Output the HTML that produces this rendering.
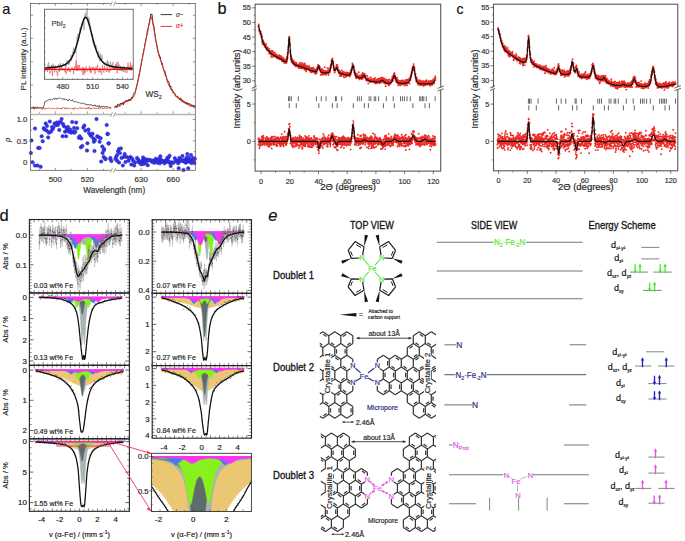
<!DOCTYPE html>
<html><head><meta charset="utf-8"><style>
html,body{margin:0;padding:0;background:#fff;width:685px;height:541px;overflow:hidden}
svg{display:block;font-family:"Liberation Sans", sans-serif}
</style></head><body>
<svg width="685" height="541" viewBox="0 0 685 541">
<rect width="685" height="541" fill="#fff"/>
<text x="2.2" y="13.9" font-size="14.5" text-anchor="start" fill="#111" stroke="#111" stroke-width="0.18" >a</text>
<polyline points="31.0,108.7 31.6,107.5 32.1,107.5 32.7,107.2 33.2,108.3 33.8,106.5 34.3,108.8 34.9,107.4 35.4,108.0 36.0,107.7 36.5,108.6 37.1,106.7 37.6,107.6 38.2,107.6 38.7,108.4 39.3,107.2 39.8,107.7 40.4,107.3 40.9,107.8 41.5,108.1 42.0,107.2 42.6,108.4 43.1,108.3 43.7,106.9 44.2,104.6 44.8,101.8 45.3,101.8 45.9,101.0 46.4,101.0 47.0,101.1 47.5,100.3 48.1,100.2 48.6,99.9 49.2,99.6 49.7,99.6 50.3,99.8 50.8,99.0 51.4,99.5 51.9,100.1 52.5,99.5 53.0,98.9 53.6,98.4 54.1,98.4 54.7,99.6 55.2,98.6 55.8,98.1 56.3,98.4 56.9,99.4 57.4,98.3 58.0,98.6 58.5,98.5 59.1,98.1 59.6,97.7 60.2,98.2 60.7,98.3 61.3,98.8 61.8,98.9 62.4,99.1 62.9,98.8 63.5,99.3 64.0,98.5 64.6,99.7 65.1,99.4 65.7,99.1 66.2,99.7 66.8,99.5 67.3,100.2 67.9,100.6 68.4,101.1 69.0,99.2 69.5,99.3 70.1,99.9 70.6,100.4 71.2,101.0 71.7,100.8 72.3,99.7 72.8,100.8 73.4,101.5 73.9,101.3 74.5,101.8 75.0,101.4 75.6,101.5 76.1,101.9 76.7,102.2 77.2,102.2 77.8,102.3 78.3,102.0 78.9,102.7 79.4,102.7 80.0,103.4 80.5,103.6 81.1,103.1 81.6,102.9 82.2,102.9 82.7,103.6 83.3,103.6 83.8,103.4 84.4,103.8 84.9,103.5 85.5,104.4 86.0,103.9 86.6,104.9 87.1,104.6 87.7,104.8 88.2,104.0 88.8,104.8 89.3,105.3 89.9,104.4 90.4,104.9 91.0,105.2 91.5,104.5 92.1,105.5 92.6,105.9 93.2,105.0 93.7,105.7 94.3,104.9 94.8,105.7 95.4,104.9 95.9,106.5 96.5,106.2 97.0,106.0 97.6,105.7 98.1,106.9 98.7,107.4 99.2,105.4 99.8,107.1 100.3,107.4 100.9,106.7 101.4,105.9 102.0,107.1 102.5,106.5 103.1,106.3 103.6,106.0 104.2,107.0 104.7,107.2 105.3,106.5 105.8,107.1 106.4,106.2 106.9,107.3 107.5,107.0 108.0,106.9 108.6,106.9 109.1,107.5 109.7,107.5 110.2,107.4 110.8,107.2 111.3,107.2" stroke="#222" stroke-width="0.7" fill="none" stroke-linejoin="round" />
<polyline points="31.0,108.6 31.6,108.4 32.1,108.6 32.7,108.2 33.2,107.2 33.8,108.8 34.3,109.3 34.9,108.5 35.4,108.3 36.0,108.2 36.5,108.2 37.1,108.3 37.6,107.8 38.2,108.1 38.7,107.9 39.3,108.4 39.8,108.2 40.4,108.5 40.9,108.2 41.5,108.7 42.0,108.4 42.6,109.3 43.1,107.4 43.7,108.0 44.2,108.7 44.8,109.4 45.3,108.2 45.9,108.3 46.4,108.2 47.0,108.9 47.5,108.2 48.1,108.6 48.6,108.2 49.2,107.7 49.7,108.4 50.3,108.5 50.8,108.9 51.4,108.3 51.9,108.0 52.5,108.6 53.0,108.4 53.6,108.4 54.1,108.3 54.7,108.8 55.2,108.5 55.8,109.2 56.3,108.8 56.9,108.6 57.4,107.6 58.0,108.6 58.5,108.5 59.1,108.7 59.6,108.8 60.2,108.1 60.7,108.7 61.3,108.0 61.8,109.2 62.4,107.7 62.9,107.5 63.5,107.6 64.0,107.9 64.6,107.8 65.1,109.2 65.7,108.2 66.2,107.7 66.8,108.8 67.3,108.0 67.9,107.7 68.4,108.7 69.0,108.6 69.5,108.1 70.1,108.9 70.6,108.4 71.2,109.0 71.7,108.5 72.3,109.0 72.8,108.3 73.4,107.8 73.9,109.4 74.5,108.1 75.0,108.2 75.6,108.0 76.1,108.2 76.7,108.4 77.2,108.4 77.8,108.6 78.3,109.1 78.9,108.2 79.4,107.7 80.0,107.8 80.5,108.0 81.1,107.5 81.6,108.7 82.2,108.1 82.7,108.2 83.3,108.3 83.8,107.7 84.4,107.9 84.9,108.6 85.5,108.6 86.0,108.1 86.6,109.1 87.1,107.7 87.7,108.1 88.2,108.2 88.8,107.0 89.3,109.2 89.9,108.5 90.4,107.8 91.0,109.2 91.5,108.6 92.1,108.5 92.6,108.0 93.2,108.3 93.7,107.6 94.3,108.7 94.8,108.1 95.4,108.4 95.9,108.8 96.5,108.4 97.0,108.4 97.6,108.4 98.1,108.0 98.7,108.7 99.2,109.0 99.8,108.6 100.3,108.7 100.9,107.9 101.4,107.9 102.0,107.7 102.5,108.9 103.1,108.2 103.6,108.9 104.2,107.9 104.7,108.1 105.3,108.3 105.8,108.7 106.4,108.3 106.9,108.4 107.5,108.3 108.0,108.4 108.6,107.8 109.1,108.3 109.7,108.2 110.2,108.3 110.8,108.5 111.3,108.0" stroke="#e8231f" stroke-width="0.7" fill="none" stroke-linejoin="round" />
<polyline points="114.4,107.3 114.9,106.9 115.3,107.1 115.8,107.1 116.2,105.6 116.7,106.5 117.1,107.3 117.6,104.4 118.0,104.6 118.5,104.3 118.9,104.5 119.4,105.7 119.8,104.3 120.3,103.5 120.7,104.3 121.2,103.1 121.6,104.2 122.1,103.4 122.5,104.0 123.0,102.2 123.4,104.8 123.9,102.9 124.3,102.6 124.8,101.9 125.2,101.1 125.7,100.8 126.1,101.1 126.6,100.4 127.0,101.0 127.5,100.0 127.9,100.8 128.4,100.9 128.8,99.4 129.3,100.6 129.7,99.3 130.2,100.1 130.6,99.2 131.1,99.4 131.5,97.4 132.0,97.7 132.4,98.4 132.9,96.3 133.3,94.6 133.8,94.0 134.2,92.7 134.7,91.8 135.1,91.6 135.6,91.2 136.0,88.1 136.5,86.8 136.9,84.7 137.4,82.8 137.8,80.6 138.3,78.5 138.7,76.7 139.2,73.2 139.6,72.6 140.1,70.2 140.5,67.0 141.0,65.4 141.4,62.0 141.9,59.9 142.3,58.1 142.8,55.6 143.2,53.2 143.7,50.7 144.1,48.5 144.6,47.3 145.0,42.8 145.5,42.2 145.9,39.4 146.4,37.7 146.8,35.2 147.3,30.4 147.7,30.5 148.2,28.0 148.6,25.5 149.1,22.9 149.5,21.6 150.0,18.1 150.4,17.0 150.9,14.0 151.3,14.7 151.8,13.8 152.2,15.6 152.7,20.4 153.1,23.2 153.6,25.2 154.0,26.8 154.5,30.5 154.9,34.3 155.4,36.7 155.8,39.7 156.3,42.4 156.7,44.4 157.2,47.0 157.6,48.3 158.1,52.5 158.5,52.4 159.0,54.6 159.4,54.9 159.9,57.6 160.3,56.9 160.8,60.4 161.2,61.1 161.7,64.2 162.1,63.0 162.6,65.5 163.0,67.2 163.5,69.2 163.9,69.4 164.4,71.1 164.8,70.8 165.3,73.1 165.7,75.4 166.2,77.2 166.6,77.5 167.1,80.6 167.5,81.6 168.0,81.5 168.4,80.9 168.9,82.4 169.3,84.1 169.8,86.5 170.2,86.7 170.7,85.8 171.1,88.0 171.6,90.2 172.0,89.5 172.5,89.9 172.9,92.7 173.4,91.9 173.8,92.1 174.3,93.3 174.7,93.7 175.2,93.9 175.6,95.6 176.1,96.0 176.5,96.2 177.0,96.0 177.4,97.3 177.9,96.8 178.3,97.6 178.8,98.4 179.2,98.6 179.7,99.7 180.1,99.1 180.6,97.8 181.0,98.5 181.5,100.7 181.9,99.8 182.4,100.7 182.8,100.1 183.3,101.8 183.7,101.1 184.2,102.8 184.6,101.6 185.1,103.1 185.5,103.0 186.0,102.2 186.4,103.8 186.9,102.6 187.3,102.8 187.8,104.2 188.2,103.4 188.7,103.6 189.1,103.9 189.6,103.6 190.0,105.3 190.5,105.2 190.9,104.8 191.4,104.9 191.8,105.5 192.3,106.6 192.7,106.0 193.2,105.1 193.6,106.2 194.1,105.6 194.5,105.6 195.0,107.3" stroke="#222" stroke-width="0.9" fill="none" stroke-linejoin="round" />
<polyline points="114.4,107.9 114.9,107.6 115.3,106.2 115.8,106.4 116.2,107.5 116.7,106.4 117.1,107.0 117.6,105.6 118.0,105.6 118.5,106.4 118.9,106.7 119.4,105.8 119.8,106.1 120.3,106.2 120.7,105.5 121.2,103.8 121.6,104.2 122.1,104.5 122.5,103.5 123.0,104.0 123.4,102.2 123.9,102.6 124.3,103.4 124.8,101.1 125.2,101.7 125.7,102.4 126.1,100.9 126.6,102.0 127.0,101.1 127.5,101.3 127.9,101.1 128.4,101.2 128.8,100.4 129.3,100.7 129.7,99.9 130.2,100.5 130.6,101.1 131.1,99.6 131.5,99.2 132.0,97.8 132.4,98.7 132.9,97.1 133.3,96.4 133.8,96.8 134.2,95.6 134.7,95.2 135.1,93.9 135.6,90.7 136.0,89.4 136.5,88.8 136.9,86.4 137.4,84.3 137.8,82.7 138.3,79.1 138.7,77.8 139.2,76.1 139.6,73.9 140.1,69.8 140.5,67.8 141.0,66.0 141.4,63.2 141.9,60.9 142.3,59.4 142.8,56.4 143.2,53.1 143.7,52.4 144.1,49.5 144.6,47.0 145.0,44.0 145.5,43.6 145.9,38.8 146.4,36.8 146.8,35.6 147.3,34.4 147.7,32.2 148.2,28.3 148.6,27.0 149.1,24.1 149.5,24.3 150.0,20.4 150.4,19.1 150.9,18.2 151.3,16.8 151.8,19.2 152.2,19.6 152.7,23.0 153.1,25.5 153.6,26.9 154.0,30.5 154.5,32.5 154.9,33.7 155.4,40.8 155.8,41.2 156.3,43.5 156.7,45.0 157.2,48.4 157.6,50.0 158.1,52.6 158.5,53.9 159.0,56.5 159.4,56.6 159.9,58.3 160.3,59.5 160.8,60.5 161.2,61.9 161.7,64.3 162.1,65.5 162.6,65.9 163.0,67.0 163.5,69.2 163.9,71.5 164.4,71.9 164.8,74.6 165.3,74.1 165.7,76.1 166.2,75.4 166.6,78.2 167.1,79.7 167.5,81.6 168.0,83.7 168.4,83.6 168.9,85.7 169.3,86.1 169.8,87.3 170.2,87.1 170.7,89.3 171.1,88.3 171.6,90.3 172.0,89.9 172.5,91.0 172.9,91.0 173.4,92.4 173.8,93.6 174.3,93.9 174.7,93.5 175.2,96.2 175.6,95.8 176.1,96.8 176.5,97.1 177.0,96.5 177.4,95.9 177.9,97.1 178.3,99.1 178.8,97.8 179.2,99.5 179.7,98.8 180.1,99.9 180.6,98.6 181.0,101.2 181.5,100.6 181.9,101.6 182.4,101.4 182.8,102.2 183.3,101.9 183.7,102.8 184.2,101.4 184.6,102.1 185.1,103.7 185.5,103.4 186.0,103.5 186.4,103.8 186.9,104.5 187.3,103.9 187.8,104.9 188.2,104.0 188.7,104.6 189.1,105.8 189.6,106.1 190.0,104.6 190.5,106.2 190.9,105.0 191.4,106.5 191.8,104.6 192.3,105.3 192.7,105.9 193.2,106.3 193.6,107.6 194.1,107.3 194.5,107.9 195.0,107.7" stroke="#e8231f" stroke-width="0.9" fill="none" stroke-linejoin="round" />
<rect x="44.4" y="9.2" width="88.8" height="70.1" stroke="#444" stroke-width="0.75" fill="#fff" />
<polyline points="45.0,67.4 45.5,67.4 46.0,70.0 46.5,68.0 47.0,67.6 47.5,65.2 48.0,67.6 48.5,62.2 49.0,66.8 49.5,65.7 50.0,69.0 50.5,66.6 51.0,66.9 51.5,70.2 52.0,65.3 52.5,68.0 53.0,63.5 53.5,67.4 54.0,68.0 54.5,68.9 55.0,65.2 55.5,67.7 56.0,67.6 56.5,66.8 57.0,67.1 57.5,67.6 58.0,67.4 58.5,64.4 59.0,63.9 59.5,71.6 60.0,70.3 60.5,63.1 61.0,66.9 61.5,67.1 62.0,67.3 62.5,65.8 63.0,63.3 63.5,64.7 64.0,63.8 64.5,65.0 65.0,63.8 65.5,63.8 66.0,66.2 66.5,66.3 67.0,60.4 67.5,61.7 68.0,60.4 68.5,64.8 69.0,61.2 69.5,64.3 70.0,58.9 70.5,59.5 71.0,55.2 71.5,61.1 72.0,56.0 72.5,52.1 73.0,53.3 73.5,47.6 74.0,52.5 74.5,51.6 75.0,50.7 75.5,52.7 76.0,46.0 76.5,47.6 77.0,44.4 77.5,41.1 78.0,33.4 78.5,40.9 79.0,34.3 79.5,34.0 80.0,27.7 80.5,30.8 81.0,28.2 81.5,26.0 82.0,23.6 82.5,26.0 83.0,24.2 83.5,21.9 84.0,30.1 84.5,15.2 85.0,15.4 85.5,12.9 86.0,18.1 86.5,14.5 87.0,8.0 87.5,14.3 88.0,20.1 88.5,24.8 89.0,17.4 89.5,22.5 90.0,25.9 90.5,25.9 91.0,32.0 91.5,32.2 92.0,35.2 92.5,33.8 93.0,42.8 93.5,39.9 94.0,45.6 94.5,42.1 95.0,46.8 95.5,44.7 96.0,45.4 96.5,47.6 97.0,50.8 97.5,51.6 98.0,57.5 98.5,51.4 99.0,52.7 99.5,60.8 100.0,58.9 100.5,53.5 101.0,60.2 101.5,60.2 102.0,55.1 102.5,60.0 103.0,61.3 103.5,63.6 104.0,64.6 104.5,63.0 105.0,65.5 105.5,63.1 106.0,61.8 106.5,62.0 107.0,65.5 107.5,60.2 108.0,66.3 108.5,62.6 109.0,64.4 109.5,66.5 110.0,68.1 110.5,61.5 111.0,64.1 111.5,66.1 112.0,64.8 112.5,68.0 113.0,61.9 113.5,67.2 114.0,67.4 114.5,66.7 115.0,69.0 115.5,64.3 116.0,69.1 116.5,65.5 117.0,68.5 117.5,66.4 118.0,68.8 118.5,68.8 119.0,64.3 119.5,67.0 120.0,67.2 120.5,67.0 121.0,66.0 121.5,71.2 122.0,68.0 122.5,70.7 123.0,66.5 123.5,65.6 124.0,68.0 124.5,66.7 125.0,72.5 125.5,68.3 126.0,70.1 126.5,67.5 127.0,67.3 127.5,67.9 128.0,68.7 128.5,69.7 129.0,67.8 129.5,66.8 130.0,66.1 130.5,68.0 131.0,69.3 131.5,69.1 132.0,68.2 132.5,67.1" stroke="#7a7a7a" stroke-width="0.5" fill="none" stroke-linejoin="round" />
<path d="M76.4 36L76.4 70" stroke="#999" stroke-width="0.45"/>
<polyline points="45.0,69.7 45.5,71.0 46.0,69.2 46.5,69.6 47.0,68.9 47.5,72.0 48.0,68.0 48.5,69.8 49.0,70.4 49.5,71.4 50.0,73.6 50.5,71.3 51.0,71.0 51.5,65.0 52.0,71.1 52.5,76.0 53.0,66.9 53.5,66.3 54.0,68.7 54.5,72.3 55.0,70.8 55.5,67.9 56.0,69.2 56.5,72.3 57.0,71.3 57.5,76.3 58.0,72.2 58.5,70.3 59.0,71.1 59.5,68.3 60.0,66.5 60.5,69.8 61.0,70.7 61.5,65.3 62.0,67.8 62.5,68.2 63.0,70.1 63.5,68.5 64.0,70.6 64.5,69.6 65.0,72.4 65.5,64.3 66.0,74.1 66.5,73.4 67.0,69.4 67.5,71.2 68.0,71.1 68.5,67.2 69.0,69.8 69.5,71.6 70.0,70.2 70.5,72.3 71.0,69.6 71.5,69.5 72.0,67.1 72.5,68.2 73.0,68.0 73.5,74.2 74.0,70.0 74.5,66.4 75.0,70.5 75.5,68.7 76.0,60.4 76.5,70.7 77.0,64.8 77.5,71.0 78.0,66.5 78.5,65.1 79.0,70.7 79.5,65.0 80.0,68.0 80.5,69.9 81.0,71.1 81.5,71.5 82.0,69.2 82.5,66.9 83.0,74.9 83.5,67.5 84.0,74.5 84.5,68.0 85.0,72.7 85.5,72.4 86.0,66.3 86.5,70.3 87.0,71.5 87.5,71.3 88.0,68.7 88.5,70.2 89.0,68.2 89.5,65.9 90.0,72.2 90.5,67.7 91.0,73.3 91.5,71.0 92.0,66.7 92.5,68.8 93.0,68.5 93.5,66.8 94.0,70.8 94.5,67.9 95.0,74.0 95.5,71.8 96.0,66.7 96.5,69.2 97.0,68.6 97.5,64.8 98.0,72.0 98.5,72.1 99.0,72.0 99.5,68.0 100.0,72.4 100.5,68.7 101.0,72.0 101.5,74.6 102.0,69.7 102.5,65.2 103.0,68.4 103.5,71.2 104.0,72.8 104.5,66.0 105.0,68.7 105.5,70.0 106.0,70.6 106.5,71.9 107.0,66.5 107.5,68.1 108.0,72.2 108.5,70.4 109.0,70.6 109.5,72.6 110.0,69.6 110.5,70.8 111.0,68.4 111.5,65.4 112.0,65.5 112.5,69.5 113.0,68.7 113.5,67.4 114.0,70.2 114.5,66.7 115.0,69.6 115.5,69.2 116.0,66.9 116.5,62.6 117.0,73.5 117.5,70.2 118.0,61.6 118.5,68.1 119.0,70.4 119.5,68.6 120.0,71.0 120.5,66.5 121.0,69.8 121.5,69.1 122.0,68.8 122.5,68.7 123.0,69.9 123.5,72.0 124.0,67.8 124.5,68.1 125.0,69.8 125.5,69.0 126.0,70.4 126.5,71.4 127.0,73.0 127.5,69.0 128.0,62.7 128.5,69.1 129.0,70.3 129.5,68.8 130.0,68.9 130.5,62.2 131.0,70.8 131.5,68.4 132.0,64.9 132.5,66.8" stroke="#ee4444" stroke-width="0.55" fill="none" stroke-linejoin="round" />
<polyline points="45.0,68.0 45.5,68.0 46.0,68.0 46.5,68.0 47.0,67.9 47.5,67.9 48.0,67.9 48.5,67.8 49.0,67.8 49.5,67.7 50.0,67.7 50.5,67.6 51.0,67.6 51.5,67.6 52.0,67.5 52.5,67.5 53.0,67.4 53.5,67.3 54.0,67.3 54.5,67.2 55.0,67.2 55.5,67.1 56.0,67.0 56.5,66.9 57.0,66.9 57.5,66.8 58.0,66.7 58.5,66.6 59.0,66.5 59.5,66.4 60.0,66.3 60.5,66.2 61.0,66.0 61.5,65.9 62.0,65.8 62.5,65.6 63.0,65.4 63.5,65.2 64.0,65.0 64.5,64.8 65.0,64.6 65.5,64.3 66.0,64.0 66.5,63.7 67.0,63.3 67.5,62.9 68.0,62.5 68.5,62.0 69.0,61.5 69.5,60.9 70.0,60.3 70.5,59.6 71.0,58.9 71.5,58.1 72.0,57.2 72.5,56.2 73.0,55.2 73.5,54.1 74.0,52.9 74.5,51.6 75.0,50.2 75.5,48.7 76.0,47.2 76.5,45.6 77.0,43.9 77.5,42.1 78.0,40.2 78.5,38.3 79.0,36.4 79.5,34.4 80.0,32.4 80.5,30.4 81.0,28.4 81.5,26.5 82.0,24.6 82.5,22.9 83.0,21.4 83.5,20.0 84.0,18.9 84.5,18.1 85.0,17.5 85.5,17.3 86.0,17.4 86.5,17.8 87.0,18.5 87.5,19.5 88.0,20.8 88.5,22.3 89.0,23.9 89.5,25.7 90.0,27.6 90.5,29.6 91.0,31.6 91.5,33.6 92.0,35.6 92.5,37.5 93.0,39.5 93.5,41.3 94.0,43.2 94.5,44.9 95.0,46.6 95.5,48.1 96.0,49.6 96.5,51.0 97.0,52.3 97.5,53.6 98.0,54.7 98.5,55.8 99.0,56.8 99.5,57.7 100.0,58.5 100.5,59.3 101.0,60.0 101.5,60.7 102.0,61.3 102.5,61.8 103.0,62.3 103.5,62.7 104.0,63.2 104.5,63.5 105.0,63.9 105.5,64.2 106.0,64.4 106.5,64.7 107.0,64.9 107.5,65.2 108.0,65.3 108.5,65.5 109.0,65.7 109.5,65.8 110.0,66.0 110.5,66.1 111.0,66.2 111.5,66.4 112.0,66.5 112.5,66.6 113.0,66.7 113.5,66.7 114.0,66.8 114.5,66.9 115.0,67.0 115.5,67.1 116.0,67.1 116.5,67.2 117.0,67.3 117.5,67.3 118.0,67.4 118.5,67.4 119.0,67.5 119.5,67.5 120.0,67.6 120.5,67.6 121.0,67.7 121.5,67.7 122.0,67.8 122.5,67.8 123.0,67.8 123.5,67.9 124.0,67.9 124.5,67.9 125.0,68.0 125.5,68.0 126.0,68.0 126.5,68.1 127.0,68.1 127.5,68.1 128.0,68.1 128.5,68.2 129.0,68.2 129.5,68.2 130.0,68.2 130.5,68.3 131.0,68.3 131.5,68.3 132.0,68.3 132.5,68.4" stroke="#111" stroke-width="1.5" fill="none" stroke-linejoin="round" />
<path d="M44.4 69.3L133.2 69.3" stroke="#ee1111" stroke-width="1.3"/>
<path d="M52.85 79.3L52.85 78.1M57.82 79.3L57.82 78.1M62.8 79.3L62.8 77.1M67.77 79.3L67.77 78.1M72.75 79.3L72.75 78.1M77.72 79.3L77.72 78.1M82.7 79.3L82.7 78.1M87.67 79.3L87.67 78.1M92.65 79.3L92.65 77.1M97.62 79.3L97.62 78.1M102.6 79.3L102.6 78.1M107.57 79.3L107.57 78.1M112.55 79.3L112.55 78.1M117.53 79.3L117.53 78.1M122.5 79.3L122.5 77.1M127.47 79.3L127.47 78.1M132.45 79.3L132.45 78.1M44.4 15.2L45.6 15.2M44.4 21.4L45.6 21.4M44.4 27.6L45.6 27.6M44.4 33.8L45.6 33.8M44.4 40L45.6 40M44.4 46.2L45.6 46.2M44.4 52.4L45.6 52.4M44.4 58.6L45.6 58.6M44.4 64.8L45.6 64.8M44.4 71L45.6 71M44.4 77.2L45.6 77.2" stroke="#444" stroke-width="0.5"/>
<text x="62.8" y="88.7" font-size="7.6" text-anchor="middle" fill="#333" stroke="#333" stroke-width="0.18" >480</text>
<text x="92.65" y="88.7" font-size="7.6" text-anchor="middle" fill="#333" stroke="#333" stroke-width="0.18" >510</text>
<text x="122.5" y="88.7" font-size="7.6" text-anchor="middle" fill="#333" stroke="#333" stroke-width="0.18" >540</text>
<text x="51.4" y="26.3" font-size="7.6" text-anchor="start" fill="#444" stroke="#444" stroke-width="0.18" >PbI<tspan font-size="5.2" dy="1.6">2</tspan></text>
<path d="M160.6 14.6L172.2 14.6" stroke="#222" stroke-width="0.9"/>
<text x="176" y="16.6" font-size="6.3" text-anchor="start" fill="#444" stroke="#444" stroke-width="0.18" font-style="italic">σ−</text>
<path d="M160.6 26.4L172.2 26.4" stroke="#e8231f" stroke-width="0.9"/>
<text x="176" y="28.4" font-size="6.3" text-anchor="start" fill="#e8231f" stroke="#e8231f" stroke-width="0.18" font-style="italic">σ+</text>
<text x="145.5" y="97.3" font-size="8.2" text-anchor="start" fill="#333" stroke="#333" stroke-width="0.18" >WS<tspan font-size="5.4" dy="1.8">2</tspan></text>
<g fill="#3434f2" stroke="#2222b0" stroke-width="0.45">
<circle cx="30.9" cy="153" r="1.75"/>
<circle cx="31.5" cy="140.4" r="1.75"/>
<circle cx="32.5" cy="162.2" r="1.75"/>
<circle cx="35" cy="128.6" r="1.75"/>
<circle cx="35" cy="165.6" r="1.75"/>
<circle cx="37.6" cy="165.6" r="1.75"/>
<circle cx="38.2" cy="147.9" r="1.75"/>
<circle cx="39.6" cy="147.9" r="1.75"/>
<circle cx="40.7" cy="166.8" r="1.75"/>
<circle cx="41.7" cy="136.3" r="1.75"/>
<circle cx="42.7" cy="141.2" r="1.75"/>
<circle cx="43.7" cy="128.2" r="1.75"/>
<circle cx="44.7" cy="129.6" r="1.75"/>
<circle cx="45.7" cy="123.5" r="1.75"/>
<circle cx="46.7" cy="130.6" r="1.75"/>
<circle cx="48.2" cy="137.4" r="1.75"/>
<circle cx="48.8" cy="132.7" r="1.75"/>
<circle cx="49.8" cy="121.5" r="1.75"/>
<circle cx="50.8" cy="131.7" r="1.75"/>
<circle cx="52.4" cy="129.6" r="1.75"/>
<circle cx="53.3" cy="127.6" r="1.75"/>
<circle cx="54.5" cy="123.5" r="1.75"/>
<circle cx="55.9" cy="125" r="1.75"/>
<circle cx="56.9" cy="122.5" r="1.75"/>
<circle cx="57.9" cy="125" r="1.75"/>
<circle cx="58.9" cy="122.5" r="1.75"/>
<circle cx="59.3" cy="130" r="1.75"/>
<circle cx="60.6" cy="122.1" r="1.75"/>
<circle cx="61.6" cy="119.1" r="1.75"/>
<circle cx="62.6" cy="136.3" r="1.75"/>
<circle cx="64" cy="126.2" r="1.75"/>
<circle cx="65" cy="131.7" r="1.75"/>
<circle cx="66.1" cy="136.3" r="1.75"/>
<circle cx="67.1" cy="130.6" r="1.75"/>
<circle cx="69.1" cy="131.7" r="1.75"/>
<circle cx="70.1" cy="129.6" r="1.75"/>
<circle cx="71.1" cy="132.7" r="1.75"/>
<circle cx="72.2" cy="121.9" r="1.75"/>
<circle cx="72.8" cy="131.7" r="1.75"/>
<circle cx="74.2" cy="132.7" r="1.75"/>
<circle cx="75.2" cy="131.7" r="1.75"/>
<circle cx="76.2" cy="122.5" r="1.75"/>
<circle cx="77.2" cy="128.2" r="1.75"/>
<circle cx="78.9" cy="137.8" r="1.75"/>
<circle cx="79.7" cy="136.3" r="1.75"/>
<circle cx="80.9" cy="147.3" r="1.75"/>
<circle cx="81.3" cy="138.4" r="1.75"/>
<circle cx="82.3" cy="145.9" r="1.75"/>
<circle cx="83.3" cy="127.6" r="1.75"/>
<circle cx="84.3" cy="125.6" r="1.75"/>
<circle cx="85.4" cy="130.6" r="1.75"/>
<circle cx="87" cy="150.6" r="1.75"/>
<circle cx="87.4" cy="143.3" r="1.75"/>
<circle cx="88.4" cy="129.6" r="1.75"/>
<circle cx="90.4" cy="135.1" r="1.75"/>
<circle cx="91.5" cy="136.3" r="1.75"/>
<circle cx="92.5" cy="133.7" r="1.75"/>
<circle cx="93.5" cy="138.8" r="1.75"/>
<circle cx="93.9" cy="141.8" r="1.75"/>
<circle cx="94.5" cy="151" r="1.75"/>
<circle cx="96.5" cy="119.1" r="1.75"/>
<circle cx="97.2" cy="136.3" r="1.75"/>
<circle cx="98.6" cy="137.2" r="1.75"/>
<circle cx="99.6" cy="141.8" r="1.75"/>
<circle cx="100.6" cy="138.2" r="1.75"/>
<circle cx="101.2" cy="161.5" r="1.75"/>
<circle cx="102.6" cy="153" r="1.75"/>
<circle cx="103.7" cy="157.1" r="1.75"/>
<circle cx="104.1" cy="148.9" r="1.75"/>
<circle cx="105.3" cy="159.1" r="1.75"/>
<circle cx="106.7" cy="125" r="1.75"/>
<circle cx="107.7" cy="133.7" r="1.75"/>
<circle cx="108.7" cy="143.3" r="1.75"/>
<circle cx="110.4" cy="159.1" r="1.75"/>
<circle cx="111.4" cy="161.1" r="1.75"/>
<circle cx="102.3" cy="146.5" r="1.75"/>
<circle cx="103.8" cy="150.3" r="1.75"/>
<circle cx="105.7" cy="158.8" r="1.75"/>
<circle cx="110.4" cy="157.9" r="1.75"/>
<circle cx="108.5" cy="143.6" r="1.75"/>
<circle cx="107.6" cy="134.2" r="1.75"/>
<circle cx="66.5" cy="128" r="1.75"/>
<circle cx="63" cy="124" r="1.75"/>
<circle cx="68" cy="127" r="1.75"/>
<circle cx="52" cy="127" r="1.75"/>
<circle cx="47" cy="126" r="1.75"/>
<circle cx="74" cy="128" r="1.75"/>
<circle cx="89" cy="133" r="1.75"/>
<circle cx="95" cy="140" r="1.75"/>
<circle cx="116.1" cy="156.9" r="1.75"/>
<circle cx="117.1" cy="155" r="1.75"/>
<circle cx="118" cy="151.2" r="1.75"/>
<circle cx="119" cy="149" r="1.75"/>
<circle cx="120.9" cy="148.4" r="1.75"/>
<circle cx="119.9" cy="153.1" r="1.75"/>
<circle cx="117.1" cy="160.7" r="1.75"/>
<circle cx="119" cy="162.6" r="1.75"/>
<circle cx="122.8" cy="165.5" r="1.75"/>
<circle cx="123.7" cy="156.9" r="1.75"/>
<circle cx="124.7" cy="154.1" r="1.75"/>
<circle cx="126.6" cy="156.9" r="1.75"/>
<circle cx="128.5" cy="160.7" r="1.75"/>
<circle cx="130.4" cy="156.9" r="1.75"/>
<circle cx="131.3" cy="164.5" r="1.75"/>
<circle cx="133.2" cy="160.7" r="1.75"/>
<circle cx="134.2" cy="165.5" r="1.75"/>
<circle cx="137" cy="157.9" r="1.75"/>
<circle cx="115.5" cy="159" r="1.75"/>
<circle cx="121.5" cy="158" r="1.75"/>
<circle cx="125.5" cy="162" r="1.75"/>
<circle cx="129" cy="158" r="1.75"/>
<circle cx="132" cy="158.5" r="1.75"/>
<circle cx="135" cy="162.5" r="1.75"/>
<circle cx="138" cy="159.32" r="1.75"/>
<circle cx="138.5" cy="162.04" r="1.75"/>
<circle cx="139.15" cy="161.5" r="1.75"/>
<circle cx="140.3" cy="161.81" r="1.75"/>
<circle cx="140.8" cy="163.97" r="1.75"/>
<circle cx="141.45" cy="162.82" r="1.75"/>
<circle cx="141.95" cy="164.15" r="1.75"/>
<circle cx="142.6" cy="160.32" r="1.75"/>
<circle cx="143.1" cy="157.43" r="1.75"/>
<circle cx="143.75" cy="163.75" r="1.75"/>
<circle cx="144.25" cy="159.91" r="1.75"/>
<circle cx="144.9" cy="159.87" r="1.75"/>
<circle cx="145.4" cy="163.04" r="1.75"/>
<circle cx="146.05" cy="159.31" r="1.75"/>
<circle cx="147.2" cy="160.76" r="1.75"/>
<circle cx="147.7" cy="165.17" r="1.75"/>
<circle cx="148.35" cy="160" r="1.75"/>
<circle cx="149.5" cy="159.98" r="1.75"/>
<circle cx="150.65" cy="160.31" r="1.75"/>
<circle cx="151.8" cy="161.76" r="1.75"/>
<circle cx="152.95" cy="160.59" r="1.75"/>
<circle cx="154.1" cy="162.86" r="1.75"/>
<circle cx="155.25" cy="160.84" r="1.75"/>
<circle cx="155.75" cy="158.65" r="1.75"/>
<circle cx="156.4" cy="161.47" r="1.75"/>
<circle cx="156.9" cy="160.94" r="1.75"/>
<circle cx="157.55" cy="162.78" r="1.75"/>
<circle cx="158.7" cy="159.93" r="1.75"/>
<circle cx="159.2" cy="158.85" r="1.75"/>
<circle cx="159.85" cy="163.34" r="1.75"/>
<circle cx="160.35" cy="156.35" r="1.75"/>
<circle cx="161" cy="159.76" r="1.75"/>
<circle cx="161.5" cy="161.17" r="1.75"/>
<circle cx="162.15" cy="161.47" r="1.75"/>
<circle cx="163.3" cy="161.15" r="1.75"/>
<circle cx="164.45" cy="163.32" r="1.75"/>
<circle cx="165.6" cy="160.43" r="1.75"/>
<circle cx="166.1" cy="161.11" r="1.75"/>
<circle cx="166.75" cy="161.86" r="1.75"/>
<circle cx="167.25" cy="158.09" r="1.75"/>
<circle cx="167.9" cy="160.72" r="1.75"/>
<circle cx="168.4" cy="157.44" r="1.75"/>
<circle cx="169.05" cy="161.95" r="1.75"/>
<circle cx="169.55" cy="155.69" r="1.75"/>
<circle cx="170.2" cy="163.19" r="1.75"/>
<circle cx="170.7" cy="165.91" r="1.75"/>
<circle cx="171.35" cy="162.41" r="1.75"/>
<circle cx="172.5" cy="162.58" r="1.75"/>
<circle cx="173.65" cy="162.71" r="1.75"/>
<circle cx="174.8" cy="158.18" r="1.75"/>
<circle cx="175.95" cy="160.63" r="1.75"/>
<circle cx="177.1" cy="161.29" r="1.75"/>
<circle cx="177.6" cy="160.94" r="1.75"/>
<circle cx="178.25" cy="163.24" r="1.75"/>
<circle cx="178.75" cy="161.31" r="1.75"/>
<circle cx="179.4" cy="157.88" r="1.75"/>
<circle cx="180.55" cy="160.81" r="1.75"/>
<circle cx="181.7" cy="159.66" r="1.75"/>
<circle cx="182.85" cy="161.34" r="1.75"/>
<circle cx="184" cy="160.36" r="1.75"/>
<circle cx="185.15" cy="161.47" r="1.75"/>
<circle cx="185.65" cy="162.64" r="1.75"/>
<circle cx="186.3" cy="158.65" r="1.75"/>
<circle cx="186.8" cy="157.75" r="1.75"/>
<circle cx="187.45" cy="161.09" r="1.75"/>
<circle cx="187.95" cy="161.68" r="1.75"/>
<circle cx="188.6" cy="157.86" r="1.75"/>
<circle cx="189.1" cy="160.01" r="1.75"/>
<circle cx="189.75" cy="161.15" r="1.75"/>
<circle cx="190.25" cy="161.59" r="1.75"/>
<circle cx="190.9" cy="159.71" r="1.75"/>
<circle cx="191.4" cy="163.01" r="1.75"/>
<circle cx="192.05" cy="161.71" r="1.75"/>
<circle cx="193.2" cy="160.75" r="1.75"/>
<circle cx="194.35" cy="163.01" r="1.75"/>
<circle cx="194.85" cy="158.78" r="1.75"/>
<circle cx="178.7" cy="168.3" r="1.75"/>
<circle cx="183.5" cy="170" r="1.75"/>
<circle cx="188.2" cy="168.3" r="1.75"/>
<circle cx="187.3" cy="154.1" r="1.75"/>
<circle cx="182.5" cy="156" r="1.75"/>
<circle cx="191" cy="155" r="1.75"/>
<circle cx="193" cy="158" r="1.75"/>
</g>
<rect x="30.5" y="3.6" width="164.8" height="166.7" stroke="#555" stroke-width="0.75" fill="none" />
<path d="M30.5 114.5L195.3 114.5" stroke="#b5b5b5" stroke-width="1.6"/>
<rect x="110.4" y="2.4" width="5.2" height="2.4" stroke="none" stroke-width="0" fill="#fff" />
<path d="M110.4 5.8L112.4 1.4M113.6 5.8L115.6 1.4" stroke="#555" stroke-width="0.6"/>
<rect x="110.4" y="113.3" width="5.2" height="2.4" stroke="none" stroke-width="0" fill="#fff" />
<path d="M110.4 116.7L112.4 112.3M113.6 116.7L115.6 112.3" stroke="#555" stroke-width="0.6"/>
<rect x="110.4" y="169.1" width="5.2" height="2.4" stroke="none" stroke-width="0" fill="#fff" />
<path d="M110.4 172.5L112.4 168.1M113.6 172.5L115.6 168.1M39.25 170.3L39.25 168.9M39.25 113.7L39.25 112.3M39.25 3.6L39.25 5M55.3 170.3L55.3 167.9M55.3 113.7L55.3 111.3M55.3 3.6L55.3 6M71.35 170.3L71.35 168.9M71.35 113.7L71.35 112.3M71.35 3.6L71.35 5M87.4 170.3L87.4 167.9M87.4 113.7L87.4 111.3M87.4 3.6L87.4 6M103.45 170.3L103.45 168.9M103.45 113.7L103.45 112.3M103.45 3.6L103.45 5M125.19 170.3L125.19 168.9M125.19 113.7L125.19 112.3M125.19 3.6L125.19 5M141.2 170.3L141.2 167.9M141.2 113.7L141.2 111.3M141.2 3.6L141.2 6M157.2 170.3L157.2 168.9M157.2 113.7L157.2 112.3M157.2 3.6L157.2 5M173.21 170.3L173.21 167.9M173.21 113.7L173.21 111.3M173.21 3.6L173.21 6M189.21 170.3L189.21 168.9M189.21 113.7L189.21 112.3M189.21 3.6L189.21 5M30.5 15.2L33.1 15.2M195.3 15.2L192.7 15.2M30.5 26.8L32 26.8M195.3 26.8L193.8 26.8M30.5 38.3L33.1 38.3M195.3 38.3L192.7 38.3M30.5 49.9L32 49.9M195.3 49.9L193.8 49.9M30.5 61.9L33.1 61.9M195.3 61.9L192.7 61.9M30.5 73.9L32 73.9M195.3 73.9L193.8 73.9M30.5 85L33.1 85M195.3 85L192.7 85M30.5 96.8L32 96.8M195.3 96.8L193.8 96.8M30.5 119.5L33.1 119.5M195.3 119.5L192.7 119.5M30.5 130.17L32 130.17M195.3 130.17L193.8 130.17M30.5 140.85L33.1 140.85M195.3 140.85L192.7 140.85M30.5 151.52L32 151.52M195.3 151.52L193.8 151.52M30.5 162.2L33.1 162.2M195.3 162.2L192.7 162.2" stroke="#555" stroke-width="0.6"/>
<text x="27.4" y="122.2" font-size="7.7" text-anchor="end" fill="#333" stroke="#333" stroke-width="0.18" >1.0</text>
<text x="27.4" y="143.5" font-size="7.7" text-anchor="end" fill="#333" stroke="#333" stroke-width="0.18" >0.5</text>
<text x="27.4" y="164.9" font-size="7.7" text-anchor="end" fill="#333" stroke="#333" stroke-width="0.18" >0</text>
<text x="9.8" y="139.8" font-size="7.5" text-anchor="middle" fill="#333" stroke="#333" stroke-width="0.18" transform="rotate(-90 9.8 139.8)" font-style="italic">ρ</text>
<text x="55.3" y="182" font-size="7.9" text-anchor="middle" fill="#333" stroke="#333" stroke-width="0.18" >500</text>
<text x="87.4" y="182" font-size="7.9" text-anchor="middle" fill="#333" stroke="#333" stroke-width="0.18" >520</text>
<text x="141.2" y="182" font-size="7.9" text-anchor="middle" fill="#333" stroke="#333" stroke-width="0.18" >630</text>
<text x="173.21" y="182" font-size="7.9" text-anchor="middle" fill="#333" stroke="#333" stroke-width="0.18" >660</text>
<text x="114.2" y="192.9" font-size="8.3" text-anchor="middle" fill="#333" stroke="#333" stroke-width="0.18" textLength="61.9" lengthAdjust="spacingAndGlyphs">Wavelength (nm)</text>
<text x="25.8" y="59.1" font-size="8.1" text-anchor="middle" fill="#333" stroke="#333" stroke-width="0.18" transform="rotate(-90 25.8 59.1)" textLength="62.9" lengthAdjust="spacingAndGlyphs">PL intensity (a.u.)</text>
<text x="217.6" y="14" font-size="16.3" text-anchor="start" fill="#111" stroke="#111" stroke-width="0.18" >b</text>
<path d="M258.4 26.2h0M258.6 25.4h0M258.8 24.5h0M258.8 26.3h0M259.2 30.7h0M259.0 26.2h0M259.3 30.2h0M259.2 29.0h0M259.5 30.4h0M259.6 31.5h0M259.9 31.9h0M259.9 31.6h0M260.0 31.7h0M260.0 30.7h0M260.3 32.2h0M260.4 34.4h0M260.5 33.0h0M260.6 31.7h0M261.0 33.2h0M260.7 33.3h0M261.1 34.2h0M261.2 34.2h0M261.3 33.9h0M261.4 33.8h0M261.7 37.7h0M261.5 36.9h0M261.9 36.0h0M261.9 36.1h0M262.2 37.0h0M262.1 41.9h0M262.3 39.9h0M262.4 44.1h0M262.6 39.8h0M262.6 40.8h0M262.9 41.6h0M263.0 42.1h0M263.2 40.6h0M263.1 42.5h0M263.4 41.4h0M263.4 41.9h0M263.7 42.6h0M263.6 42.5h0M264.0 43.5h0M263.9 44.9h0M264.2 43.0h0M264.3 43.2h0M264.4 44.6h0M264.6 43.7h0M264.6 43.6h0M264.8 46.7h0M265.0 45.5h0M265.0 45.9h0M265.3 47.0h0M265.2 45.3h0M265.5 47.3h0M265.4 46.5h0M265.6 46.1h0M265.8 46.3h0M266.0 46.7h0M266.1 44.2h0M266.4 48.4h0M266.3 47.3h0M266.4 49.3h0M266.5 47.2h0M266.8 46.9h0M266.7 46.7h0M267.2 49.6h0M267.2 49.2h0M267.4 47.4h0M267.3 49.1h0M267.6 48.0h0M267.5 50.4h0M267.8 47.6h0M267.8 48.1h0M268.1 49.2h0M268.1 50.8h0M268.2 50.1h0M268.3 49.8h0M268.5 49.9h0M268.5 50.3h0M268.8 50.7h0M268.8 50.2h0M269.1 48.9h0M269.2 53.5h0M269.4 52.9h0M269.4 53.1h0M269.6 52.2h0M269.7 53.7h0M270.0 50.9h0M269.9 51.5h0M270.2 52.2h0M270.3 52.8h0M270.3 51.8h0M270.5 52.0h0M270.6 51.9h0M270.7 53.3h0M271.0 51.8h0M271.0 54.6h0M271.1 51.1h0M271.2 56.9h0M271.3 53.7h0M271.4 54.6h0M271.8 52.2h0M271.7 55.1h0M272.0 51.0h0M272.0 55.4h0M272.3 50.9h0M272.3 52.9h0M272.3 53.5h0M272.4 53.1h0M272.7 50.9h0M272.6 52.6h0M273.0 56.9h0M273.0 52.4h0M273.3 53.9h0M273.4 56.3h0M273.4 53.2h0M273.4 55.8h0M273.8 54.2h0M273.7 54.1h0M273.9 55.4h0M274.0 53.7h0M274.2 56.0h0M274.3 54.5h0M274.6 55.7h0M274.4 55.1h0M274.8 52.5h0M274.9 54.9h0M275.2 56.7h0M275.0 55.3h0M275.2 56.3h0M275.4 55.4h0M275.7 55.3h0M275.5 55.3h0M275.8 55.5h0M275.9 56.4h0M276.2 55.3h0M276.0 54.4h0M276.4 56.8h0M276.4 56.1h0M276.6 56.0h0M276.5 54.4h0M276.7 54.7h0M276.8 57.2h0M277.2 56.3h0M277.0 58.3h0M277.2 57.7h0M277.3 56.5h0M277.5 55.8h0M277.5 55.4h0M277.8 57.1h0M277.9 58.6h0M278.2 56.5h0M278.1 57.2h0M278.3 56.5h0M278.4 56.9h0M278.7 56.3h0M278.8 56.4h0M279.0 56.3h0M278.9 57.9h0M279.1 56.1h0M279.3 58.2h0M279.5 57.6h0M279.4 55.2h0M279.8 57.4h0M279.8 59.4h0M280.0 56.0h0M280.1 56.7h0M280.1 56.5h0M280.2 57.8h0M280.4 57.7h0M280.4 58.5h0M280.8 59.4h0M280.6 56.3h0M281.0 59.1h0M280.9 59.1h0M281.2 59.3h0M281.2 56.3h0M281.4 57.7h0M281.5 59.4h0M281.8 59.1h0M281.7 58.4h0M282.1 58.1h0M281.9 61.3h0M282.2 58.2h0M282.2 59.7h0M282.5 60.4h0M282.5 60.0h0M282.9 58.7h0M282.9 57.5h0M283.0 59.6h0M283.0 59.1h0M283.2 61.1h0M283.3 59.4h0M283.5 59.1h0M283.6 62.1h0M283.9 61.0h0M283.8 59.2h0M284.1 62.8h0M284.1 60.9h0M284.4 59.8h0M284.2 62.7h0M284.7 61.2h0M284.7 60.6h0M284.9 59.6h0M284.8 62.4h0M285.2 59.4h0M285.2 60.5h0M285.4 59.3h0M285.3 59.4h0M285.8 60.5h0M285.8 60.3h0M285.9 63.2h0M285.9 62.7h0M286.0 62.2h0M286.3 61.1h0M286.5 59.1h0M286.4 62.8h0M286.7 60.3h0M286.6 61.9h0M286.9 61.6h0M286.9 57.6h0M287.2 58.1h0M287.1 56.7h0M287.5 54.6h0M287.4 58.2h0M287.7 57.5h0M287.6 53.0h0M288.0 52.2h0M288.0 52.7h0M288.3 47.5h0M288.2 49.6h0M288.6 44.7h0M288.4 46.8h0M288.8 39.9h0M288.8 40.7h0M288.9 37.7h0M289.0 38.6h0M289.3 37.8h0M289.2 36.6h0M289.6 39.4h0M289.5 37.1h0M289.9 43.8h0M289.9 43.4h0M289.9 45.9h0M290.1 44.5h0M290.2 50.9h0M290.4 50.3h0M290.6 54.3h0M290.5 52.4h0M290.9 55.4h0M290.7 56.6h0M291.1 57.9h0M291.0 59.5h0M291.2 56.4h0M291.4 59.7h0M291.6 61.9h0M291.7 61.0h0M291.9 58.9h0M291.8 58.5h0M292.2 59.6h0M292.0 61.9h0M292.2 61.5h0M292.4 59.4h0M292.6 62.8h0M292.6 62.3h0M293.0 63.5h0M292.8 63.6h0M293.2 60.9h0M293.2 61.6h0M293.3 62.0h0M293.3 61.8h0M293.6 61.5h0M293.8 61.0h0M293.9 63.1h0M293.8 63.5h0M294.1 64.6h0M294.3 61.9h0M294.3 64.1h0M294.5 65.4h0M294.6 63.9h0M294.8 63.6h0M294.9 62.7h0M294.8 62.4h0M295.3 64.9h0M295.2 65.0h0M295.5 64.5h0M295.5 65.7h0M295.6 64.3h0M295.6 63.5h0M295.9 64.2h0M295.9 66.4h0M296.1 65.9h0M296.1 62.7h0M296.6 65.9h0M296.4 63.5h0M296.7 63.8h0M296.6 65.0h0M296.9 66.0h0M297.1 64.4h0M297.4 66.0h0M297.3 65.0h0M297.4 64.7h0M297.6 65.9h0M297.7 65.2h0M297.8 65.4h0M298.0 66.7h0M298.1 65.3h0M298.4 66.0h0M298.3 67.5h0M298.5 65.7h0M298.6 65.6h0M298.9 66.1h0M298.9 68.1h0M299.1 64.4h0M299.0 64.5h0M299.3 64.6h0M299.3 65.1h0M299.6 67.2h0M299.7 65.4h0M299.8 66.8h0M299.9 62.8h0M300.1 66.4h0M300.2 64.9h0M300.3 67.8h0M300.4 67.4h0M300.5 66.6h0M300.5 64.9h0M301.0 65.3h0M300.8 65.6h0M301.2 68.5h0M301.1 64.6h0M301.3 67.3h0M301.5 64.0h0M301.5 63.7h0M301.7 65.1h0M301.8 64.9h0M302.0 68.0h0M302.1 62.9h0M302.1 66.1h0M302.5 65.2h0M302.4 67.6h0M302.7 66.6h0M302.7 68.1h0M302.8 66.9h0M303.0 66.7h0M303.3 66.4h0M303.1 64.9h0M303.5 66.2h0M303.4 66.5h0M303.8 66.9h0M303.6 64.3h0M304.0 67.8h0M304.1 65.5h0M304.3 69.8h0M304.1 68.3h0M304.6 66.8h0M304.4 67.4h0M304.8 63.4h0M304.8 64.0h0M304.9 69.4h0M305.1 68.9h0M305.3 67.8h0M305.3 65.3h0M305.6 66.2h0M305.5 67.2h0M305.7 69.6h0M305.7 68.9h0M306.1 71.4h0M306.0 69.9h0M306.3 67.4h0M306.3 66.9h0M306.5 69.8h0M306.4 67.9h0M306.8 66.0h0M306.8 68.0h0M307.1 68.7h0M307.2 67.5h0M307.3 67.7h0M307.4 68.3h0M307.6 69.2h0M307.5 69.0h0M307.8 68.5h0M308.0 69.4h0M308.1 66.9h0M308.2 67.5h0M308.5 67.4h0M308.3 66.1h0M308.8 66.9h0M308.7 67.0h0M308.9 68.5h0M308.9 69.3h0M309.1 66.1h0M309.2 70.0h0M309.3 70.0h0M309.5 70.4h0M309.7 69.0h0M309.6 68.7h0M309.9 68.0h0M310.0 69.7h0M310.3 71.8h0M310.2 69.1h0M310.4 68.3h0M310.4 69.5h0M310.8 69.9h0M310.6 68.9h0M311.1 67.9h0M311.0 69.9h0M311.1 71.7h0M311.2 70.6h0M311.5 70.1h0M311.5 72.3h0M311.8 69.0h0M311.9 71.0h0M311.9 69.4h0M311.9 69.8h0M312.2 70.6h0M312.3 68.0h0M312.5 71.0h0M312.4 71.1h0M312.8 69.9h0M312.9 69.3h0M313.1 70.4h0M313.1 71.7h0M313.4 69.6h0M313.4 69.7h0M313.4 67.8h0M313.6 70.9h0M313.7 70.3h0M313.7 71.3h0M314.0 72.6h0M314.2 70.6h0M314.3 69.6h0M314.3 72.1h0M314.5 71.7h0M314.7 72.4h0M314.9 69.1h0M314.7 71.7h0M315.0 70.1h0M315.1 72.0h0M315.3 70.8h0M315.4 71.7h0M315.5 74.0h0M315.6 70.8h0M316.0 70.2h0M315.9 73.6h0M316.0 71.1h0M316.0 71.4h0M316.4 72.2h0M316.4 71.0h0M316.6 73.1h0M316.6 70.2h0M316.9 68.7h0M316.8 71.9h0M317.2 69.5h0M317.2 67.7h0M317.4 68.9h0M317.5 69.5h0M317.7 69.3h0M317.7 67.8h0M317.9 67.4h0M317.9 66.3h0M318.3 67.9h0M318.3 64.6h0M318.5 66.0h0M318.3 65.0h0M318.7 66.4h0M318.7 67.1h0M318.9 66.4h0M318.9 67.0h0M319.1 66.8h0M319.1 65.6h0M319.6 66.5h0M319.5 67.5h0M319.8 69.5h0M319.6 68.8h0M319.9 68.4h0M319.9 67.5h0M320.1 70.3h0M320.1 70.0h0M320.6 71.8h0M320.6 70.5h0M320.7 69.7h0M320.7 74.8h0M321.1 71.1h0M321.0 72.0h0M321.2 74.5h0M321.3 71.1h0M321.5 71.7h0M321.6 71.2h0M321.9 73.5h0M321.8 68.9h0M322.1 71.7h0M322.0 72.2h0M322.3 69.9h0M322.4 71.0h0M322.5 70.8h0M322.6 70.4h0M322.9 74.7h0M322.8 69.8h0M323.2 72.5h0M323.1 71.6h0M323.3 70.8h0M323.5 73.0h0M323.5 71.6h0M323.7 71.1h0M323.8 72.1h0M323.8 71.4h0M324.1 74.2h0M324.1 73.7h0M324.3 73.6h0M324.3 71.6h0M324.6 67.2h0M324.8 71.8h0M325.0 72.4h0M324.9 72.2h0M325.3 70.9h0M325.3 71.2h0M325.4 73.7h0M325.3 70.8h0M325.7 72.2h0M325.6 71.1h0M325.8 74.8h0M326.1 74.2h0M326.3 71.4h0M326.2 74.5h0M326.5 71.7h0M326.5 71.7h0M326.8 72.0h0M326.7 71.7h0M327.0 71.8h0M326.9 71.6h0M327.2 72.7h0M327.2 72.1h0M327.4 68.2h0M327.4 70.6h0M327.7 71.2h0M327.8 71.5h0M327.9 72.9h0M328.1 71.7h0M328.3 72.2h0M328.3 70.6h0M328.6 73.0h0M328.4 75.0h0M328.7 72.5h0M328.9 70.7h0M329.1 68.2h0M328.9 70.2h0M329.4 72.4h0M329.2 71.6h0M329.5 72.3h0M329.4 71.3h0M329.8 71.7h0M329.8 72.6h0M330.2 68.8h0M330.0 69.6h0M330.2 69.5h0M330.3 68.7h0M330.5 65.7h0M330.5 68.2h0M330.8 67.1h0M330.8 65.4h0M331.0 67.6h0M331.1 64.2h0M331.3 65.1h0M331.4 64.2h0M331.6 61.8h0M331.5 60.1h0M331.9 61.4h0M331.8 59.5h0M332.1 59.2h0M332.0 61.7h0M332.5 58.5h0M332.3 60.6h0M332.8 62.7h0M332.6 61.2h0M332.8 62.0h0M333.0 61.1h0M333.2 64.4h0M333.3 61.8h0M333.3 63.8h0M333.5 66.1h0M333.8 67.7h0M333.6 65.6h0M333.9 70.1h0M334.0 70.4h0M334.1 69.3h0M334.3 67.9h0M334.5 69.0h0M334.5 69.3h0M334.7 69.9h0M334.7 72.5h0M334.9 70.2h0M334.9 72.1h0M335.3 68.6h0M335.4 69.7h0M335.4 69.7h0M335.4 69.1h0M335.6 68.8h0M335.7 68.7h0M336.1 67.7h0M335.9 69.3h0M336.3 69.4h0M336.3 67.2h0M336.6 65.0h0M336.4 65.9h0M336.7 67.1h0M336.8 65.9h0M337.0 67.4h0M337.0 66.3h0M337.4 68.5h0M337.3 67.4h0M337.4 65.3h0M337.6 67.3h0M337.9 67.5h0M337.9 70.5h0M337.9 70.5h0M338.2 70.3h0M338.2 69.7h0M338.4 71.1h0M338.6 70.0h0M338.7 72.2h0M338.9 69.9h0M338.7 70.2h0M339.2 73.5h0M339.0 71.2h0M339.5 72.6h0M339.2 70.8h0M339.6 73.1h0M339.7 72.0h0M339.8 71.7h0M339.9 76.1h0M340.2 75.1h0M340.2 72.5h0M340.5 72.9h0M340.4 71.4h0M340.6 72.5h0M340.6 74.5h0M340.9 72.5h0M340.8 73.9h0M341.2 73.3h0M341.1 73.7h0M341.3 72.6h0M341.5 75.0h0M341.8 74.7h0M341.6 76.1h0M341.9 70.4h0M342.0 74.6h0M342.2 74.5h0M342.1 74.8h0M342.5 74.2h0M342.6 74.0h0M342.6 72.6h0M342.8 73.3h0M343.0 73.1h0M342.9 74.3h0M343.3 73.7h0M343.1 72.0h0M343.5 73.7h0M343.5 73.2h0M343.7 76.3h0M343.9 73.0h0M344.1 73.4h0M343.9 72.0h0M344.2 77.4h0M344.2 73.7h0M344.5 74.0h0M344.5 73.7h0M344.8 74.7h0M344.9 73.7h0M345.1 73.1h0M344.9 73.9h0M345.3 74.4h0M345.3 74.3h0M345.5 74.6h0M345.5 74.0h0M345.8 75.0h0M345.9 76.7h0M346.0 72.4h0M346.0 76.4h0M346.3 74.3h0M346.2 75.9h0M346.6 74.6h0M346.6 75.5h0M347.0 74.3h0M346.9 75.4h0M347.0 76.0h0M347.0 73.9h0M347.4 72.6h0M347.4 73.9h0M347.5 74.2h0M347.7 75.7h0M347.9 74.5h0M348.0 73.8h0M348.2 75.2h0M348.3 73.2h0M348.5 74.4h0M348.5 73.9h0M348.6 75.0h0M348.6 75.0h0M348.8 74.1h0M349.0 73.8h0M349.1 73.9h0M349.2 75.6h0M349.4 75.2h0M349.5 74.2h0M349.7 76.5h0M349.6 72.8h0M349.9 73.5h0M349.8 73.9h0M350.2 74.6h0M350.2 72.5h0M350.4 73.8h0M350.6 70.5h0M350.7 72.2h0M350.7 74.8h0M351.1 70.8h0M350.9 73.0h0M351.2 72.0h0M351.4 71.0h0M351.4 70.5h0M351.6 69.5h0M351.7 68.4h0M351.8 68.3h0M352.1 68.4h0M351.9 69.8h0M352.2 67.7h0M352.3 65.9h0M352.6 64.2h0M352.4 63.4h0M352.8 66.7h0M352.9 64.7h0M353.0 65.2h0M353.1 65.6h0M353.2 65.1h0M353.3 65.8h0M353.6 67.0h0M353.6 67.6h0M353.9 67.7h0M353.9 67.0h0M354.1 67.5h0M354.2 70.4h0M354.4 72.5h0M354.3 70.8h0M354.7 73.3h0M354.6 70.5h0M354.8 73.7h0M354.8 72.4h0M355.2 75.6h0M355.2 74.2h0M355.3 73.8h0M355.4 72.4h0M355.5 75.6h0M355.6 74.4h0M355.9 78.1h0M355.9 76.9h0M356.1 76.6h0M356.0 76.1h0M356.4 75.3h0M356.5 75.1h0M356.7 78.3h0M356.6 75.4h0M356.9 77.8h0M357.0 73.9h0M357.3 76.1h0M357.2 76.2h0M357.5 76.8h0M357.4 76.6h0M357.6 76.6h0M357.7 77.6h0M358.0 75.8h0M358.1 76.5h0M358.2 75.9h0M358.3 77.0h0M358.4 76.0h0M358.5 77.9h0M358.7 72.3h0M358.7 78.0h0M358.9 77.7h0M359.0 75.8h0M359.3 75.6h0M359.3 78.2h0M359.6 79.4h0M359.5 79.1h0M359.9 78.6h0M359.8 78.3h0M360.1 77.5h0M360.0 75.9h0M360.3 75.9h0M360.2 78.1h0M360.4 76.6h0M360.7 76.1h0M360.8 75.4h0M360.7 77.5h0M361.1 78.2h0M361.2 76.2h0M361.4 75.1h0M361.4 77.8h0M361.7 74.4h0M361.6 74.8h0M361.8 77.3h0M361.7 79.0h0M362.0 77.5h0M362.1 77.1h0M362.5 75.6h0M362.2 78.8h0M362.7 72.9h0M362.7 73.0h0M362.9 76.7h0M362.8 78.4h0M363.0 75.9h0M363.2 74.9h0M363.4 73.4h0M363.4 74.3h0M363.6 75.3h0M363.5 77.7h0M364.0 74.2h0M364.0 73.8h0M364.3 75.4h0M364.2 74.6h0M364.4 74.8h0M364.5 75.5h0M364.6 76.8h0M364.7 75.0h0M364.9 77.6h0M364.9 73.9h0M365.3 77.6h0M365.2 75.6h0M365.6 77.9h0M365.5 76.3h0M365.7 77.4h0M365.6 76.4h0M365.8 78.5h0M366.0 79.8h0M366.3 78.5h0M366.2 78.4h0M366.5 80.4h0M366.6 79.4h0M366.7 80.9h0M366.9 78.7h0M367.1 79.5h0M367.0 78.9h0M367.3 75.8h0M367.1 78.9h0M367.5 78.9h0M367.6 78.6h0M367.7 79.7h0M367.7 80.3h0M367.9 78.5h0M367.9 78.3h0M368.2 83.6h0M368.4 80.1h0M368.5 80.4h0M368.6 80.7h0M368.8 78.4h0M368.8 80.8h0M369.1 79.1h0M369.1 80.9h0M369.2 80.8h0M369.3 79.3h0M369.6 81.4h0M369.7 80.6h0M369.8 81.9h0M369.8 81.6h0M370.1 79.5h0M370.0 79.7h0M370.4 82.0h0M370.5 82.1h0M370.6 77.2h0M370.6 81.4h0M370.8 81.7h0M370.9 79.9h0M371.3 81.7h0M371.1 81.1h0M371.3 79.5h0M371.3 79.4h0M371.7 81.0h0M371.7 79.0h0M371.9 81.0h0M371.9 81.1h0M372.2 80.8h0M372.1 81.2h0M372.5 80.2h0M372.4 80.5h0M372.6 81.9h0M372.8 80.7h0M372.9 81.6h0M372.9 81.7h0M373.1 81.1h0M373.2 79.6h0M373.4 80.6h0M373.4 79.3h0M373.7 79.0h0M373.7 81.1h0M373.9 81.8h0M374.0 82.1h0M374.3 80.7h0M374.2 79.9h0M374.5 79.0h0M374.5 82.8h0M374.8 79.9h0M374.6 79.7h0M375.1 78.0h0M375.1 80.9h0M375.3 81.2h0M375.3 83.2h0M375.6 82.3h0M375.5 82.7h0M375.7 82.6h0M375.7 82.4h0M376.1 83.3h0M376.1 81.4h0M376.4 80.8h0M376.4 80.3h0M376.5 81.4h0M376.5 79.9h0M376.9 79.9h0M376.8 83.3h0M377.0 81.7h0M377.2 83.0h0M377.3 82.6h0M377.3 81.1h0M377.6 81.5h0M377.5 79.4h0M377.8 78.7h0M377.9 80.8h0M378.2 81.6h0M378.1 81.5h0M378.3 81.3h0M378.4 80.6h0M378.6 82.2h0M378.6 80.5h0M378.8 81.6h0M379.0 79.8h0M379.1 79.4h0M379.0 78.9h0M379.5 81.3h0M379.5 82.9h0M379.6 83.3h0M379.6 81.4h0M379.9 82.8h0M380.0 83.0h0M380.1 81.3h0M380.2 82.1h0M380.4 79.7h0M380.5 78.0h0M380.7 80.8h0M380.7 80.1h0M381.0 82.3h0M381.0 80.0h0M381.1 81.1h0M381.2 81.5h0M381.6 82.3h0M381.5 77.8h0M381.7 81.9h0M381.8 81.3h0M381.9 79.7h0M382.0 79.3h0M382.3 79.3h0M382.2 79.5h0M382.6 80.9h0M382.6 78.7h0M382.8 79.6h0M382.7 81.7h0M382.9 77.8h0M383.0 80.4h0M383.3 79.0h0M383.3 82.1h0M383.6 82.1h0M383.5 81.1h0M383.9 81.7h0M383.9 79.4h0M384.1 83.1h0M384.0 80.6h0M384.2 82.4h0M384.2 80.4h0M384.5 81.0h0M384.6 82.2h0M384.8 78.7h0M384.9 81.7h0M385.0 80.3h0M385.0 83.5h0M385.4 82.2h0M385.5 81.9h0M385.5 81.9h0M385.7 82.6h0M385.9 83.3h0M385.7 86.2h0M386.1 83.1h0M386.1 83.5h0M386.3 82.7h0M386.5 81.3h0M386.7 79.6h0M386.5 81.7h0M386.9 81.2h0M386.8 81.7h0M387.3 81.7h0M387.2 81.8h0M387.4 83.0h0M387.3 83.1h0M387.6 82.2h0M387.7 80.3h0M387.9 81.7h0M388.0 80.6h0M388.1 84.4h0M388.2 82.4h0M388.3 82.2h0M388.4 82.0h0M388.8 84.5h0M388.6 85.1h0M389.0 85.4h0M388.9 83.2h0M389.3 79.5h0M389.2 82.3h0M389.4 84.1h0M389.5 82.1h0M389.8 82.9h0M389.6 82.3h0M389.9 83.0h0M389.9 84.1h0M390.3 83.0h0M390.4 81.3h0M390.6 81.8h0M390.5 80.6h0M390.6 83.5h0M390.8 80.7h0M391.0 81.8h0M391.0 81.7h0M391.3 80.0h0M391.4 81.7h0M391.4 81.1h0M391.5 80.5h0M391.9 79.9h0M391.7 80.0h0M392.0 78.9h0M392.0 79.9h0M392.4 80.3h0M392.2 76.9h0M392.5 79.5h0M392.6 78.6h0M392.9 79.1h0M392.9 81.0h0M393.1 78.6h0M393.2 77.1h0M393.3 76.2h0M393.3 76.6h0M393.6 74.9h0M393.6 74.5h0M393.8 74.0h0M393.8 75.4h0M394.2 74.6h0M394.1 75.1h0M394.4 75.9h0M394.5 73.0h0M394.6 76.6h0M394.6 75.1h0M394.9 75.4h0M394.8 78.2h0M395.0 75.1h0M395.2 77.0h0M395.4 76.9h0M395.3 77.4h0M395.6 80.0h0M395.7 78.1h0M396.0 79.0h0M395.9 77.6h0M396.1 78.8h0M396.3 82.0h0M396.4 78.6h0M396.5 79.3h0M396.6 79.5h0M396.8 80.2h0M397.0 82.1h0M397.0 80.4h0M397.2 81.8h0M397.2 77.6h0M397.5 81.9h0M397.5 83.1h0M397.8 82.3h0M397.6 79.8h0M398.0 82.7h0M398.1 85.2h0M398.2 80.1h0M398.4 81.7h0M398.5 82.8h0M398.5 81.2h0M398.9 83.4h0M398.8 83.7h0M399.0 81.0h0M399.1 83.0h0M399.4 81.6h0M399.2 82.3h0M399.6 81.3h0M399.6 82.2h0M399.8 85.1h0M399.8 81.5h0M400.2 83.1h0M400.2 81.3h0M400.3 82.3h0M400.3 80.6h0M400.7 82.9h0M400.5 85.2h0M400.7 82.9h0M400.8 81.8h0M401.1 83.0h0M401.0 83.1h0M401.3 80.6h0M401.3 82.7h0M401.6 81.2h0M401.5 82.4h0M401.8 84.5h0M401.8 83.8h0M402.1 83.0h0M402.0 82.2h0M402.5 83.7h0M402.4 84.4h0M402.5 83.9h0M402.7 83.3h0M403.0 83.8h0M402.9 83.4h0M403.0 80.2h0M403.2 82.2h0M403.5 83.7h0M403.5 82.6h0M403.7 80.5h0M403.7 81.7h0M403.9 82.7h0M403.9 84.4h0M404.1 84.8h0M404.3 83.0h0M404.5 82.7h0M404.4 84.7h0M404.6 84.3h0M404.7 82.6h0M405.0 85.4h0M404.9 84.8h0M405.1 82.6h0M405.2 81.8h0M405.4 82.1h0M405.5 81.2h0M405.8 80.4h0M405.7 81.3h0M406.1 82.7h0M406.1 79.6h0M406.2 80.1h0M406.2 81.1h0M406.5 83.4h0M406.4 81.8h0M406.8 85.0h0M406.9 82.6h0M407.0 85.4h0M407.1 82.7h0M407.3 80.7h0M407.2 82.1h0M407.6 79.8h0M407.6 82.0h0M407.9 81.7h0M407.9 82.2h0M408.2 81.0h0M408.1 81.8h0M408.3 80.0h0M408.2 79.5h0M408.6 80.9h0M408.5 82.9h0M408.7 80.5h0M408.9 79.3h0M409.0 80.2h0M409.0 80.6h0M409.4 79.2h0M409.4 78.8h0M409.6 83.6h0M409.7 78.0h0M409.8 78.7h0M409.8 79.1h0M410.1 79.7h0M410.0 78.9h0M410.4 77.3h0M410.5 79.9h0M410.7 76.1h0M410.8 77.0h0M410.8 74.9h0M410.9 75.6h0M411.3 75.1h0M411.3 74.8h0M411.5 73.1h0M411.5 73.7h0M411.6 72.3h0M411.6 74.0h0M411.8 73.6h0M412.1 71.5h0M412.2 72.0h0M412.3 70.2h0M412.3 68.7h0M412.5 70.3h0M412.7 68.9h0M412.6 66.9h0M413.0 67.1h0M413.0 66.4h0M413.3 67.7h0M413.3 67.4h0M413.5 66.6h0M413.6 64.1h0M413.7 66.0h0M413.9 69.3h0M414.0 67.0h0M414.0 66.2h0M414.4 68.7h0M414.2 70.2h0M414.5 70.3h0M414.6 67.8h0M414.9 73.5h0M414.7 71.1h0M414.9 73.6h0M415.1 75.1h0M415.3 75.4h0M415.4 73.6h0M415.5 74.2h0M415.6 77.5h0M415.9 78.1h0M415.9 78.7h0M416.1 81.2h0M416.1 77.6h0M416.4 77.1h0M416.4 77.4h0M416.5 80.2h0M416.6 78.2h0M416.9 79.2h0M416.9 81.1h0M417.0 80.8h0M417.1 81.4h0M417.5 81.3h0M417.4 79.2h0M417.5 82.9h0M417.6 83.4h0M418.0 81.0h0M418.0 82.1h0M418.2 84.8h0M418.0 83.5h0M418.3 83.5h0M418.3 83.2h0M418.6 82.1h0M418.5 81.2h0M419.0 82.9h0M419.0 82.5h0M419.2 83.7h0M419.3 81.5h0M419.3 81.0h0M419.4 83.2h0M419.7 83.9h0M419.7 80.2h0M419.9 81.7h0M420.1 84.1h0M420.2 85.2h0M420.2 83.4h0M420.4 81.4h0M420.5 83.7h0M420.6 83.4h0M420.7 83.7h0M421.0 82.2h0M421.0 81.2h0M421.3 84.8h0M421.1 83.5h0M421.5 83.4h0M421.6 83.9h0M421.9 84.7h0M421.8 82.0h0M421.9 82.9h0M421.9 82.2h0M422.2 81.1h0M422.4 83.6h0M422.5 82.4h0M422.5 83.7h0M422.7 83.3h0M422.9 82.7h0M423.1 83.4h0M423.1 85.1h0M423.2 81.2h0M423.2 83.0h0M423.7 84.7h0M423.5 86.1h0M423.9 83.2h0M423.9 82.3h0M424.0 81.8h0M424.0 81.7h0M424.4 83.6h0M424.2 82.3h0M424.7 85.2h0M424.5 82.9h0M424.8 81.9h0M424.9 83.9h0M425.0 83.3h0M425.2 83.0h0M425.4 82.9h0M425.3 81.2h0M425.6 84.5h0M425.6 81.3h0M426.0 84.7h0M425.8 84.0h0M426.1 84.1h0M426.2 83.2h0M426.5 83.7h0M426.5 82.4h0M426.6 83.1h0M426.6 80.2h0M427.0 82.5h0M427.0 83.4h0M427.2 82.6h0M427.3 82.3h0M427.4 83.3h0M427.5 84.5h0M427.8 84.1h0M427.7 82.8h0M428.0 81.9h0M427.8 82.4h0M428.3 83.1h0M428.3 82.2h0M428.5 83.6h0M428.5 82.6h0M428.6 81.1h0M428.8 81.5h0M429.0 81.2h0M429.0 83.4h0M429.2 82.7h0M429.3 84.3h0M429.4 81.7h0M429.6 83.5h0M429.6 84.6h0M429.7 83.6h0M430.0 82.6h0M430.0 85.8h0M430.4 84.7h0M430.2 81.6h0M430.6 82.7h0M430.4 82.9h0M430.8 85.0h0M430.8 80.8h0M431.0 81.5h0M431.1 81.9h0M431.3 84.3h0M431.3 82.1h0M431.6 81.3h0M431.5 83.2h0M432.0 83.1h0M431.8 83.4h0M432.2 82.0h0M432.0 83.1h0M432.5 83.1h0M432.2 84.7h0M432.5 84.8h0M432.5 81.4h0M432.9 80.1h0M432.8 81.2h0M433.1 80.2h0M433.2 82.6h0M433.3 81.9h0M433.4 81.2h0M433.6 81.6h0M433.6 79.3h0M434.0 82.7h0M433.9 81.9h0M434.1 81.3h0M434.2 81.6h0M434.5 79.3h0M434.3 83.2h0M434.6 78.8h0M434.8 78.8h0M434.9 79.5h0M434.9 78.0h0M435.2 76.5h0M435.3 79.2h0M435.4 78.3h0M435.5 78.8h0" stroke="#ee2a24" stroke-width="1.9" stroke-linecap="round" fill="none"/>
<polyline points="258.5,25.9 258.8,26.9 259.0,27.8 259.3,28.8 259.6,29.8 259.8,30.8 260.1,31.8 260.3,32.7 260.6,33.7 260.8,34.7 261.1,35.7 261.4,36.7 261.6,37.7 261.9,38.6 262.1,39.6 262.4,40.6 262.6,41.6 262.9,42.5 263.2,43.0 263.4,43.4 263.7,43.9 263.9,44.3 264.2,44.7 264.5,45.2 264.7,45.6 265.0,46.0 265.2,46.5 265.5,46.9 265.7,47.4 266.0,47.8 266.3,48.2 266.5,48.7 266.8,49.1 267.0,49.4 267.3,49.7 267.6,49.9 267.8,50.2 268.1,50.5 268.3,50.7 268.6,51.0 268.8,51.3 269.1,51.5 269.4,51.8 269.6,52.0 269.9,52.3 270.1,52.6 270.4,52.8 270.7,53.1 270.9,53.3 271.2,53.6 271.4,53.7 271.7,53.9 271.9,54.1 272.2,54.2 272.5,54.4 272.7,54.5 273.0,54.7 273.2,54.8 273.5,55.0 273.8,55.1 274.0,55.3 274.3,55.5 274.5,55.6 274.8,55.8 275.0,55.9 275.3,56.1 275.6,56.2 275.8,56.4 276.1,56.5 276.3,56.7 276.6,56.8 276.9,57.0 277.1,57.1 277.4,57.2 277.6,57.4 277.9,57.5 278.1,57.7 278.4,57.8 278.7,58.0 278.9,58.1 279.2,58.2 279.4,58.4 279.7,58.5 280.0,58.7 280.2,58.8 280.5,58.9 280.7,59.1 281.0,59.3 281.2,59.5 281.5,59.6 281.8,59.8 282.0,60.0 282.3,60.1 282.5,60.3 282.8,60.4 283.1,60.6 283.3,60.8 283.6,60.9 283.8,61.0 284.1,61.2 284.3,61.3 284.6,61.4 284.9,61.5 285.1,61.6 285.4,61.6 285.6,61.7 285.9,61.7 286.2,61.5 286.4,61.2 286.7,60.8 286.9,60.1 287.2,59.1 287.4,57.7 287.7,55.7 288.0,53.0 288.2,49.6 288.5,45.7 288.7,41.8 289.0,38.8 289.3,37.9 289.5,39.4 289.8,42.7 290.0,46.7 290.3,50.5 290.5,53.8 290.8,56.3 291.1,58.2 291.3,59.6 291.6,60.5 291.8,61.3 292.1,61.8 292.4,62.2 292.6,62.6 292.9,62.9 293.1,63.2 293.4,63.4 293.6,63.6 293.9,63.8 294.2,64.0 294.4,64.2 294.7,64.3 294.9,64.5 295.2,64.7 295.5,64.8 295.7,64.9 296.0,65.0 296.2,65.1 296.5,65.2 296.7,65.3 297.0,65.4 297.3,65.5 297.5,65.6 297.8,65.7 298.0,65.8 298.3,65.9 298.6,66.0 298.8,66.0 299.1,66.1 299.3,66.2 299.6,66.3 299.8,66.4 300.1,66.5 300.4,66.5 300.6,66.6 300.9,66.7 301.1,66.8 301.4,66.9 301.7,66.9 301.9,67.0 302.2,67.1 302.4,67.2 302.7,67.3 302.9,67.4 303.2,67.5 303.5,67.6 303.7,67.7 304.0,67.8 304.2,67.9 304.5,68.0 304.8,68.1 305.0,68.2 305.3,68.3 305.5,68.4 305.8,68.5 306.0,68.6 306.3,68.7 306.6,68.8 306.8,68.9 307.1,69.0 307.3,69.1 307.6,69.2 307.9,69.3 308.1,69.4 308.4,69.5 308.6,69.6 308.9,69.7 309.1,69.8 309.4,69.9 309.7,70.0 309.9,70.1 310.2,70.2 310.4,70.3 310.7,70.4 311.0,70.5 311.2,70.6 311.5,70.6 311.7,70.7 312.0,70.8 312.2,70.9 312.5,71.0 312.8,71.1 313.0,71.1 313.3,71.2 313.5,71.3 313.8,71.3 314.1,71.4 314.3,71.5 314.6,71.5 314.8,71.6 315.1,71.6 315.3,71.7 315.6,71.7 315.9,71.6 316.1,71.6 316.4,71.5 316.6,71.2 316.9,70.9 317.2,70.4 317.4,69.7 317.7,68.8 317.9,67.9 318.2,66.9 318.4,66.3 318.7,66.1 319.0,66.6 319.2,67.4 319.5,68.4 319.7,69.3 320.0,70.2 320.3,70.9 320.5,71.4 320.8,71.8 321.0,72.0 321.3,72.2 321.5,72.4 321.8,72.5 322.1,72.5 322.3,72.6 322.6,72.6 322.8,72.7 323.1,72.7 323.4,72.8 323.6,72.8 323.9,72.8 324.1,72.8 324.4,72.9 324.6,72.9 324.9,72.9 325.2,72.9 325.4,72.9 325.7,72.9 325.9,72.9 326.2,72.9 326.4,72.9 326.7,72.9 327.0,72.9 327.2,72.8 327.5,72.8 327.7,72.8 328.0,72.7 328.3,72.6 328.5,72.5 328.8,72.4 329.0,72.2 329.3,72.0 329.5,71.6 329.8,71.2 330.1,70.5 330.3,69.7 330.6,68.6 330.8,67.3 331.1,65.8 331.4,64.1 331.6,62.5 331.9,61.1 332.1,60.3 332.4,60.2 332.6,60.9 332.9,62.2 333.2,63.8 333.4,65.4 333.7,66.9 333.9,68.2 334.2,69.2 334.5,69.9 334.7,70.4 335.0,70.6 335.2,70.5 335.5,70.2 335.7,69.7 336.0,69.1 336.3,68.3 336.5,67.7 336.8,67.4 337.0,67.6 337.3,68.2 337.6,69.0 337.8,69.9 338.1,70.7 338.3,71.4 338.6,72.0 338.8,72.4 339.1,72.7 339.4,73.0 339.6,73.1 339.9,73.2 340.1,73.3 340.4,73.5 340.7,73.6 340.9,73.7 341.2,73.8 341.4,73.8 341.7,73.9 341.9,74.0 342.2,74.1 342.5,74.1 342.7,74.2 343.0,74.2 343.2,74.3 343.5,74.4 343.8,74.4 344.0,74.5 344.3,74.5 344.5,74.6 344.8,74.6 345.0,74.7 345.3,74.7 345.6,74.8 345.8,74.8 346.1,74.8 346.3,74.9 346.6,74.9 346.9,74.9 347.1,75.0 347.4,75.0 347.6,75.0 347.9,75.0 348.1,75.1 348.4,75.1 348.7,75.1 348.9,75.0 349.2,75.0 349.4,74.9 349.7,74.8 350.0,74.6 350.2,74.3 350.5,73.9 350.7,73.4 351.0,72.7 351.2,71.8 351.5,70.8 351.8,69.6 352.0,68.3 352.3,67.1 352.5,66.1 352.8,65.5 353.1,65.5 353.3,66.2 353.6,67.3 353.8,68.6 354.1,70.0 354.3,71.3 354.6,72.5 354.9,73.5 355.1,74.3 355.4,75.0 355.6,75.5 355.9,76.0 356.2,76.3 356.4,76.5 356.7,76.8 356.9,76.9 357.2,77.1 357.4,77.2 357.7,77.3 358.0,77.4 358.2,77.5 358.5,77.6 358.7,77.7 359.0,77.7 359.3,77.8 359.5,77.9 359.8,77.9 360.0,77.9 360.3,78.0 360.5,78.0 360.8,77.9 361.1,77.9 361.3,77.8 361.6,77.7 361.8,77.5 362.1,77.3 362.4,77.1 362.6,76.8 362.9,76.5 363.1,76.2 363.4,75.9 363.6,75.6 363.9,75.5 364.2,75.5 364.4,75.7 364.7,76.0 364.9,76.4 365.2,76.9 365.5,77.4 365.7,77.8 366.0,78.3 366.2,78.7 366.5,79.0 366.7,79.3 367.0,79.6 367.3,79.8 367.5,80.0 367.8,80.2 368.0,80.3 368.3,80.5 368.6,80.6 368.8,80.7 369.1,80.8 369.3,80.9 369.6,81.0 369.8,81.1 370.1,81.1 370.4,81.2 370.6,81.2 370.9,81.2 371.1,81.3 371.4,81.3 371.7,81.4 371.9,81.4 372.2,81.4 372.4,81.5 372.7,81.5 372.9,81.5 373.2,81.6 373.5,81.6 373.7,81.6 374.0,81.7 374.2,81.7 374.5,81.7 374.8,81.8 375.0,81.8 375.3,81.8 375.5,81.9 375.8,81.9 376.0,81.9 376.3,81.9 376.6,81.9 376.8,82.0 377.1,82.0 377.3,82.0 377.6,82.0 377.9,82.0 378.1,82.0 378.4,82.0 378.6,81.9 378.9,81.9 379.1,81.8 379.4,81.8 379.7,81.7 379.9,81.6 380.2,81.4 380.4,81.3 380.7,81.1 381.0,80.9 381.2,80.7 381.5,80.6 381.7,80.4 382.0,80.3 382.2,80.3 382.5,80.3 382.8,80.5 383.0,80.6 383.3,80.9 383.5,81.1 383.8,81.4 384.1,81.6 384.3,81.9 384.6,82.1 384.8,82.3 385.1,82.5 385.3,82.6 385.6,82.8 385.9,82.9 386.1,83.0 386.4,83.1 386.6,83.2 386.9,83.2 387.2,83.3 387.4,83.4 387.7,83.4 387.9,83.4 388.2,83.4 388.4,83.4 388.7,83.4 389.0,83.3 389.2,83.3 389.5,83.3 389.7,83.2 390.0,83.1 390.2,83.0 390.5,82.9 390.8,82.8 391.0,82.6 391.3,82.4 391.5,82.1 391.8,81.7 392.1,81.2 392.3,80.6 392.6,79.9 392.8,79.1 393.1,78.3 393.3,77.4 393.6,76.6 393.9,75.9 394.1,75.5 394.4,75.5 394.6,75.8 394.9,76.5 395.2,77.3 395.4,78.1 395.7,79.0 395.9,79.7 396.2,80.4 396.4,81.0 396.7,81.5 397.0,81.8 397.2,82.1 397.5,82.4 397.7,82.6 398.0,82.7 398.3,82.8 398.5,82.9 398.8,83.0 399.0,83.1 399.3,83.1 399.5,83.1 399.8,83.2 400.1,83.2 400.3,83.2 400.6,83.3 400.8,83.3 401.1,83.3 401.4,83.3 401.6,83.3 401.9,83.4 402.1,83.4 402.4,83.4 402.6,83.4 402.9,83.4 403.2,83.4 403.4,83.4 403.7,83.4 403.9,83.4 404.2,83.4 404.5,83.4 404.7,83.3 405.0,83.3 405.2,83.3 405.5,83.2 405.7,83.2 406.0,83.2 406.3,83.1 406.5,83.1 406.8,83.0 407.0,82.9 407.3,82.9 407.6,82.8 407.8,82.7 408.1,82.5 408.3,82.4 408.6,82.2 408.8,82.0 409.1,81.7 409.4,81.4 409.6,80.9 409.9,80.4 410.1,79.8 410.4,79.1 410.7,78.2 410.9,77.3 411.2,76.1 411.4,74.9 411.7,73.5 411.9,72.1 412.2,70.7 412.5,69.3 412.7,68.1 413.0,67.3 413.2,66.8 413.5,66.9 413.8,67.5 414.0,68.4 414.3,69.7 414.5,71.1 414.8,72.6 415.0,74.1 415.3,75.5 415.6,76.8 415.8,78.0 416.1,79.0 416.3,79.9 416.6,80.7 416.9,81.3 417.1,81.8 417.4,82.3 417.6,82.6 417.9,82.9 418.1,83.1 418.4,83.3 418.7,83.4 418.9,83.5 419.2,83.6 419.4,83.7 419.7,83.7 420.0,83.8 420.2,83.8 420.5,83.9 420.7,83.9 421.0,83.9 421.2,83.9 421.5,83.9 421.8,84.0 422.0,84.0 422.3,84.0 422.5,84.0 422.8,84.0 423.1,84.0 423.3,84.0 423.6,84.0 423.8,84.0 424.1,84.0 424.3,84.0 424.6,84.0 424.9,84.0 425.1,84.0 425.4,84.0 425.6,84.0 425.9,83.9 426.2,83.9 426.4,83.9 426.7,83.9 426.9,83.9 427.2,83.9 427.4,83.9 427.7,83.9 428.0,83.9 428.2,83.8 428.5,83.8 428.7,83.8 429.0,83.8 429.3,83.8 429.5,83.8 429.8,83.8 430.0,83.7 430.3,83.7 430.5,83.7 430.8,83.7 431.1,83.7 431.3,83.7 431.6,83.6 431.8,83.6 432.1,83.6 432.4,83.6 432.6,83.4 432.9,83.1 433.1,82.8 433.4,82.5 433.6,82.2 433.9,81.9 434.2,81.6 434.4,81.3 434.7,81.0 434.9,80.7 435.2,80.4 435.5,80.1" stroke="#111" stroke-width="1.15" fill="none" stroke-linejoin="round" />
<path d="M288.6 96.3L288.6 101.2M289.7 96.3L289.7 101.2M291.3 96.3L291.3 101.2M298.3 96.3L298.3 101.2M316.4 96.3L316.4 101.2M321.3 96.3L321.3 101.2M326 96.3L326 101.2M335.4 96.3L335.4 101.2M336.3 96.3L336.3 101.2M341.7 96.3L341.7 101.2M357.4 96.3L357.4 101.2M359.3 96.3L359.3 101.2M361.4 96.3L361.4 101.2M369.1 96.3L369.1 101.2M370.8 96.3L370.8 101.2M374.2 96.3L374.2 101.2M375.7 96.3L375.7 101.2M378.6 96.3L378.6 101.2M386.3 96.3L386.3 101.2M393.2 96.3L393.2 101.2M400.5 96.3L400.5 101.2M402.4 96.3L402.4 101.2M404.4 96.3L404.4 101.2M407 96.3L407 101.2M410.3 96.3L410.3 101.2M419.7 96.3L419.7 101.2M420.9 96.3L420.9 101.2M422.4 96.3L422.4 101.2M423.8 96.3L423.8 101.2M426.3 96.3L426.3 101.2M435.1 96.3L435.1 101.2M289.3 103.2L289.3 108.2M296.3 103.2L296.3 108.2M318.8 103.2L318.8 108.2M332.4 103.2L332.4 108.2M337.1 103.2L337.1 108.2M353.3 103.2L353.3 108.2M364.4 103.2L364.4 108.2M368.4 103.2L368.4 108.2M383.4 103.2L383.4 108.2M394.3 103.2L394.3 108.2M412.9 103.2L412.9 108.2M425 103.2L425 108.2M429.4 103.2L429.4 108.2" stroke="#333" stroke-width="0.75"/>
<path d="M258.5 139.0h0M258.6 144.8h0M258.7 142.1h0M258.6 138.3h0M259.0 140.5h0M258.9 139.0h0M259.2 141.5h0M259.1 142.8h0M259.3 142.6h0M259.5 142.0h0M259.6 140.7h0M259.5 148.2h0M259.9 146.2h0M259.7 141.1h0M260.1 139.4h0M260.1 142.9h0M260.3 141.1h0M260.2 143.9h0M260.5 144.7h0M260.5 140.7h0M260.6 141.3h0M260.8 142.4h0M260.9 144.5h0M260.8 140.9h0M261.1 141.3h0M261.0 141.8h0M261.3 141.4h0M261.3 142.1h0M261.5 139.8h0M261.5 140.1h0M261.7 136.5h0M261.8 137.5h0M261.9 141.3h0M262.0 144.4h0M262.2 139.5h0M262.2 142.7h0M262.4 137.2h0M262.3 145.0h0M262.5 142.3h0M262.5 137.2h0M262.9 141.2h0M262.8 139.3h0M263.0 139.5h0M263.0 142.5h0M263.2 139.0h0M263.2 143.5h0M263.6 142.0h0M263.4 135.7h0M263.6 141.7h0M263.7 140.2h0M263.9 144.0h0M263.8 137.7h0M264.1 143.6h0M264.2 143.1h0M264.3 142.8h0M264.3 143.7h0M264.6 144.9h0M264.5 142.0h0M264.7 142.5h0M264.7 141.5h0M265.1 143.8h0M265.1 143.6h0M265.3 142.1h0M265.2 141.2h0M265.5 143.7h0M265.3 141.3h0M265.6 141.9h0M265.6 138.5h0M265.8 139.6h0M265.9 140.0h0M266.1 138.6h0M266.0 142.9h0M266.3 137.7h0M266.3 140.8h0M266.4 142.5h0M266.4 140.2h0M266.7 144.0h0M266.8 136.6h0M267.0 140.6h0M266.9 145.1h0M267.2 144.2h0M267.0 142.6h0M267.3 142.7h0M267.3 140.1h0M267.6 139.0h0M267.6 138.6h0M267.8 139.9h0M267.7 143.7h0M267.9 138.4h0M268.0 138.1h0M268.2 146.3h0M268.3 142.7h0M268.4 142.2h0M268.5 143.3h0M268.7 138.6h0M268.6 140.1h0M268.8 141.1h0M268.9 144.4h0M269.1 146.6h0M269.1 143.7h0M269.2 143.4h0M269.2 143.6h0M269.5 146.8h0M269.6 145.3h0M269.7 142.4h0M269.8 140.4h0M269.8 142.7h0M269.8 141.9h0M270.2 141.5h0M270.2 141.5h0M270.3 138.2h0M270.3 143.4h0M270.5 140.8h0M270.6 144.8h0M270.8 138.3h0M270.8 139.4h0M271.1 138.7h0M270.9 141.0h0M271.3 141.6h0M271.3 144.7h0M271.5 140.5h0M271.5 137.8h0M271.7 148.5h0M271.6 136.8h0M271.9 143.5h0M271.9 140.1h0M272.0 143.4h0M272.1 141.7h0M272.3 139.2h0M272.4 141.8h0M272.6 136.6h0M272.6 141.2h0M272.8 139.6h0M272.7 142.9h0M273.0 142.6h0M273.0 142.3h0M273.2 140.0h0M273.3 137.0h0M273.4 141.2h0M273.4 144.7h0M273.7 142.9h0M273.6 144.9h0M273.7 140.0h0M273.8 141.2h0M274.0 144.1h0M274.1 142.2h0M274.3 138.9h0M274.3 140.1h0M274.5 142.8h0M274.5 139.3h0M274.8 140.3h0M274.6 142.7h0M274.8 140.8h0M274.9 136.4h0M275.2 144.2h0M275.2 138.6h0M275.3 141.7h0M275.3 139.6h0M275.5 140.3h0M275.4 140.6h0M275.7 141.7h0M275.7 141.3h0M276.0 139.5h0M276.0 140.1h0M276.2 145.1h0M276.2 140.1h0M276.3 137.9h0M276.3 139.0h0M276.6 140.7h0M276.6 146.1h0M276.9 139.8h0M276.8 139.6h0M277.1 137.5h0M277.1 143.8h0M277.3 141.9h0M277.2 142.7h0M277.5 142.0h0M277.5 145.8h0M277.7 142.5h0M277.6 142.4h0M278.0 142.3h0M277.9 137.1h0M278.0 143.0h0M278.1 142.5h0M278.2 138.4h0M278.2 142.8h0M278.6 138.2h0M278.6 140.1h0M278.8 143.0h0M278.7 143.2h0M278.9 141.0h0M278.9 141.8h0M279.1 141.1h0M279.1 142.8h0M279.4 139.8h0M279.5 143.1h0M279.6 142.6h0M279.6 141.8h0M279.8 144.6h0M279.9 142.2h0M280.1 141.9h0M280.0 145.1h0M280.3 146.0h0M280.2 138.1h0M280.5 142.1h0M280.5 141.7h0M280.6 143.0h0M280.7 137.2h0M280.8 141.9h0M280.9 146.0h0M281.2 140.1h0M281.1 143.9h0M281.4 140.2h0M281.3 141.7h0M281.5 138.0h0M281.6 140.1h0M281.8 142.3h0M281.7 137.6h0M281.9 134.2h0M282.0 142.7h0M282.2 138.5h0M282.3 140.3h0M282.4 140.1h0M282.3 144.6h0M282.5 143.9h0M282.6 137.6h0M282.9 140.9h0M282.8 142.7h0M283.1 136.6h0M283.0 138.1h0M283.2 139.4h0M283.3 143.9h0M283.5 141.3h0M283.4 137.4h0M283.6 146.6h0M283.6 145.5h0M283.9 143.4h0M283.9 138.7h0M284.2 140.7h0M284.1 140.1h0M284.3 140.8h0M284.3 141.0h0M284.6 138.1h0M284.6 131.8h0M284.7 140.0h0M284.8 137.8h0M285.0 142.4h0M285.0 137.0h0M285.3 141.0h0M285.1 140.8h0M285.4 142.5h0M285.5 143.3h0M285.7 142.7h0M285.5 143.8h0M285.9 144.7h0M285.8 136.4h0M286.1 140.1h0M286.1 138.6h0M286.3 139.9h0M286.2 145.0h0M286.6 141.1h0M286.5 143.6h0M286.8 143.3h0M286.7 141.5h0M286.9 140.7h0M286.9 140.9h0M287.2 140.5h0M287.2 141.5h0M287.4 140.4h0M287.3 137.2h0M287.7 133.7h0M287.6 136.7h0M287.8 139.5h0M287.8 137.7h0M288.0 135.3h0M288.0 134.9h0M288.2 132.7h0M288.2 132.9h0M288.4 133.5h0M288.4 135.1h0M288.7 135.5h0M288.7 128.6h0M288.9 128.7h0M288.9 132.1h0M289.0 129.5h0M289.1 130.2h0M289.4 130.4h0M289.2 124.5h0M289.6 131.2h0M289.6 123.7h0M289.7 131.6h0M289.7 133.2h0M290.0 133.0h0M289.9 126.7h0M290.1 134.8h0M290.1 133.7h0M290.4 143.6h0M290.4 135.5h0M290.5 141.8h0M290.7 139.3h0M290.8 135.9h0M290.7 140.0h0M291.0 138.5h0M291.0 140.7h0M291.3 141.7h0M291.3 140.1h0M291.4 138.1h0M291.4 140.8h0M291.7 141.3h0M291.6 143.7h0M291.9 145.8h0M291.9 140.9h0M292.0 141.8h0M292.1 140.6h0M292.3 138.5h0M292.3 139.1h0M292.6 143.7h0M292.5 140.6h0M292.7 140.6h0M292.7 142.0h0M293.0 147.3h0M292.9 143.5h0M293.2 141.6h0M293.1 139.3h0M293.3 142.2h0M293.5 145.1h0M293.5 137.7h0M293.6 141.4h0M293.8 142.6h0M293.9 139.9h0M294.1 139.5h0M294.0 141.6h0M294.3 142.9h0M294.3 142.9h0M294.4 139.2h0M294.4 141.7h0M294.6 140.0h0M294.6 146.5h0M294.9 142.7h0M294.9 142.4h0M295.1 142.6h0M295.0 146.6h0M295.3 142.6h0M295.4 137.2h0M295.5 140.6h0M295.6 142.8h0M295.7 143.3h0M295.8 145.0h0M296.0 140.8h0M296.1 143.5h0M296.1 142.4h0M296.2 139.0h0M296.4 138.9h0M296.4 139.7h0M296.6 145.8h0M296.7 142.9h0M296.8 138.2h0M296.9 144.6h0M297.0 138.0h0M297.1 141.5h0M297.3 138.9h0M297.3 142.5h0M297.5 144.5h0M297.4 144.1h0M297.7 137.5h0M297.7 142.3h0M297.9 144.7h0M298.0 139.2h0M298.1 145.5h0M298.2 141.8h0M298.3 140.5h0M298.3 140.6h0M298.5 140.3h0M298.5 141.7h0M298.9 148.0h0M298.8 140.8h0M299.0 141.5h0M298.9 141.9h0M299.1 140.1h0M299.2 139.4h0M299.4 140.8h0M299.3 137.4h0M299.6 135.5h0M299.6 140.7h0M299.9 142.3h0M299.9 144.9h0M300.0 139.9h0M300.0 146.2h0M300.3 136.9h0M300.4 138.8h0M300.5 142.8h0M300.6 139.6h0M300.6 143.8h0M300.7 144.4h0M301.0 139.4h0M300.8 144.1h0M301.1 140.8h0M301.2 141.8h0M301.3 137.2h0M301.3 140.6h0M301.6 137.2h0M301.6 139.1h0M301.7 143.5h0M301.7 144.5h0M302.0 147.1h0M301.9 141.3h0M302.3 148.9h0M302.2 143.6h0M302.5 147.9h0M302.5 143.1h0M302.6 139.5h0M302.7 143.8h0M302.8 142.9h0M302.9 142.7h0M303.0 140.7h0M303.1 145.4h0M303.3 141.2h0M303.3 141.7h0M303.6 144.2h0M303.6 144.1h0M303.6 138.2h0M303.7 139.5h0M304.0 140.3h0M303.9 143.7h0M304.2 142.4h0M304.2 144.9h0M304.4 146.2h0M304.3 142.7h0M304.6 143.1h0M304.6 144.8h0M304.8 144.7h0M304.8 140.5h0M305.1 142.7h0M305.1 145.7h0M305.2 136.0h0M305.3 146.1h0M305.5 140.9h0M305.4 144.2h0M305.7 139.7h0M305.6 141.3h0M305.8 138.8h0M305.9 141.7h0M306.1 143.5h0M306.0 137.6h0M306.4 141.6h0M306.4 142.1h0M306.5 141.9h0M306.6 143.4h0M306.6 140.6h0M306.7 137.0h0M307.0 137.5h0M306.9 140.7h0M307.1 139.8h0M307.1 139.5h0M307.3 143.2h0M307.3 137.5h0M307.6 140.8h0M307.5 146.4h0M307.8 139.8h0M307.9 143.9h0M308.0 140.7h0M308.0 139.7h0M308.2 142.3h0M308.3 140.8h0M308.4 137.9h0M308.5 145.2h0M308.6 146.6h0M308.7 141.8h0M308.9 142.2h0M309.0 135.9h0M309.2 138.8h0M309.1 140.1h0M309.3 141.8h0M309.3 146.7h0M309.6 145.1h0M309.6 142.4h0M309.8 141.0h0M309.8 142.7h0M309.9 141.2h0M310.0 139.7h0M310.2 143.4h0M310.2 142.7h0M310.4 144.1h0M310.3 138.3h0M310.5 147.0h0M310.7 139.9h0M310.9 139.5h0M310.8 147.0h0M311.0 142.9h0M311.0 138.7h0M311.3 144.0h0M311.2 143.1h0M311.5 141.7h0M311.5 138.0h0M311.7 139.9h0M311.8 143.4h0M311.9 145.3h0M312.0 145.6h0M312.1 140.7h0M312.1 147.4h0M312.4 143.1h0M312.3 140.0h0M312.6 144.8h0M312.6 142.5h0M312.7 141.9h0M312.8 139.6h0M312.9 145.2h0M313.0 141.4h0M313.2 141.8h0M313.1 141.3h0M313.5 145.8h0M313.3 140.3h0M313.6 143.9h0M313.5 141.9h0M313.8 143.9h0M313.9 136.4h0M314.0 141.5h0M314.1 135.9h0M314.3 143.3h0M314.3 142.3h0M314.4 137.7h0M314.5 142.6h0M314.8 140.4h0M314.6 138.5h0M314.8 142.6h0M315.0 143.4h0M315.1 142.3h0M315.1 138.9h0M315.3 140.4h0M315.3 138.1h0M315.6 142.3h0M315.5 142.9h0M315.8 144.6h0M315.7 142.4h0M316.0 143.2h0M316.0 141.9h0M316.2 144.1h0M316.1 143.5h0M316.5 142.5h0M316.5 139.1h0M316.6 142.6h0M316.6 143.2h0M316.9 139.2h0M316.8 138.2h0M317.0 142.8h0M317.1 142.8h0M317.3 147.3h0M317.3 146.7h0M317.4 142.9h0M317.6 139.5h0M317.7 138.9h0M317.6 141.2h0M318.0 146.1h0M318.0 143.7h0M318.1 149.4h0M318.2 146.4h0M318.4 150.4h0M318.4 147.1h0M318.6 144.0h0M318.6 142.0h0M318.8 147.9h0M318.8 147.6h0M318.9 153.3h0M319.0 150.7h0M319.2 144.8h0M319.3 145.6h0M319.5 145.8h0M319.4 147.2h0M319.7 143.0h0M319.7 148.0h0M319.9 146.9h0M319.8 139.1h0M320.0 148.0h0M320.1 144.1h0M320.3 145.4h0M320.2 140.5h0M320.5 144.2h0M320.4 144.7h0M320.7 143.6h0M320.6 140.8h0M320.9 145.1h0M321.0 146.2h0M321.1 142.4h0M321.2 142.9h0M321.4 140.3h0M321.3 142.7h0M321.6 143.3h0M321.6 140.9h0M321.9 140.4h0M321.9 138.9h0M322.0 141.4h0M322.0 146.4h0M322.2 141.7h0M322.2 141.5h0M322.5 141.8h0M322.4 140.1h0M322.6 142.3h0M322.7 138.6h0M322.9 142.3h0M322.9 137.8h0M323.2 144.5h0M323.0 147.9h0M323.3 144.1h0M323.3 133.9h0M323.5 142.2h0M323.6 141.8h0M323.7 140.8h0M323.8 142.7h0M323.9 140.8h0M323.9 141.2h0M324.1 136.0h0M324.2 138.3h0M324.3 140.8h0M324.5 139.6h0M324.6 139.9h0M324.5 144.4h0M324.8 138.5h0M324.8 143.2h0M325.0 139.4h0M325.1 141.1h0M325.3 139.1h0M325.3 137.7h0M325.5 139.9h0M325.5 142.8h0M325.6 142.3h0M325.6 140.0h0M325.9 142.6h0M325.9 142.5h0M326.1 141.8h0M326.1 142.4h0M326.4 140.1h0M326.3 142.7h0M326.6 141.2h0M326.6 143.4h0M326.7 146.1h0M326.8 139.3h0M326.9 138.9h0M326.9 142.8h0M327.1 139.3h0M327.2 140.6h0M327.4 144.6h0M327.4 138.3h0M327.7 146.8h0M327.5 141.6h0M327.9 139.5h0M327.9 144.4h0M328.0 137.2h0M328.0 143.0h0M328.2 138.1h0M328.3 142.0h0M328.4 139.6h0M328.6 141.6h0M328.6 135.1h0M328.8 140.3h0M328.9 138.7h0M328.8 139.5h0M329.2 140.9h0M329.1 142.1h0M329.3 140.3h0M329.3 138.7h0M329.5 138.9h0M329.5 139.9h0M329.8 141.6h0M329.8 139.3h0M329.9 143.8h0M329.9 141.2h0M330.3 146.2h0M330.2 142.8h0M330.4 141.0h0M330.3 144.5h0M330.5 143.4h0M330.6 137.5h0M330.8 138.3h0M330.9 136.4h0M331.0 135.8h0M331.0 137.1h0M331.3 135.6h0M331.3 136.9h0M331.5 133.7h0M331.5 141.0h0M331.7 136.8h0M331.8 133.4h0M332.0 133.5h0M332.0 135.6h0M332.1 136.6h0M332.0 133.5h0M332.2 136.2h0M332.3 138.8h0M332.5 133.2h0M332.5 137.2h0M332.7 136.3h0M332.8 141.3h0M333.0 144.6h0M332.9 136.3h0M333.3 134.5h0M333.2 144.8h0M333.4 140.6h0M333.4 137.8h0M333.7 139.6h0M333.6 139.7h0M333.9 140.6h0M333.9 143.2h0M334.0 137.8h0M334.1 138.3h0M334.4 140.1h0M334.3 147.2h0M334.5 136.7h0M334.4 141.3h0M334.8 140.1h0M334.8 136.4h0M335.0 138.2h0M334.9 141.8h0M335.2 139.1h0M335.2 140.5h0M335.4 143.9h0M335.5 142.2h0M335.6 147.7h0M335.5 146.9h0M335.8 142.9h0M335.9 140.0h0M336.1 146.9h0M336.1 141.1h0M336.2 144.0h0M336.2 139.7h0M336.5 145.9h0M336.3 136.8h0M336.7 143.6h0M336.7 145.6h0M336.9 143.9h0M336.9 149.6h0M337.1 143.4h0M337.2 144.9h0M337.2 142.5h0M337.3 144.6h0M337.5 150.4h0M337.6 150.0h0M337.8 144.2h0M337.7 146.0h0M337.9 139.8h0M337.9 145.1h0M338.1 140.7h0M338.1 142.2h0M338.3 137.5h0M338.3 141.3h0M338.7 140.8h0M338.6 144.1h0M338.8 140.3h0M338.9 139.5h0M339.1 141.6h0M339.1 139.4h0M339.2 144.1h0M339.3 141.9h0M339.5 140.2h0M339.5 142.1h0M339.7 138.0h0M339.6 139.6h0M339.8 142.9h0M339.9 143.8h0M340.1 141.3h0M340.1 143.2h0M340.4 142.4h0M340.3 144.3h0M340.5 139.2h0M340.5 140.8h0M340.8 140.5h0M340.6 139.1h0M340.9 147.5h0M340.9 141.2h0M341.1 141.9h0M341.3 139.5h0M341.4 139.9h0M341.5 139.9h0M341.6 137.8h0M341.7 146.3h0M341.7 144.1h0M341.8 138.0h0M342.0 137.4h0M342.1 143.5h0M342.2 138.3h0M342.3 138.9h0M342.4 145.0h0M342.4 142.9h0M342.8 140.4h0M342.7 141.5h0M343.0 136.4h0M343.0 139.7h0M343.2 138.9h0M343.0 143.0h0M343.3 144.6h0M343.3 142.9h0M343.6 137.5h0M343.4 136.3h0M343.8 143.5h0M343.7 141.7h0M343.9 148.0h0M343.9 137.8h0M344.2 144.7h0M344.3 138.9h0M344.5 137.8h0M344.4 144.9h0M344.7 143.6h0M344.5 139.4h0M344.7 137.6h0M344.8 142.7h0M345.0 144.1h0M345.1 140.4h0M345.2 137.9h0M345.3 144.3h0M345.4 143.4h0M345.5 138.2h0M345.6 140.8h0M345.8 143.5h0M346.0 141.3h0M345.9 140.0h0M346.2 138.5h0M346.2 140.5h0M346.4 141.3h0M346.4 145.8h0M346.6 139.9h0M346.6 139.9h0M346.8 140.8h0M346.8 141.3h0M347.1 141.0h0M346.9 138.7h0M347.2 142.3h0M347.1 144.5h0M347.5 138.9h0M347.4 142.3h0M347.6 142.1h0M347.7 140.2h0M347.8 142.0h0M347.9 141.5h0M348.1 144.3h0M348.0 137.8h0M348.3 144.9h0M348.2 137.8h0M348.5 144.7h0M348.5 143.2h0M348.7 142.4h0M348.7 139.0h0M348.9 140.8h0M348.9 142.6h0M349.2 144.7h0M349.1 138.6h0M349.4 141.2h0M349.3 140.2h0M349.6 141.8h0M349.5 142.7h0M349.8 139.5h0M349.8 140.5h0M350.0 138.2h0M350.0 140.8h0M350.2 145.1h0M350.3 139.2h0M350.4 141.0h0M350.5 141.8h0M350.6 149.4h0M350.7 143.2h0M351.0 140.1h0M350.8 142.5h0M351.1 139.6h0M351.0 138.8h0M351.3 139.5h0M351.4 141.5h0M351.5 136.9h0M351.4 137.6h0M351.8 136.3h0M351.7 141.5h0M351.8 138.6h0M351.9 132.6h0M352.1 133.5h0M352.2 135.9h0M352.3 130.2h0M352.4 129.4h0M352.6 125.0h0M352.6 125.9h0M352.7 125.2h0M352.7 128.3h0M352.9 129.4h0M353.0 126.3h0M353.3 121.3h0M353.2 128.9h0M353.4 123.4h0M353.4 129.6h0M353.6 130.7h0M353.7 128.0h0M353.9 133.3h0M353.9 131.0h0M354.1 136.4h0M354.1 132.4h0M354.2 132.0h0M354.2 138.1h0M354.6 136.2h0M354.6 136.7h0M354.8 137.1h0M354.7 144.6h0M355.0 137.5h0M355.0 143.0h0M355.2 141.2h0M355.2 141.8h0M355.5 143.8h0M355.3 143.1h0M355.6 143.1h0M355.6 140.7h0M355.9 139.4h0M355.9 142.1h0M356.1 139.3h0M356.1 141.0h0M356.3 138.3h0M356.2 144.9h0M356.4 141.0h0M356.4 141.5h0M356.7 141.1h0M356.7 140.5h0M357.0 139.3h0M356.8 141.0h0M357.1 140.0h0M357.1 142.2h0M357.2 141.8h0M357.3 143.1h0M357.6 138.5h0M357.5 139.3h0M357.8 138.0h0M357.7 142.7h0M357.9 141.9h0M357.9 134.8h0M358.2 138.5h0M358.2 145.3h0M358.5 139.5h0M358.3 140.5h0M358.6 142.3h0M358.5 142.2h0M358.8 143.7h0M358.8 142.8h0M359.1 143.5h0M359.1 144.5h0M359.2 142.5h0M359.3 143.8h0M359.5 139.5h0M359.4 138.7h0M359.6 141.8h0M359.7 142.3h0M359.8 139.7h0M359.9 141.7h0M360.1 136.0h0M360.1 148.5h0M360.4 147.7h0M360.2 144.4h0M360.6 140.1h0M360.5 139.3h0M360.7 142.7h0M360.7 141.4h0M360.9 142.2h0M361.0 140.1h0M361.2 136.0h0M361.3 147.4h0M361.4 135.4h0M361.4 138.5h0M361.7 142.1h0M361.7 140.0h0M361.7 141.4h0M361.8 140.0h0M362.1 139.9h0M362.0 139.1h0M362.2 143.8h0M362.2 139.5h0M362.4 142.8h0M362.5 141.8h0M362.6 138.8h0M362.7 142.1h0M362.9 139.9h0M362.9 139.9h0M363.2 140.3h0M363.0 143.9h0M363.3 139.2h0M363.4 139.9h0M363.5 134.3h0M363.5 143.1h0M363.7 137.3h0M363.7 141.3h0M364.1 140.7h0M364.0 135.4h0M364.2 140.2h0M364.2 137.7h0M364.5 139.5h0M364.4 142.3h0M364.6 140.5h0M364.7 141.1h0M364.8 140.5h0M364.8 134.9h0M365.2 138.9h0M365.2 144.8h0M365.3 135.2h0M365.3 139.2h0M365.6 138.0h0M365.5 136.1h0M365.6 142.7h0M365.6 139.6h0M366.0 141.1h0M366.0 141.7h0M366.1 141.6h0M366.2 140.6h0M366.4 137.8h0M366.3 138.9h0M366.5 140.2h0M366.6 137.8h0M366.8 147.3h0M366.9 141.0h0M367.1 140.2h0M367.0 140.3h0M367.2 137.4h0M367.2 140.7h0M367.5 137.6h0M367.5 141.7h0M367.7 139.4h0M367.5 140.9h0M368.0 141.9h0M367.8 139.9h0M368.1 139.7h0M368.0 143.7h0M368.4 138.7h0M368.4 142.0h0M368.5 141.0h0M368.6 148.5h0M368.8 141.3h0M368.8 146.4h0M368.9 139.0h0M368.9 143.4h0M369.1 142.4h0M369.2 141.7h0M369.3 144.8h0M369.3 141.2h0M369.5 144.6h0M369.7 141.8h0M369.9 139.0h0M369.7 137.8h0M370.0 137.4h0M370.1 141.9h0M370.2 143.8h0M370.2 140.0h0M370.4 137.1h0M370.5 143.6h0M370.7 137.6h0M370.6 141.6h0M370.9 148.4h0M370.8 141.1h0M371.0 136.2h0M371.2 139.3h0M371.4 138.4h0M371.2 140.2h0M371.4 145.8h0M371.6 147.6h0M371.7 144.1h0M371.8 142.3h0M371.9 144.0h0M371.9 143.4h0M372.1 139.2h0M372.2 137.4h0M372.4 145.8h0M372.5 144.1h0M372.6 141.5h0M372.6 141.8h0M372.9 147.6h0M372.9 133.4h0M373.1 139.4h0M373.1 140.3h0M373.3 146.5h0M373.3 140.5h0M373.4 144.4h0M373.5 139.9h0M373.7 140.5h0M373.6 141.2h0M374.0 140.1h0M373.8 142.8h0M374.1 140.8h0M374.2 147.7h0M374.3 139.3h0M374.3 141.8h0M374.6 134.5h0M374.5 141.0h0M374.8 147.6h0M374.8 137.2h0M375.1 143.3h0M374.9 144.3h0M375.1 141.4h0M375.2 137.8h0M375.4 136.1h0M375.4 142.3h0M375.7 140.7h0M375.7 140.7h0M375.8 143.0h0M375.8 142.7h0M376.1 141.7h0M376.0 141.5h0M376.2 138.4h0M376.2 146.5h0M376.5 140.0h0M376.5 140.3h0M376.8 137.6h0M376.8 142.3h0M376.9 142.3h0M376.8 141.0h0M377.0 142.8h0M377.1 142.9h0M377.4 143.1h0M377.3 143.1h0M377.6 144.1h0M377.5 142.9h0M377.8 143.4h0M377.9 143.3h0M377.9 144.9h0M377.9 138.8h0M378.3 140.5h0M378.2 141.5h0M378.4 144.2h0M378.5 139.6h0M378.7 142.0h0M378.7 141.6h0M378.8 141.1h0M378.9 141.6h0M379.0 138.7h0M379.1 143.5h0M379.3 143.1h0M379.2 140.9h0M379.5 141.9h0M379.5 139.9h0M379.6 138.9h0M379.7 137.7h0M379.9 138.8h0M380.0 142.2h0M380.2 141.9h0M380.2 142.5h0M380.3 138.4h0M380.4 142.2h0M380.5 143.9h0M380.6 144.5h0M380.7 139.7h0M380.9 144.2h0M380.9 149.0h0M380.9 140.0h0M381.3 141.4h0M381.1 140.1h0M381.4 139.9h0M381.4 141.1h0M381.7 141.8h0M381.7 142.7h0M381.9 145.3h0M381.9 148.9h0M382.1 148.9h0M382.0 142.5h0M382.3 141.8h0M382.2 143.7h0M382.6 146.4h0M382.5 142.5h0M382.8 144.6h0M382.6 144.4h0M383.0 145.6h0M383.0 147.8h0M383.2 147.3h0M383.2 143.6h0M383.4 140.1h0M383.3 139.9h0M383.6 144.8h0M383.5 143.2h0M383.7 144.4h0M383.8 143.6h0M384.1 142.4h0M384.1 141.1h0M384.2 146.4h0M384.2 138.7h0M384.5 143.2h0M384.4 145.7h0M384.7 136.3h0M384.7 144.8h0M384.9 142.3h0M384.9 144.1h0M385.0 138.9h0M385.2 149.1h0M385.3 140.9h0M385.3 146.0h0M385.6 137.4h0M385.5 136.0h0M385.8 139.2h0M385.7 143.6h0M385.9 138.3h0M386.0 135.5h0M386.2 140.7h0M386.2 142.3h0M386.4 137.4h0M386.3 144.9h0M386.5 142.1h0M386.7 141.4h0M386.9 140.9h0M386.8 138.3h0M387.1 141.7h0M387.0 144.2h0M387.2 145.0h0M387.2 141.7h0M387.5 140.0h0M387.4 138.7h0M387.6 139.6h0M387.6 145.0h0M387.9 139.7h0M387.9 143.0h0M388.2 137.8h0M388.2 142.1h0M388.4 142.0h0M388.3 142.8h0M388.5 138.6h0M388.5 141.6h0M388.7 133.9h0M388.8 138.1h0M389.0 144.4h0M389.0 141.4h0M389.1 138.5h0M389.2 139.1h0M389.4 139.6h0M389.4 140.6h0M389.7 145.4h0M389.7 145.3h0M389.8 139.1h0M389.8 142.9h0M390.1 141.2h0M390.1 139.5h0M390.3 146.3h0M390.2 146.3h0M390.4 139.8h0M390.5 142.8h0M390.6 142.2h0M390.6 138.2h0M390.9 141.9h0M390.9 141.4h0M391.1 140.4h0M391.0 145.8h0M391.3 136.5h0M391.4 140.1h0M391.6 142.5h0M391.5 138.1h0M391.7 143.6h0M391.8 142.9h0M392.0 144.2h0M391.9 141.6h0M392.1 142.9h0M392.1 140.2h0M392.4 142.5h0M392.4 140.0h0M392.6 139.4h0M392.5 139.6h0M392.9 139.3h0M392.9 140.1h0M393.0 142.5h0M393.1 145.4h0M393.2 139.1h0M393.2 143.7h0M393.5 138.8h0M393.5 139.8h0M393.8 139.6h0M393.6 139.5h0M393.8 137.9h0M393.8 142.0h0M394.1 138.4h0M394.1 136.3h0M394.3 137.0h0M394.3 136.1h0M394.6 139.8h0M394.6 139.3h0M394.8 134.1h0M394.7 137.7h0M395.1 138.5h0M395.0 136.5h0M395.3 141.7h0M395.2 139.7h0M395.3 138.2h0M395.4 139.6h0M395.6 135.6h0M395.7 138.6h0M395.9 137.6h0M395.8 142.1h0M396.1 140.3h0M396.1 140.3h0M396.3 139.0h0M396.3 139.1h0M396.5 140.6h0M396.5 139.0h0M396.7 135.1h0M396.8 140.7h0M396.9 142.6h0M396.9 137.6h0M397.2 137.0h0M397.2 140.5h0M397.3 138.5h0M397.4 146.5h0M397.6 139.9h0M397.6 141.6h0M397.8 135.3h0M397.7 140.5h0M397.9 136.3h0M398.0 141.7h0M398.3 142.0h0M398.1 142.6h0M398.4 144.4h0M398.5 142.8h0M398.7 138.3h0M398.7 145.3h0M398.9 141.0h0M398.8 138.3h0M399.1 140.6h0M399.2 139.9h0M399.3 140.3h0M399.2 139.9h0M399.6 146.4h0M399.6 137.2h0M399.8 140.3h0M399.7 142.7h0M400.0 142.0h0M399.9 141.6h0M400.1 139.4h0M400.1 144.4h0M400.3 144.6h0M400.4 144.7h0M400.6 138.8h0M400.6 143.7h0M400.8 140.9h0M400.7 144.3h0M400.9 141.4h0M401.0 142.5h0M401.3 143.2h0M401.2 138.2h0M401.4 140.9h0M401.4 143.8h0M401.6 134.8h0M401.6 143.7h0M401.8 144.3h0M401.9 145.7h0M402.2 136.9h0M402.0 140.7h0M402.3 140.3h0M402.4 138.3h0M402.5 140.9h0M402.5 139.3h0M402.8 136.7h0M402.8 140.5h0M402.9 139.0h0M403.0 140.6h0M403.1 140.8h0M403.1 137.4h0M403.3 139.6h0M403.3 140.4h0M403.7 146.2h0M403.5 143.5h0M403.7 143.0h0M403.8 141.2h0M404.1 140.2h0M404.0 140.7h0M404.3 141.6h0M404.3 140.2h0M404.4 140.2h0M404.5 138.8h0M404.7 145.9h0M404.6 138.4h0M404.8 136.0h0M405.0 138.1h0M405.2 142.3h0M405.1 143.6h0M405.3 141.3h0M405.3 137.6h0M405.4 140.4h0M405.4 146.5h0M405.8 150.0h0M405.8 140.6h0M406.0 134.8h0M406.0 145.4h0M406.2 142.9h0M406.2 141.2h0M406.4 140.4h0M406.4 138.9h0M406.7 145.5h0M406.7 141.0h0M406.9 143.0h0M406.8 139.0h0M407.0 140.2h0M407.0 138.3h0M407.3 144.5h0M407.2 144.3h0M407.4 143.2h0M407.5 142.6h0M407.6 143.2h0M407.7 144.7h0M407.8 142.9h0M408.0 145.7h0M408.2 138.7h0M408.1 142.6h0M408.3 144.7h0M408.3 140.9h0M408.6 145.6h0M408.6 140.3h0M408.8 142.2h0M408.7 136.7h0M409.0 139.8h0M408.9 143.4h0M409.2 138.9h0M409.2 140.9h0M409.5 139.4h0M409.4 149.4h0M409.7 142.3h0M409.6 142.3h0M409.8 137.6h0M409.8 143.9h0M410.1 139.9h0M410.0 141.4h0M410.2 144.4h0M410.2 142.2h0M410.6 138.9h0M410.5 141.0h0M410.7 140.7h0M410.8 140.2h0M411.0 139.5h0M410.8 139.1h0M411.1 139.7h0M411.2 143.3h0M411.4 139.4h0M411.4 138.7h0M411.6 134.0h0M411.5 141.4h0M411.7 134.1h0M411.8 139.5h0M411.9 133.5h0M412.0 142.9h0M412.3 137.6h0M412.2 143.4h0M412.4 140.5h0M412.4 137.9h0M412.6 135.1h0M412.6 138.5h0M412.9 135.4h0M412.9 138.2h0M413.0 131.6h0M413.0 137.5h0M413.3 130.7h0M413.2 131.1h0M413.6 138.5h0M413.5 134.6h0M413.7 137.4h0M413.7 132.3h0M413.9 135.6h0M413.9 131.5h0M414.1 137.3h0M414.2 137.7h0M414.4 139.6h0M414.3 136.9h0M414.5 136.6h0M414.5 137.5h0M414.9 137.8h0M414.7 136.2h0M415.0 139.0h0M414.9 140.4h0M415.2 142.0h0M415.2 140.9h0M415.4 140.7h0M415.5 137.1h0M415.6 137.6h0M415.7 142.2h0M415.9 138.9h0M415.8 142.7h0M416.1 138.4h0M416.0 144.9h0M416.4 138.3h0M416.4 141.4h0M416.5 140.4h0M416.5 141.3h0M416.8 144.0h0M416.7 140.8h0M416.8 141.1h0M417.0 139.2h0M417.1 139.6h0M417.3 138.0h0M417.4 139.8h0M417.3 144.3h0M417.6 139.3h0M417.7 144.5h0M417.7 143.3h0M417.8 141.2h0M418.0 143.6h0M418.1 142.4h0M418.3 138.7h0M418.3 143.0h0M418.5 143.8h0M418.5 144.8h0M418.6 133.8h0M418.8 142.6h0M418.9 141.3h0M418.9 141.2h0M419.2 138.4h0M419.2 142.9h0M419.2 143.8h0M419.3 142.4h0M419.5 143.4h0M419.5 145.2h0M419.8 146.4h0M419.7 141.2h0M419.9 142.5h0M419.9 137.6h0M420.2 142.7h0M420.1 142.3h0M420.4 138.1h0M420.5 145.8h0M420.6 139.2h0M420.6 143.5h0M420.9 144.3h0M420.8 140.3h0M421.0 140.9h0M421.0 144.3h0M421.2 140.6h0M421.3 137.1h0M421.4 139.0h0M421.4 140.9h0M421.7 142.6h0M421.6 141.4h0M421.9 139.7h0M421.9 141.6h0M422.0 139.7h0M422.1 138.3h0M422.3 144.8h0M422.3 140.3h0M422.6 139.3h0M422.6 141.3h0M422.7 142.2h0M422.7 136.5h0M423.0 140.4h0M423.0 140.4h0M423.1 141.5h0M423.1 140.9h0M423.3 140.7h0M423.5 140.1h0M423.5 143.7h0M423.6 144.0h0M423.8 141.2h0M423.8 140.4h0M424.1 140.9h0M424.0 137.5h0M424.3 139.3h0M424.3 137.3h0M424.5 138.5h0M424.5 145.1h0M424.7 137.9h0M424.7 135.3h0M424.9 138.8h0M425.0 139.3h0M425.0 142.3h0M425.1 138.6h0M425.4 142.2h0M425.3 144.0h0M425.5 138.8h0M425.5 137.2h0M425.9 140.5h0M425.7 140.1h0M426.0 141.7h0M426.0 135.7h0M426.1 139.0h0M426.2 140.9h0M426.5 141.1h0M426.4 139.9h0M426.6 137.5h0M426.6 141.9h0M426.9 143.0h0M426.8 139.8h0M427.0 141.1h0M427.0 144.6h0M427.2 141.2h0M427.3 141.8h0M427.6 142.2h0M427.5 140.7h0M427.6 140.5h0M427.7 136.7h0M427.8 139.5h0M427.8 139.0h0M428.1 142.4h0M428.2 141.3h0M428.4 143.1h0M428.3 143.1h0M428.7 139.1h0M428.5 135.6h0M428.7 139.5h0M428.8 140.3h0M429.0 139.9h0M429.0 139.2h0M429.2 141.6h0M429.2 141.5h0M429.3 139.7h0M429.5 137.1h0M429.6 141.2h0M429.6 145.8h0M429.9 139.3h0M429.9 140.8h0M430.2 143.5h0M430.1 143.6h0M430.4 149.8h0M430.2 143.4h0M430.5 142.0h0M430.6 140.0h0M430.8 141.5h0M430.7 144.0h0M431.0 142.5h0M430.9 141.3h0M431.1 139.8h0M431.2 140.6h0M431.3 139.1h0M431.3 146.5h0M431.5 140.8h0M431.5 140.6h0M431.9 143.9h0M431.7 140.8h0M432.1 142.7h0M431.9 144.6h0M432.1 144.8h0M432.2 139.9h0M432.5 139.8h0M432.5 138.5h0M432.6 139.4h0M432.7 140.1h0M432.8 144.2h0M432.8 141.9h0M433.0 142.1h0M433.0 136.0h0M433.4 143.6h0M433.4 144.8h0M433.4 144.0h0M433.6 138.7h0M433.7 143.0h0M433.6 139.4h0M433.9 142.7h0M434.0 138.6h0M434.2 145.4h0M434.2 142.5h0M434.3 139.7h0M434.4 141.9h0M434.6 143.7h0M434.6 137.5h0M434.9 145.1h0M434.8 143.6h0M435.0 138.3h0M434.9 136.8h0M435.2 141.3h0M435.3 144.7h0M435.5 144.7h0M435.4 143.6h0" stroke="#ee2a24" stroke-width="1.9" stroke-linecap="round" fill="none"/>
<polyline points="258.5,141.3 258.7,141.3 258.9,141.3 259.2,141.3 259.4,141.3 259.6,141.3 259.8,141.3 260.0,141.3 260.2,141.3 260.5,141.3 260.7,141.3 260.9,141.3 261.1,141.3 261.3,141.3 261.5,141.3 261.7,141.3 262.0,141.3 262.2,141.3 262.4,141.3 262.6,141.3 262.8,141.3 263.0,141.3 263.3,141.3 263.5,141.3 263.7,141.3 263.9,141.3 264.1,141.3 264.3,141.3 264.5,141.3 264.8,141.3 265.0,141.3 265.2,141.3 265.4,141.3 265.6,141.3 265.8,141.3 266.1,141.3 266.3,141.3 266.5,141.3 266.7,141.3 266.9,141.3 267.1,141.3 267.3,141.3 267.6,141.3 267.8,141.3 268.0,141.3 268.2,141.3 268.4,141.3 268.6,141.3 268.8,141.3 269.1,141.3 269.3,141.3 269.5,141.3 269.7,141.3 269.9,141.3 270.1,141.3 270.4,141.3 270.6,141.3 270.8,141.3 271.0,141.3 271.2,141.3 271.4,141.3 271.6,141.3 271.9,141.3 272.1,141.3 272.3,141.3 272.5,141.3 272.7,141.3 272.9,141.3 273.2,141.3 273.4,141.3 273.6,141.3 273.8,141.3 274.0,141.3 274.2,141.3 274.4,141.3 274.7,141.3 274.9,141.3 275.1,141.3 275.3,141.3 275.5,141.3 275.7,141.3 276.0,141.3 276.2,141.3 276.4,141.3 276.6,141.3 276.8,141.3 277.0,141.3 277.2,141.3 277.5,141.3 277.7,141.3 277.9,141.3 278.1,141.3 278.3,141.3 278.5,141.3 278.8,141.3 279.0,141.3 279.2,141.3 279.4,141.3 279.6,141.3 279.8,141.3 280.0,141.3 280.3,141.3 280.5,141.3 280.7,141.3 280.9,141.3 281.1,141.3 281.3,141.3 281.5,141.3 281.8,141.3 282.0,141.3 282.2,141.3 282.4,141.3 282.6,141.3 282.8,141.3 283.1,141.3 283.3,141.3 283.5,141.3 283.7,141.3 283.9,141.3 284.1,141.3 284.3,141.3 284.6,141.3 284.8,141.3 285.0,141.3 285.2,141.3 285.4,141.3 285.6,141.3 285.9,141.3 286.1,141.3 286.3,141.3 286.5,141.3 286.7,141.2 286.9,141.1 287.1,140.9 287.4,140.5 287.6,139.9 287.8,138.9 288.0,137.6 288.2,135.8 288.4,133.9 288.7,131.9 288.9,130.2 289.1,129.2 289.3,129.1 289.5,129.8 289.7,131.3 289.9,133.2 290.2,135.2 290.4,137.0 290.6,138.5 290.8,139.6 291.0,140.4 291.2,140.8 291.5,141.1 291.7,141.2 291.9,141.3 292.1,141.3 292.3,141.3 292.5,141.3 292.7,141.3 293.0,141.3 293.2,141.3 293.4,141.3 293.6,141.3 293.8,141.3 294.0,141.3 294.2,141.3 294.5,141.3 294.7,141.3 294.9,141.3 295.1,141.3 295.3,141.3 295.5,141.3 295.8,141.3 296.0,141.3 296.2,141.3 296.4,141.3 296.6,141.3 296.8,141.3 297.0,141.3 297.3,141.3 297.5,141.3 297.7,141.3 297.9,141.3 298.1,141.3 298.3,141.3 298.6,141.3 298.8,141.3 299.0,141.3 299.2,141.3 299.4,141.3 299.6,141.3 299.8,141.3 300.1,141.3 300.3,141.3 300.5,141.3 300.7,141.3 300.9,141.3 301.1,141.3 301.4,141.3 301.6,141.3 301.8,141.3 302.0,141.3 302.2,141.3 302.4,141.3 302.6,141.3 302.9,141.3 303.1,141.3 303.3,141.3 303.5,141.3 303.7,141.3 303.9,141.3 304.1,141.3 304.4,141.3 304.6,141.3 304.8,141.3 305.0,141.3 305.2,141.3 305.4,141.3 305.7,141.3 305.9,141.3 306.1,141.3 306.3,141.3 306.5,141.3 306.7,141.3 306.9,141.3 307.2,141.3 307.4,141.3 307.6,141.3 307.8,141.3 308.0,141.3 308.2,141.3 308.5,141.3 308.7,141.3 308.9,141.3 309.1,141.3 309.3,141.3 309.5,141.3 309.7,141.3 310.0,141.3 310.2,141.3 310.4,141.3 310.6,141.3 310.8,141.3 311.0,141.3 311.3,141.3 311.5,141.3 311.7,141.3 311.9,141.3 312.1,141.3 312.3,141.3 312.5,141.3 312.8,141.3 313.0,141.3 313.2,141.3 313.4,141.3 313.6,141.3 313.8,141.3 314.1,141.3 314.3,141.3 314.5,141.3 314.7,141.3 314.9,141.3 315.1,141.3 315.3,141.3 315.6,141.3 315.8,141.3 316.0,141.3 316.2,141.3 316.4,141.4 316.6,141.4 316.8,141.6 317.1,141.8 317.3,142.1 317.5,142.7 317.7,143.4 317.9,144.4 318.1,145.4 318.4,146.6 318.6,147.6 318.8,148.3 319.0,148.7 319.2,148.6 319.4,148.1 319.6,147.3 319.9,146.2 320.1,145.1 320.3,144.0 320.5,143.2 320.7,142.5 320.9,142.0 321.2,141.7 321.4,141.5 321.6,141.4 321.8,141.3 322.0,141.3 322.2,141.3 322.4,141.3 322.7,141.3 322.9,141.3 323.1,141.3 323.3,141.3 323.5,141.3 323.7,141.3 324.0,141.3 324.2,141.3 324.4,141.3 324.6,141.3 324.8,141.3 325.0,141.3 325.2,141.3 325.5,141.3 325.7,141.3 325.9,141.3 326.1,141.3 326.3,141.3 326.5,141.3 326.8,141.3 327.0,141.3 327.2,141.3 327.4,141.3 327.6,141.3 327.8,141.3 328.0,141.3 328.3,141.3 328.5,141.3 328.7,141.3 328.9,141.3 329.1,141.3 329.3,141.3 329.5,141.2 329.8,141.2 330.0,141.1 330.2,140.9 330.4,140.5 330.6,140.1 330.8,139.5 331.1,138.7 331.3,137.9 331.5,137.1 331.7,136.4 331.9,135.9 332.1,135.7 332.3,135.9 332.6,136.4 332.8,137.1 333.0,137.9 333.2,138.7 333.4,139.5 333.6,140.1 333.9,140.6 334.1,140.9 334.3,141.1 334.5,141.3 334.7,141.5 334.9,141.7 335.1,142.0 335.4,142.4 335.6,143.0 335.8,143.6 336.0,144.2 336.2,144.7 336.4,145.0 336.7,145.0 336.9,144.8 337.1,144.3 337.3,143.8 337.5,143.2 337.7,142.6 337.9,142.1 338.2,141.8 338.4,141.6 338.6,141.4 338.8,141.4 339.0,141.3 339.2,141.3 339.5,141.3 339.7,141.3 339.9,141.3 340.1,141.3 340.3,141.3 340.5,141.3 340.7,141.3 341.0,141.3 341.2,141.3 341.4,141.3 341.6,141.3 341.8,141.3 342.0,141.3 342.2,141.3 342.5,141.3 342.7,141.3 342.9,141.3 343.1,141.3 343.3,141.3 343.5,141.3 343.8,141.3 344.0,141.3 344.2,141.3 344.4,141.3 344.6,141.3 344.8,141.3 345.0,141.3 345.3,141.3 345.5,141.3 345.7,141.3 345.9,141.3 346.1,141.3 346.3,141.3 346.6,141.3 346.8,141.3 347.0,141.3 347.2,141.3 347.4,141.3 347.6,141.3 347.8,141.3 348.1,141.3 348.3,141.3 348.5,141.3 348.7,141.3 348.9,141.3 349.1,141.3 349.4,141.3 349.6,141.3 349.8,141.3 350.0,141.3 350.2,141.2 350.4,141.2 350.6,141.0 350.9,140.7 351.1,140.2 351.3,139.4 351.5,138.2 351.7,136.5 351.9,134.4 352.2,132.0 352.4,129.5 352.6,127.2 352.8,125.5 353.0,124.6 353.2,124.8 353.4,126.0 353.7,127.9 353.9,130.3 354.1,132.8 354.3,135.2 354.5,137.1 354.7,138.6 354.9,139.7 355.2,140.4 355.4,140.8 355.6,141.1 355.8,141.2 356.0,141.3 356.2,141.3 356.5,141.3 356.7,141.3 356.9,141.3 357.1,141.3 357.3,141.3 357.5,141.3 357.7,141.3 358.0,141.3 358.2,141.3 358.4,141.3 358.6,141.3 358.8,141.3 359.0,141.3 359.3,141.3 359.5,141.3 359.7,141.3 359.9,141.3 360.1,141.3 360.3,141.3 360.5,141.3 360.8,141.3 361.0,141.3 361.2,141.3 361.4,141.3 361.6,141.2 361.8,141.2 362.1,141.1 362.3,141.0 362.5,140.9 362.7,140.8 362.9,140.7 363.1,140.5 363.3,140.3 363.6,140.2 363.8,140.0 364.0,139.9 364.2,139.8 364.4,139.8 364.6,139.8 364.9,139.9 365.1,140.0 365.3,140.2 365.5,140.3 365.7,140.5 365.9,140.7 366.1,140.8 366.4,140.9 366.6,141.0 366.8,141.1 367.0,141.2 367.2,141.2 367.4,141.3 367.6,141.3 367.9,141.3 368.1,141.3 368.3,141.3 368.5,141.3 368.7,141.3 368.9,141.3 369.2,141.3 369.4,141.3 369.6,141.3 369.8,141.3 370.0,141.3 370.2,141.3 370.4,141.3 370.7,141.3 370.9,141.3 371.1,141.3 371.3,141.3 371.5,141.3 371.7,141.3 372.0,141.3 372.2,141.3 372.4,141.3 372.6,141.3 372.8,141.3 373.0,141.3 373.2,141.3 373.5,141.3 373.7,141.3 373.9,141.3 374.1,141.3 374.3,141.3 374.5,141.3 374.8,141.3 375.0,141.3 375.2,141.3 375.4,141.3 375.6,141.3 375.8,141.3 376.0,141.3 376.3,141.3 376.5,141.3 376.7,141.3 376.9,141.3 377.1,141.3 377.3,141.3 377.6,141.3 377.8,141.3 378.0,141.3 378.2,141.3 378.4,141.3 378.6,141.3 378.8,141.3 379.1,141.3 379.3,141.3 379.5,141.3 379.7,141.3 379.9,141.4 380.1,141.4 380.3,141.5 380.6,141.6 380.8,141.8 381.0,141.9 381.2,142.2 381.4,142.5 381.6,142.8 381.9,143.2 382.1,143.6 382.3,143.9 382.5,144.3 382.7,144.5 382.9,144.6 383.1,144.6 383.4,144.5 383.6,144.3 383.8,144.1 384.0,143.7 384.2,143.3 384.4,143.0 384.7,142.6 384.9,142.3 385.1,142.0 385.3,141.8 385.5,141.7 385.7,141.5 385.9,141.4 386.2,141.4 386.4,141.4 386.6,141.3 386.8,141.3 387.0,141.3 387.2,141.3 387.5,141.3 387.7,141.3 387.9,141.3 388.1,141.3 388.3,141.3 388.5,141.3 388.7,141.3 389.0,141.3 389.2,141.3 389.4,141.3 389.6,141.3 389.8,141.3 390.0,141.3 390.2,141.3 390.5,141.3 390.7,141.3 390.9,141.3 391.1,141.2 391.3,141.2 391.5,141.2 391.8,141.1 392.0,141.0 392.2,140.9 392.4,140.7 392.6,140.6 392.8,140.4 393.0,140.2 393.3,139.9 393.5,139.7 393.7,139.5 393.9,139.3 394.1,139.2 394.3,139.1 394.6,139.1 394.8,139.1 395.0,139.2 395.2,139.3 395.4,139.5 395.6,139.7 395.8,139.9 396.1,140.2 396.3,140.4 396.5,140.6 396.7,140.7 396.9,140.9 397.1,141.0 397.4,141.1 397.6,141.2 397.8,141.2 398.0,141.2 398.2,141.3 398.4,141.3 398.6,141.3 398.9,141.3 399.1,141.3 399.3,141.3 399.5,141.3 399.7,141.3 399.9,141.3 400.2,141.3 400.4,141.3 400.6,141.3 400.8,141.3 401.0,141.3 401.2,141.3 401.4,141.3 401.7,141.3 401.9,141.3 402.1,141.3 402.3,141.3 402.5,141.3 402.7,141.3 402.9,141.3 403.2,141.3 403.4,141.3 403.6,141.3 403.8,141.3 404.0,141.3 404.2,141.3 404.5,141.3 404.7,141.3 404.9,141.3 405.1,141.3 405.3,141.3 405.5,141.3 405.7,141.3 406.0,141.3 406.2,141.3 406.4,141.3 406.6,141.3 406.8,141.3 407.0,141.3 407.3,141.3 407.5,141.3 407.7,141.3 407.9,141.3 408.1,141.3 408.3,141.3 408.5,141.3 408.8,141.3 409.0,141.2 409.2,141.2 409.4,141.1 409.6,141.1 409.8,140.9 410.1,140.8 410.3,140.6 410.5,140.4 410.7,140.1 410.9,139.7 411.1,139.3 411.3,138.9 411.6,138.4 411.8,137.9 412.0,137.4 412.2,136.9 412.4,136.5 412.6,136.1 412.9,135.9 413.1,135.7 413.3,135.7 413.5,135.8 413.7,136.1 413.9,136.4 414.1,136.8 414.4,137.2 414.6,137.7 414.8,138.3 415.0,138.7 415.2,139.2 415.4,139.6 415.6,140.0 415.9,140.3 416.1,140.5 416.3,140.7 416.5,140.9 416.7,141.0 416.9,141.1 417.2,141.2 417.4,141.2 417.6,141.2 417.8,141.3 418.0,141.3 418.2,141.3 418.4,141.3 418.7,141.3 418.9,141.3 419.1,141.3 419.3,141.3 419.5,141.3 419.7,141.3 420.0,141.3 420.2,141.3 420.4,141.3 420.6,141.3 420.8,141.2 421.0,141.2 421.2,141.2 421.5,141.1 421.7,141.1 421.9,141.0 422.1,140.9 422.3,140.7 422.5,140.6 422.8,140.4 423.0,140.2 423.2,140.0 423.4,139.8 423.6,139.6 423.8,139.4 424.0,139.3 424.3,139.2 424.5,139.1 424.7,139.1 424.9,139.1 425.1,139.2 425.3,139.3 425.6,139.4 425.8,139.6 426.0,139.8 426.2,140.0 426.4,140.2 426.6,140.4 426.8,140.6 427.1,140.7 427.3,140.9 427.5,141.0 427.7,141.1 427.9,141.1 428.1,141.2 428.3,141.2 428.6,141.2 428.8,141.3 429.0,141.3 429.2,141.3 429.4,141.3 429.6,141.3 429.9,141.3 430.1,141.3 430.3,141.3 430.5,141.3 430.7,141.3 430.9,141.3 431.1,141.3 431.4,141.3 431.6,141.3 431.8,141.3 432.0,141.3 432.2,141.3 432.4,141.3 432.7,141.3 432.9,141.3 433.1,141.3 433.3,141.3 433.5,141.3 433.7,141.3 433.9,141.3 434.2,141.3 434.4,141.3 434.6,141.3 434.8,141.3 435.0,141.3 435.2,141.3 435.5,141.3" stroke="#111" stroke-width="1.15" fill="none" stroke-linejoin="round" />
<rect x="255.1" y="4.2" width="185.6" height="166.9" stroke="#5a5a5a" stroke-width="1.1" fill="none" />
<rect x="254.1" y="87.3" width="2" height="2.6" stroke="none" stroke-width="0" fill="#fff" />
<path d="M251.7 88.4L256.7 86.1M251.7 91L256.7 88.8" stroke="#444" stroke-width="0.8"/>
<rect x="439.7" y="87.3" width="2" height="2.6" stroke="none" stroke-width="0" fill="#fff" />
<path d="M437.5 88.4L443.8 86.1M437.5 91L443.8 88.8" stroke="#444" stroke-width="0.8"/>
<path d="M252.1 80.8L255.1 80.8" stroke="#444" stroke-width="0.7"/>
<text x="250.9" y="83.3" font-size="7.3" text-anchor="end" fill="#333" stroke="#333" stroke-width="0.18" >30</text>
<path d="M252.1 66.2L255.1 66.2" stroke="#444" stroke-width="0.7"/>
<text x="250.9" y="68.7" font-size="7.3" text-anchor="end" fill="#333" stroke="#333" stroke-width="0.18" >35</text>
<path d="M252.1 51.6L255.1 51.6" stroke="#444" stroke-width="0.7"/>
<text x="250.9" y="54.1" font-size="7.3" text-anchor="end" fill="#333" stroke="#333" stroke-width="0.18" >40</text>
<path d="M252.1 37L255.1 37" stroke="#444" stroke-width="0.7"/>
<text x="250.9" y="39.5" font-size="7.3" text-anchor="end" fill="#333" stroke="#333" stroke-width="0.18" >45</text>
<path d="M252.1 22.4L255.1 22.4" stroke="#444" stroke-width="0.7"/>
<text x="250.9" y="24.9" font-size="7.3" text-anchor="end" fill="#333" stroke="#333" stroke-width="0.18" >50</text>
<path d="M252.1 7.8L255.1 7.8" stroke="#444" stroke-width="0.7"/>
<text x="250.9" y="10.3" font-size="7.3" text-anchor="end" fill="#333" stroke="#333" stroke-width="0.18" >55</text>
<path d="M253.5 88.1L255.1 88.1M253.5 73.5L255.1 73.5M253.5 58.9L255.1 58.9M253.5 44.3L255.1 44.3M253.5 29.7L255.1 29.7M253.5 15.1L255.1 15.1" stroke="#444" stroke-width="0.6"/>
<path d="M252.1 104.1L255.1 104.1" stroke="#444" stroke-width="0.7"/>
<text x="250.9" y="106.6" font-size="7.3" text-anchor="end" fill="#333" stroke="#333" stroke-width="0.18" >5</text>
<path d="M252.1 141.3L255.1 141.3" stroke="#444" stroke-width="0.7"/>
<text x="250.9" y="143.8" font-size="7.3" text-anchor="end" fill="#333" stroke="#333" stroke-width="0.18" >0</text>
<path d="M253.5 159.9L255.1 159.9M253.5 122.7L255.1 122.7" stroke="#444" stroke-width="0.6"/>
<path d="M261.1 171.1L261.1 174.1" stroke="#444" stroke-width="0.7"/>
<text x="261.1" y="183.6" font-size="7.3" text-anchor="middle" fill="#333" stroke="#333" stroke-width="0.18" >0</text>
<path d="M275.45 171.1L275.45 172.9" stroke="#444" stroke-width="0.6"/>
<path d="M289.8 171.1L289.8 174.1" stroke="#444" stroke-width="0.7"/>
<text x="289.8" y="183.6" font-size="7.3" text-anchor="middle" fill="#333" stroke="#333" stroke-width="0.18" >20</text>
<path d="M304.15 171.1L304.15 172.9" stroke="#444" stroke-width="0.6"/>
<path d="M318.5 171.1L318.5 174.1" stroke="#444" stroke-width="0.7"/>
<text x="318.5" y="183.6" font-size="7.3" text-anchor="middle" fill="#333" stroke="#333" stroke-width="0.18" >40</text>
<path d="M332.85 171.1L332.85 172.9" stroke="#444" stroke-width="0.6"/>
<path d="M347.2 171.1L347.2 174.1" stroke="#444" stroke-width="0.7"/>
<text x="347.2" y="183.6" font-size="7.3" text-anchor="middle" fill="#333" stroke="#333" stroke-width="0.18" >60</text>
<path d="M361.55 171.1L361.55 172.9" stroke="#444" stroke-width="0.6"/>
<path d="M375.9 171.1L375.9 174.1" stroke="#444" stroke-width="0.7"/>
<text x="375.9" y="183.6" font-size="7.3" text-anchor="middle" fill="#333" stroke="#333" stroke-width="0.18" >80</text>
<path d="M390.25 171.1L390.25 172.9" stroke="#444" stroke-width="0.6"/>
<path d="M404.6 171.1L404.6 174.1" stroke="#444" stroke-width="0.7"/>
<text x="404.6" y="183.6" font-size="7.3" text-anchor="middle" fill="#333" stroke="#333" stroke-width="0.18" >100</text>
<path d="M418.95 171.1L418.95 172.9" stroke="#444" stroke-width="0.6"/>
<path d="M433.3 171.1L433.3 174.1" stroke="#444" stroke-width="0.7"/>
<text x="433.3" y="183.6" font-size="7.3" text-anchor="middle" fill="#333" stroke="#333" stroke-width="0.18" >120</text>
<text x="348.1" y="190.4" font-size="9.5" text-anchor="middle" fill="#222" stroke="#222" stroke-width="0.18" textLength="55.8" lengthAdjust="spacingAndGlyphs">2Θ (degrees)</text>
<text x="239.8" y="89" font-size="9.2" text-anchor="middle" fill="#222" stroke="#222" stroke-width="0.18" transform="rotate(-90 239.8 89)" textLength="79" lengthAdjust="spacingAndGlyphs">Intensity (arb.units)</text>
<text x="456.4" y="13.9" font-size="14" text-anchor="start" fill="#111" stroke="#111" stroke-width="0.18" >c</text>
<path d="M498.1 29.2h0M498.0 28.0h0M498.3 29.6h0M498.3 29.6h0M498.6 30.3h0M498.5 30.3h0M498.9 30.1h0M498.9 33.2h0M498.9 31.6h0M499.1 31.3h0M499.4 32.0h0M499.3 33.4h0M499.7 34.3h0M499.5 34.0h0M499.9 34.9h0M499.9 35.8h0M500.1 35.5h0M500.2 34.8h0M500.3 34.4h0M500.4 38.2h0M500.6 37.4h0M500.6 38.1h0M500.8 38.8h0M500.9 40.4h0M501.2 41.0h0M501.0 39.6h0M501.5 42.1h0M501.3 42.0h0M501.8 41.0h0M501.6 42.4h0M501.9 43.4h0M502.0 43.2h0M502.1 43.7h0M502.0 44.5h0M502.5 43.6h0M502.3 44.3h0M502.6 46.4h0M502.8 43.4h0M503.0 45.8h0M503.0 47.4h0M503.3 46.1h0M503.1 46.6h0M503.4 46.0h0M503.3 47.7h0M503.8 47.6h0M503.8 49.4h0M504.0 49.5h0M503.9 47.1h0M504.3 48.8h0M504.2 45.7h0M504.5 49.4h0M504.5 48.1h0M504.6 50.5h0M504.7 46.6h0M504.9 49.1h0M505.1 51.6h0M505.4 49.4h0M505.2 50.2h0M505.6 46.8h0M505.4 48.2h0M505.7 51.1h0M505.7 49.0h0M506.1 49.7h0M505.9 50.7h0M506.2 51.0h0M506.4 51.0h0M506.4 52.1h0M506.6 50.5h0M506.9 51.8h0M506.8 51.2h0M507.0 51.7h0M507.1 52.3h0M507.4 48.8h0M507.2 51.0h0M507.5 50.7h0M507.6 47.8h0M507.9 52.1h0M508.0 53.1h0M508.2 54.8h0M508.1 54.3h0M508.4 51.7h0M508.3 54.4h0M508.7 55.7h0M508.7 52.7h0M508.8 53.0h0M508.9 50.5h0M509.1 55.2h0M509.1 51.6h0M509.5 56.7h0M509.5 51.5h0M509.7 53.0h0M509.8 54.9h0M510.0 51.9h0M509.8 53.3h0M510.1 52.9h0M510.3 53.8h0M510.3 52.3h0M510.4 53.0h0M510.7 55.5h0M510.6 55.4h0M511.1 55.6h0M510.9 53.2h0M511.2 53.6h0M511.3 54.2h0M511.4 55.0h0M511.5 55.6h0M511.8 54.4h0M511.8 53.7h0M512.0 53.9h0M512.0 52.7h0M512.1 52.6h0M512.3 55.8h0M512.5 51.8h0M512.4 53.1h0M512.7 55.1h0M512.8 55.0h0M512.9 54.9h0M512.9 56.4h0M513.3 56.9h0M513.4 55.9h0M513.5 56.6h0M513.6 60.2h0M513.7 55.3h0M513.9 59.1h0M514.2 56.0h0M514.1 57.0h0M514.3 57.5h0M514.2 55.4h0M514.7 58.0h0M514.5 58.1h0M514.9 56.6h0M514.7 56.5h0M515.0 58.1h0M515.2 58.3h0M515.2 58.3h0M515.2 56.7h0M515.5 56.8h0M515.6 56.3h0M515.8 57.8h0M515.9 58.9h0M516.2 56.8h0M516.0 53.9h0M516.3 55.6h0M516.3 59.4h0M516.5 57.0h0M516.7 58.3h0M516.8 58.4h0M516.9 58.7h0M517.2 59.6h0M517.2 60.7h0M517.5 58.0h0M517.4 60.1h0M517.6 59.5h0M517.5 59.2h0M517.9 58.7h0M518.0 59.6h0M518.3 59.4h0M518.1 59.6h0M518.4 58.8h0M518.3 58.7h0M518.6 57.2h0M518.6 58.5h0M518.9 60.4h0M518.9 58.7h0M519.3 58.4h0M519.1 60.4h0M519.6 60.7h0M519.5 63.1h0M519.7 57.8h0M519.8 59.8h0M520.1 58.3h0M519.9 62.3h0M520.4 63.8h0M520.1 59.8h0M520.4 61.6h0M520.5 60.2h0M520.7 61.7h0M520.7 59.4h0M521.0 61.3h0M521.1 61.1h0M521.2 60.2h0M521.4 61.6h0M521.6 61.7h0M521.5 59.2h0M521.8 61.4h0M521.7 60.8h0M522.0 60.6h0M522.1 61.2h0M522.2 60.7h0M522.4 58.7h0M522.7 60.0h0M522.6 63.6h0M522.9 64.8h0M522.7 62.8h0M523.0 65.0h0M523.1 65.5h0M523.4 63.1h0M523.4 62.9h0M523.5 61.3h0M523.5 60.9h0M523.8 58.4h0M524.0 62.5h0M524.1 62.3h0M524.0 61.2h0M524.4 59.8h0M524.4 61.8h0M524.6 62.6h0M524.7 65.1h0M525.0 59.9h0M524.8 61.6h0M525.2 58.7h0M525.2 58.4h0M525.5 58.1h0M525.3 60.2h0M525.7 59.2h0M525.8 62.4h0M526.0 59.5h0M525.8 60.9h0M526.2 58.0h0M526.3 60.1h0M526.5 58.8h0M526.4 60.0h0M526.6 55.4h0M526.6 57.9h0M527.0 57.1h0M526.9 57.1h0M527.2 55.4h0M527.3 50.3h0M527.5 48.3h0M527.4 50.6h0M527.7 47.2h0M527.8 47.6h0M527.9 41.8h0M527.9 43.9h0M528.3 35.6h0M528.1 41.4h0M528.4 36.8h0M528.6 35.7h0M528.8 36.5h0M528.7 37.2h0M529.1 39.6h0M529.1 41.0h0M529.2 42.4h0M529.3 45.5h0M529.5 46.0h0M529.5 47.7h0M529.8 51.4h0M529.8 52.2h0M530.0 53.1h0M530.0 54.8h0M530.3 53.4h0M530.4 54.7h0M530.6 57.7h0M530.6 58.2h0M530.9 58.8h0M531.0 61.3h0M531.1 59.7h0M531.0 60.3h0M531.4 61.7h0M531.3 61.9h0M531.7 62.5h0M531.5 60.6h0M531.9 61.8h0M531.9 62.9h0M532.2 61.6h0M532.0 61.8h0M532.4 62.6h0M532.3 60.2h0M532.7 63.1h0M532.6 64.6h0M532.8 62.7h0M532.9 64.4h0M533.2 62.0h0M533.1 62.3h0M533.5 63.8h0M533.4 62.6h0M533.6 64.1h0M533.6 64.1h0M534.1 66.4h0M534.0 66.8h0M534.1 64.5h0M534.3 61.5h0M534.6 65.9h0M534.4 64.2h0M534.7 65.2h0M534.8 63.6h0M535.0 65.6h0M534.9 64.6h0M535.2 64.0h0M535.2 65.3h0M535.6 65.1h0M535.6 65.1h0M535.7 64.1h0M535.6 64.0h0M536.1 64.1h0M536.0 64.5h0M536.1 66.6h0M536.2 65.8h0M536.6 64.7h0M536.4 65.2h0M536.8 64.3h0M536.7 67.3h0M537.1 67.0h0M536.9 66.8h0M537.4 65.5h0M537.3 66.7h0M537.5 67.2h0M537.5 65.4h0M537.9 66.7h0M537.8 67.6h0M538.0 65.6h0M538.1 66.4h0M538.3 65.7h0M538.3 65.5h0M538.7 67.4h0M538.7 67.0h0M538.8 66.8h0M538.9 65.7h0M539.1 66.8h0M539.2 65.3h0M539.3 67.6h0M539.3 66.9h0M539.7 65.2h0M539.6 68.9h0M540.0 68.9h0M539.9 66.1h0M540.1 66.1h0M540.2 65.9h0M540.4 66.1h0M540.5 65.9h0M540.5 68.1h0M540.6 67.4h0M540.9 66.8h0M540.8 69.2h0M541.3 69.5h0M541.1 68.5h0M541.5 66.4h0M541.5 66.7h0M541.6 69.6h0M541.6 68.6h0M542.0 68.8h0M541.9 67.9h0M542.1 67.8h0M542.3 68.1h0M542.5 69.5h0M542.5 66.7h0M542.7 66.9h0M542.7 69.7h0M543.0 68.7h0M542.9 66.9h0M543.3 68.1h0M543.3 67.9h0M543.4 69.2h0M543.5 66.7h0M543.7 70.2h0M543.8 67.5h0M544.0 66.4h0M544.1 69.9h0M544.2 67.0h0M544.3 67.8h0M544.4 69.9h0M544.6 68.9h0M544.7 67.1h0M544.9 69.8h0M545.1 69.9h0M545.0 73.2h0M545.3 71.6h0M545.4 69.9h0M545.5 69.6h0M545.5 68.6h0M545.9 68.4h0M545.9 66.8h0M546.1 68.7h0M546.0 65.6h0M546.3 68.7h0M546.3 67.8h0M546.6 71.0h0M546.5 69.2h0M547.0 68.6h0M546.8 68.6h0M547.1 70.7h0M547.1 70.1h0M547.5 71.9h0M547.4 69.7h0M547.6 71.7h0M547.6 68.9h0M547.8 70.0h0M548.0 69.4h0M548.1 69.6h0M548.2 69.8h0M548.3 69.4h0M548.5 70.5h0M548.7 72.9h0M548.7 68.9h0M548.9 71.7h0M549.0 69.5h0M549.2 70.1h0M549.1 70.3h0M549.5 70.7h0M549.5 70.6h0M549.7 70.8h0M549.6 71.0h0M549.8 71.3h0M549.9 70.7h0M550.3 70.4h0M550.2 71.8h0M550.5 71.0h0M550.3 73.1h0M550.8 72.6h0M550.8 73.9h0M550.9 71.8h0M551.0 71.0h0M551.2 70.6h0M551.3 73.5h0M551.5 70.6h0M551.5 73.1h0M551.7 72.3h0M551.7 72.5h0M552.0 69.7h0M552.0 71.7h0M552.3 69.1h0M552.3 70.6h0M552.6 72.5h0M552.5 71.5h0M552.9 70.3h0M552.7 73.3h0M553.1 72.9h0M553.0 72.3h0M553.3 72.8h0M553.2 72.6h0M553.5 70.0h0M553.4 72.2h0M553.9 72.9h0M553.8 73.0h0M554.1 74.4h0M554.1 71.4h0M554.3 73.5h0M554.2 67.7h0M554.5 72.0h0M554.7 73.5h0M554.9 74.4h0M554.8 73.4h0M555.2 72.1h0M555.1 73.5h0M555.5 71.7h0M555.3 71.7h0M555.5 71.8h0M555.6 71.8h0M555.8 72.4h0M556.0 73.2h0M556.2 73.9h0M556.3 74.3h0M556.4 72.5h0M556.5 70.9h0M556.8 71.3h0M556.8 72.7h0M557.0 69.3h0M556.8 72.5h0M557.1 72.2h0M557.1 71.8h0M557.5 70.1h0M557.5 69.2h0M557.7 70.2h0M557.6 70.8h0M558.0 66.5h0M558.0 66.8h0M558.2 66.0h0M558.3 65.5h0M558.4 66.4h0M558.5 64.0h0M558.6 66.9h0M558.7 66.9h0M558.9 65.5h0M558.9 66.8h0M559.3 69.0h0M559.3 69.0h0M559.5 71.1h0M559.6 69.1h0M559.8 70.9h0M559.7 69.9h0M560.1 69.6h0M560.1 70.5h0M560.3 71.6h0M560.3 71.4h0M560.6 72.2h0M560.5 69.9h0M560.8 75.2h0M560.7 73.2h0M561.1 74.0h0M561.0 72.2h0M561.3 73.2h0M561.3 72.8h0M561.6 70.4h0M561.6 72.7h0M561.9 72.0h0M561.9 73.8h0M562.1 74.2h0M562.1 74.7h0M562.2 71.3h0M562.3 74.8h0M562.6 74.0h0M562.6 70.2h0M562.9 72.9h0M562.9 73.4h0M563.2 73.8h0M563.0 75.0h0M563.3 73.0h0M563.5 72.1h0M563.5 74.7h0M563.7 74.2h0M563.9 71.3h0M563.9 74.1h0M564.1 72.6h0M564.2 70.5h0M564.4 74.8h0M564.5 73.7h0M564.6 74.9h0M564.6 76.7h0M565.0 71.9h0M565.0 72.8h0M565.2 74.1h0M565.2 73.0h0M565.4 74.5h0M565.4 75.7h0M565.8 74.6h0M565.7 74.7h0M566.0 75.1h0M565.9 72.2h0M566.2 74.9h0M566.3 75.2h0M566.5 73.5h0M566.4 73.1h0M566.7 71.4h0M566.8 73.3h0M566.9 75.6h0M566.9 74.9h0M567.3 72.3h0M567.3 74.6h0M567.4 73.0h0M567.6 71.0h0M567.8 75.6h0M567.6 75.7h0M568.1 73.8h0M568.0 73.6h0M568.3 72.3h0M568.2 75.8h0M568.5 72.6h0M568.5 73.8h0M568.8 75.7h0M568.9 73.6h0M569.0 72.5h0M569.0 70.7h0M569.4 73.8h0M569.3 72.0h0M569.5 74.6h0M569.7 71.1h0M569.9 71.9h0M569.7 70.2h0M570.0 73.7h0M570.2 73.0h0M570.4 72.9h0M570.3 68.5h0M570.7 70.3h0M570.6 72.6h0M570.9 69.2h0M570.9 67.3h0M571.1 66.1h0M571.1 66.7h0M571.5 66.6h0M571.4 65.8h0M571.5 67.3h0M571.5 66.7h0M571.8 61.9h0M571.8 61.4h0M572.2 61.7h0M572.2 63.9h0M572.5 62.7h0M572.5 61.9h0M572.6 59.3h0M572.5 62.4h0M572.9 64.8h0M573.0 64.8h0M573.1 65.2h0M573.1 64.9h0M573.5 66.7h0M573.5 63.6h0M573.7 68.3h0M573.7 70.6h0M574.0 67.9h0M574.0 70.5h0M574.2 71.0h0M574.3 71.0h0M574.5 70.3h0M574.5 70.6h0M574.8 70.4h0M574.8 71.5h0M574.9 71.0h0M575.0 72.6h0M575.4 72.0h0M575.1 71.7h0M575.5 70.8h0M575.5 72.5h0M575.8 70.9h0M575.8 67.4h0M576.2 66.6h0M576.0 66.4h0M576.4 66.3h0M576.2 66.8h0M576.5 65.4h0M576.5 66.9h0M576.7 68.5h0M576.9 68.9h0M577.2 69.3h0M577.0 68.5h0M577.2 70.1h0M577.3 71.0h0M577.7 71.9h0M577.6 72.9h0M577.9 69.5h0M577.9 72.1h0M578.1 76.1h0M578.2 72.3h0M578.3 75.0h0M578.3 74.3h0M578.7 74.7h0M578.6 73.2h0M578.8 74.8h0M578.9 74.5h0M579.1 75.3h0M579.2 71.9h0M579.4 75.4h0M579.4 76.6h0M579.7 77.4h0M579.7 75.6h0M580.0 76.4h0M579.8 75.4h0M580.1 75.2h0M580.1 77.4h0M580.5 75.8h0M580.3 76.9h0M580.7 77.0h0M580.6 77.3h0M580.9 76.4h0M580.9 77.1h0M581.3 77.2h0M581.3 76.7h0M581.4 78.0h0M581.5 74.3h0M581.8 75.4h0M581.8 76.8h0M581.9 75.8h0M582.0 77.6h0M582.3 76.2h0M582.1 78.4h0M582.4 76.4h0M582.4 76.2h0M582.8 76.9h0M582.7 75.3h0M583.1 77.5h0M582.9 76.2h0M583.3 75.6h0M583.3 75.6h0M583.6 76.4h0M583.5 74.1h0M583.8 75.3h0M583.9 75.5h0M584.1 77.4h0M583.9 76.3h0M584.2 77.2h0M584.3 73.6h0M584.6 75.9h0M584.6 77.5h0M584.9 75.2h0M584.8 74.9h0M585.1 77.3h0M585.1 76.2h0M585.3 72.9h0M585.2 76.4h0M585.7 76.0h0M585.6 72.0h0M585.8 76.5h0M585.8 78.1h0M586.0 77.8h0M586.0 76.3h0M586.4 75.3h0M586.4 77.7h0M586.7 79.3h0M586.6 75.6h0M586.9 76.7h0M587.0 77.1h0M587.2 77.6h0M587.1 74.8h0M587.4 76.6h0M587.4 78.2h0M587.5 77.8h0M587.6 77.0h0M587.9 78.4h0M588.0 77.0h0M588.2 74.6h0M588.1 75.1h0M588.4 74.8h0M588.4 74.8h0M588.6 76.0h0M588.6 75.7h0M589.1 78.5h0M588.8 75.1h0M589.3 75.1h0M589.2 75.7h0M589.4 75.6h0M589.4 77.5h0M589.8 76.3h0M589.7 78.0h0M589.9 76.3h0M589.9 76.0h0M590.1 76.2h0M590.3 73.5h0M590.4 76.1h0M590.6 74.1h0M590.7 74.0h0M590.7 74.6h0M591.0 72.5h0M591.1 72.6h0M591.3 72.7h0M591.2 71.0h0M591.5 71.7h0M591.4 70.8h0M591.7 71.7h0M591.8 71.3h0M591.9 68.8h0M592.1 64.7h0M592.4 68.2h0M592.3 68.9h0M592.7 66.4h0M592.5 66.6h0M592.8 65.1h0M592.9 63.4h0M593.0 65.0h0M593.1 64.1h0M593.4 65.5h0M593.4 66.4h0M593.7 67.5h0M593.6 65.8h0M593.9 67.8h0M593.8 65.4h0M594.0 68.5h0M594.1 69.5h0M594.5 73.1h0M594.3 71.7h0M594.6 71.3h0M594.7 72.3h0M594.8 70.5h0M594.9 74.3h0M595.0 73.0h0M595.1 74.2h0M595.5 78.2h0M595.3 76.5h0M595.8 75.5h0M595.7 76.3h0M595.9 77.1h0M595.8 74.4h0M596.1 76.7h0M596.2 76.1h0M596.4 75.7h0M596.4 77.5h0M596.7 76.2h0M596.6 78.4h0M596.8 79.1h0M596.9 75.8h0M597.3 75.8h0M597.2 76.5h0M597.6 78.9h0M597.6 78.3h0M597.8 79.2h0M597.7 79.2h0M598.0 77.9h0M598.0 78.7h0M598.2 76.5h0M598.2 80.4h0M598.4 79.0h0M598.4 80.0h0M598.7 80.2h0M598.7 75.8h0M599.1 76.4h0M599.1 78.0h0M599.4 78.0h0M599.2 77.8h0M599.6 78.7h0M599.5 83.2h0M599.8 82.0h0M599.9 78.1h0M600.0 82.6h0M600.2 77.0h0M600.2 77.8h0M600.4 78.6h0M600.5 78.6h0M600.6 78.1h0M600.8 80.0h0M600.9 76.5h0M601.0 79.5h0M601.2 80.5h0M601.4 76.5h0M601.4 78.9h0M601.5 78.6h0M601.7 77.4h0M601.9 75.9h0M601.8 79.1h0M602.1 78.7h0M602.2 80.8h0M602.4 78.6h0M602.4 76.3h0M602.7 79.5h0M602.6 79.8h0M602.8 80.7h0M602.8 80.1h0M603.2 79.7h0M603.0 78.0h0M603.4 77.2h0M603.4 80.5h0M603.6 76.8h0M603.6 75.6h0M603.9 76.0h0M603.9 78.3h0M604.2 76.0h0M604.3 77.9h0M604.4 78.9h0M604.4 79.3h0M604.8 80.0h0M604.7 78.1h0M605.0 77.3h0M605.0 80.8h0M605.1 81.2h0M605.2 76.8h0M605.6 80.6h0M605.5 75.9h0M605.7 78.8h0M605.6 81.4h0M605.9 78.5h0M606.1 78.7h0M606.2 82.7h0M606.3 80.8h0M606.5 78.8h0M606.6 83.0h0M606.8 80.4h0M606.7 80.5h0M606.9 78.4h0M607.1 79.5h0M607.2 82.0h0M607.3 83.6h0M607.6 82.2h0M607.7 81.6h0M607.8 81.8h0M607.7 82.4h0M608.0 83.3h0M608.0 80.1h0M608.2 82.6h0M608.4 83.2h0M608.6 82.0h0M608.5 82.0h0M608.9 82.4h0M608.7 80.6h0M609.1 83.9h0M609.1 82.1h0M609.2 81.1h0M609.4 83.3h0M609.7 82.5h0M609.5 81.7h0M609.8 82.0h0M610.0 82.8h0M610.2 84.7h0M610.0 84.1h0M610.4 83.0h0M610.3 83.4h0M610.6 83.5h0M610.7 83.9h0M610.9 85.7h0M611.0 82.3h0M611.1 84.8h0M611.3 81.1h0M611.3 79.3h0M611.4 82.3h0M611.7 82.8h0M611.7 84.4h0M611.8 84.9h0M612.0 84.2h0M612.1 82.2h0M612.2 83.6h0M612.6 86.1h0M612.5 82.6h0M612.7 84.5h0M612.7 82.7h0M613.1 84.0h0M612.9 85.0h0M613.2 84.7h0M613.1 82.9h0M613.4 84.9h0M613.4 82.2h0M613.9 85.4h0M613.7 82.1h0M613.9 86.2h0M613.9 85.8h0M614.2 83.5h0M614.3 82.3h0M614.5 84.9h0M614.4 83.3h0M614.8 85.8h0M614.8 85.9h0M615.0 84.5h0M615.1 81.4h0M615.2 84.9h0M615.3 86.8h0M615.7 88.1h0M615.7 84.7h0M615.9 83.7h0M615.8 85.1h0M616.1 84.4h0M616.1 85.7h0M616.4 82.9h0M616.4 83.9h0M616.7 86.7h0M616.7 85.6h0M616.8 83.0h0M616.8 84.8h0M617.1 88.1h0M617.2 85.3h0M617.4 85.5h0M617.4 88.7h0M617.6 84.1h0M617.6 82.8h0M617.9 85.6h0M617.9 86.1h0M618.2 85.2h0M618.0 85.5h0M618.4 85.0h0M618.4 84.1h0M618.7 87.2h0M618.6 85.4h0M619.0 82.2h0M619.0 85.1h0M619.1 84.8h0M619.2 84.4h0M619.3 86.1h0M619.5 87.0h0M619.6 81.7h0M619.7 84.9h0M619.9 86.4h0M619.9 83.7h0M620.1 85.5h0M620.2 86.3h0M620.5 85.6h0M620.4 86.9h0M620.8 86.3h0M620.6 83.6h0M621.0 84.6h0M620.9 85.2h0M621.2 82.9h0M621.3 83.7h0M621.5 85.2h0M621.4 86.8h0M621.7 85.3h0M621.8 82.6h0M622.0 85.7h0M621.9 81.3h0M622.4 84.5h0M622.2 86.3h0M622.5 84.8h0M622.5 82.0h0M622.9 84.8h0M622.9 83.3h0M623.1 82.8h0M623.2 84.6h0M623.2 82.2h0M623.3 81.7h0M623.5 82.6h0M623.5 86.3h0M623.9 83.3h0M623.9 82.7h0M624.0 82.5h0M624.2 81.2h0M624.3 83.5h0M624.4 83.9h0M624.5 87.0h0M624.6 85.8h0M625.0 82.7h0M624.9 85.9h0M625.0 84.7h0M625.2 86.9h0M625.3 85.0h0M625.5 86.4h0M625.6 84.0h0M625.7 84.8h0M625.8 84.3h0M625.9 87.1h0M626.2 85.2h0M626.1 83.7h0M626.3 89.6h0M626.3 85.9h0M626.7 85.2h0M626.7 83.9h0M627.0 84.2h0M627.0 84.2h0M627.1 84.6h0M627.1 84.0h0M627.4 85.4h0M627.5 85.3h0M627.7 86.9h0M627.7 85.5h0M628.0 85.5h0M627.9 82.9h0M628.1 86.8h0M628.2 84.8h0M628.5 85.6h0M628.4 85.1h0M628.7 83.6h0M628.8 85.2h0M629.1 86.4h0M629.0 84.9h0M629.3 83.6h0M629.2 84.6h0M629.6 84.0h0M629.6 87.0h0M629.7 83.6h0M629.7 85.7h0M630.0 86.7h0M630.1 84.4h0M630.2 86.9h0M630.2 84.5h0M630.6 82.4h0M630.6 85.5h0M630.7 86.0h0M630.8 83.0h0M631.0 83.6h0M631.0 83.3h0M631.4 87.0h0M631.2 85.6h0M631.4 81.5h0M631.6 85.3h0M631.8 84.5h0M631.9 83.4h0M632.2 82.9h0M632.1 83.7h0M632.2 86.9h0M632.3 82.2h0M632.7 83.9h0M632.7 80.6h0M632.8 80.1h0M632.8 83.5h0M633.2 80.4h0M633.1 78.7h0M633.5 77.4h0M633.4 78.7h0M633.6 80.4h0M633.5 79.2h0M634.0 80.1h0M633.9 76.6h0M634.3 77.9h0M634.1 76.6h0M634.4 82.1h0M634.4 79.2h0M634.6 79.3h0M634.8 79.4h0M635.0 81.2h0M635.0 78.6h0M635.1 80.8h0M635.3 77.4h0M635.4 81.1h0M635.5 81.4h0M635.7 82.3h0M635.7 80.5h0M635.9 81.4h0M636.0 83.4h0M636.1 86.9h0M636.2 83.1h0M636.5 84.4h0M636.4 83.1h0M636.8 85.1h0M636.6 83.1h0M636.9 85.6h0M636.9 83.6h0M637.2 84.6h0M637.4 83.0h0M637.5 84.7h0M637.4 83.6h0M637.7 85.1h0M637.8 85.1h0M638.0 85.9h0M638.0 86.8h0M638.3 84.7h0M638.4 85.1h0M638.4 82.8h0M638.5 84.4h0M638.7 82.4h0M638.9 82.4h0M639.1 84.8h0M639.1 86.7h0M639.2 85.6h0M639.2 83.8h0M639.6 85.4h0M639.6 83.7h0M639.9 85.9h0M639.9 85.2h0M640.1 84.0h0M640.0 84.4h0M640.3 84.9h0M640.2 85.0h0M640.7 84.6h0M640.7 85.6h0M640.9 84.0h0M641.0 86.3h0M641.1 81.1h0M641.1 85.2h0M641.5 86.7h0M641.3 87.9h0M641.8 86.9h0M641.6 85.0h0M642.0 86.3h0M642.0 83.9h0M642.2 86.1h0M642.2 87.1h0M642.4 86.1h0M642.4 86.4h0M642.7 85.9h0M642.7 87.3h0M642.9 85.8h0M642.9 88.4h0M643.2 85.4h0M643.1 85.8h0M643.4 85.9h0M643.6 86.8h0M643.7 85.7h0M643.6 85.4h0M644.0 88.2h0M644.0 84.2h0M644.2 85.9h0M644.2 84.9h0M644.6 83.4h0M644.4 87.4h0M644.8 87.1h0M644.7 87.0h0M644.9 85.6h0M644.9 87.1h0M645.4 86.9h0M645.2 83.1h0M645.5 85.9h0M645.5 85.0h0M645.9 84.1h0M645.7 83.4h0M646.0 87.6h0M646.1 84.9h0M646.3 84.4h0M646.2 83.9h0M646.6 86.4h0M646.6 86.1h0M646.8 85.1h0M646.8 85.3h0M647.1 85.8h0M647.0 86.2h0M647.3 85.5h0M647.4 85.7h0M647.7 84.8h0M647.6 86.1h0M647.8 86.6h0M647.9 85.8h0M648.0 85.3h0M648.0 83.5h0M648.4 85.4h0M648.2 88.0h0M648.7 81.4h0M648.6 82.9h0M648.9 83.6h0M648.8 83.8h0M649.2 84.0h0M649.2 81.4h0M649.4 85.6h0M649.4 82.7h0M649.8 81.9h0M649.7 79.8h0M649.8 83.0h0M649.9 80.4h0M650.1 81.5h0M650.0 83.8h0M650.4 83.0h0M650.3 79.8h0M650.6 82.2h0M650.6 80.7h0M650.9 76.6h0M651.0 79.9h0M651.1 77.3h0M651.1 75.0h0M651.4 74.3h0M651.4 75.2h0M651.8 74.9h0M651.7 71.7h0M652.0 71.7h0M652.0 72.0h0M652.1 73.1h0M652.2 74.5h0M652.5 68.8h0M652.4 70.4h0M652.7 71.0h0M652.9 66.6h0M652.9 67.4h0M653.1 68.5h0M653.3 68.3h0M653.2 66.8h0M653.4 67.1h0M653.4 69.3h0M653.8 68.1h0M653.9 70.2h0M654.0 72.4h0M654.1 71.5h0M654.3 72.4h0M654.4 71.2h0M654.4 72.5h0M654.6 77.8h0M654.8 77.5h0M654.9 75.4h0M654.9 76.4h0M655.0 78.4h0M655.4 80.3h0M655.2 76.2h0M655.6 84.0h0M655.7 79.0h0M655.9 80.0h0M655.8 82.2h0M656.1 82.7h0M656.2 82.1h0M656.2 82.6h0M656.5 82.7h0M656.7 82.1h0M656.7 84.9h0M656.9 84.3h0M656.9 83.6h0M657.2 85.4h0M657.2 84.8h0M657.3 82.7h0M657.4 87.9h0M657.7 84.9h0M657.7 86.1h0M657.9 87.2h0M658.0 85.9h0M658.1 85.1h0M658.3 84.6h0M658.5 87.0h0M658.5 84.9h0M658.8 83.9h0M658.6 85.7h0M658.9 85.0h0M658.9 85.3h0M659.2 85.1h0M659.2 87.5h0M659.4 84.3h0M659.6 85.4h0M659.6 83.4h0M659.8 84.9h0M659.9 87.4h0M660.0 84.4h0M660.2 84.1h0M660.2 84.5h0M660.5 86.5h0M660.5 86.7h0M660.7 84.1h0M660.8 87.2h0M660.9 84.8h0M661.1 85.8h0M661.2 87.0h0M661.2 86.6h0M661.5 86.8h0M661.6 85.2h0M661.9 86.9h0M661.7 86.1h0M662.0 86.3h0M662.1 85.4h0M662.2 84.4h0M662.2 88.1h0M662.5 85.3h0M662.6 86.9h0M662.8 86.1h0M662.9 86.0h0M663.2 83.5h0M663.2 83.6h0M663.2 86.1h0M663.4 86.1h0M663.6 83.6h0M663.7 85.0h0M664.0 82.9h0M663.9 86.7h0M664.2 84.0h0M664.2 86.4h0M664.4 89.9h0M664.3 84.5h0M664.8 86.9h0M664.5 84.5h0M664.9 86.0h0M665.0 83.7h0M665.1 87.5h0M665.2 87.8h0M665.5 83.2h0M665.4 83.9h0M665.6 85.3h0M665.5 87.8h0M665.8 84.1h0M666.0 81.7h0M666.2 85.8h0M666.1 85.9h0M666.3 86.5h0M666.5 84.6h0M666.8 85.3h0M666.8 87.4h0M666.9 86.3h0M666.9 83.8h0M667.1 86.8h0M667.1 84.8h0M667.4 83.6h0M667.3 84.0h0M667.9 87.6h0M667.7 84.2h0M668.1 86.6h0M668.0 88.0h0M668.1 84.6h0M668.2 87.4h0M668.5 85.3h0M668.6 83.1h0M668.8 84.1h0M668.8 85.1h0M668.9 83.5h0M669.0 84.7h0M669.3 83.6h0M669.3 83.1h0M669.7 86.2h0M669.4 82.3h0M669.9 84.9h0M669.8 84.6h0M670.1 84.3h0M670.0 85.0h0M670.3 85.2h0M670.3 83.8h0M670.7 85.4h0M670.5 83.8h0M670.9 83.4h0M670.7 85.3h0M671.2 84.9h0M671.1 83.6h0M671.4 84.4h0M671.3 83.4h0M671.7 84.4h0M671.7 84.8h0M671.8 84.6h0M672.0 83.8h0M672.1 82.5h0M672.2 86.6h0M672.3 84.9h0M672.5 84.7h0M672.6 85.3h0M672.6 84.8h0M673.0 82.3h0M672.8 82.6h0M673.1 84.8h0M673.3 86.0h0M673.5 83.3h0M673.4 83.2h0M673.6 85.6h0M673.6 83.6h0M673.8 83.2h0M674.0 82.8h0M674.3 84.4h0M674.1 83.0h0M674.3 83.9h0M674.5 82.4h0M674.8 83.2h0M674.7 82.7h0M675.1 83.5h0M674.9 83.9h0M675.3 83.1h0M675.2 82.2h0M675.5 84.0h0M675.5 82.9h0" stroke="#ee2a24" stroke-width="1.9" stroke-linecap="round" fill="none"/>
<polyline points="498.0,28.7 498.3,29.8 498.5,30.8 498.8,31.9 499.1,33.0 499.3,34.0 499.6,35.1 499.8,36.2 500.1,37.3 500.4,38.3 500.6,39.4 500.9,40.5 501.1,41.6 501.4,42.6 501.6,43.3 501.9,43.9 502.2,44.4 502.4,44.9 502.7,45.4 502.9,46.0 503.2,46.5 503.5,47.0 503.7,47.5 504.0,48.1 504.2,48.6 504.5,49.1 504.7,49.6 505.0,50.1 505.3,50.3 505.5,50.6 505.8,50.8 506.0,51.0 506.3,51.3 506.5,51.5 506.8,51.8 507.1,52.0 507.3,52.2 507.6,52.5 507.8,52.7 508.1,53.0 508.4,53.2 508.6,53.5 508.9,53.6 509.1,53.8 509.4,54.0 509.6,54.2 509.9,54.3 510.2,54.5 510.4,54.7 510.7,54.9 510.9,55.1 511.2,55.2 511.5,55.4 511.7,55.6 512.0,55.8 512.2,56.0 512.5,56.1 512.7,56.3 513.0,56.5 513.3,56.7 513.5,56.8 513.8,57.0 514.0,57.2 514.3,57.4 514.6,57.5 514.8,57.7 515.1,57.9 515.3,58.0 515.6,58.2 515.8,58.4 516.1,58.5 516.4,58.7 516.6,58.8 516.9,59.0 517.1,59.2 517.4,59.3 517.7,59.5 517.9,59.7 518.2,59.8 518.4,60.0 518.7,60.1 518.9,60.3 519.2,60.5 519.5,60.6 519.7,60.8 520.0,60.9 520.2,61.1 520.5,61.2 520.8,61.4 521.0,61.5 521.3,61.7 521.5,61.8 521.8,62.0 522.0,62.1 522.3,62.2 522.6,62.4 522.8,62.4 523.1,62.4 523.3,62.3 523.6,62.3 523.9,62.3 524.1,62.2 524.4,62.2 524.6,62.1 524.9,62.0 525.1,61.8 525.4,61.6 525.7,61.4 525.9,61.0 526.2,60.4 526.4,59.6 526.7,58.4 527.0,56.6 527.2,54.2 527.5,51.0 527.7,47.2 528.0,43.1 528.2,39.5 528.5,37.5 528.8,38.0 529.0,40.7 529.3,44.6 529.5,48.7 529.8,52.4 530.1,55.4 530.3,57.6 530.6,59.3 530.8,60.4 531.1,61.2 531.3,61.8 531.6,62.2 531.9,62.5 532.1,62.9 532.4,63.2 532.6,63.4 532.9,63.7 533.2,63.9 533.4,64.1 533.7,64.3 533.9,64.5 534.2,64.7 534.4,64.8 534.7,65.0 535.0,65.2 535.2,65.3 535.5,65.5 535.7,65.7 536.0,65.8 536.3,66.0 536.5,66.1 536.8,66.2 537.0,66.4 537.3,66.5 537.5,66.7 537.8,66.8 538.1,67.0 538.3,67.1 538.6,67.2 538.8,67.4 539.1,67.5 539.4,67.6 539.6,67.7 539.9,67.8 540.1,67.9 540.4,68.0 540.6,68.1 540.9,68.2 541.2,68.4 541.4,68.5 541.7,68.6 541.9,68.7 542.2,68.8 542.5,68.9 542.7,69.0 543.0,69.1 543.2,69.2 543.5,69.3 543.7,69.4 544.0,69.5 544.3,69.6 544.5,69.7 544.8,69.9 545.0,70.0 545.3,70.1 545.6,70.2 545.8,70.3 546.1,70.4 546.3,70.5 546.6,70.6 546.8,70.7 547.1,70.8 547.4,70.9 547.6,71.0 547.9,71.1 548.1,71.2 548.4,71.3 548.7,71.4 548.9,71.5 549.2,71.6 549.4,71.7 549.7,71.8 549.9,71.9 550.2,72.0 550.5,72.1 550.7,72.2 551.0,72.3 551.2,72.4 551.5,72.4 551.8,72.5 552.0,72.6 552.3,72.7 552.5,72.8 552.8,72.9 553.0,73.0 553.3,73.1 553.6,73.1 553.8,73.2 554.1,73.3 554.3,73.4 554.6,73.4 554.9,73.5 555.1,73.4 555.4,73.4 555.6,73.3 555.9,73.2 556.1,73.0 556.4,72.7 556.7,72.2 556.9,71.7 557.2,70.9 557.4,70.0 557.7,69.0 558.0,68.1 558.2,67.4 558.5,67.1 558.7,67.5 559.0,68.4 559.2,69.4 559.5,70.4 559.8,71.3 560.0,72.0 560.3,72.6 560.5,73.0 560.8,73.3 561.1,73.6 561.3,73.7 561.6,73.8 561.8,73.9 562.1,74.0 562.3,74.1 562.6,74.1 562.9,74.2 563.1,74.2 563.4,74.2 563.6,74.3 563.9,74.3 564.2,74.3 564.4,74.4 564.7,74.4 564.9,74.4 565.2,74.4 565.4,74.4 565.7,74.4 566.0,74.4 566.2,74.4 566.5,74.4 566.7,74.4 567.0,74.4 567.3,74.4 567.5,74.4 567.8,74.3 568.0,74.3 568.3,74.3 568.5,74.2 568.8,74.1 569.1,73.9 569.3,73.7 569.6,73.4 569.8,73.0 570.1,72.4 570.4,71.6 570.6,70.6 570.9,69.3 571.1,67.8 571.4,66.2 571.6,64.6 571.9,63.1 572.2,62.1 572.4,61.9 572.7,62.5 572.9,63.7 573.2,65.3 573.4,67.0 573.7,68.5 574.0,69.8 574.2,70.8 574.5,71.4 574.7,71.8 575.0,71.7 575.3,71.4 575.5,70.8 575.8,70.0 576.0,69.2 576.3,68.6 576.5,68.5 576.8,69.0 577.1,70.0 577.3,71.1 577.6,72.3 577.8,73.3 578.1,74.1 578.4,74.8 578.6,75.3 578.9,75.6 579.1,75.9 579.4,76.1 579.6,76.3 579.9,76.4 580.2,76.5 580.4,76.6 580.7,76.7 580.9,76.8 581.2,76.9 581.5,76.9 581.7,77.0 582.0,77.0 582.2,77.0 582.5,77.1 582.7,77.1 583.0,77.1 583.3,77.1 583.5,77.1 583.8,77.1 584.0,77.2 584.3,77.2 584.6,77.2 584.8,77.2 585.1,77.2 585.3,77.2 585.6,77.2 585.8,77.2 586.1,77.2 586.4,77.2 586.6,77.2 586.9,77.1 587.1,77.1 587.4,77.1 587.7,77.1 587.9,77.0 588.2,77.0 588.4,76.9 588.7,76.9 588.9,76.8 589.2,76.8 589.5,76.6 589.7,76.5 590.0,76.2 590.2,75.9 590.5,75.5 590.8,74.9 591.0,74.1 591.3,73.1 591.5,72.0 591.8,70.6 592.0,69.2 592.3,67.7 592.6,66.5 592.8,65.7 593.1,65.5 593.3,66.1 593.6,67.2 593.9,68.6 594.1,70.2 594.4,71.6 594.6,73.0 594.9,74.1 595.1,75.1 595.4,75.9 595.7,76.5 595.9,76.9 596.2,77.3 596.4,77.6 596.7,77.9 597.0,78.1 597.2,78.3 597.5,78.5 597.7,78.7 598.0,78.8 598.2,78.9 598.5,79.1 598.8,79.2 599.0,79.3 599.3,79.4 599.5,79.5 599.8,79.6 600.1,79.7 600.3,79.8 600.6,79.8 600.8,79.9 601.1,79.9 601.3,79.9 601.6,79.8 601.9,79.7 602.1,79.6 602.4,79.4 602.6,79.2 602.9,78.9 603.2,78.6 603.4,78.3 603.7,78.0 603.9,77.9 604.2,77.9 604.4,78.0 604.7,78.4 605.0,78.8 605.2,79.3 605.5,79.8 605.7,80.2 606.0,80.7 606.3,81.1 606.5,81.4 606.8,81.7 607.0,82.0 607.3,82.2 607.5,82.4 607.8,82.5 608.1,82.7 608.3,82.8 608.6,83.0 608.8,83.1 609.1,83.2 609.4,83.3 609.6,83.4 609.9,83.5 610.1,83.6 610.4,83.7 610.6,83.8 610.9,83.9 611.2,84.0 611.4,84.1 611.7,84.2 611.9,84.3 612.2,84.4 612.5,84.5 612.7,84.6 613.0,84.7 613.2,84.8 613.5,84.8 613.7,84.9 614.0,85.0 614.3,85.1 614.5,85.2 614.8,85.2 615.0,85.2 615.3,85.3 615.6,85.3 615.8,85.3 616.1,85.3 616.3,85.4 616.6,85.4 616.8,85.4 617.1,85.4 617.4,85.4 617.6,85.5 617.9,85.5 618.1,85.5 618.4,85.5 618.7,85.5 618.9,85.5 619.2,85.5 619.4,85.5 619.7,85.5 619.9,85.5 620.2,85.5 620.5,85.5 620.7,85.4 621.0,85.4 621.2,85.3 621.5,85.2 621.8,85.1 622.0,85.0 622.3,84.8 622.5,84.7 622.8,84.5 623.0,84.4 623.3,84.3 623.6,84.3 623.8,84.3 624.1,84.4 624.3,84.5 624.6,84.7 624.9,84.9 625.1,85.0 625.4,85.2 625.6,85.3 625.9,85.4 626.1,85.5 626.4,85.6 626.7,85.6 626.9,85.7 627.2,85.7 627.4,85.7 627.7,85.7 628.0,85.8 628.2,85.7 628.5,85.7 628.7,85.7 629.0,85.7 629.2,85.7 629.5,85.6 629.8,85.6 630.0,85.6 630.3,85.5 630.5,85.4 630.8,85.3 631.1,85.2 631.3,85.0 631.6,84.7 631.8,84.4 632.1,84.0 632.3,83.6 632.6,83.0 632.9,82.4 633.1,81.6 633.4,80.9 633.6,80.2 633.9,79.6 634.2,79.2 634.4,79.1 634.7,79.3 634.9,79.8 635.2,80.5 635.4,81.2 635.7,82.0 636.0,82.7 636.2,83.3 636.5,83.9 636.7,84.3 637.0,84.7 637.2,85.0 637.5,85.2 637.8,85.4 638.0,85.6 638.3,85.7 638.5,85.8 638.8,85.8 639.1,85.9 639.3,86.0 639.6,86.0 639.8,86.1 640.1,86.1 640.3,86.1 640.6,86.2 640.9,86.2 641.1,86.2 641.4,86.3 641.6,86.3 641.9,86.3 642.2,86.3 642.4,86.3 642.7,86.3 642.9,86.3 643.2,86.4 643.4,86.4 643.7,86.4 644.0,86.4 644.2,86.4 644.5,86.4 644.7,86.3 645.0,86.3 645.3,86.3 645.5,86.3 645.8,86.3 646.0,86.3 646.3,86.2 646.5,86.2 646.8,86.1 647.1,86.1 647.3,86.0 647.6,85.9 647.8,85.9 648.1,85.7 648.4,85.6 648.6,85.4 648.9,85.2 649.1,84.9 649.4,84.5 649.6,84.1 649.9,83.5 650.2,82.8 650.4,81.9 650.7,80.9 650.9,79.7 651.2,78.3 651.5,76.7 651.7,75.1 652.0,73.3 652.2,71.7 652.5,70.2 652.7,69.0 653.0,68.4 653.3,68.4 653.5,69.0 653.8,70.1 654.0,71.6 654.3,73.3 654.6,75.1 654.8,76.8 655.1,78.4 655.3,79.8 655.6,81.1 655.8,82.2 656.1,83.1 656.4,83.9 656.6,84.5 656.9,85.0 657.1,85.4 657.4,85.8 657.7,86.1 657.9,86.3 658.2,86.5 658.4,86.6 658.7,86.8 658.9,86.8 659.2,86.9 659.5,86.9 659.7,86.9 660.0,86.9 660.2,86.9 660.5,86.9 660.8,86.9 661.0,86.9 661.3,86.8 661.5,86.8 661.8,86.8 662.0,86.8 662.3,86.7 662.6,86.7 662.8,86.7 663.1,86.6 663.3,86.6 663.6,86.5 663.9,86.5 664.1,86.5 664.4,86.4 664.6,86.4 664.9,86.3 665.1,86.3 665.4,86.2 665.7,86.2 665.9,86.2 666.2,86.1 666.4,86.1 666.7,86.0 667.0,86.0 667.2,85.9 667.5,85.9 667.7,85.8 668.0,85.8 668.2,85.7 668.5,85.7 668.8,85.6 669.0,85.6 669.3,85.5 669.5,85.4 669.8,85.4 670.1,85.3 670.3,85.3 670.6,85.2 670.8,85.2 671.1,85.1 671.3,85.1 671.6,85.0 671.9,84.9 672.1,84.9 672.4,84.8 672.6,84.8 672.9,84.7 673.2,84.7 673.4,84.6 673.7,84.5 673.9,84.5 674.2,84.4 674.4,84.4 674.7,84.3 675.0,84.3 675.2,84.2 675.5,84.1" stroke="#111" stroke-width="1.15" fill="none" stroke-linejoin="round" />
<path d="M528.4 98.6L528.4 103.7M529.5 98.6L529.5 103.7M531.1 98.6L531.1 103.7M538.1 98.6L538.1 103.7M556.4 98.6L556.4 103.7M561.2 98.6L561.2 103.7M565.8 98.6L565.8 103.7M575.1 98.6L575.1 103.7M576.2 98.6L576.2 103.7M581.5 98.6L581.5 103.7M597.8 98.6L597.8 103.7M599.6 98.6L599.6 103.7M601.5 98.6L601.5 103.7M609.1 98.6L609.1 103.7M611 98.6L611 103.7M614.2 98.6L614.2 103.7M615.7 98.6L615.7 103.7M618.3 98.6L618.3 103.7M626.3 98.6L626.3 103.7M633.2 98.6L633.2 103.7M640.5 98.6L640.5 103.7M642.4 98.6L642.4 103.7M644.1 98.6L644.1 103.7M646.6 98.6L646.6 103.7M650.3 98.6L650.3 103.7M659.7 98.6L659.7 103.7M661.6 98.6L661.6 103.7M663.1 98.6L663.1 103.7M664.6 98.6L664.6 103.7M666.3 98.6L666.3 103.7M675.5 98.6L675.5 103.7M528.8 105.3L528.8 110.4M536.3 105.3L536.3 110.4M558.6 105.3L558.6 110.4M572.5 105.3L572.5 110.4M576.9 105.3L576.9 110.4M593.3 105.3L593.3 110.4M604.4 105.3L604.4 110.4M608.4 105.3L608.4 110.4M623.4 105.3L623.4 110.4M634.3 105.3L634.3 110.4M653.3 105.3L653.3 110.4M665 105.3L665 110.4M669.4 105.3L669.4 110.4" stroke="#333" stroke-width="0.75"/>
<path d="M497.4 144.5h0M497.4 140.2h0M497.7 140.1h0M497.7 148.0h0M497.9 134.2h0M497.8 142.8h0M498.1 138.1h0M498.0 139.3h0M498.3 138.4h0M498.3 140.6h0M498.4 139.6h0M498.4 140.6h0M498.7 142.3h0M498.7 136.3h0M498.9 140.3h0M499.0 139.5h0M499.2 143.2h0M499.2 143.5h0M499.4 140.2h0M499.4 146.7h0M499.7 135.1h0M499.7 142.5h0M499.7 142.2h0M499.8 143.0h0M500.0 140.4h0M500.1 138.8h0M500.3 138.0h0M500.3 143.7h0M500.4 145.5h0M500.6 141.5h0M500.6 141.5h0M500.7 144.0h0M500.8 136.0h0M500.8 145.2h0M501.1 144.6h0M501.2 137.2h0M501.4 142.6h0M501.4 141.8h0M501.4 144.5h0M501.6 146.1h0M501.8 144.0h0M501.8 147.9h0M502.0 138.1h0M502.0 139.9h0M502.1 133.4h0M502.2 141.4h0M502.4 143.3h0M502.5 137.0h0M502.6 143.2h0M502.7 137.0h0M502.9 143.1h0M502.8 148.4h0M503.0 142.5h0M503.1 142.3h0M503.3 139.0h0M503.3 142.9h0M503.4 140.1h0M503.5 140.1h0M503.6 144.6h0M503.6 145.6h0M504.0 144.1h0M504.0 147.7h0M504.1 140.8h0M504.2 138.6h0M504.4 142.4h0M504.4 143.7h0M504.6 145.9h0M504.6 138.6h0M504.8 136.9h0M504.7 149.9h0M505.1 132.9h0M505.0 135.0h0M505.2 143.3h0M505.3 141.2h0M505.4 140.5h0M505.3 139.6h0M505.6 142.6h0M505.7 139.5h0M505.8 138.6h0M505.8 131.3h0M506.0 141.5h0M506.1 143.8h0M506.3 137.1h0M506.4 141.3h0M506.4 140.6h0M506.5 140.8h0M506.7 142.6h0M506.7 143.0h0M506.8 143.1h0M507.0 144.2h0M507.0 142.9h0M507.1 133.9h0M507.5 141.4h0M507.4 144.3h0M507.6 145.2h0M507.6 136.4h0M507.8 143.6h0M507.8 140.5h0M508.1 148.1h0M508.0 149.5h0M508.3 140.2h0M508.2 147.9h0M508.5 140.3h0M508.4 137.8h0M508.6 144.5h0M508.6 143.3h0M508.9 143.0h0M509.0 144.1h0M509.1 142.8h0M509.0 143.0h0M509.4 142.2h0M509.2 141.1h0M509.6 139.2h0M509.5 139.4h0M509.6 141.1h0M509.6 144.3h0M509.9 139.3h0M510.0 138.1h0M510.1 140.7h0M510.1 142.7h0M510.4 132.8h0M510.3 150.1h0M510.5 138.8h0M510.5 140.4h0M510.9 135.3h0M510.7 134.0h0M511.1 138.7h0M511.1 143.0h0M511.2 139.0h0M511.2 145.8h0M511.5 140.9h0M511.4 144.2h0M511.7 139.3h0M511.6 148.1h0M512.0 142.5h0M511.9 140.4h0M512.0 142.1h0M512.0 142.5h0M512.3 144.2h0M512.3 142.2h0M512.5 135.5h0M512.6 143.5h0M512.8 146.3h0M512.7 145.2h0M512.9 142.9h0M513.0 138.5h0M513.2 142.3h0M513.2 138.2h0M513.4 135.8h0M513.4 144.7h0M513.5 140.3h0M513.5 142.4h0M513.7 137.6h0M513.8 138.0h0M514.1 139.7h0M513.9 145.6h0M514.2 142.6h0M514.2 141.6h0M514.6 141.6h0M514.4 143.7h0M514.6 140.3h0M514.7 139.5h0M515.0 140.0h0M514.8 144.3h0M515.2 142.8h0M515.1 145.8h0M515.2 144.1h0M515.2 138.9h0M515.5 142.1h0M515.4 141.9h0M515.8 137.1h0M515.8 143.5h0M516.0 141.2h0M515.9 147.0h0M516.3 137.7h0M516.2 142.0h0M516.3 138.2h0M516.4 138.3h0M516.6 141.4h0M516.6 139.1h0M516.7 146.9h0M516.9 143.4h0M517.1 148.7h0M517.1 137.4h0M517.2 138.9h0M517.2 135.7h0M517.5 136.0h0M517.5 135.1h0M517.7 142.0h0M517.8 147.1h0M517.9 142.8h0M517.9 133.0h0M518.1 139.0h0M518.1 136.6h0M518.4 138.2h0M518.2 138.9h0M518.5 142.5h0M518.6 145.6h0M518.7 137.7h0M518.7 144.8h0M519.0 134.7h0M519.0 139.0h0M519.3 138.6h0M519.2 141.1h0M519.4 147.9h0M519.4 144.7h0M519.6 137.5h0M519.7 146.2h0M519.8 146.0h0M519.9 135.3h0M520.0 149.5h0M520.0 141.5h0M520.2 139.8h0M520.3 133.4h0M520.5 137.0h0M520.4 139.4h0M520.7 148.1h0M520.7 142.3h0M520.9 148.0h0M520.9 140.1h0M521.2 146.7h0M521.1 137.3h0M521.3 138.7h0M521.3 143.4h0M521.5 139.5h0M521.6 140.3h0M521.7 140.8h0M521.7 141.2h0M522.0 138.3h0M521.9 140.9h0M522.2 142.7h0M522.3 139.7h0M522.5 144.0h0M522.3 136.3h0M522.5 137.9h0M522.6 149.3h0M522.8 142.3h0M522.9 141.7h0M523.1 141.5h0M523.0 139.3h0M523.3 135.9h0M523.3 135.3h0M523.5 148.9h0M523.5 137.7h0M523.7 148.6h0M523.7 137.1h0M523.9 139.4h0M523.8 144.4h0M524.1 143.1h0M524.2 143.1h0M524.4 136.4h0M524.3 143.5h0M524.5 142.9h0M524.5 139.6h0M524.9 134.7h0M524.7 143.5h0M524.9 140.1h0M525.1 144.1h0M525.2 137.2h0M525.2 145.8h0M525.4 139.7h0M525.4 139.6h0M525.6 142.7h0M525.7 136.6h0M525.8 133.7h0M525.8 141.1h0M526.1 139.7h0M526.0 140.3h0M526.2 136.3h0M526.3 137.7h0M526.5 140.3h0M526.6 140.7h0M526.8 142.7h0M526.8 141.0h0M526.9 139.2h0M527.0 132.1h0M527.2 134.1h0M527.2 145.3h0M527.3 138.5h0M527.4 130.2h0M527.6 127.9h0M527.5 141.0h0M527.7 131.7h0M527.7 124.9h0M528.1 128.7h0M528.0 128.5h0M528.2 124.4h0M528.3 128.3h0M528.5 118.7h0M528.4 122.8h0M528.7 122.0h0M528.7 125.5h0M528.9 119.6h0M528.8 124.8h0M529.2 130.2h0M529.0 125.7h0M529.4 135.2h0M529.3 131.2h0M529.6 123.3h0M529.5 134.9h0M529.7 138.1h0M529.7 133.9h0M529.9 135.2h0M529.9 135.1h0M530.1 137.5h0M530.1 144.9h0M530.5 142.0h0M530.3 148.3h0M530.5 137.5h0M530.6 138.8h0M530.8 137.6h0M530.8 147.1h0M531.1 149.2h0M531.0 140.8h0M531.3 145.2h0M531.3 146.0h0M531.5 144.6h0M531.4 147.4h0M531.6 148.7h0M531.6 139.9h0M532.0 140.1h0M531.9 138.3h0M532.0 140.1h0M532.2 141.0h0M532.3 139.6h0M532.3 142.6h0M532.5 140.9h0M532.5 142.0h0M532.8 150.4h0M532.8 139.9h0M533.0 134.5h0M533.0 135.2h0M533.1 142.3h0M533.1 140.0h0M533.4 140.5h0M533.3 134.4h0M533.7 134.7h0M533.7 144.4h0M533.8 144.4h0M533.9 143.2h0M534.1 143.7h0M534.1 135.2h0M534.3 149.0h0M534.4 145.8h0M534.5 147.0h0M534.5 144.0h0M534.7 138.8h0M534.6 145.7h0M535.0 138.1h0M534.9 134.7h0M535.0 140.6h0M535.0 136.5h0M535.3 142.2h0M535.4 139.9h0M535.6 142.4h0M535.6 136.9h0M535.7 140.0h0M535.8 138.7h0M536.0 137.7h0M536.0 137.2h0M536.2 145.1h0M536.1 140.2h0M536.4 144.2h0M536.5 142.9h0M536.7 141.3h0M536.7 138.9h0M536.8 141.4h0M536.8 142.2h0M537.0 136.1h0M537.1 139.4h0M537.3 149.8h0M537.2 139.7h0M537.5 143.1h0M537.5 138.6h0M537.6 138.2h0M537.6 134.6h0M538.0 142.7h0M537.9 137.8h0M538.1 141.9h0M538.2 144.0h0M538.3 147.5h0M538.4 140.2h0M538.6 135.5h0M538.6 142.1h0M538.9 137.0h0M538.8 140.9h0M539.0 138.0h0M539.0 141.9h0M539.2 139.1h0M539.3 145.3h0M539.5 138.3h0M539.4 133.7h0M539.7 136.9h0M539.6 143.4h0M539.9 148.7h0M539.9 140.4h0M540.2 145.8h0M540.0 141.7h0M540.3 137.2h0M540.3 150.3h0M540.5 142.3h0M540.5 141.9h0M540.8 138.3h0M540.8 139.6h0M540.9 134.4h0M541.0 139.5h0M541.1 138.4h0M541.1 149.3h0M541.4 141.2h0M541.4 142.5h0M541.7 141.4h0M541.5 137.1h0M541.7 146.1h0M541.7 151.5h0M542.0 133.9h0M542.0 141.9h0M542.3 142.8h0M542.3 135.5h0M542.4 138.0h0M542.4 140.4h0M542.6 139.9h0M542.6 138.2h0M542.8 144.8h0M542.8 140.7h0M543.1 132.9h0M543.1 138.8h0M543.4 139.9h0M543.2 133.0h0M543.5 140.1h0M543.4 134.5h0M543.8 139.7h0M543.8 141.9h0M544.0 139.4h0M543.9 139.8h0M544.1 146.6h0M544.2 132.7h0M544.4 138.9h0M544.5 132.2h0M544.5 144.0h0M544.7 142.5h0M544.8 146.1h0M544.8 141.7h0M545.0 138.4h0M545.0 132.6h0M545.2 142.8h0M545.3 142.3h0M545.5 137.1h0M545.5 138.9h0M545.6 143.7h0M545.6 142.9h0M545.9 143.7h0M545.8 136.2h0M546.1 143.3h0M546.2 142.4h0M546.3 136.3h0M546.4 143.4h0M546.5 136.9h0M546.5 146.8h0M546.8 143.6h0M546.7 135.5h0M546.9 138.6h0M546.9 144.7h0M547.2 145.8h0M547.2 147.7h0M547.3 139.7h0M547.5 142.1h0M547.7 139.9h0M547.6 141.4h0M547.7 129.9h0M547.9 136.1h0M548.0 147.3h0M548.1 140.1h0M548.2 146.1h0M548.2 140.2h0M548.4 142.3h0M548.5 140.2h0M548.7 142.5h0M548.7 149.6h0M548.9 138.7h0M548.9 148.6h0M549.1 144.9h0M549.0 144.2h0M549.4 140.5h0M549.3 146.1h0M549.6 141.8h0M549.6 140.9h0M549.8 133.3h0M549.7 143.8h0M549.9 140.1h0M550.1 138.5h0M550.1 141.9h0M550.2 140.4h0M550.3 137.2h0M550.3 143.8h0M550.6 152.8h0M550.6 142.3h0M550.9 139.9h0M550.8 139.0h0M551.0 139.1h0M551.1 136.4h0M551.2 140.8h0M551.2 143.5h0M551.6 145.7h0M551.5 146.4h0M551.8 137.3h0M551.6 143.6h0M552.0 144.5h0M552.0 135.1h0M552.1 146.5h0M552.2 137.7h0M552.4 145.3h0M552.4 143.3h0M552.5 143.3h0M552.6 139.7h0M552.9 142.7h0M552.7 137.4h0M553.0 143.7h0M553.0 133.6h0M553.2 142.8h0M553.2 148.7h0M553.3 145.2h0M553.3 145.1h0M553.6 140.1h0M553.7 146.9h0M553.8 136.5h0M553.8 145.0h0M554.0 143.4h0M554.1 136.9h0M554.2 150.0h0M554.3 132.6h0M554.6 144.9h0M554.5 149.2h0M554.8 135.1h0M554.7 142.2h0M554.9 148.6h0M555.0 138.7h0M555.2 134.6h0M555.2 134.6h0M555.5 138.8h0M555.3 145.4h0M555.5 143.5h0M555.6 137.9h0M555.8 139.4h0M555.9 142.5h0M556.1 135.3h0M556.0 146.6h0M556.3 134.6h0M556.2 145.9h0M556.5 143.6h0M556.5 141.9h0M556.7 138.4h0M556.7 136.6h0M557.0 148.8h0M556.9 146.0h0M557.0 145.4h0M557.0 143.0h0M557.3 146.9h0M557.3 148.2h0M557.6 139.1h0M557.6 142.5h0M557.7 146.4h0M557.7 143.1h0M557.9 149.2h0M557.9 154.5h0M558.2 158.6h0M558.2 148.3h0M558.4 152.7h0M558.3 151.9h0M558.7 157.6h0M558.6 152.7h0M558.9 152.2h0M558.9 147.3h0M558.9 147.6h0M559.0 155.2h0M559.2 144.0h0M559.3 147.1h0M559.5 142.1h0M559.5 149.8h0M559.6 143.7h0M559.7 153.6h0M560.0 139.8h0M559.9 148.0h0M560.2 141.7h0M560.0 147.3h0M560.4 142.5h0M560.3 142.6h0M560.5 147.7h0M560.5 141.5h0M560.7 137.7h0M560.7 141.3h0M561.0 136.5h0M560.9 131.8h0M561.1 140.7h0M561.1 135.4h0M561.4 140.3h0M561.4 145.9h0M561.6 137.8h0M561.7 146.2h0M561.7 140.9h0M561.9 131.5h0M562.1 144.0h0M562.0 145.8h0M562.2 142.7h0M562.2 139.3h0M562.4 137.5h0M562.5 143.6h0M562.6 143.8h0M562.6 138.6h0M562.8 141.4h0M562.9 136.8h0M563.1 144.5h0M563.2 135.2h0M563.4 139.9h0M563.4 141.3h0M563.5 147.9h0M563.5 142.5h0M563.8 141.6h0M563.7 136.3h0M563.9 140.4h0M564.0 145.4h0M564.2 147.0h0M564.1 137.4h0M564.3 146.0h0M564.5 133.8h0M564.7 140.0h0M564.7 143.3h0M564.9 144.6h0M564.8 135.3h0M565.1 141.8h0M565.0 140.4h0M565.3 149.6h0M565.2 140.5h0M565.5 145.5h0M565.4 150.8h0M565.6 142.2h0M565.6 141.7h0M565.8 146.4h0M565.9 129.3h0M566.2 146.1h0M566.2 145.0h0M566.3 140.0h0M566.4 139.9h0M566.5 140.0h0M566.5 142.3h0M566.7 134.7h0M566.8 144.6h0M567.0 149.0h0M566.9 145.6h0M567.1 141.9h0M567.1 140.9h0M567.5 132.8h0M567.4 141.6h0M567.7 143.2h0M567.6 143.5h0M567.8 144.7h0M567.9 138.2h0M568.0 146.3h0M568.1 135.4h0M568.2 145.2h0M568.4 144.1h0M568.5 141.0h0M568.5 148.2h0M568.6 140.7h0M568.7 141.3h0M568.9 135.5h0M568.8 138.1h0M569.2 151.5h0M569.2 139.6h0M569.4 145.4h0M569.4 145.3h0M569.5 144.7h0M569.5 132.7h0M569.7 142.9h0M569.7 141.0h0M569.9 137.1h0M570.0 133.1h0M570.2 142.2h0M570.2 139.9h0M570.3 139.2h0M570.5 139.5h0M570.5 140.6h0M570.7 144.0h0M570.8 141.0h0M570.8 142.2h0M571.0 142.1h0M571.0 140.0h0M571.4 136.3h0M571.3 139.1h0M571.5 137.2h0M571.6 131.2h0M571.6 131.7h0M571.7 138.7h0M571.9 141.7h0M571.8 123.5h0M572.1 134.7h0M572.1 126.5h0M572.4 134.7h0M572.3 126.6h0M572.7 133.6h0M572.6 135.4h0M572.8 138.2h0M572.7 136.3h0M573.1 141.5h0M573.1 136.2h0M573.2 138.5h0M573.3 136.4h0M573.4 136.7h0M573.4 143.6h0M573.6 138.4h0M573.7 139.8h0M573.8 135.8h0M574.0 133.8h0M574.0 142.5h0M574.1 149.9h0M574.3 141.5h0M574.3 141.6h0M574.4 145.8h0M574.4 139.9h0M574.6 143.0h0M574.7 139.4h0M575.0 148.4h0M575.0 142.1h0M575.2 145.1h0M575.2 145.1h0M575.3 140.9h0M575.4 148.4h0M575.6 148.4h0M575.6 143.7h0M575.7 154.2h0M575.8 145.4h0M575.9 151.9h0M575.9 158.6h0M576.3 144.3h0M576.2 143.3h0M576.5 149.7h0M576.4 154.5h0M576.7 157.2h0M576.6 148.7h0M576.8 142.7h0M576.8 155.4h0M577.2 147.2h0M577.1 140.5h0M577.2 143.1h0M577.4 146.2h0M577.5 136.2h0M577.5 150.1h0M577.7 141.6h0M577.8 139.0h0M577.9 148.7h0M578.0 144.6h0M578.1 144.1h0M578.1 130.6h0M578.3 142.2h0M578.3 142.5h0M578.6 144.0h0M578.6 130.8h0M578.8 133.1h0M578.8 145.2h0M578.9 144.7h0M579.1 139.0h0M579.3 140.6h0M579.3 139.8h0M579.4 144.5h0M579.4 149.1h0M579.7 140.8h0M579.7 145.4h0M579.9 130.4h0M579.9 140.6h0M580.2 140.2h0M580.2 139.5h0M580.3 144.0h0M580.3 140.4h0M580.6 146.0h0M580.5 141.3h0M580.7 139.3h0M580.8 141.2h0M581.0 153.1h0M581.0 138.9h0M581.2 144.6h0M581.1 137.2h0M581.3 140.9h0M581.4 141.4h0M581.7 139.3h0M581.5 144.0h0M581.8 141.1h0M581.8 142.8h0M582.0 138.9h0M582.1 137.5h0M582.2 144.7h0M582.3 143.1h0M582.5 144.7h0M582.4 133.6h0M582.6 144.5h0M582.7 141.6h0M582.9 142.2h0M582.8 145.1h0M583.1 138.9h0M583.1 142.4h0M583.4 136.8h0M583.3 145.1h0M583.6 139.8h0M583.5 131.9h0M583.8 137.5h0M583.9 141.3h0M584.0 137.4h0M584.0 146.3h0M584.1 139.2h0M584.2 139.7h0M584.3 139.0h0M584.3 139.0h0M584.6 138.2h0M584.7 143.8h0M584.9 143.4h0M584.9 145.5h0M585.0 139.2h0M585.1 148.8h0M585.3 141.7h0M585.3 144.7h0M585.4 140.4h0M585.4 131.9h0M585.7 143.5h0M585.6 136.7h0M586.0 135.4h0M585.9 146.0h0M586.1 142.0h0M586.2 140.2h0M586.3 144.8h0M586.3 143.1h0M586.6 142.2h0M586.6 140.6h0M586.7 143.5h0M586.8 136.5h0M587.1 138.9h0M586.9 141.6h0M587.1 140.0h0M587.2 148.4h0M587.4 147.5h0M587.5 146.8h0M587.5 140.5h0M587.6 135.1h0M587.8 143.3h0M587.9 146.0h0M588.2 145.2h0M588.0 140.4h0M588.4 146.7h0M588.3 145.0h0M588.4 138.6h0M588.5 136.2h0M588.8 140.8h0M588.7 141.4h0M589.0 142.6h0M588.9 139.0h0M589.1 153.3h0M589.1 140.5h0M589.3 140.5h0M589.3 142.7h0M589.6 142.8h0M589.7 139.6h0M589.8 143.3h0M589.8 138.7h0M590.1 144.6h0M590.0 139.7h0M590.3 137.5h0M590.3 145.5h0M590.5 137.0h0M590.5 139.5h0M590.7 139.8h0M590.6 135.6h0M590.8 139.0h0M591.0 144.0h0M591.2 137.0h0M591.0 135.6h0M591.2 140.9h0M591.4 139.6h0M591.5 138.9h0M591.5 139.1h0M591.7 138.5h0M591.7 132.9h0M592.0 127.5h0M591.9 138.9h0M592.1 131.3h0M592.1 131.5h0M592.3 123.5h0M592.4 121.5h0M592.6 121.1h0M592.5 118.5h0M592.9 115.0h0M592.8 116.9h0M593.1 115.6h0M592.9 113.9h0M593.2 119.7h0M593.2 122.1h0M593.4 115.2h0M593.4 114.7h0M593.7 114.7h0M593.6 120.9h0M594.0 130.6h0M594.0 124.3h0M594.1 122.5h0M594.2 131.5h0M594.3 132.0h0M594.4 134.2h0M594.5 140.0h0M594.6 130.3h0M594.7 137.7h0M594.8 130.3h0M594.9 139.6h0M595.1 146.1h0M595.2 143.7h0M595.1 143.5h0M595.3 143.0h0M595.4 141.3h0M595.7 142.4h0M595.6 134.1h0M595.7 150.1h0M595.7 145.1h0M596.0 140.7h0M595.9 138.1h0M596.2 140.8h0M596.3 141.4h0M596.4 139.1h0M596.4 142.1h0M596.6 142.5h0M596.6 139.8h0M597.0 147.2h0M596.9 141.3h0M597.1 144.5h0M597.1 140.3h0M597.3 142.1h0M597.3 136.2h0M597.5 139.1h0M597.6 140.1h0M597.7 144.5h0M597.7 139.1h0M598.0 150.1h0M598.0 137.7h0M598.2 137.9h0M598.2 140.5h0M598.5 138.6h0M598.4 147.0h0M598.6 143.3h0M598.5 145.0h0M598.8 139.0h0M598.8 139.0h0M599.0 134.9h0M599.0 145.5h0M599.2 144.9h0M599.3 139.6h0M599.4 143.8h0M599.6 144.0h0M599.7 138.8h0M599.6 141.3h0M599.9 143.6h0M599.9 136.9h0M600.1 141.8h0M600.2 147.0h0M600.4 142.2h0M600.4 141.3h0M600.5 144.1h0M600.5 137.2h0M600.7 140.2h0M600.9 138.5h0M600.9 137.7h0M600.9 142.3h0M601.2 142.2h0M601.3 140.8h0M601.4 142.8h0M601.3 135.4h0M601.6 144.7h0M601.7 146.6h0M601.9 139.0h0M601.8 142.0h0M602.1 146.9h0M602.1 138.3h0M602.2 138.1h0M602.4 144.7h0M602.5 146.1h0M602.6 138.1h0M602.8 138.5h0M602.8 138.2h0M602.9 142.7h0M603.0 138.0h0M603.2 134.9h0M603.2 138.6h0M603.4 138.9h0M603.3 137.0h0M603.6 139.8h0M603.5 141.6h0M603.9 140.5h0M603.7 138.0h0M603.9 140.7h0M603.9 139.2h0M604.2 143.7h0M604.1 142.5h0M604.4 148.2h0M604.4 138.7h0M604.7 140.9h0M604.6 146.5h0M604.9 140.5h0M604.8 145.6h0M605.2 140.2h0M605.1 134.6h0M605.2 141.7h0M605.3 145.2h0M605.6 143.9h0M605.4 141.2h0M605.7 143.8h0M605.7 139.5h0M606.0 149.4h0M606.0 136.3h0M606.2 142.3h0M606.2 141.9h0M606.3 136.5h0M606.4 137.7h0M606.7 148.6h0M606.5 147.1h0M606.8 137.9h0M606.8 143.0h0M606.9 145.0h0M606.9 138.3h0M607.3 141.8h0M607.2 139.7h0M607.4 144.6h0M607.5 143.2h0M607.6 142.1h0M607.6 140.2h0M607.8 137.2h0M607.9 147.8h0M608.1 144.5h0M608.1 144.3h0M608.2 140.9h0M608.3 144.3h0M608.5 141.0h0M608.5 136.9h0M608.6 140.8h0M608.7 136.4h0M609.0 141.4h0M609.0 148.5h0M609.2 141.5h0M609.3 140.1h0M609.4 143.9h0M609.4 141.9h0M609.6 136.2h0M609.6 139.5h0M609.8 145.7h0M609.8 146.4h0M610.0 138.7h0M610.1 139.0h0M610.3 146.1h0M610.2 142.1h0M610.5 141.0h0M610.4 137.4h0M610.8 138.0h0M610.7 131.9h0M610.8 144.0h0M610.9 148.5h0M611.1 141.7h0M611.0 137.2h0M611.4 145.8h0M611.3 145.6h0M611.5 140.4h0M611.6 141.2h0M611.8 136.1h0M611.7 143.2h0M612.0 130.7h0M611.9 137.7h0M612.2 137.7h0M612.1 146.6h0M612.5 139.4h0M612.4 133.9h0M612.6 142.3h0M612.7 134.0h0M612.8 138.0h0M612.7 136.3h0M613.0 139.5h0M613.0 137.1h0M613.3 148.3h0M613.3 141.8h0M613.5 143.1h0M613.5 140.9h0M613.7 143.0h0M613.8 146.3h0M614.0 139.6h0M613.8 140.0h0M614.2 141.4h0M614.1 137.5h0M614.4 142.8h0M614.3 137.5h0M614.6 138.2h0M614.5 144.9h0M614.8 138.0h0M614.8 142.4h0M615.0 139.9h0M614.9 142.9h0M615.3 135.9h0M615.2 139.4h0M615.5 152.0h0M615.5 145.2h0M615.7 146.4h0M615.7 142.4h0M615.9 138.5h0M615.8 141.0h0M616.0 148.4h0M616.0 149.9h0M616.4 141.3h0M616.2 142.5h0M616.5 138.0h0M616.4 139.0h0M616.7 140.3h0M616.6 135.6h0M617.0 139.9h0M617.0 138.4h0M617.2 143.2h0M617.2 139.7h0M617.4 134.4h0M617.4 145.9h0M617.5 146.4h0M617.5 143.2h0M617.8 136.8h0M617.8 141.1h0M617.9 144.3h0M618.1 138.9h0M618.2 141.6h0M618.3 141.3h0M618.5 146.7h0M618.5 148.9h0M618.7 139.5h0M618.7 143.6h0M618.8 138.4h0M618.8 133.1h0M619.1 137.9h0M619.1 146.2h0M619.4 140.2h0M619.2 143.7h0M619.5 140.1h0M619.4 137.7h0M619.7 142.6h0M619.7 139.0h0M619.9 140.8h0M620.0 139.4h0M620.2 138.0h0M620.2 141.7h0M620.3 136.9h0M620.3 136.2h0M620.6 145.2h0M620.5 142.2h0M620.9 142.0h0M620.8 149.7h0M621.0 145.7h0M621.0 136.9h0M621.2 139.8h0M621.3 142.1h0M621.5 141.7h0M621.4 138.7h0M621.7 147.8h0M621.6 136.8h0M621.8 145.6h0M622.0 145.1h0M622.2 148.2h0M622.0 142.4h0M622.4 147.9h0M622.4 144.8h0M622.5 148.4h0M622.6 140.2h0M622.8 139.9h0M622.7 148.2h0M622.9 150.9h0M623.0 150.8h0M623.2 142.5h0M623.1 151.0h0M623.4 149.4h0M623.5 146.2h0M623.6 139.8h0M623.5 145.6h0M623.9 146.7h0M623.9 142.8h0M624.1 152.1h0M623.9 149.9h0M624.2 141.3h0M624.3 140.5h0M624.5 142.3h0M624.4 143.2h0M624.7 145.3h0M624.7 145.1h0M624.8 136.7h0M624.8 147.9h0M625.1 138.2h0M625.1 143.6h0M625.2 149.4h0M625.3 140.7h0M625.6 145.7h0M625.5 140.9h0M625.7 140.9h0M625.8 132.7h0M625.9 144.5h0M626.1 149.9h0M626.1 140.2h0M626.2 139.2h0M626.5 142.6h0M626.4 144.6h0M626.6 139.5h0M626.6 138.7h0M626.8 143.1h0M626.8 138.1h0M627.1 141.1h0M627.0 141.7h0M627.2 146.2h0M627.2 144.0h0M627.5 138.6h0M627.4 136.2h0M627.7 136.7h0M627.7 141.7h0M627.9 141.9h0M627.9 144.8h0M628.1 144.5h0M628.0 142.8h0M628.2 137.4h0M628.4 136.5h0M628.5 139.8h0M628.5 139.0h0M628.7 145.1h0M628.8 142.0h0M628.9 138.5h0M628.9 141.1h0M629.1 138.9h0M629.2 146.6h0M629.4 135.1h0M629.3 142.6h0M629.7 143.9h0M629.7 140.9h0M629.8 156.3h0M629.8 142.6h0M630.0 133.2h0M630.0 143.7h0M630.4 137.5h0M630.3 148.1h0M630.5 147.0h0M630.4 147.8h0M630.6 135.7h0M630.6 149.0h0M630.9 140.1h0M630.8 144.7h0M631.2 138.6h0M631.2 145.7h0M631.4 144.0h0M631.3 139.7h0M631.6 148.3h0M631.6 149.5h0M631.8 133.0h0M631.8 140.9h0M632.0 139.1h0M632.0 141.1h0M632.2 139.6h0M632.2 141.0h0M632.5 139.2h0M632.3 146.1h0M632.6 151.5h0M632.6 143.6h0M632.8 134.4h0M632.8 143.4h0M633.0 148.1h0M633.1 134.3h0M633.3 136.0h0M633.3 142.7h0M633.4 137.1h0M633.6 137.8h0M633.8 144.9h0M633.7 134.9h0M633.8 137.1h0M634.0 137.7h0M634.1 134.9h0M634.2 147.2h0M634.4 139.7h0M634.3 132.9h0M634.6 133.9h0M634.6 145.1h0M634.8 136.4h0M634.8 141.7h0M634.9 137.4h0M635.1 142.1h0M635.2 133.4h0M635.1 130.4h0M635.4 134.7h0M635.4 134.6h0M635.7 138.4h0M635.7 139.9h0M636.0 133.3h0M635.8 135.8h0M636.1 138.3h0M636.1 142.1h0M636.4 144.3h0M636.2 136.1h0M636.6 136.4h0M636.5 139.8h0M636.8 139.8h0M636.7 145.9h0M636.9 143.2h0M636.8 144.2h0M637.1 138.2h0M637.2 141.2h0M637.5 140.6h0M637.4 143.6h0M637.5 140.3h0M637.6 147.5h0M637.8 133.6h0M637.7 140.6h0M638.0 138.8h0M638.0 139.0h0M638.1 144.3h0M638.2 135.3h0M638.5 140.2h0M638.4 141.5h0M638.6 136.7h0M638.8 144.6h0M638.8 138.2h0M638.8 133.7h0M639.1 142.9h0M639.0 139.0h0M639.3 146.3h0M639.3 139.9h0M639.6 139.7h0M639.5 147.5h0M639.7 134.3h0M639.7 132.5h0M639.9 148.6h0M639.9 139.2h0M640.2 142.6h0M640.1 141.9h0M640.3 139.2h0M640.5 140.7h0M640.5 141.7h0M640.6 139.8h0M640.9 142.5h0M640.9 140.0h0M641.0 143.7h0M641.1 137.3h0M641.2 132.7h0M641.3 140.8h0M641.4 142.2h0M641.5 135.4h0M641.6 149.0h0M641.6 141.7h0M641.9 145.6h0M641.9 143.2h0M642.1 145.3h0M642.2 142.2h0M642.2 136.0h0M642.4 144.5h0M642.6 141.9h0M642.5 136.4h0M642.7 138.9h0M642.8 138.0h0M643.0 141.5h0M643.0 143.2h0M643.1 142.9h0M643.2 142.6h0M643.4 146.4h0M643.5 150.7h0M643.6 143.2h0M643.6 140.2h0M643.8 143.4h0M643.8 136.7h0M644.1 136.4h0M643.9 140.8h0M644.3 142.5h0M644.2 139.3h0M644.4 143.2h0M644.5 142.0h0M644.7 144.6h0M644.7 143.8h0M644.9 138.8h0M644.8 142.8h0M645.1 139.1h0M645.1 141.2h0M645.4 140.8h0M645.3 139.8h0M645.6 150.1h0M645.5 142.9h0M645.7 139.9h0M645.7 135.2h0M645.9 139.0h0M645.9 130.8h0M646.2 135.8h0M646.2 140.5h0M646.4 146.3h0M646.5 142.3h0M646.7 142.0h0M646.7 140.7h0M646.8 139.6h0M646.9 146.5h0M647.1 139.1h0M647.0 142.3h0M647.3 143.8h0M647.3 146.4h0M647.4 140.3h0M647.4 143.2h0M647.8 150.3h0M647.7 140.9h0M648.0 142.0h0M648.0 147.9h0M648.1 138.6h0M648.1 142.3h0M648.4 139.6h0M648.4 146.2h0M648.5 143.4h0M648.5 139.7h0M648.9 138.5h0M648.7 144.0h0M649.0 151.9h0M648.9 140.3h0M649.1 142.1h0M649.1 135.5h0M649.4 145.3h0M649.3 139.3h0M649.7 147.1h0M649.7 139.9h0M649.9 142.5h0M649.9 140.1h0M650.1 141.2h0M650.1 141.7h0M650.2 134.5h0M650.3 136.0h0M650.4 140.7h0M650.5 144.4h0M650.6 143.8h0M650.6 136.2h0M650.9 140.0h0M650.9 143.1h0M651.2 142.4h0M651.2 134.2h0M651.3 139.0h0M651.4 143.0h0M651.6 132.6h0M651.7 137.1h0M651.7 144.3h0M651.8 143.5h0M652.0 136.6h0M652.0 140.8h0M652.2 139.1h0M652.3 129.6h0M652.5 128.6h0M652.3 129.5h0M652.6 134.3h0M652.7 134.8h0M652.8 140.4h0M652.9 140.4h0M653.1 134.8h0M653.2 134.5h0M653.2 131.2h0M653.3 131.6h0M653.5 132.9h0M653.5 132.3h0M653.7 133.8h0M653.8 129.6h0M653.9 139.5h0M654.0 126.9h0M654.2 132.9h0M654.2 140.9h0M654.4 134.7h0M654.3 128.5h0M654.6 138.6h0M654.6 133.9h0M654.8 137.0h0M654.8 130.7h0M655.1 136.5h0M655.0 139.8h0M655.3 136.2h0M655.2 135.9h0M655.5 138.2h0M655.4 140.5h0M655.6 144.5h0M655.6 139.0h0M655.9 146.1h0M655.9 143.0h0M656.2 139.5h0M656.1 135.4h0M656.3 136.5h0M656.3 147.2h0M656.6 136.4h0M656.4 148.7h0M656.8 139.8h0M656.8 140.2h0M657.0 137.1h0M657.0 140.0h0M657.3 136.6h0M657.2 143.4h0M657.4 141.4h0M657.4 137.4h0M657.5 143.1h0M657.6 143.2h0M657.8 140.8h0M657.8 147.4h0M658.1 142.0h0M657.9 145.2h0M658.2 135.1h0M658.3 136.0h0M658.5 138.2h0M658.6 132.2h0M658.7 140.3h0M658.8 142.6h0M658.9 139.7h0M658.8 139.8h0M659.1 142.3h0M659.1 139.6h0M659.4 146.0h0M659.2 145.1h0M659.5 140.0h0M659.5 146.1h0M659.7 136.6h0M659.8 139.4h0M659.9 143.6h0M659.9 136.6h0M660.1 140.1h0M660.3 134.3h0M660.4 141.9h0M660.4 143.3h0M660.6 139.3h0M660.6 145.3h0M660.9 136.9h0M660.9 139.5h0M661.0 154.3h0M661.1 141.2h0M661.3 140.3h0M661.2 146.1h0M661.4 142.3h0M661.5 142.4h0M661.8 149.1h0M661.7 140.0h0M661.8 141.2h0M661.8 143.8h0M662.1 142.6h0M662.0 140.8h0M662.2 136.5h0M662.2 139.0h0M662.5 141.8h0M662.4 142.3h0M662.8 142.6h0M662.7 136.7h0M663.0 139.0h0M663.1 142.5h0M663.2 134.7h0M663.3 136.9h0M663.4 143.5h0M663.4 137.9h0M663.6 139.1h0M663.6 138.3h0M663.9 136.7h0M663.9 140.9h0M664.0 141.5h0M664.1 143.9h0M664.3 138.0h0M664.3 139.6h0M664.4 146.3h0M664.4 139.0h0M664.7 137.4h0M664.7 138.3h0M664.8 140.1h0M664.9 136.0h0M665.1 141.2h0M665.1 145.0h0M665.4 132.9h0M665.4 144.9h0M665.5 137.9h0M665.6 131.9h0M665.8 141.1h0M665.8 134.2h0M666.0 140.3h0M666.0 140.4h0M666.2 146.7h0M666.3 136.9h0M666.4 142.3h0M666.3 136.5h0M666.6 143.4h0M666.6 139.3h0M666.9 139.5h0M666.8 134.6h0M667.1 136.9h0M667.1 145.1h0M667.3 136.6h0M667.2 140.9h0M667.4 143.3h0M667.6 142.5h0M667.7 136.8h0M667.8 147.3h0M667.9 142.8h0M667.9 145.3h0M668.0 140.8h0M668.1 142.0h0M668.4 145.8h0M668.4 142.0h0M668.6 141.9h0M668.5 142.5h0M668.8 140.7h0M668.8 136.4h0M668.9 141.2h0M668.9 141.0h0M669.2 138.7h0M669.2 142.2h0M669.4 142.2h0M669.5 143.7h0M669.7 144.0h0M669.7 144.2h0M669.9 140.6h0M669.8 150.9h0M670.1 143.3h0M670.1 140.6h0M670.4 137.2h0M670.4 135.5h0M670.4 147.6h0M670.5 144.1h0M670.7 141.9h0M670.6 148.5h0M671.0 144.3h0M670.9 140.9h0M671.1 142.5h0M671.1 148.9h0M671.3 138.5h0M671.3 145.1h0M671.6 141.4h0M671.6 148.3h0M671.9 141.8h0M671.8 138.0h0M672.0 137.7h0M672.1 137.9h0M672.3 139.4h0M672.3 145.1h0M672.4 147.1h0M672.4 135.8h0M672.6 146.5h0M672.6 145.2h0M672.9 138.5h0M672.9 141.1h0M673.0 136.2h0M673.2 143.2h0M673.2 137.1h0M673.2 129.8h0M673.4 143.9h0M673.4 141.6h0M673.8 143.6h0M673.7 142.1h0M674.0 143.3h0M674.0 138.4h0M674.2 137.7h0M674.2 140.4h0M674.3 138.0h0M674.3 145.3h0M674.7 139.6h0M674.6 143.7h0M674.9 137.0h0M674.9 139.8h0M675.1 149.0h0M675.1 141.4h0M675.2 146.6h0M675.3 142.5h0M675.4 137.2h0M675.5 133.1h0" stroke="#ee2a24" stroke-width="1.9" stroke-linecap="round" fill="none"/>
<polyline points="497.5,141.3 497.7,141.3 497.9,141.3 498.1,141.3 498.3,141.3 498.5,141.3 498.7,141.3 499.0,141.3 499.2,141.3 499.4,141.3 499.6,141.3 499.8,141.3 500.0,141.3 500.3,141.3 500.5,141.3 500.7,141.3 500.9,141.3 501.1,141.3 501.3,141.3 501.5,141.3 501.8,141.3 502.0,141.3 502.2,141.3 502.4,141.3 502.6,141.3 502.8,141.3 503.0,141.3 503.3,141.3 503.5,141.3 503.7,141.3 503.9,141.3 504.1,141.3 504.3,141.3 504.6,141.3 504.8,141.3 505.0,141.3 505.2,141.3 505.4,141.3 505.6,141.3 505.8,141.3 506.1,141.3 506.3,141.3 506.5,141.3 506.7,141.3 506.9,141.3 507.1,141.3 507.4,141.3 507.6,141.3 507.8,141.3 508.0,141.3 508.2,141.3 508.4,141.3 508.6,141.3 508.9,141.3 509.1,141.3 509.3,141.3 509.5,141.3 509.7,141.3 509.9,141.3 510.2,141.3 510.4,141.3 510.6,141.3 510.8,141.3 511.0,141.3 511.2,141.3 511.4,141.3 511.7,141.3 511.9,141.3 512.1,141.3 512.3,141.3 512.5,141.3 512.7,141.3 513.0,141.3 513.2,141.3 513.4,141.3 513.6,141.3 513.8,141.3 514.0,141.3 514.2,141.3 514.5,141.3 514.7,141.3 514.9,141.3 515.1,141.3 515.3,141.3 515.5,141.3 515.7,141.3 516.0,141.3 516.2,141.3 516.4,141.3 516.6,141.3 516.8,141.3 517.0,141.3 517.3,141.3 517.5,141.3 517.7,141.3 517.9,141.3 518.1,141.3 518.3,141.3 518.5,141.3 518.8,141.3 519.0,141.3 519.2,141.3 519.4,141.3 519.6,141.3 519.8,141.3 520.1,141.3 520.3,141.3 520.5,141.3 520.7,141.3 520.9,141.3 521.1,141.3 521.3,141.3 521.6,141.3 521.8,141.3 522.0,141.3 522.2,141.3 522.4,141.3 522.6,141.3 522.9,141.3 523.1,141.3 523.3,141.3 523.5,141.3 523.7,141.3 523.9,141.3 524.1,141.3 524.4,141.3 524.6,141.3 524.8,141.3 525.0,141.3 525.2,141.3 525.4,141.3 525.6,141.3 525.9,141.3 526.1,141.2 526.3,141.0 526.5,140.7 526.7,140.2 526.9,139.2 527.2,137.7 527.4,135.7 527.6,133.0 527.8,130.0 528.0,127.0 528.2,124.5 528.4,123.0 528.7,122.8 528.9,123.9 529.1,126.1 529.3,129.0 529.5,132.0 529.7,134.8 530.0,137.1 530.2,138.8 530.4,139.9 530.6,140.6 530.8,140.9 531.0,141.1 531.2,141.2 531.5,141.3 531.7,141.3 531.9,141.3 532.1,141.3 532.3,141.3 532.5,141.3 532.8,141.3 533.0,141.3 533.2,141.3 533.4,141.3 533.6,141.3 533.8,141.3 534.0,141.3 534.3,141.3 534.5,141.3 534.7,141.3 534.9,141.3 535.1,141.3 535.3,141.3 535.6,141.3 535.8,141.3 536.0,141.3 536.2,141.3 536.4,141.3 536.6,141.3 536.8,141.3 537.1,141.3 537.3,141.3 537.5,141.3 537.7,141.3 537.9,141.3 538.1,141.3 538.3,141.3 538.6,141.3 538.8,141.3 539.0,141.3 539.2,141.3 539.4,141.3 539.6,141.3 539.9,141.3 540.1,141.3 540.3,141.3 540.5,141.3 540.7,141.3 540.9,141.3 541.1,141.3 541.4,141.3 541.6,141.3 541.8,141.3 542.0,141.3 542.2,141.3 542.4,141.3 542.7,141.3 542.9,141.3 543.1,141.3 543.3,141.3 543.5,141.3 543.7,141.3 543.9,141.3 544.2,141.3 544.4,141.3 544.6,141.3 544.8,141.3 545.0,141.3 545.2,141.3 545.5,141.3 545.7,141.3 545.9,141.3 546.1,141.3 546.3,141.3 546.5,141.3 546.7,141.3 547.0,141.3 547.2,141.3 547.4,141.3 547.6,141.3 547.8,141.3 548.0,141.3 548.3,141.3 548.5,141.3 548.7,141.3 548.9,141.3 549.1,141.3 549.3,141.3 549.5,141.3 549.8,141.3 550.0,141.3 550.2,141.3 550.4,141.3 550.6,141.3 550.8,141.3 551.0,141.3 551.3,141.3 551.5,141.3 551.7,141.3 551.9,141.3 552.1,141.3 552.3,141.3 552.6,141.3 552.8,141.3 553.0,141.3 553.2,141.3 553.4,141.3 553.6,141.3 553.8,141.3 554.1,141.3 554.3,141.3 554.5,141.3 554.7,141.3 554.9,141.3 555.1,141.3 555.4,141.3 555.6,141.3 555.8,141.3 556.0,141.3 556.2,141.4 556.4,141.5 556.6,141.7 556.9,142.1 557.1,142.7 557.3,143.7 557.5,145.0 557.7,146.8 557.9,148.7 558.2,150.7 558.4,152.4 558.6,153.4 558.8,153.5 559.0,152.8 559.2,151.3 559.4,149.4 559.7,147.4 559.9,145.6 560.1,144.1 560.3,143.0 560.5,142.2 560.7,141.8 561.0,141.5 561.2,141.4 561.4,141.3 561.6,141.3 561.8,141.3 562.0,141.3 562.2,141.3 562.5,141.3 562.7,141.3 562.9,141.3 563.1,141.3 563.3,141.3 563.5,141.3 563.7,141.3 564.0,141.3 564.2,141.3 564.4,141.3 564.6,141.3 564.8,141.3 565.0,141.3 565.3,141.3 565.5,141.3 565.7,141.3 565.9,141.3 566.1,141.3 566.3,141.3 566.5,141.3 566.8,141.3 567.0,141.3 567.2,141.3 567.4,141.3 567.6,141.3 567.8,141.3 568.1,141.3 568.3,141.3 568.5,141.3 568.7,141.3 568.9,141.3 569.1,141.3 569.3,141.3 569.6,141.2 569.8,141.1 570.0,140.9 570.2,140.6 570.4,140.1 570.6,139.4 570.9,138.6 571.1,137.5 571.3,136.4 571.5,135.3 571.7,134.5 571.9,134.0 572.1,133.9 572.4,134.3 572.6,135.0 572.8,136.0 573.0,137.2 573.2,138.2 573.4,139.2 573.7,139.9 573.9,140.5 574.1,140.9 574.3,141.3 574.5,141.7 574.7,142.2 574.9,143.0 575.2,144.0 575.4,145.3 575.6,146.7 575.8,148.2 576.0,149.4 576.2,150.1 576.4,150.2 576.7,149.7 576.9,148.6 577.1,147.2 577.3,145.7 577.5,144.4 577.7,143.3 578.0,142.5 578.2,142.0 578.4,141.6 578.6,141.5 578.8,141.4 579.0,141.3 579.2,141.3 579.5,141.3 579.7,141.3 579.9,141.3 580.1,141.3 580.3,141.3 580.5,141.3 580.8,141.3 581.0,141.3 581.2,141.3 581.4,141.3 581.6,141.3 581.8,141.3 582.0,141.3 582.3,141.3 582.5,141.3 582.7,141.3 582.9,141.3 583.1,141.3 583.3,141.3 583.6,141.3 583.8,141.3 584.0,141.3 584.2,141.3 584.4,141.3 584.6,141.3 584.8,141.3 585.1,141.3 585.3,141.3 585.5,141.3 585.7,141.3 585.9,141.3 586.1,141.3 586.4,141.3 586.6,141.3 586.8,141.3 587.0,141.3 587.2,141.3 587.4,141.3 587.6,141.3 587.9,141.3 588.1,141.3 588.3,141.3 588.5,141.3 588.7,141.3 588.9,141.3 589.1,141.3 589.4,141.3 589.6,141.3 589.8,141.3 590.0,141.3 590.2,141.2 590.4,141.1 590.7,141.0 590.9,140.6 591.1,140.0 591.3,139.0 591.5,137.5 591.7,135.4 591.9,132.6 592.2,129.2 592.4,125.7 592.6,122.2 592.8,119.5 593.0,117.8 593.2,117.6 593.5,118.8 593.7,121.2 593.9,124.5 594.1,128.1 594.3,131.5 594.5,134.5 594.7,136.9 595.0,138.6 595.2,139.7 595.4,140.5 595.6,140.9 595.8,141.1 596.0,141.2 596.3,141.3 596.5,141.3 596.7,141.3 596.9,141.3 597.1,141.3 597.3,141.3 597.5,141.3 597.8,141.3 598.0,141.3 598.2,141.3 598.4,141.3 598.6,141.3 598.8,141.3 599.1,141.3 599.3,141.3 599.5,141.3 599.7,141.3 599.9,141.3 600.1,141.3 600.3,141.3 600.6,141.3 600.8,141.3 601.0,141.3 601.2,141.3 601.4,141.3 601.6,141.3 601.8,141.4 602.1,141.4 602.3,141.4 602.5,141.5 602.7,141.6 602.9,141.7 603.1,141.8 603.4,142.0 603.6,142.1 603.8,142.3 604.0,142.5 604.2,142.6 604.4,142.7 604.6,142.8 604.9,142.8 605.1,142.7 605.3,142.7 605.5,142.5 605.7,142.4 605.9,142.2 606.2,142.0 606.4,141.9 606.6,141.7 606.8,141.6 607.0,141.5 607.2,141.5 607.4,141.4 607.7,141.4 607.9,141.3 608.1,141.3 608.3,141.3 608.5,141.3 608.7,141.3 609.0,141.3 609.2,141.3 609.4,141.3 609.6,141.3 609.8,141.3 610.0,141.3 610.2,141.3 610.5,141.3 610.7,141.3 610.9,141.3 611.1,141.3 611.3,141.3 611.5,141.3 611.7,141.3 612.0,141.3 612.2,141.3 612.4,141.3 612.6,141.3 612.8,141.3 613.0,141.3 613.3,141.3 613.5,141.3 613.7,141.3 613.9,141.3 614.1,141.3 614.3,141.3 614.5,141.3 614.8,141.3 615.0,141.3 615.2,141.3 615.4,141.3 615.6,141.3 615.8,141.3 616.1,141.3 616.3,141.3 616.5,141.3 616.7,141.3 616.9,141.3 617.1,141.3 617.3,141.3 617.6,141.3 617.8,141.3 618.0,141.3 618.2,141.3 618.4,141.3 618.6,141.3 618.9,141.3 619.1,141.3 619.3,141.3 619.5,141.3 619.7,141.4 619.9,141.4 620.1,141.5 620.4,141.6 620.6,141.7 620.8,141.8 621.0,142.0 621.2,142.3 621.4,142.6 621.7,143.0 621.9,143.4 622.1,143.9 622.3,144.3 622.5,144.7 622.7,145.1 622.9,145.4 623.2,145.7 623.4,145.8 623.6,145.7 623.8,145.6 624.0,145.3 624.2,145.0 624.4,144.6 624.7,144.2 624.9,143.7 625.1,143.3 625.3,142.9 625.5,142.5 625.7,142.2 626.0,142.0 626.2,141.8 626.4,141.6 626.6,141.5 626.8,141.4 627.0,141.4 627.2,141.4 627.5,141.3 627.7,141.3 627.9,141.3 628.1,141.3 628.3,141.3 628.5,141.3 628.8,141.3 629.0,141.3 629.2,141.3 629.4,141.3 629.6,141.3 629.8,141.3 630.0,141.3 630.3,141.3 630.5,141.3 630.7,141.3 630.9,141.3 631.1,141.3 631.3,141.3 631.6,141.2 631.8,141.2 632.0,141.1 632.2,141.1 632.4,141.0 632.6,140.8 632.8,140.7 633.1,140.5 633.3,140.3 633.5,140.1 633.7,139.9 633.9,139.7 634.1,139.4 634.4,139.3 634.6,139.2 634.8,139.1 635.0,139.1 635.2,139.1 635.4,139.2 635.6,139.4 635.9,139.6 636.1,139.8 636.3,140.0 636.5,140.2 636.7,140.4 636.9,140.6 637.1,140.8 637.4,140.9 637.6,141.0 637.8,141.1 638.0,141.2 638.2,141.2 638.4,141.2 638.7,141.3 638.9,141.3 639.1,141.3 639.3,141.3 639.5,141.3 639.7,141.3 639.9,141.3 640.2,141.3 640.4,141.3 640.6,141.3 640.8,141.3 641.0,141.3 641.2,141.3 641.5,141.3 641.7,141.3 641.9,141.3 642.1,141.3 642.3,141.3 642.5,141.3 642.7,141.3 643.0,141.3 643.2,141.3 643.4,141.3 643.6,141.3 643.8,141.3 644.0,141.3 644.3,141.3 644.5,141.3 644.7,141.3 644.9,141.3 645.1,141.3 645.3,141.3 645.5,141.3 645.8,141.3 646.0,141.3 646.2,141.3 646.4,141.3 646.6,141.3 646.8,141.3 647.1,141.3 647.3,141.3 647.5,141.3 647.7,141.3 647.9,141.3 648.1,141.3 648.3,141.3 648.6,141.3 648.8,141.3 649.0,141.3 649.2,141.2 649.4,141.2 649.6,141.2 649.8,141.1 650.1,141.0 650.3,140.9 650.5,140.7 650.7,140.4 650.9,140.2 651.1,139.8 651.4,139.4 651.6,138.9 651.8,138.4 652.0,137.8 652.2,137.3 652.4,136.7 652.6,136.2 652.9,135.7 653.1,135.4 653.3,135.1 653.5,135.0 653.7,135.0 653.9,135.2 654.2,135.5 654.4,135.9 654.6,136.4 654.8,136.9 655.0,137.5 655.2,138.0 655.4,138.6 655.7,139.1 655.9,139.5 656.1,139.9 656.3,140.3 656.5,140.5 656.7,140.7 657.0,140.9 657.2,141.0 657.4,141.1 657.6,141.2 657.8,141.2 658.0,141.2 658.2,141.3 658.5,141.3 658.7,141.3 658.9,141.3 659.1,141.3 659.3,141.3 659.5,141.3 659.8,141.3 660.0,141.3 660.2,141.3 660.4,141.3 660.6,141.3 660.8,141.3 661.0,141.3 661.3,141.2 661.5,141.2 661.7,141.2 661.9,141.1 662.1,141.0 662.3,140.9 662.5,140.8 662.8,140.7 663.0,140.5 663.2,140.3 663.4,140.1 663.6,139.9 663.8,139.7 664.1,139.6 664.3,139.4 664.5,139.2 664.7,139.1 664.9,139.1 665.1,139.1 665.3,139.1 665.6,139.2 665.8,139.3 666.0,139.5 666.2,139.7 666.4,139.9 666.6,140.1 666.9,140.3 667.1,140.5 667.3,140.6 667.5,140.8 667.7,140.9 667.9,141.0 668.1,141.1 668.4,141.1 668.6,141.2 668.8,141.2 669.0,141.2 669.2,141.3 669.4,141.3 669.7,141.3 669.9,141.3 670.1,141.3 670.3,141.3 670.5,141.3 670.7,141.3 670.9,141.3 671.2,141.3 671.4,141.3 671.6,141.3 671.8,141.3 672.0,141.3 672.2,141.3 672.5,141.3 672.7,141.3 672.9,141.3 673.1,141.3 673.3,141.3 673.5,141.3 673.7,141.3 674.0,141.3 674.2,141.3 674.4,141.3 674.6,141.3 674.8,141.3 675.0,141.3 675.2,141.3 675.5,141.3" stroke="#111" stroke-width="1.15" fill="none" stroke-linejoin="round" />
<rect x="493.5" y="4.2" width="184.3" height="166.6" stroke="#5a5a5a" stroke-width="1.1" fill="none" />
<rect x="492.5" y="86.9" width="2" height="2.6" stroke="none" stroke-width="0" fill="#fff" />
<path d="M490.1 88L495.1 85.7M490.1 90.6L495.1 88.4" stroke="#444" stroke-width="0.8"/>
<rect x="676.8" y="86.9" width="2" height="2.6" stroke="none" stroke-width="0" fill="#fff" />
<path d="M674.6 88L680.9 85.7M674.6 90.6L680.9 88.4" stroke="#444" stroke-width="0.8"/>
<path d="M490.5 80.4L493.5 80.4" stroke="#444" stroke-width="0.7"/>
<text x="489.3" y="82.9" font-size="7.3" text-anchor="end" fill="#333" stroke="#333" stroke-width="0.18" >30</text>
<path d="M490.5 65.8L493.5 65.8" stroke="#444" stroke-width="0.7"/>
<text x="489.3" y="68.3" font-size="7.3" text-anchor="end" fill="#333" stroke="#333" stroke-width="0.18" >35</text>
<path d="M490.5 51.2L493.5 51.2" stroke="#444" stroke-width="0.7"/>
<text x="489.3" y="53.7" font-size="7.3" text-anchor="end" fill="#333" stroke="#333" stroke-width="0.18" >40</text>
<path d="M490.5 36.6L493.5 36.6" stroke="#444" stroke-width="0.7"/>
<text x="489.3" y="39.1" font-size="7.3" text-anchor="end" fill="#333" stroke="#333" stroke-width="0.18" >45</text>
<path d="M490.5 22L493.5 22" stroke="#444" stroke-width="0.7"/>
<text x="489.3" y="24.5" font-size="7.3" text-anchor="end" fill="#333" stroke="#333" stroke-width="0.18" >50</text>
<path d="M490.5 7.4L493.5 7.4" stroke="#444" stroke-width="0.7"/>
<text x="489.3" y="9.9" font-size="7.3" text-anchor="end" fill="#333" stroke="#333" stroke-width="0.18" >55</text>
<path d="M491.9 87.7L493.5 87.7M491.9 73.1L493.5 73.1M491.9 58.5L493.5 58.5M491.9 43.9L493.5 43.9M491.9 29.3L493.5 29.3M491.9 14.7L493.5 14.7" stroke="#444" stroke-width="0.6"/>
<path d="M490.5 104.1L493.5 104.1" stroke="#444" stroke-width="0.7"/>
<text x="489.3" y="106.6" font-size="7.3" text-anchor="end" fill="#333" stroke="#333" stroke-width="0.18" >5</text>
<path d="M490.5 141.3L493.5 141.3" stroke="#444" stroke-width="0.7"/>
<text x="489.3" y="143.8" font-size="7.3" text-anchor="end" fill="#333" stroke="#333" stroke-width="0.18" >0</text>
<path d="M491.9 159.9L493.5 159.9M491.9 122.7L493.5 122.7" stroke="#444" stroke-width="0.6"/>
<path d="M498.6 170.8L498.6 173.8" stroke="#444" stroke-width="0.7"/>
<text x="498.6" y="183.3" font-size="7.3" text-anchor="middle" fill="#333" stroke="#333" stroke-width="0.18" >0</text>
<path d="M512.95 170.8L512.95 172.6" stroke="#444" stroke-width="0.6"/>
<path d="M527.3 170.8L527.3 173.8" stroke="#444" stroke-width="0.7"/>
<text x="527.3" y="183.3" font-size="7.3" text-anchor="middle" fill="#333" stroke="#333" stroke-width="0.18" >20</text>
<path d="M541.65 170.8L541.65 172.6" stroke="#444" stroke-width="0.6"/>
<path d="M556 170.8L556 173.8" stroke="#444" stroke-width="0.7"/>
<text x="556" y="183.3" font-size="7.3" text-anchor="middle" fill="#333" stroke="#333" stroke-width="0.18" >40</text>
<path d="M570.35 170.8L570.35 172.6" stroke="#444" stroke-width="0.6"/>
<path d="M584.7 170.8L584.7 173.8" stroke="#444" stroke-width="0.7"/>
<text x="584.7" y="183.3" font-size="7.3" text-anchor="middle" fill="#333" stroke="#333" stroke-width="0.18" >60</text>
<path d="M599.05 170.8L599.05 172.6" stroke="#444" stroke-width="0.6"/>
<path d="M613.4 170.8L613.4 173.8" stroke="#444" stroke-width="0.7"/>
<text x="613.4" y="183.3" font-size="7.3" text-anchor="middle" fill="#333" stroke="#333" stroke-width="0.18" >80</text>
<path d="M627.75 170.8L627.75 172.6" stroke="#444" stroke-width="0.6"/>
<path d="M642.1 170.8L642.1 173.8" stroke="#444" stroke-width="0.7"/>
<text x="642.1" y="183.3" font-size="7.3" text-anchor="middle" fill="#333" stroke="#333" stroke-width="0.18" >100</text>
<path d="M656.45 170.8L656.45 172.6" stroke="#444" stroke-width="0.6"/>
<path d="M670.8 170.8L670.8 173.8" stroke="#444" stroke-width="0.7"/>
<text x="670.8" y="183.3" font-size="7.3" text-anchor="middle" fill="#333" stroke="#333" stroke-width="0.18" >120</text>
<text x="585.85" y="190.1" font-size="9.5" text-anchor="middle" fill="#222" stroke="#222" stroke-width="0.18" textLength="55.8" lengthAdjust="spacingAndGlyphs">2Θ (degrees)</text>
<text x="478" y="89" font-size="9.2" text-anchor="middle" fill="#222" stroke="#222" stroke-width="0.18" transform="rotate(-90 478 89)" textLength="79" lengthAdjust="spacingAndGlyphs">Intensity (arb.units)</text>
<text x="-0.5" y="220.8" font-size="16.5" text-anchor="start" fill="#111" stroke="#111" stroke-width="0.18" >d</text>
<defs><clipPath id="cd0"><rect x="29.4" y="219.5" width="100.0" height="73.5"/></clipPath><clipPath id="cd1"><rect x="152.2" y="219.7" width="99.3" height="73.6"/></clipPath><clipPath id="cd2"><rect x="29.4" y="293.0" width="100.0" height="72.3"/></clipPath><clipPath id="cd3"><rect x="152.2" y="293.3" width="99.3" height="72.3"/></clipPath><clipPath id="cd4"><rect x="29.4" y="365.3" width="100.0" height="73.5"/></clipPath><clipPath id="cd5"><rect x="152.2" y="365.6" width="99.3" height="72.6"/></clipPath><clipPath id="cd6"><rect x="29.4" y="438.8" width="100.0" height="72.5"/></clipPath><clipPath id="cdz"><rect x="151.4" y="453.3" width="100" height="58.2"/></clipPath></defs>
<g clip-path="url(#cd0)">
<polygon points="39.3,235.0 39.3,235.1 39.5,235.1 40.4,235.1 41.2,235.1 42.1,235.1 42.9,235.1 43.8,235.1 44.6,235.1 45.4,235.1 46.2,235.1 47.0,235.1 47.8,235.1 48.6,235.1 49.4,235.2 50.2,235.2 51.0,235.2 51.7,235.2 52.5,235.2 53.3,235.2 54.0,235.2 54.7,235.2 55.5,235.2 56.2,235.2 56.9,235.3 57.6,235.3 58.3,235.3 59.0,235.3 59.7,235.3 60.4,235.4 61.1,235.4 61.7,235.4 62.4,235.4 63.0,235.5 63.7,235.5 64.3,235.5 64.9,235.6 65.6,235.6 66.2,235.7 66.8,235.8 67.4,235.8 67.9,235.9 68.5,236.0 69.1,236.1 69.7,236.2 70.2,236.4 70.7,236.5 71.3,236.7 71.8,237.0 72.3,237.2 72.8,237.6 73.3,238.0 73.8,238.5 74.3,239.2 74.8,240.0 75.2,241.0 75.7,242.4 76.1,244.2 76.5,246.5 76.9,249.3 77.4,252.6 77.8,256.0 78.1,258.6 78.5,259.5 78.9,258.6 79.2,256.3 79.6,253.6 79.9,251.0 80.2,248.8 80.5,247.0 80.8,245.6 81.1,244.5 81.3,243.7 81.6,243.0 81.8,242.5 82.0,242.2 82.2,241.9 82.4,241.7 82.6,241.6 82.7,241.5 82.8,241.4 82.9,241.4 83.0,241.4 83.0,241.4 83.1,241.4 83.2,241.4 83.3,241.4 83.4,241.4 83.6,241.5 83.8,241.6 84.0,241.8 84.2,242.0 84.4,242.3 84.7,242.8 84.9,243.4 85.2,244.2 85.5,245.1 85.8,246.4 86.1,248.0 86.5,250.0 86.8,252.5 87.2,255.1 87.5,257.7 87.9,259.5 88.3,259.8 88.7,258.4 89.1,255.6 89.5,252.3 89.9,249.1 90.4,246.4 90.8,244.2 91.3,242.5 91.7,241.1 92.2,240.1 92.7,239.3 93.2,238.6 93.7,238.1 94.2,237.7 94.8,237.3 95.3,237.0 95.8,236.8 96.4,236.6 96.9,236.4 97.5,236.3 98.1,236.1 98.7,236.0 99.3,235.9 99.9,235.8 100.5,235.8 101.1,235.7 101.7,235.7 102.4,235.6 103.0,235.6 103.6,235.5 104.3,235.5 105.0,235.4 105.6,235.4 106.3,235.4 107.0,235.4 107.7,235.3 108.4,235.3 109.1,235.3 109.8,235.3 110.6,235.3 111.3,235.2 112.0,235.2 112.8,235.2 113.5,235.2 114.3,235.2 115.1,235.2 115.8,235.2 116.6,235.2 117.4,235.2 118.2,235.2 119.0,235.1 119.8,235.1 120.6,235.1 121.4,235.1 121.9,235.1 121.9,235.0" fill="#88f01c" stroke="#88f01c" stroke-width="0.5" stroke-linejoin="round"/>
<polygon points="39.3,235.0 39.3,235.0 39.5,235.0 40.4,235.0 41.2,235.0 42.1,235.0 42.9,235.1 43.8,235.1 44.6,235.1 45.4,235.1 46.2,235.1 47.0,235.1 47.8,235.1 48.6,235.1 49.4,235.1 50.2,235.1 51.0,235.1 51.7,235.1 52.5,235.1 53.3,235.1 54.0,235.1 54.7,235.1 55.5,235.1 56.2,235.1 56.9,235.1 57.6,235.1 58.3,235.1 59.0,235.1 59.7,235.1 60.4,235.2 61.1,235.2 61.7,235.2 62.4,235.2 63.0,235.2 63.7,235.2 64.3,235.2 64.9,235.2 65.6,235.2 66.2,235.3 66.8,235.3 67.4,235.3 67.9,235.3 68.5,235.3 69.1,235.4 69.7,235.4 70.2,235.4 70.7,235.5 71.3,235.5 71.8,235.5 72.3,235.6 72.8,235.6 73.3,235.7 73.8,235.8 74.3,235.8 74.8,235.9 75.2,236.0 75.7,236.1 76.1,236.2 76.5,236.3 76.9,236.5 77.4,236.6 77.8,236.8 78.1,237.0 78.5,237.3 78.9,237.5 79.2,237.8 79.6,238.1 79.9,238.5 80.2,238.8 80.5,239.3 80.8,239.7 81.1,240.2 81.3,240.7 81.6,241.1 81.8,241.6 82.0,242.1 82.2,242.6 82.4,243.0 82.6,243.4 82.7,243.7 82.8,243.9 82.9,244.1 83.0,244.2 83.0,244.3 83.1,244.4 83.2,244.5 83.3,244.7 83.4,244.9 83.6,245.0 83.8,245.1 84.0,245.1 84.2,245.0 84.4,244.8 84.7,244.5 84.9,244.0 85.2,243.4 85.5,242.8 85.8,242.1 86.1,241.4 86.5,240.7 86.8,240.1 87.2,239.5 87.5,239.0 87.9,238.5 88.3,238.1 88.7,237.7 89.1,237.4 89.5,237.1 89.9,236.9 90.4,236.7 90.8,236.5 91.3,236.4 91.7,236.2 92.2,236.1 92.7,236.0 93.2,235.9 93.7,235.8 94.2,235.7 94.8,235.7 95.3,235.6 95.8,235.6 96.4,235.5 96.9,235.5 97.5,235.4 98.1,235.4 98.7,235.4 99.3,235.3 99.9,235.3 100.5,235.3 101.1,235.3 101.7,235.3 102.4,235.2 103.0,235.2 103.6,235.2 104.3,235.2 105.0,235.2 105.6,235.2 106.3,235.2 107.0,235.2 107.7,235.1 108.4,235.1 109.1,235.1 109.8,235.1 110.6,235.1 111.3,235.1 112.0,235.1 112.8,235.1 113.5,235.1 114.3,235.1 115.1,235.1 115.8,235.1 116.6,235.1 117.4,235.1 118.2,235.1 119.0,235.1 119.8,235.1 120.6,235.1 121.4,235.1 121.9,235.1 121.9,235.0" fill="#a9b5b5" stroke="#a9b5b5" stroke-width="0.5" stroke-linejoin="round"/>
<polygon points="39.3,235.0 39.3,235.1 39.5,235.1 40.4,235.1 41.2,235.1 42.1,235.1 42.9,235.1 43.8,235.1 44.6,235.2 45.4,235.2 46.2,235.2 47.0,235.2 47.8,235.2 48.6,235.2 49.4,235.2 50.2,235.2 51.0,235.2 51.7,235.2 52.5,235.3 53.3,235.3 54.0,235.3 54.7,235.3 55.5,235.3 56.2,235.4 56.9,235.4 57.6,235.4 58.3,235.4 59.0,235.5 59.7,235.5 60.4,235.6 61.1,235.6 61.7,235.7 62.4,235.7 63.0,235.8 63.7,235.9 64.3,236.0 64.9,236.1 65.6,236.2 66.2,236.3 66.8,236.5 67.4,236.7 67.9,236.9 68.5,237.2 69.1,237.5 69.7,237.9 70.2,238.4 70.7,239.0 71.3,239.7 71.8,240.5 72.3,241.6 72.8,242.8 73.3,244.2 73.8,245.7 74.3,247.0 74.8,248.1 75.2,248.6 75.7,248.4 76.1,247.7 76.5,246.7 76.9,245.4 77.4,244.2 77.8,243.1 78.1,242.2 78.5,241.3 78.9,240.6 79.2,240.1 79.6,239.6 79.9,239.2 80.2,238.8 80.5,238.5 80.8,238.3 81.1,238.1 81.3,237.9 81.6,237.8 81.8,237.6 82.0,237.5 82.2,237.4 82.4,237.4 82.6,237.3 82.7,237.2 82.8,237.2 82.9,237.2 83.0,237.2 83.0,237.1 83.1,237.1 83.2,237.1 83.3,237.1 83.4,237.0 83.6,237.0 83.8,236.9 84.0,236.9 84.2,236.9 84.4,236.8 84.7,236.8 84.9,236.8 85.2,236.7 85.5,236.7 85.8,236.7 86.1,236.7 86.5,236.7 86.8,236.7 87.2,236.7 87.5,236.7 87.9,236.8 88.3,236.8 88.7,236.9 89.1,237.0 89.5,237.1 89.9,237.3 90.4,237.5 90.8,237.7 91.3,238.0 91.7,238.4 92.2,238.9 92.7,239.5 93.2,240.3 93.7,241.2 94.2,242.5 94.8,243.9 95.3,245.5 95.8,246.9 96.4,247.7 96.9,247.5 97.5,246.4 98.1,244.8 98.7,243.0 99.3,241.5 99.9,240.2 100.5,239.3 101.1,238.5 101.7,237.9 102.4,237.4 103.0,237.0 103.6,236.7 104.3,236.5 105.0,236.3 105.6,236.1 106.3,236.0 107.0,235.9 107.7,235.8 108.4,235.7 109.1,235.7 109.8,235.6 110.6,235.5 111.3,235.5 112.0,235.5 112.8,235.4 113.5,235.4 114.3,235.4 115.1,235.3 115.8,235.3 116.6,235.3 117.4,235.3 118.2,235.3 119.0,235.2 119.8,235.2 120.6,235.2 121.4,235.2 121.9,235.2 121.9,235.0" fill="#4f78f0" stroke="#4f78f0" stroke-width="0.5" stroke-linejoin="round"/>
<polygon points="39.3,235.0 39.3,235.1 39.5,235.1 40.4,235.1 41.2,235.1 42.1,235.1 42.9,235.1 43.8,235.1 44.6,235.1 45.4,235.1 46.2,235.1 47.0,235.1 47.8,235.1 48.6,235.1 49.4,235.1 50.2,235.1 51.0,235.1 51.7,235.1 52.5,235.1 53.3,235.1 54.0,235.2 54.7,235.2 55.5,235.2 56.2,235.2 56.9,235.2 57.6,235.2 58.3,235.2 59.0,235.2 59.7,235.3 60.4,235.3 61.1,235.3 61.7,235.3 62.4,235.3 63.0,235.4 63.7,235.4 64.3,235.4 64.9,235.4 65.6,235.5 66.2,235.5 66.8,235.6 67.4,235.6 67.9,235.7 68.5,235.8 69.1,235.8 69.7,235.9 70.2,236.0 70.7,236.2 71.3,236.3 71.8,236.5 72.3,236.7 72.8,236.9 73.3,237.2 73.8,237.5 74.3,237.8 74.8,238.3 75.2,238.8 75.7,239.3 76.1,239.9 76.5,240.6 76.9,241.3 77.4,241.9 77.8,242.3 78.1,242.6 78.5,242.7 78.9,242.6 79.2,242.4 79.6,242.0 79.9,241.5 80.2,241.0 80.5,240.6 80.8,240.1 81.1,239.7 81.3,239.4 81.6,239.1 81.8,238.8 82.0,238.6 82.2,238.4 82.4,238.2 82.6,238.0 82.7,237.9 82.8,237.8 82.9,237.8 83.0,237.7 83.0,237.7 83.1,237.7 83.2,237.6 83.3,237.5 83.4,237.4 83.6,237.3 83.8,237.2 84.0,237.1 84.2,237.0 84.4,236.9 84.7,236.8 84.9,236.7 85.2,236.7 85.5,236.6 85.8,236.5 86.1,236.4 86.5,236.4 86.8,236.3 87.2,236.3 87.5,236.2 87.9,236.2 88.3,236.1 88.7,236.1 89.1,236.1 89.5,236.1 89.9,236.1 90.4,236.1 90.8,236.1 91.3,236.1 91.7,236.2 92.2,236.2 92.7,236.3 93.2,236.4 93.7,236.5 94.2,236.6 94.8,236.8 95.3,237.0 95.8,237.3 96.4,237.7 96.9,238.1 97.5,238.7 98.1,239.3 98.7,240.1 99.3,240.9 99.9,241.6 100.5,242.0 101.1,241.9 101.7,241.3 102.4,240.4 103.0,239.5 103.6,238.7 104.3,238.0 105.0,237.5 105.6,237.1 106.3,236.7 107.0,236.5 107.7,236.2 108.4,236.1 109.1,235.9 109.8,235.8 110.6,235.7 111.3,235.6 112.0,235.6 112.8,235.5 113.5,235.5 114.3,235.4 115.1,235.4 115.8,235.3 116.6,235.3 117.4,235.3 118.2,235.3 119.0,235.2 119.8,235.2 120.6,235.2 121.4,235.2 121.9,235.2 121.9,235.0" fill="#fb33f5" stroke="#fb33f5" stroke-width="1.6" stroke-linejoin="round"/>
<path d="M39.3 234.6V249.7M39.8 228.5V245.0M40.4 231.3V239.5M40.9 223.4V231.7M41.5 226.1V241.7M42.1 228.1V239.1M42.6 228.1V241.3M43.2 227.8V237.2M43.7 225.9V243.9M44.3 226.6V239.7M44.9 221.6V238.0M45.4 234.4V242.9M46.0 232.3V245.0M46.5 237.8V246.2M47.1 226.9V243.9M47.7 227.4V239.8M48.2 228.8V237.3M48.8 224.8V233.4M49.4 232.5V245.9M49.9 226.6V235.2M50.5 225.7V235.5M51.0 228.4V240.7M51.6 234.9V247.8M52.2 229.5V243.3M52.7 224.3V238.5M53.3 226.8V238.5M53.8 231.0V245.2M54.4 230.3V239.7M55.0 227.3V237.9M55.5 226.8V242.9M56.1 234.1V243.5M56.6 238.7V248.8M57.2 225.7V236.1M57.8 227.0V239.8M58.3 228.9V236.7M58.9 222.3V230.4M59.4 226.1V238.7M60.0 227.4V236.9M60.6 233.4V248.2M61.1 227.9V244.0M61.7 223.2V237.0M62.2 231.9V246.9M62.8 229.7V241.5M63.4 226.1V234.4M63.9 228.9V241.3M64.5 229.6V241.3M65.0 227.6V241.6M65.6 233.9V243.1M66.2 224.7V234.8M66.7 229.9V246.2M67.3 238.4V248.9M67.8 237.6V249.6M68.4 236.6V254.1M69.0 240.9V251.5M69.5 244.0V253.3M70.1 231.7V246.8M70.6 241.5V255.2M71.2 231.8V246.0M71.8 241.8V250.0M72.3 237.1V249.2M72.9 253.8V261.7M73.5 256.5V266.9M74.0 250.7V265.8M74.6 264.9V273.4M75.1 257.1V268.0M75.7 259.9V278.0M76.3 262.7V280.6M76.8 262.3V275.1M77.4 268.8V284.2M77.9 276.6V290.9M78.5 265.7V278.3M79.1 270.7V287.5M79.6 269.2V278.7M80.2 272.5V288.9M80.7 270.7V278.9M81.3 266.4V283.3M81.9 266.6V281.4M82.4 265.5V278.0M83.0 257.0V271.8M83.5 268.5V281.1M84.1 255.0V270.9M84.7 264.1V273.0M85.2 262.7V275.7M85.8 254.1V271.0M86.3 256.9V274.4M86.9 263.9V274.0M87.5 258.2V268.6M88.0 250.6V267.8M88.6 244.5V255.9M89.1 252.9V261.2M89.7 249.7V264.9M90.3 250.0V262.1M90.8 244.9V260.3M91.4 250.1V262.8M91.9 245.0V258.0M92.5 246.4V258.6M93.1 249.5V260.3M93.6 239.5V256.7M94.2 242.4V257.2M94.7 251.4V267.4M95.3 245.7V262.8M95.9 240.6V251.0M96.4 242.2V259.6M97.0 245.3V262.0M97.6 249.6V262.7M98.1 244.2V257.9M98.7 242.7V251.6M99.2 237.2V252.9M99.8 244.6V254.2M100.4 240.6V253.9M100.9 238.7V247.9M101.5 239.8V248.3M102.0 235.6V249.7M102.6 240.2V253.1M103.2 233.1V247.9M103.7 236.6V252.6M104.3 236.4V254.5M104.8 239.0V247.7M105.4 230.3V244.7M106.0 238.7V252.5M106.5 229.7V244.3M107.1 234.2V247.7M107.6 229.0V242.6M108.2 223.1V239.9M108.8 232.8V245.3M109.3 232.2V245.6M109.9 229.6V244.6M110.4 233.8V242.6M111.0 228.1V240.4M111.6 229.2V238.1M112.1 231.1V240.3M112.7 239.9V247.8M113.2 234.4V244.3M113.8 228.9V239.0M114.4 231.6V244.8M114.9 227.1V240.8M115.5 225.8V242.2M116.0 232.8V245.6M116.6 225.1V242.1M117.2 223.0V234.9M117.7 224.2V239.8M118.3 229.2V242.7M118.9 228.9V243.2M119.4 235.2V245.8M120.0 223.8V241.4M120.5 230.5V246.3M121.1 232.4V241.7M121.7 228.0V241.4" stroke="#7a7a7a" stroke-width="0.5" fill="none"/>
<path d="M39.3 242.2h0M39.8 236.7h0M40.4 235.4h0M40.9 227.6h0M41.5 233.9h0M42.1 233.6h0M42.6 234.7h0M43.2 232.5h0M43.7 234.9h0M44.3 233.2h0M44.9 229.8h0M45.4 238.6h0M46.0 238.6h0M46.5 242.0h0M47.1 235.4h0M47.7 233.6h0M48.2 233.0h0M48.8 229.1h0M49.4 239.2h0M49.9 230.9h0M50.5 230.6h0M51.0 234.6h0M51.6 241.4h0M52.2 236.4h0M52.7 231.4h0M53.3 232.7h0M53.8 238.1h0M54.4 235.0h0M55.0 232.6h0M55.5 234.8h0M56.1 238.8h0M56.6 243.7h0M57.2 230.9h0M57.8 233.4h0M58.3 232.8h0M58.9 226.4h0M59.4 232.4h0M60.0 232.1h0M60.6 240.8h0M61.1 235.9h0M61.7 230.1h0M62.2 239.4h0M62.8 235.6h0M63.4 230.3h0M63.9 235.1h0M64.5 235.4h0M65.0 234.6h0M65.6 238.5h0M66.2 229.8h0M66.7 238.0h0M67.3 243.6h0M67.8 243.6h0M68.4 245.3h0M69.0 246.2h0M69.5 248.6h0M70.1 239.3h0M70.6 248.3h0M71.2 238.9h0M71.8 245.9h0M72.3 243.2h0M72.9 257.8h0M73.5 261.7h0M74.0 258.3h0M74.6 269.2h0M75.1 262.6h0M75.7 268.9h0M76.3 271.6h0M76.8 268.7h0M77.4 276.5h0M77.9 283.8h0M78.5 272.0h0M79.1 279.1h0M79.6 274.0h0M80.2 280.7h0M80.7 274.8h0M81.3 274.9h0M81.9 274.0h0M82.4 271.7h0M83.0 264.4h0M83.5 274.8h0M84.1 263.0h0M84.7 268.6h0M85.2 269.2h0M85.8 262.5h0M86.3 265.6h0M86.9 269.0h0M87.5 263.4h0M88.0 259.2h0M88.6 250.2h0M89.1 257.0h0M89.7 257.3h0M90.3 256.0h0M90.8 252.6h0M91.4 256.4h0M91.9 251.5h0M92.5 252.5h0M93.1 254.9h0M93.6 248.1h0M94.2 249.8h0M94.7 259.4h0M95.3 254.2h0M95.9 245.8h0M96.4 250.9h0M97.0 253.6h0M97.6 256.2h0M98.1 251.1h0M98.7 247.1h0M99.2 245.0h0M99.8 249.4h0M100.4 247.2h0M100.9 243.3h0M101.5 244.1h0M102.0 242.6h0M102.6 246.7h0M103.2 240.5h0M103.7 244.6h0M104.3 245.4h0M104.8 243.4h0M105.4 237.5h0M106.0 245.6h0M106.5 237.0h0M107.1 241.0h0M107.6 235.8h0M108.2 231.5h0M108.8 239.0h0M109.3 238.9h0M109.9 237.1h0M110.4 238.2h0M111.0 234.2h0M111.6 233.6h0M112.1 235.7h0M112.7 243.8h0M113.2 239.4h0M113.8 233.9h0M114.4 238.2h0M114.9 234.0h0M115.5 234.0h0M116.0 239.2h0M116.6 233.6h0M117.2 229.0h0M117.7 232.0h0M118.3 235.9h0M118.9 236.1h0M119.4 240.5h0M120.0 232.6h0M120.5 238.4h0M121.1 237.1h0M121.7 234.7h0" stroke="#333" stroke-width="0.9" stroke-linecap="round" fill="none"/>
<polyline points="39.3,235.0 39.6,235.0 40.0,235.0 40.4,235.0 40.8,235.0 41.1,235.0 41.5,235.0 41.9,235.0 42.3,235.0 42.7,235.0 43.0,235.0 43.4,235.0 43.8,235.1 44.2,235.1 44.5,235.1 44.9,235.1 45.3,235.1 45.7,235.1 46.1,235.1 46.4,235.1 46.8,235.2 47.2,235.2 47.6,235.2 47.9,235.2 48.3,235.2 48.7,235.2 49.1,235.3 49.4,235.3 49.8,235.3 50.2,235.3 50.6,235.3 51.0,235.4 51.3,235.4 51.7,235.4 52.1,235.4 52.5,235.5 52.8,235.5 53.2,235.5 53.6,235.6 54.0,235.6 54.4,235.6 54.7,235.7 55.1,235.7 55.5,235.7 55.9,235.8 56.2,235.8 56.6,235.8 57.0,235.9 57.4,235.9 57.7,235.9 58.1,236.0 58.5,236.0 58.9,236.1 59.3,236.1 59.6,236.2 60.0,236.2 60.4,236.3 60.8,236.4 61.1,236.5 61.5,236.6 61.9,236.7 62.3,236.8 62.7,237.0 63.0,237.1 63.4,237.3 63.8,237.4 64.2,237.6 64.5,237.8 64.9,238.0 65.3,238.2 65.7,238.4 66.0,238.7 66.4,238.9 66.8,239.2 67.2,239.5 67.6,239.9 67.9,240.3 68.3,240.8 68.7,241.3 69.1,241.9 69.4,242.5 69.8,243.2 70.2,244.0 70.6,244.8 71.0,245.6 71.3,246.7 71.7,248.1 72.1,249.7 72.5,251.4 72.8,253.3 73.2,255.2 73.6,257.1 74.0,258.9 74.3,260.8 74.7,262.9 75.1,265.1 75.5,267.2 75.9,269.2 76.2,270.9 76.6,272.4 77.0,273.6 77.4,274.7 77.7,275.7 78.1,276.2 78.5,276.1 78.9,275.8 79.3,275.2 79.6,274.5 80.0,273.9 80.4,273.3 80.8,272.8 81.1,272.3 81.5,271.9 81.9,271.4 82.3,270.9 82.7,270.4 83.0,270.0 83.4,269.4 83.8,268.9 84.2,268.3 84.5,267.8 84.9,267.2 85.3,266.6 85.7,266.1 86.0,265.5 86.4,264.9 86.8,264.4 87.2,263.9 87.6,263.4 87.9,262.9 88.3,262.3 88.7,261.7 89.1,261.1 89.4,260.3 89.8,259.4 90.2,258.3 90.6,257.2 91.0,256.1 91.3,255.1 91.7,254.2 92.1,253.6 92.5,253.0 92.8,252.5 93.2,252.0 93.6,251.5 94.0,251.2 94.3,250.9 94.7,250.7 95.1,250.7 95.5,250.8 95.9,250.9 96.2,251.1 96.6,251.3 97.0,251.4 97.4,251.4 97.7,251.0 98.1,250.5 98.5,249.7 98.9,248.8 99.3,247.9 99.6,247.1 100.0,246.4 100.4,246.0 100.8,245.5 101.1,245.1 101.5,244.8 101.9,244.4 102.3,244.1 102.6,243.7 103.0,243.4 103.4,243.0 103.8,242.6 104.2,242.2 104.5,241.8 104.9,241.3 105.3,240.9 105.7,240.5 106.0,240.2 106.4,239.8 106.8,239.5 107.2,239.2 107.6,238.9 107.9,238.7 108.3,238.4 108.7,238.2 109.1,237.9 109.4,237.7 109.8,237.5 110.2,237.2 110.6,237.0 110.9,236.9 111.3,236.7 111.7,236.5 112.1,236.4 112.5,236.3 112.8,236.2 113.2,236.1 113.6,236.0 114.0,236.0 114.3,235.9 114.7,235.9 115.1,235.9 115.5,235.8 115.9,235.8 116.2,235.7 116.6,235.7 117.0,235.7 117.4,235.7 117.7,235.6 118.1,235.6 118.5,235.6 118.9,235.6 119.2,235.5 119.6,235.5 120.0,235.5 120.4,235.4 120.8,235.4 121.1,235.4 121.5,235.3 121.9,235.3" stroke="#111" stroke-width="1.25" fill="none" stroke-linejoin="round" />
</g>
<rect x="29.4" y="219.5" width="100" height="73.5" stroke="#222" stroke-width="1.1" fill="none" />
<path d="M34.2 219.5L34.2 222.5M34.2 293L34.2 290M43.24 219.5L43.24 222.5M43.24 293L43.24 290M52.28 219.5L52.28 222.5M52.28 293L52.28 290M61.32 219.5L61.32 222.5M61.32 293L61.32 290M70.36 219.5L70.36 222.5M70.36 293L70.36 290M79.4 219.5L79.4 222.5M79.4 293L79.4 290M88.44 219.5L88.44 222.5M88.44 293L88.44 290M97.48 219.5L97.48 222.5M97.48 293L97.48 290M106.52 219.5L106.52 222.5M106.52 293L106.52 290M115.56 219.5L115.56 222.5M115.56 293L115.56 290M124.6 219.5L124.6 222.5M124.6 293L124.6 290" stroke="#333" stroke-width="0.6"/>
<path d="M29.68 219.5L29.68 221.5M29.68 293L29.68 291M38.72 219.5L38.72 221.5M38.72 293L38.72 291M47.76 219.5L47.76 221.5M47.76 293L47.76 291M56.8 219.5L56.8 221.5M56.8 293L56.8 291M65.84 219.5L65.84 221.5M65.84 293L65.84 291M74.88 219.5L74.88 221.5M74.88 293L74.88 291M83.92 219.5L83.92 221.5M83.92 293L83.92 291M92.96 219.5L92.96 221.5M92.96 293L92.96 291M102 219.5L102 221.5M102 293L102 291M111.04 219.5L111.04 221.5M111.04 293L111.04 291M120.08 219.5L120.08 221.5M120.08 293L120.08 291M129.12 219.5L129.12 221.5M129.12 293L129.12 291" stroke="#333" stroke-width="0.5"/>
<path d="M29.4 235L33.4 235M129.4 235L125.4 235M29.4 264.8L33.4 264.8M129.4 264.8L125.4 264.8" stroke="#333" stroke-width="0.75"/>
<path d="M29.4 220.1L31.6 220.1M129.4 220.1L127.2 220.1M29.4 223.08L31.6 223.08M129.4 223.08L127.2 223.08M29.4 226.06L31.6 226.06M129.4 226.06L127.2 226.06M29.4 229.04L31.6 229.04M129.4 229.04L127.2 229.04M29.4 232.02L31.6 232.02M129.4 232.02L127.2 232.02M29.4 237.98L31.6 237.98M129.4 237.98L127.2 237.98M29.4 240.96L31.6 240.96M129.4 240.96L127.2 240.96M29.4 243.94L31.6 243.94M129.4 243.94L127.2 243.94M29.4 246.92L31.6 246.92M129.4 246.92L127.2 246.92M29.4 249.9L31.6 249.9M129.4 249.9L127.2 249.9M29.4 252.88L31.6 252.88M129.4 252.88L127.2 252.88M29.4 255.86L31.6 255.86M129.4 255.86L127.2 255.86M29.4 258.84L31.6 258.84M129.4 258.84L127.2 258.84M29.4 261.82L31.6 261.82M129.4 261.82L127.2 261.82M29.4 267.78L31.6 267.78M129.4 267.78L127.2 267.78M29.4 270.76L31.6 270.76M129.4 270.76L127.2 270.76M29.4 273.74L31.6 273.74M129.4 273.74L127.2 273.74M29.4 276.72L31.6 276.72M129.4 276.72L127.2 276.72M29.4 279.7L31.6 279.7M129.4 279.7L127.2 279.7M29.4 282.68L31.6 282.68M129.4 282.68L127.2 282.68M29.4 285.66L31.6 285.66M129.4 285.66L127.2 285.66M29.4 288.64L31.6 288.64M129.4 288.64L127.2 288.64M29.4 291.62L31.6 291.62M129.4 291.62L127.2 291.62" stroke="#333" stroke-width="0.6"/>
<text x="26.8" y="237.7" font-size="7.9" text-anchor="end" fill="#222" stroke="#222" stroke-width="0.18" >0.0</text>
<text x="26.8" y="267.5" font-size="7.9" text-anchor="end" fill="#222" stroke="#222" stroke-width="0.18" >0.1</text>
<text x="33.7" y="287.8" font-size="7.7" text-anchor="start" fill="#222" stroke="#222" stroke-width="0.18" textLength="39.4" lengthAdjust="spacingAndGlyphs">0.03 wt% Fe</text>
<text x="8.4" y="256.55" font-size="7.9" text-anchor="middle" fill="#222" stroke="#222" stroke-width="0.18" transform="rotate(-90 8.4 256.55)" textLength="26.6" lengthAdjust="spacingAndGlyphs">Abs / %</text>
<g clip-path="url(#cd1)">
<polygon points="161.6,232.0 161.6,232.0 161.8,232.0 162.7,232.0 163.5,232.0 164.4,232.0 165.2,232.0 166.0,232.0 166.9,232.0 167.7,232.0 168.5,232.0 169.3,232.1 170.1,232.1 170.9,232.1 171.7,232.1 172.5,232.1 173.2,232.1 174.0,232.1 174.8,232.1 175.5,232.1 176.3,232.1 177.0,232.1 177.7,232.1 178.4,232.1 179.2,232.1 179.9,232.1 180.6,232.1 181.3,232.1 182.0,232.1 182.6,232.1 183.3,232.1 184.0,232.1 184.6,232.1 185.3,232.2 185.9,232.2 186.5,232.2 187.2,232.2 187.8,232.2 188.4,232.2 189.0,232.2 189.6,232.2 190.2,232.3 190.7,232.3 191.3,232.3 191.9,232.3 192.4,232.3 193.0,232.4 193.5,232.4 194.0,232.4 194.5,232.5 195.0,232.5 195.5,232.5 196.0,232.6 196.5,232.6 197.0,232.7 197.4,232.8 197.9,232.8 198.3,232.9 198.7,233.0 199.2,233.1 199.6,233.3 200.0,233.4 200.3,233.6 200.7,233.7 201.1,233.9 201.4,234.2 201.8,234.4 202.1,234.7 202.4,235.1 202.7,235.5 203.0,235.9 203.3,236.4 203.5,237.0 203.8,237.6 204.0,238.3 204.2,239.1 204.4,239.9 204.6,240.7 204.8,241.6 204.9,242.4 205.0,243.2 205.1,243.9 205.2,244.3 205.2,244.5 205.3,245.0 205.4,245.8 205.5,246.8 205.6,248.2 205.8,249.8 206.0,251.8 206.2,254.0 206.4,256.3 206.6,258.3 206.9,259.5 207.1,259.6 207.4,258.1 207.7,255.5 208.0,252.2 208.3,248.8 208.6,245.8 209.0,243.2 209.3,241.1 209.7,239.4 210.1,238.1 210.5,237.0 210.9,236.2 211.3,235.5 211.7,235.0 212.1,234.6 212.5,234.2 213.0,233.9 213.4,233.7 213.9,233.5 214.4,233.3 214.9,233.1 215.4,233.0 215.9,232.9 216.4,232.8 216.9,232.7 217.5,232.7 218.0,232.6 218.5,232.5 219.1,232.5 219.7,232.4 220.2,232.4 220.8,232.4 221.4,232.3 222.0,232.3 222.6,232.3 223.2,232.3 223.9,232.3 224.5,232.2 225.1,232.2 225.8,232.2 226.4,232.2 227.1,232.2 227.8,232.2 228.5,232.2 229.1,232.1 229.8,232.1 230.5,232.1 231.3,232.1 232.0,232.1 232.7,232.1 233.4,232.1 234.2,232.1 234.9,232.1 235.7,232.1 236.4,232.1 237.2,232.1 238.0,232.1 238.7,232.1 239.5,232.1 240.3,232.1 241.1,232.1 241.9,232.1 242.7,232.1 243.6,232.1 244.0,232.1 244.0,232.0" fill="#a9b5b5" stroke="#a9b5b5" stroke-width="0.5" stroke-linejoin="round"/>
<polygon points="161.6,232.0 161.6,232.0 161.8,232.0 162.7,232.0 163.5,232.0 164.4,232.0 165.2,232.0 166.0,232.0 166.9,232.0 167.7,232.0 168.5,232.0 169.3,232.0 170.1,232.0 170.9,232.0 171.7,232.0 172.5,232.0 173.2,232.0 174.0,232.0 174.8,232.0 175.5,232.0 176.3,232.0 177.0,232.0 177.7,232.0 178.4,232.0 179.2,232.0 179.9,232.0 180.6,232.1 181.3,232.1 182.0,232.1 182.6,232.1 183.3,232.1 184.0,232.1 184.6,232.1 185.3,232.1 185.9,232.1 186.5,232.1 187.2,232.1 187.8,232.1 188.4,232.1 189.0,232.1 189.6,232.1 190.2,232.1 190.7,232.1 191.3,232.2 191.9,232.2 192.4,232.2 193.0,232.2 193.5,232.2 194.0,232.2 194.5,232.3 195.0,232.3 195.5,232.3 196.0,232.3 196.5,232.4 197.0,232.4 197.4,232.4 197.9,232.5 198.3,232.6 198.7,232.6 199.2,232.7 199.6,232.8 200.0,232.9 200.3,233.0 200.7,233.1 201.1,233.3 201.4,233.5 201.8,233.7 202.1,233.9 202.4,234.2 202.7,234.6 203.0,234.9 203.3,235.4 203.5,235.9 203.8,236.5 204.0,237.1 204.2,237.7 204.4,238.4 204.6,239.0 204.8,239.6 204.9,240.1 205.0,240.5 205.1,240.9 205.2,241.1 205.2,241.1 205.3,241.3 205.4,241.6 205.5,241.9 205.6,242.1 205.8,242.2 206.0,242.2 206.2,241.9 206.4,241.3 206.6,240.6 206.9,239.7 207.1,238.7 207.4,237.8 207.7,236.9 208.0,236.2 208.3,235.5 208.6,235.0 209.0,234.5 209.3,234.1 209.7,233.8 210.1,233.6 210.5,233.4 210.9,233.2 211.3,233.0 211.7,232.9 212.1,232.8 212.5,232.7 213.0,232.6 213.4,232.5 213.9,232.5 214.4,232.4 214.9,232.4 215.4,232.4 215.9,232.3 216.4,232.3 216.9,232.3 217.5,232.2 218.0,232.2 218.5,232.2 219.1,232.2 219.7,232.2 220.2,232.2 220.8,232.1 221.4,232.1 222.0,232.1 222.6,232.1 223.2,232.1 223.9,232.1 224.5,232.1 225.1,232.1 225.8,232.1 226.4,232.1 227.1,232.1 227.8,232.1 228.5,232.1 229.1,232.1 229.8,232.1 230.5,232.1 231.3,232.1 232.0,232.0 232.7,232.0 233.4,232.0 234.2,232.0 234.9,232.0 235.7,232.0 236.4,232.0 237.2,232.0 238.0,232.0 238.7,232.0 239.5,232.0 240.3,232.0 241.1,232.0 241.9,232.0 242.7,232.0 243.6,232.0 244.0,232.0 244.0,232.0" fill="#5f6c6c" stroke="#5f6c6c" stroke-width="0.5" stroke-linejoin="round"/>
<polygon points="161.6,232.0 161.6,232.1 161.8,232.1 162.7,232.1 163.5,232.1 164.4,232.1 165.2,232.1 166.0,232.1 166.9,232.1 167.7,232.1 168.5,232.1 169.3,232.1 170.1,232.1 170.9,232.1 171.7,232.1 172.5,232.1 173.2,232.1 174.0,232.2 174.8,232.2 175.5,232.2 176.3,232.2 177.0,232.2 177.7,232.2 178.4,232.2 179.2,232.2 179.9,232.2 180.6,232.3 181.3,232.3 182.0,232.3 182.6,232.3 183.3,232.3 184.0,232.4 184.6,232.4 185.3,232.4 185.9,232.4 186.5,232.5 187.2,232.5 187.8,232.6 188.4,232.6 189.0,232.7 189.6,232.8 190.2,232.8 190.7,232.9 191.3,233.1 191.9,233.2 192.4,233.3 193.0,233.5 193.5,233.8 194.0,234.1 194.5,234.4 195.0,234.9 195.5,235.4 196.0,236.2 196.5,237.2 197.0,238.6 197.4,240.4 197.9,242.9 198.3,246.2 198.7,250.1 199.2,253.9 199.6,256.2 200.0,255.8 200.3,253.3 200.7,249.8 201.1,246.6 201.4,244.0 201.8,242.0 202.1,240.4 202.4,239.3 202.7,238.4 203.0,237.8 203.3,237.3 203.5,236.9 203.8,236.6 204.0,236.4 204.2,236.3 204.4,236.1 204.6,236.1 204.8,236.0 204.9,236.0 205.0,236.0 205.1,236.0 205.2,236.0 205.2,236.0 205.3,236.0 205.4,236.0 205.5,236.0 205.6,236.0 205.8,236.1 206.0,236.1 206.2,236.3 206.4,236.4 206.6,236.6 206.9,236.9 207.1,237.2 207.4,237.7 207.7,238.2 208.0,239.0 208.3,240.0 208.6,241.2 209.0,242.9 209.3,245.0 209.7,247.7 210.1,250.8 210.5,253.9 210.9,256.0 211.3,256.0 211.7,253.8 212.1,250.3 212.5,246.7 213.0,243.5 213.4,241.0 213.9,239.1 214.4,237.7 214.9,236.6 215.4,235.8 215.9,235.2 216.4,234.7 216.9,234.3 217.5,234.0 218.0,233.7 218.5,233.5 219.1,233.3 219.7,233.2 220.2,233.0 220.8,232.9 221.4,232.8 222.0,232.8 222.6,232.7 223.2,232.6 223.9,232.6 224.5,232.5 225.1,232.5 225.8,232.4 226.4,232.4 227.1,232.4 227.8,232.4 228.5,232.3 229.1,232.3 229.8,232.3 230.5,232.3 231.3,232.3 232.0,232.2 232.7,232.2 233.4,232.2 234.2,232.2 234.9,232.2 235.7,232.2 236.4,232.2 237.2,232.2 238.0,232.1 238.7,232.1 239.5,232.1 240.3,232.1 241.1,232.1 241.9,232.1 242.7,232.1 243.6,232.1 244.0,232.1 244.0,232.0" fill="#88f01c" stroke="#88f01c" stroke-width="0.5" stroke-linejoin="round"/>
<polygon points="161.6,232.0 161.6,232.1 161.8,232.1 162.7,232.1 163.5,232.1 164.4,232.1 165.2,232.1 166.0,232.1 166.9,232.1 167.7,232.1 168.5,232.1 169.3,232.1 170.1,232.1 170.9,232.1 171.7,232.1 172.5,232.1 173.2,232.2 174.0,232.2 174.8,232.2 175.5,232.2 176.3,232.2 177.0,232.2 177.7,232.2 178.4,232.2 179.2,232.3 179.9,232.3 180.6,232.3 181.3,232.3 182.0,232.4 182.6,232.4 183.3,232.4 184.0,232.5 184.6,232.5 185.3,232.6 185.9,232.7 186.5,232.7 187.2,232.8 187.8,233.0 188.4,233.1 189.0,233.3 189.6,233.5 190.2,233.7 190.7,234.0 191.3,234.4 191.9,234.9 192.4,235.5 193.0,236.2 193.5,237.1 194.0,238.2 194.5,239.2 195.0,240.1 195.5,240.6 196.0,240.5 196.5,240.0 197.0,239.2 197.4,238.3 197.9,237.4 198.3,236.6 198.7,236.0 199.2,235.5 199.6,235.0 200.0,234.7 200.3,234.4 200.7,234.2 201.1,234.0 201.4,233.8 201.8,233.7 202.1,233.6 202.4,233.5 202.7,233.4 203.0,233.4 203.3,233.3 203.5,233.3 203.8,233.3 204.0,233.2 204.2,233.2 204.4,233.2 204.6,233.2 204.8,233.2 204.9,233.2 205.0,233.1 205.1,233.1 205.2,233.1 205.2,233.1 205.3,233.1 205.4,233.1 205.5,233.1 205.6,233.1 205.8,233.1 206.0,233.1 206.2,233.1 206.4,233.1 206.6,233.1 206.9,233.2 207.1,233.2 207.4,233.2 207.7,233.2 208.0,233.3 208.3,233.3 208.6,233.4 209.0,233.4 209.3,233.5 209.7,233.6 210.1,233.7 210.5,233.9 210.9,234.1 211.3,234.3 211.7,234.6 212.1,235.0 212.5,235.4 213.0,235.9 213.4,236.6 213.9,237.4 214.4,238.4 214.9,239.3 215.4,240.2 215.9,240.6 216.4,240.5 216.9,239.8 217.5,238.8 218.0,237.7 218.5,236.7 219.1,235.8 219.7,235.1 220.2,234.6 220.8,234.1 221.4,233.8 222.0,233.5 222.6,233.3 223.2,233.1 223.9,233.0 224.5,232.9 225.1,232.8 225.8,232.7 226.4,232.6 227.1,232.5 227.8,232.5 228.5,232.4 229.1,232.4 229.8,232.4 230.5,232.3 231.3,232.3 232.0,232.3 232.7,232.3 233.4,232.2 234.2,232.2 234.9,232.2 235.7,232.2 236.4,232.2 237.2,232.2 238.0,232.2 238.7,232.2 239.5,232.1 240.3,232.1 241.1,232.1 241.9,232.1 242.7,232.1 243.6,232.1 244.0,232.1 244.0,232.0" fill="#4f78f0" stroke="#4f78f0" stroke-width="0.5" stroke-linejoin="round"/>
<polygon points="161.6,232.0 161.6,232.0 161.8,232.0 162.7,232.0 163.5,232.0 164.4,232.0 165.2,232.0 166.0,232.0 166.9,232.0 167.7,232.0 168.5,232.0 169.3,232.0 170.1,232.0 170.9,232.0 171.7,232.0 172.5,232.0 173.2,232.0 174.0,232.0 174.8,232.0 175.5,232.0 176.3,232.0 177.0,232.0 177.7,232.0 178.4,232.0 179.2,232.0 179.9,232.0 180.6,232.0 181.3,232.0 182.0,232.0 182.6,232.0 183.3,232.0 184.0,232.0 184.6,232.0 185.3,232.0 185.9,232.0 186.5,232.0 187.2,232.0 187.8,232.0 188.4,232.0 189.0,232.0 189.6,232.0 190.2,232.0 190.7,232.0 191.3,232.0 191.9,232.0 192.4,232.0 193.0,232.1 193.5,232.1 194.0,232.3 194.5,232.5 195.0,232.8 195.5,233.3 196.0,233.9 196.5,234.8 197.0,235.9 197.4,237.1 197.9,238.4 198.3,239.8 198.7,241.1 199.2,242.2 199.6,243.2 200.0,243.8 200.3,244.1 200.7,244.1 201.1,243.8 201.4,243.2 201.8,242.5 202.1,241.7 202.4,240.7 202.7,239.8 203.0,238.9 203.3,238.1 203.5,237.3 203.8,236.6 204.0,236.0 204.2,235.5 204.4,235.0 204.6,234.6 204.8,234.3 204.9,234.1 205.0,233.9 205.1,233.7 205.2,233.7 205.2,233.6 205.3,233.5 205.4,233.4 205.5,233.3 205.6,233.1 205.8,233.0 206.0,232.8 206.2,232.7 206.4,232.5 206.6,232.4 206.9,232.3 207.1,232.2 207.4,232.2 207.7,232.1 208.0,232.1 208.3,232.0 208.6,232.0 209.0,232.0 209.3,232.0 209.7,232.0 210.1,232.0 210.5,232.0 210.9,232.0 211.3,232.0 211.7,232.0 212.1,232.1 212.5,232.1 213.0,232.2 213.4,232.3 213.9,232.6 214.4,232.9 214.9,233.5 215.4,234.2 215.9,235.2 216.4,236.4 216.9,237.8 217.5,239.4 218.0,240.9 218.5,242.2 219.1,243.1 219.7,243.4 220.2,243.0 220.8,242.0 221.4,240.5 222.0,238.8 222.6,237.1 223.2,235.5 223.9,234.2 224.5,233.3 225.1,232.7 225.8,232.4 226.4,232.2 227.1,232.1 227.8,232.0 228.5,232.0 229.1,232.0 229.8,232.0 230.5,232.0 231.3,232.0 232.0,232.0 232.7,232.0 233.4,232.0 234.2,232.0 234.9,232.0 235.7,232.0 236.4,232.0 237.2,232.0 238.0,232.0 238.7,232.0 239.5,232.0 240.3,232.0 241.1,232.0 241.9,232.0 242.7,232.0 243.6,232.0 244.0,232.0 244.0,232.0" fill="#fb33f5" stroke="#fb33f5" stroke-width="1.6" stroke-linejoin="round"/>
<path d="M161.6 229.9V241.4M162.1 225.6V232.4M162.7 232.0V243.0M163.2 226.7V240.8M163.8 229.0V239.8M164.3 227.7V236.9M164.9 230.6V239.6M165.5 220.7V230.7M166.0 225.0V239.6M166.6 222.3V237.5M167.1 226.4V239.6M167.7 224.3V239.5M168.3 227.5V240.8M168.8 224.7V233.8M169.4 233.1V243.6M169.9 233.5V246.5M170.5 225.0V237.8M171.1 225.8V238.4M171.6 227.7V238.6M172.2 232.6V240.4M172.7 231.1V246.2M173.3 223.9V232.4M173.9 222.6V237.8M174.4 224.8V232.5M175.0 220.9V236.1M175.5 221.8V231.7M176.1 226.7V240.5M176.7 225.1V231.8M177.2 232.3V242.8M177.8 231.2V239.9M178.3 222.6V235.4M178.9 222.8V235.3M179.4 225.2V235.8M180.0 231.0V243.8M180.6 222.2V237.4M181.1 223.9V231.3M181.7 226.8V238.4M182.2 227.8V240.3M182.8 224.5V236.7M183.4 234.0V242.9M183.9 226.6V240.9M184.5 230.2V238.9M185.0 223.2V237.2M185.6 227.6V238.4M186.2 228.7V236.6M186.7 218.6V232.5M187.3 230.7V238.0M187.8 220.7V234.3M188.4 227.9V239.8M189.0 222.3V236.6M189.5 235.1V248.7M190.1 231.8V241.9M190.6 235.6V243.4M191.2 236.1V245.0M191.8 230.5V237.2M192.3 225.4V237.8M192.9 235.8V243.1M193.4 241.3V249.4M194.0 240.4V249.1M194.5 244.4V254.5M195.1 246.0V258.7M195.7 241.2V251.7M196.2 249.5V260.6M196.8 259.7V267.1M197.3 252.7V262.3M197.9 250.9V259.3M198.5 257.2V270.3M199.0 262.1V268.8M199.6 264.7V276.7M200.1 261.4V274.2M200.7 266.7V277.7M201.3 261.8V268.8M201.8 272.5V281.3M202.4 276.3V285.0M202.9 276.6V285.6M203.5 268.7V277.6M204.1 274.2V289.4M204.6 263.7V277.2M205.2 271.3V285.7M205.7 269.3V282.2M206.3 268.0V277.7M206.8 270.2V285.1M207.4 270.9V281.7M208.0 272.2V280.5M208.5 263.7V276.7M209.1 263.2V272.1M209.6 251.5V265.3M210.2 252.9V266.0M210.8 255.7V264.9M211.3 256.3V266.9M211.9 252.8V265.7M212.4 256.9V269.4M213.0 248.2V259.5M213.6 250.5V259.0M214.1 250.4V259.9M214.7 245.9V258.7M215.2 248.3V259.0M215.8 242.5V255.5M216.4 248.6V261.2M216.9 243.4V253.1M217.5 248.8V256.3M218.0 241.9V254.5M218.6 248.0V257.7M219.2 236.8V248.3M219.7 244.7V252.4M220.3 240.7V248.6M220.8 240.8V251.2M221.4 242.0V254.5M221.9 235.4V243.0M222.5 230.7V244.1M223.1 230.5V244.5M223.6 234.6V247.1M224.2 226.3V239.5M224.7 234.7V243.4M225.3 230.0V237.5M225.9 229.0V238.5M226.4 232.0V239.7M227.0 232.8V243.0M227.5 227.4V240.7M228.1 229.6V238.7M228.7 228.3V242.4M229.2 229.0V239.6M229.8 221.9V229.9M230.3 227.2V239.5M230.9 229.7V240.1M231.5 233.4V242.9M232.0 235.6V246.8M232.6 228.7V244.0M233.1 227.6V240.8M233.7 225.9V235.1M234.3 226.6V241.3M234.8 232.0V240.3M235.4 232.6V242.8M235.9 225.3V235.2M236.5 226.3V241.6M237.0 232.5V239.1M237.6 233.1V245.4M238.2 228.2V239.3M238.7 226.9V234.9M239.3 224.2V236.5M239.8 224.5V238.2M240.4 223.6V237.0M241.0 231.6V238.9M241.5 229.2V242.8M242.1 230.0V239.6M242.6 229.3V243.4M243.2 224.9V236.5M243.8 229.8V237.1" stroke="#7a7a7a" stroke-width="0.5" fill="none"/>
<path d="M161.6 235.6h0M162.1 229.0h0M162.7 237.5h0M163.2 233.8h0M163.8 234.4h0M164.3 232.3h0M164.9 235.1h0M165.5 225.7h0M166.0 232.3h0M166.6 229.9h0M167.1 233.0h0M167.7 231.9h0M168.3 234.2h0M168.8 229.2h0M169.4 238.4h0M169.9 240.0h0M170.5 231.4h0M171.1 232.1h0M171.6 233.1h0M172.2 236.5h0M172.7 238.7h0M173.3 228.1h0M173.9 230.2h0M174.4 228.7h0M175.0 228.5h0M175.5 226.8h0M176.1 233.6h0M176.7 228.5h0M177.2 237.5h0M177.8 235.6h0M178.3 229.0h0M178.9 229.0h0M179.4 230.5h0M180.0 237.4h0M180.6 229.8h0M181.1 227.6h0M181.7 232.6h0M182.2 234.1h0M182.8 230.6h0M183.4 238.4h0M183.9 233.8h0M184.5 234.6h0M185.0 230.2h0M185.6 233.0h0M186.2 232.7h0M186.7 225.5h0M187.3 234.3h0M187.8 227.5h0M188.4 233.8h0M189.0 229.4h0M189.5 241.9h0M190.1 236.8h0M190.6 239.5h0M191.2 240.5h0M191.8 233.9h0M192.3 231.6h0M192.9 239.4h0M193.4 245.3h0M194.0 244.7h0M194.5 249.4h0M195.1 252.3h0M195.7 246.4h0M196.2 255.0h0M196.8 263.4h0M197.3 257.5h0M197.9 255.1h0M198.5 263.7h0M199.0 265.5h0M199.6 270.7h0M200.1 267.8h0M200.7 272.2h0M201.3 265.3h0M201.8 276.9h0M202.4 280.7h0M202.9 281.1h0M203.5 273.2h0M204.1 281.8h0M204.6 270.5h0M205.2 278.5h0M205.7 275.8h0M206.3 272.8h0M206.8 277.6h0M207.4 276.3h0M208.0 276.4h0M208.5 270.2h0M209.1 267.6h0M209.6 258.4h0M210.2 259.4h0M210.8 260.3h0M211.3 261.6h0M211.9 259.3h0M212.4 263.2h0M213.0 253.9h0M213.6 254.7h0M214.1 255.2h0M214.7 252.3h0M215.2 253.6h0M215.8 249.0h0M216.4 254.9h0M216.9 248.3h0M217.5 252.6h0M218.0 248.2h0M218.6 252.9h0M219.2 242.6h0M219.7 248.5h0M220.3 244.6h0M220.8 246.0h0M221.4 248.2h0M221.9 239.2h0M222.5 237.4h0M223.1 237.5h0M223.6 240.9h0M224.2 232.9h0M224.7 239.1h0M225.3 233.8h0M225.9 233.7h0M226.4 235.8h0M227.0 237.9h0M227.5 234.0h0M228.1 234.1h0M228.7 235.3h0M229.2 234.3h0M229.8 225.9h0M230.3 233.3h0M230.9 234.9h0M231.5 238.2h0M232.0 241.2h0M232.6 236.4h0M233.1 234.2h0M233.7 230.5h0M234.3 233.9h0M234.8 236.2h0M235.4 237.7h0M235.9 230.3h0M236.5 234.0h0M237.0 235.8h0M237.6 239.3h0M238.2 233.7h0M238.7 230.9h0M239.3 230.3h0M239.8 231.4h0M240.4 230.3h0M241.0 235.3h0M241.5 236.0h0M242.1 234.8h0M242.6 236.3h0M243.2 230.7h0M243.8 233.5h0" stroke="#333" stroke-width="0.9" stroke-linecap="round" fill="none"/>
<polyline points="161.6,232.0 161.9,232.0 162.3,232.0 162.7,232.0 163.1,232.0 163.4,232.0 163.8,232.0 164.2,232.0 164.6,232.0 164.9,232.0 165.3,232.0 165.7,232.0 166.1,232.0 166.4,232.0 166.8,232.0 167.2,232.1 167.6,232.1 168.0,232.1 168.3,232.1 168.7,232.1 169.1,232.1 169.5,232.1 169.8,232.1 170.2,232.1 170.6,232.1 171.0,232.1 171.3,232.2 171.7,232.2 172.1,232.2 172.5,232.2 172.8,232.2 173.2,232.2 173.6,232.2 174.0,232.3 174.4,232.3 174.7,232.3 175.1,232.3 175.5,232.3 175.9,232.4 176.2,232.4 176.6,232.4 177.0,232.4 177.4,232.4 177.7,232.5 178.1,232.5 178.5,232.5 178.9,232.5 179.2,232.6 179.6,232.6 180.0,232.6 180.4,232.6 180.8,232.7 181.1,232.7 181.5,232.7 181.9,232.8 182.3,232.8 182.6,232.8 183.0,232.9 183.4,232.9 183.8,232.9 184.1,233.0 184.5,233.0 184.9,233.1 185.3,233.1 185.6,233.1 186.0,233.2 186.4,233.2 186.8,233.3 187.1,233.3 187.5,233.4 187.9,233.6 188.3,233.8 188.7,234.1 189.0,234.5 189.4,234.9 189.8,235.4 190.2,235.9 190.5,236.4 190.9,237.0 191.3,237.6 191.7,238.2 192.0,238.9 192.4,239.6 192.8,240.4 193.2,241.4 193.5,242.7 193.9,244.2 194.3,245.7 194.7,247.3 195.1,248.9 195.4,250.5 195.8,252.1 196.2,253.9 196.6,255.7 196.9,257.5 197.3,259.3 197.7,261.1 198.1,262.7 198.4,264.4 198.8,266.1 199.2,267.8 199.6,269.2 199.9,270.4 200.3,271.2 200.7,271.9 201.1,272.6 201.5,273.2 201.8,274.0 202.2,274.9 202.6,275.8 203.0,276.8 203.3,277.8 203.7,279.1 204.1,280.9 204.5,281.1 204.8,279.5 205.2,277.3 205.6,276.0 206.0,276.1 206.3,276.3 206.7,276.4 207.1,276.5 207.5,275.6 207.9,273.8 208.2,271.6 208.6,269.3 209.0,267.3 209.4,265.9 209.7,264.7 210.1,263.6 210.5,262.6 210.9,261.7 211.2,260.8 211.6,259.9 212.0,259.1 212.4,258.2 212.7,257.4 213.1,256.5 213.5,255.7 213.9,254.8 214.3,254.0 214.6,253.2 215.0,252.4 215.4,251.7 215.8,251.0 216.1,250.4 216.5,249.9 216.9,249.4 217.3,249.0 217.6,248.6 218.0,248.3 218.4,248.0 218.8,247.6 219.1,247.3 219.5,246.9 219.9,246.5 220.3,246.1 220.7,245.5 221.0,244.9 221.4,244.1 221.8,243.4 222.2,242.6 222.5,241.9 222.9,241.2 223.3,240.5 223.7,240.0 224.0,239.5 224.4,239.1 224.8,238.7 225.2,238.3 225.5,237.9 225.9,237.5 226.3,237.2 226.7,236.9 227.1,236.5 227.4,236.3 227.8,236.0 228.2,235.7 228.6,235.5 228.9,235.3 229.3,235.2 229.7,235.0 230.1,234.9 230.4,234.8 230.8,234.6 231.2,234.5 231.6,234.4 231.9,234.3 232.3,234.2 232.7,234.1 233.1,233.9 233.5,233.8 233.8,233.7 234.2,233.7 234.6,233.6 235.0,233.5 235.3,233.4 235.7,233.3 236.1,233.2 236.5,233.2 236.8,233.1 237.2,233.0 237.6,233.0 238.0,232.9 238.3,232.8 238.7,232.8 239.1,232.7 239.5,232.7 239.9,232.6 240.2,232.6 240.6,232.5 241.0,232.5 241.4,232.4 241.7,232.4 242.1,232.3 242.5,232.3 242.9,232.3 243.2,232.2 243.6,232.2 244.0,232.2" stroke="#111" stroke-width="1.25" fill="none" stroke-linejoin="round" />
</g>
<rect x="152.2" y="219.7" width="99.3" height="73.6" stroke="#222" stroke-width="1.1" fill="none" />
<path d="M156.5 219.7L156.5 222.7M156.5 293.3L156.5 290.3M165.52 219.7L165.52 222.7M165.52 293.3L165.52 290.3M174.54 219.7L174.54 222.7M174.54 293.3L174.54 290.3M183.56 219.7L183.56 222.7M183.56 293.3L183.56 290.3M192.58 219.7L192.58 222.7M192.58 293.3L192.58 290.3M201.6 219.7L201.6 222.7M201.6 293.3L201.6 290.3M210.62 219.7L210.62 222.7M210.62 293.3L210.62 290.3M219.64 219.7L219.64 222.7M219.64 293.3L219.64 290.3M228.66 219.7L228.66 222.7M228.66 293.3L228.66 290.3M237.68 219.7L237.68 222.7M237.68 293.3L237.68 290.3M246.7 219.7L246.7 222.7M246.7 293.3L246.7 290.3" stroke="#333" stroke-width="0.6"/>
<path d="M151.99 219.7L151.99 221.7M151.99 293.3L151.99 291.3M161.01 219.7L161.01 221.7M161.01 293.3L161.01 291.3M170.03 219.7L170.03 221.7M170.03 293.3L170.03 291.3M179.05 219.7L179.05 221.7M179.05 293.3L179.05 291.3M188.07 219.7L188.07 221.7M188.07 293.3L188.07 291.3M197.09 219.7L197.09 221.7M197.09 293.3L197.09 291.3M206.11 219.7L206.11 221.7M206.11 293.3L206.11 291.3M215.13 219.7L215.13 221.7M215.13 293.3L215.13 291.3M224.15 219.7L224.15 221.7M224.15 293.3L224.15 291.3M233.17 219.7L233.17 221.7M233.17 293.3L233.17 291.3M242.19 219.7L242.19 221.7M242.19 293.3L242.19 291.3M251.21 219.7L251.21 221.7M251.21 293.3L251.21 291.3" stroke="#333" stroke-width="0.5"/>
<path d="M152.2 232L156.2 232M251.5 232L247.5 232M152.2 261.2L156.2 261.2M251.5 261.2L247.5 261.2M152.2 290.4L156.2 290.4M251.5 290.4L247.5 290.4" stroke="#333" stroke-width="0.75"/>
<path d="M152.2 220.32L154.4 220.32M251.5 220.32L249.3 220.32M152.2 223.24L154.4 223.24M251.5 223.24L249.3 223.24M152.2 226.16L154.4 226.16M251.5 226.16L249.3 226.16M152.2 229.08L154.4 229.08M251.5 229.08L249.3 229.08M152.2 234.92L154.4 234.92M251.5 234.92L249.3 234.92M152.2 237.84L154.4 237.84M251.5 237.84L249.3 237.84M152.2 240.76L154.4 240.76M251.5 240.76L249.3 240.76M152.2 243.68L154.4 243.68M251.5 243.68L249.3 243.68M152.2 246.6L154.4 246.6M251.5 246.6L249.3 246.6M152.2 249.52L154.4 249.52M251.5 249.52L249.3 249.52M152.2 252.44L154.4 252.44M251.5 252.44L249.3 252.44M152.2 255.36L154.4 255.36M251.5 255.36L249.3 255.36M152.2 258.28L154.4 258.28M251.5 258.28L249.3 258.28M152.2 264.12L154.4 264.12M251.5 264.12L249.3 264.12M152.2 267.04L154.4 267.04M251.5 267.04L249.3 267.04M152.2 269.96L154.4 269.96M251.5 269.96L249.3 269.96M152.2 272.88L154.4 272.88M251.5 272.88L249.3 272.88M152.2 275.8L154.4 275.8M251.5 275.8L249.3 275.8M152.2 278.72L154.4 278.72M251.5 278.72L249.3 278.72M152.2 281.64L154.4 281.64M251.5 281.64L249.3 281.64M152.2 284.56L154.4 284.56M251.5 284.56L249.3 284.56M152.2 287.48L154.4 287.48M251.5 287.48L249.3 287.48" stroke="#333" stroke-width="0.6"/>
<text x="149.6" y="234.7" font-size="7.9" text-anchor="end" fill="#222" stroke="#222" stroke-width="0.18" >0.0</text>
<text x="149.6" y="263.9" font-size="7.9" text-anchor="end" fill="#222" stroke="#222" stroke-width="0.18" >0.2</text>
<text x="149.6" y="293.1" font-size="7.9" text-anchor="end" fill="#222" stroke="#222" stroke-width="0.18" >0.4</text>
<text x="156.5" y="288.1" font-size="7.7" text-anchor="start" fill="#222" stroke="#222" stroke-width="0.18" textLength="39.4" lengthAdjust="spacingAndGlyphs">0.07 wt% Fe</text>
<g clip-path="url(#cd2)">
<polygon points="39.3,297.4 39.3,297.5 39.5,297.5 40.4,297.5 41.2,297.5 42.1,297.5 42.9,297.5 43.8,297.5 44.6,297.5 45.4,297.5 46.2,297.5 47.0,297.5 47.8,297.5 48.6,297.5 49.4,297.5 50.2,297.5 51.0,297.5 51.7,297.5 52.5,297.5 53.3,297.5 54.0,297.6 54.7,297.6 55.5,297.6 56.2,297.6 56.9,297.6 57.6,297.6 58.3,297.6 59.0,297.6 59.7,297.6 60.4,297.6 61.1,297.7 61.7,297.7 62.4,297.7 63.0,297.7 63.7,297.7 64.3,297.8 64.9,297.8 65.6,297.8 66.2,297.8 66.8,297.9 67.4,297.9 67.9,298.0 68.5,298.0 69.1,298.1 69.7,298.1 70.2,298.2 70.7,298.2 71.3,298.3 71.8,298.4 72.3,298.5 72.8,298.6 73.3,298.8 73.8,298.9 74.3,299.1 74.8,299.3 75.2,299.5 75.7,299.8 76.1,300.1 76.5,300.5 76.9,301.0 77.4,301.6 77.8,302.2 78.1,303.1 78.5,304.1 78.9,305.5 79.2,307.2 79.6,309.3 79.9,312.1 80.2,315.6 80.5,320.1 80.8,325.5 81.1,331.6 81.3,337.5 81.6,342.1 81.8,344.4 82.0,344.4 82.2,342.8 82.4,340.5 82.6,338.4 82.7,336.7 82.8,335.4 82.9,334.7 83.0,334.3 83.0,334.1 83.1,333.9 83.2,333.6 83.3,333.6 83.4,334.1 83.6,335.2 83.8,337.1 84.0,339.6 84.2,342.4 84.4,344.4 84.7,344.3 84.9,341.2 85.2,335.6 85.5,329.0 85.8,322.7 86.1,317.5 86.5,313.4 86.8,310.2 87.2,307.7 87.5,305.9 87.9,304.4 88.3,303.3 88.7,302.3 89.1,301.6 89.5,301.0 89.9,300.5 90.4,300.1 90.8,299.8 91.3,299.5 91.7,299.3 92.2,299.1 92.7,298.9 93.2,298.8 93.7,298.6 94.2,298.5 94.8,298.4 95.3,298.3 95.8,298.2 96.4,298.2 96.9,298.1 97.5,298.0 98.1,298.0 98.7,298.0 99.3,297.9 99.9,297.9 100.5,297.8 101.1,297.8 101.7,297.8 102.4,297.8 103.0,297.7 103.6,297.7 104.3,297.7 105.0,297.7 105.6,297.7 106.3,297.6 107.0,297.6 107.7,297.6 108.4,297.6 109.1,297.6 109.8,297.6 110.6,297.6 111.3,297.6 112.0,297.6 112.8,297.5 113.5,297.5 114.3,297.5 115.1,297.5 115.8,297.5 116.6,297.5 117.4,297.5 118.2,297.5 119.0,297.5 119.8,297.5 120.6,297.5 121.4,297.5 121.9,297.5 121.9,297.4" fill="#a9b5b5" stroke="#a9b5b5" stroke-width="0.5" stroke-linejoin="round"/>
<polygon points="39.3,297.4 39.3,297.4 39.5,297.4 40.4,297.4 41.2,297.4 42.1,297.4 42.9,297.4 43.8,297.4 44.6,297.4 45.4,297.4 46.2,297.4 47.0,297.4 47.8,297.4 48.6,297.4 49.4,297.5 50.2,297.5 51.0,297.5 51.7,297.5 52.5,297.5 53.3,297.5 54.0,297.5 54.7,297.5 55.5,297.5 56.2,297.5 56.9,297.5 57.6,297.5 58.3,297.5 59.0,297.5 59.7,297.5 60.4,297.5 61.1,297.5 61.7,297.5 62.4,297.5 63.0,297.5 63.7,297.6 64.3,297.6 64.9,297.6 65.6,297.6 66.2,297.6 66.8,297.6 67.4,297.6 67.9,297.7 68.5,297.7 69.1,297.7 69.7,297.7 70.2,297.8 70.7,297.8 71.3,297.8 71.8,297.9 72.3,297.9 72.8,298.0 73.3,298.0 73.8,298.1 74.3,298.2 74.8,298.3 75.2,298.4 75.7,298.5 76.1,298.7 76.5,298.9 76.9,299.1 77.4,299.3 77.8,299.6 78.1,300.0 78.5,300.4 78.9,301.0 79.2,301.6 79.6,302.4 79.9,303.3 80.2,304.4 80.5,305.6 80.8,307.0 81.1,308.6 81.3,310.2 81.6,311.6 81.8,312.9 82.0,313.8 82.2,314.3 82.4,314.4 82.6,314.2 82.7,313.8 82.8,313.3 82.9,312.9 83.0,312.6 83.0,312.4 83.1,312.1 83.2,311.6 83.3,310.9 83.4,310.0 83.6,309.0 83.8,308.0 84.0,306.9 84.2,305.8 84.4,304.8 84.7,303.9 84.9,303.0 85.2,302.3 85.5,301.6 85.8,301.1 86.1,300.6 86.5,300.2 86.8,299.8 87.2,299.5 87.5,299.3 87.9,299.0 88.3,298.9 88.7,298.7 89.1,298.6 89.5,298.4 89.9,298.3 90.4,298.2 90.8,298.1 91.3,298.1 91.7,298.0 92.2,298.0 92.7,297.9 93.2,297.9 93.7,297.8 94.2,297.8 94.8,297.8 95.3,297.7 95.8,297.7 96.4,297.7 96.9,297.7 97.5,297.6 98.1,297.6 98.7,297.6 99.3,297.6 99.9,297.6 100.5,297.6 101.1,297.6 101.7,297.5 102.4,297.5 103.0,297.5 103.6,297.5 104.3,297.5 105.0,297.5 105.6,297.5 106.3,297.5 107.0,297.5 107.7,297.5 108.4,297.5 109.1,297.5 109.8,297.5 110.6,297.5 111.3,297.5 112.0,297.5 112.8,297.5 113.5,297.5 114.3,297.5 115.1,297.5 115.8,297.4 116.6,297.4 117.4,297.4 118.2,297.4 119.0,297.4 119.8,297.4 120.6,297.4 121.4,297.4 121.9,297.4 121.9,297.4" fill="#5f6c6c" stroke="#5f6c6c" stroke-width="0.5" stroke-linejoin="round"/>
<polygon points="39.3,297.4 39.3,297.5 39.5,297.5 40.4,297.5 41.2,297.5 42.1,297.5 42.9,297.5 43.8,297.5 44.6,297.5 45.4,297.5 46.2,297.5 47.0,297.5 47.8,297.5 48.6,297.5 49.4,297.5 50.2,297.5 51.0,297.5 51.7,297.5 52.5,297.5 53.3,297.6 54.0,297.6 54.7,297.6 55.5,297.6 56.2,297.6 56.9,297.6 57.6,297.6 58.3,297.6 59.0,297.7 59.7,297.7 60.4,297.7 61.1,297.7 61.7,297.7 62.4,297.8 63.0,297.8 63.7,297.8 64.3,297.9 64.9,297.9 65.6,298.0 66.2,298.0 66.8,298.1 67.4,298.2 67.9,298.3 68.5,298.4 69.1,298.5 69.7,298.6 70.2,298.8 70.7,299.0 71.3,299.3 71.8,299.6 72.3,300.0 72.8,300.4 73.3,301.0 73.8,301.7 74.3,302.5 74.8,303.5 75.2,304.6 75.7,305.8 76.1,306.7 76.5,307.3 76.9,307.3 77.4,306.9 77.8,306.2 78.1,305.3 78.5,304.5 78.9,303.7 79.2,303.0 79.6,302.4 79.9,302.0 80.2,301.6 80.5,301.3 80.8,301.1 81.1,300.9 81.3,300.7 81.6,300.6 81.8,300.6 82.0,300.5 82.2,300.5 82.4,300.5 82.6,300.5 82.7,300.5 82.8,300.5 82.9,300.5 83.0,300.5 83.0,300.5 83.1,300.5 83.2,300.5 83.3,300.6 83.4,300.6 83.6,300.7 83.8,300.7 84.0,300.9 84.2,301.0 84.4,301.2 84.7,301.4 84.9,301.6 85.2,302.0 85.5,302.4 85.8,302.9 86.1,303.5 86.5,304.1 86.8,304.9 87.2,305.7 87.5,306.5 87.9,307.1 88.3,307.4 88.7,307.2 89.1,306.6 89.5,305.7 89.9,304.6 90.4,303.6 90.8,302.6 91.3,301.8 91.7,301.1 92.2,300.5 92.7,300.0 93.2,299.7 93.7,299.3 94.2,299.1 94.8,298.9 95.3,298.7 95.8,298.5 96.4,298.4 96.9,298.3 97.5,298.2 98.1,298.1 98.7,298.1 99.3,298.0 99.9,298.0 100.5,297.9 101.1,297.9 101.7,297.8 102.4,297.8 103.0,297.8 103.6,297.7 104.3,297.7 105.0,297.7 105.6,297.7 106.3,297.7 107.0,297.6 107.7,297.6 108.4,297.6 109.1,297.6 109.8,297.6 110.6,297.6 111.3,297.6 112.0,297.6 112.8,297.5 113.5,297.5 114.3,297.5 115.1,297.5 115.8,297.5 116.6,297.5 117.4,297.5 118.2,297.5 119.0,297.5 119.8,297.5 120.6,297.5 121.4,297.5 121.9,297.5 121.9,297.4" fill="#88f01c" stroke="#88f01c" stroke-width="0.5" stroke-linejoin="round"/>
<polygon points="39.3,297.4 39.3,297.5 39.5,297.5 40.4,297.5 41.2,297.5 42.1,297.5 42.9,297.5 43.8,297.5 44.6,297.5 45.4,297.5 46.2,297.5 47.0,297.5 47.8,297.5 48.6,297.5 49.4,297.5 50.2,297.5 51.0,297.5 51.7,297.6 52.5,297.6 53.3,297.6 54.0,297.6 54.7,297.6 55.5,297.6 56.2,297.6 56.9,297.7 57.6,297.7 58.3,297.7 59.0,297.8 59.7,297.8 60.4,297.9 61.1,297.9 61.7,298.0 62.4,298.1 63.0,298.2 63.7,298.3 64.3,298.5 64.9,298.7 65.6,298.9 66.2,299.2 66.8,299.6 67.4,300.1 67.9,300.7 68.5,301.4 69.1,302.1 69.7,302.7 70.2,303.0 70.7,302.9 71.3,302.5 71.8,301.9 72.3,301.3 72.8,300.7 73.3,300.2 73.8,299.8 74.3,299.4 74.8,299.2 75.2,299.0 75.7,298.8 76.1,298.6 76.5,298.5 76.9,298.4 77.4,298.4 77.8,298.3 78.1,298.2 78.5,298.2 78.9,298.2 79.2,298.1 79.6,298.1 79.9,298.1 80.2,298.1 80.5,298.0 80.8,298.0 81.1,298.0 81.3,298.0 81.6,298.0 81.8,298.0 82.0,298.0 82.2,298.0 82.4,298.0 82.6,298.0 82.7,298.0 82.8,298.0 82.9,298.0 83.0,298.0 83.0,298.0 83.1,298.0 83.2,298.0 83.3,298.0 83.4,298.0 83.6,298.0 83.8,298.1 84.0,298.1 84.2,298.1 84.4,298.1 84.7,298.1 84.9,298.1 85.2,298.1 85.5,298.2 85.8,298.2 86.1,298.3 86.5,298.3 86.8,298.4 87.2,298.4 87.5,298.5 87.9,298.6 88.3,298.7 88.7,298.9 89.1,299.1 89.5,299.3 89.9,299.6 90.4,300.0 90.8,300.4 91.3,300.9 91.7,301.5 92.2,302.1 92.7,302.7 93.2,303.0 93.7,302.9 94.2,302.5 94.8,301.9 95.3,301.2 95.8,300.5 96.4,300.0 96.9,299.5 97.5,299.1 98.1,298.8 98.7,298.6 99.3,298.4 99.9,298.3 100.5,298.2 101.1,298.1 101.7,298.0 102.4,297.9 103.0,297.9 103.6,297.8 104.3,297.8 105.0,297.7 105.6,297.7 106.3,297.7 107.0,297.6 107.7,297.6 108.4,297.6 109.1,297.6 109.8,297.6 110.6,297.6 111.3,297.6 112.0,297.5 112.8,297.5 113.5,297.5 114.3,297.5 115.1,297.5 115.8,297.5 116.6,297.5 117.4,297.5 118.2,297.5 119.0,297.5 119.8,297.5 120.6,297.5 121.4,297.5 121.9,297.5 121.9,297.4" fill="#4f78f0" stroke="#4f78f0" stroke-width="0.5" stroke-linejoin="round"/>
<polygon points="39.3,297.4 39.3,297.4 39.5,297.4 40.4,297.4 41.2,297.4 42.1,297.4 42.9,297.4 43.8,297.4 44.6,297.4 45.4,297.4 46.2,297.4 47.0,297.4 47.8,297.4 48.6,297.4 49.4,297.4 50.2,297.5 51.0,297.5 51.7,297.5 52.5,297.5 53.3,297.5 54.0,297.5 54.7,297.5 55.5,297.5 56.2,297.5 56.9,297.5 57.6,297.5 58.3,297.5 59.0,297.5 59.7,297.5 60.4,297.5 61.1,297.5 61.7,297.5 62.4,297.5 63.0,297.6 63.7,297.6 64.3,297.6 64.9,297.6 65.6,297.6 66.2,297.6 66.8,297.6 67.4,297.7 67.9,297.7 68.5,297.7 69.1,297.8 69.7,297.8 70.2,297.9 70.7,297.9 71.3,298.0 71.8,298.1 72.3,298.1 72.8,298.3 73.3,298.4 73.8,298.5 74.3,298.7 74.8,298.9 75.2,299.2 75.7,299.5 76.1,299.8 76.5,300.1 76.9,300.5 77.4,300.8 77.8,301.0 78.1,301.1 78.5,301.0 78.9,300.9 79.2,300.7 79.6,300.4 79.9,300.2 80.2,299.9 80.5,299.7 80.8,299.5 81.1,299.3 81.3,299.2 81.6,299.0 81.8,298.9 82.0,298.8 82.2,298.7 82.4,298.7 82.6,298.6 82.7,298.6 82.8,298.5 82.9,298.5 83.0,298.5 83.0,298.5 83.1,298.5 83.2,298.4 83.3,298.4 83.4,298.4 83.6,298.3 83.8,298.3 84.0,298.3 84.2,298.2 84.4,298.2 84.7,298.2 84.9,298.1 85.2,298.1 85.5,298.1 85.8,298.1 86.1,298.0 86.5,298.0 86.8,298.0 87.2,298.0 87.5,298.0 87.9,298.0 88.3,298.0 88.7,298.0 89.1,298.0 89.5,298.0 89.9,298.0 90.4,298.1 90.8,298.1 91.3,298.1 91.7,298.2 92.2,298.3 92.7,298.4 93.2,298.5 93.7,298.7 94.2,298.9 94.8,299.1 95.3,299.5 95.8,299.9 96.4,300.3 96.9,300.7 97.5,301.0 98.1,301.1 98.7,300.9 99.3,300.4 99.9,300.0 100.5,299.5 101.1,299.1 101.7,298.8 102.4,298.5 103.0,298.3 103.6,298.2 104.3,298.1 105.0,298.0 105.6,297.9 106.3,297.8 107.0,297.8 107.7,297.7 108.4,297.7 109.1,297.7 109.8,297.6 110.6,297.6 111.3,297.6 112.0,297.6 112.8,297.6 113.5,297.5 114.3,297.5 115.1,297.5 115.8,297.5 116.6,297.5 117.4,297.5 118.2,297.5 119.0,297.5 119.8,297.5 120.6,297.5 121.4,297.5 121.9,297.5 121.9,297.4" fill="#fb33f5" stroke="#fb33f5" stroke-width="1.6" stroke-linejoin="round"/>
<path d="M39.3 297.3h0M40.0 298.6h0M40.8 299.1h0M41.6 296.0h0M42.3 296.3h0M43.1 296.8h0M43.9 296.6h0M44.6 297.4h0M45.4 297.5h0M46.2 297.3h0M46.9 298.5h0M47.7 296.9h0M48.5 296.0h0M49.3 295.5h0M50.0 296.1h0M50.8 296.1h0M51.6 295.3h0M52.3 298.2h0M53.1 297.7h0M53.9 297.1h0M54.6 296.7h0M55.4 296.0h0M56.2 296.8h0M56.9 300.0h0M57.7 295.6h0M58.5 298.3h0M59.2 299.0h0M60.0 298.5h0M60.8 298.1h0M61.5 299.5h0M62.3 297.6h0M63.1 299.7h0M63.9 300.9h0M64.6 298.5h0M65.4 299.0h0M66.2 300.4h0M66.9 301.6h0M67.7 302.4h0M68.5 302.0h0M69.2 301.0h0M70.0 301.0h0M70.8 303.0h0M71.5 303.7h0M72.3 302.8h0M73.1 304.8h0M73.8 306.2h0M74.6 308.2h0M75.4 307.5h0M76.1 311.2h0M76.9 312.0h0M77.7 316.3h0M78.5 321.9h0M79.2 330.1h0M80.0 340.1h0M80.8 344.4h0M81.5 351.8h0M82.3 358.2h0M83.1 356.5h0M83.8 355.9h0M84.6 357.6h0M85.4 356.7h0M86.1 349.5h0M86.9 340.3h0M87.7 331.8h0M88.4 328.2h0M89.2 321.6h0M90.0 317.6h0M90.7 314.7h0M91.5 309.5h0M92.3 309.9h0M93.1 308.9h0M93.8 306.8h0M94.6 305.4h0M95.4 303.4h0M96.1 304.6h0M96.9 303.6h0M97.7 303.0h0M98.4 302.1h0M99.2 303.3h0M100.0 303.5h0M100.7 302.3h0M101.5 302.6h0M102.3 302.9h0M103.0 302.9h0M103.8 301.2h0M104.6 300.5h0M105.3 300.0h0M106.1 300.3h0M106.9 300.7h0M107.6 300.9h0M108.4 299.2h0M109.2 299.7h0M110.0 298.3h0M110.7 300.6h0M111.5 298.6h0M112.3 299.3h0M113.0 298.0h0M113.8 298.3h0M114.6 297.8h0M115.3 300.3h0M116.1 298.7h0M116.9 298.0h0M117.6 297.0h0M118.4 297.3h0M119.2 298.5h0M119.9 299.6h0M120.7 296.1h0M121.5 296.6h0" stroke="#222" stroke-width="0.7" stroke-linecap="round" fill="none"/>
<polyline points="39.3,297.4 39.6,297.4 40.0,297.4 40.4,297.4 40.8,297.4 41.1,297.4 41.5,297.4 41.9,297.4 42.3,297.4 42.7,297.4 43.0,297.5 43.4,297.5 43.8,297.5 44.2,297.5 44.5,297.5 44.9,297.5 45.3,297.5 45.7,297.6 46.1,297.6 46.4,297.6 46.8,297.6 47.2,297.6 47.6,297.7 47.9,297.7 48.3,297.7 48.7,297.7 49.1,297.8 49.4,297.8 49.8,297.8 50.2,297.9 50.6,297.9 51.0,297.9 51.3,297.9 51.7,298.0 52.1,298.0 52.5,298.0 52.8,298.1 53.2,298.1 53.6,298.2 54.0,298.2 54.4,298.2 54.7,298.3 55.1,298.3 55.5,298.4 55.9,298.4 56.2,298.4 56.6,298.5 57.0,298.5 57.4,298.6 57.7,298.6 58.1,298.7 58.5,298.7 58.9,298.8 59.3,298.8 59.6,298.9 60.0,298.9 60.4,299.0 60.8,299.1 61.1,299.2 61.5,299.2 61.9,299.3 62.3,299.4 62.7,299.6 63.0,299.7 63.4,299.8 63.8,299.9 64.2,300.1 64.5,300.2 64.9,300.3 65.3,300.5 65.7,300.6 66.0,300.8 66.4,300.9 66.8,301.1 67.2,301.3 67.6,301.4 67.9,301.6 68.3,301.8 68.7,302.0 69.1,302.2 69.4,302.4 69.8,302.7 70.2,302.9 70.6,303.2 71.0,303.5 71.3,303.7 71.7,304.1 72.1,304.4 72.5,304.7 72.8,305.1 73.2,305.5 73.6,306.0 74.0,306.6 74.3,307.2 74.7,307.9 75.1,308.6 75.5,309.4 75.9,310.4 76.2,311.5 76.6,312.7 77.0,314.2 77.4,315.8 77.7,317.7 78.1,320.1 78.5,322.9 78.9,326.0 79.3,329.4 79.6,333.3 80.0,337.3 80.4,341.1 80.8,344.8 81.1,348.4 81.5,351.8 81.9,354.7 82.3,357.6 82.7,359.5 83.0,358.8 83.4,356.6 83.8,355.5 84.2,357.3 84.5,359.4 84.9,358.9 85.3,356.2 85.7,352.7 86.0,349.4 86.4,345.5 86.8,341.4 87.2,337.6 87.6,334.3 87.9,331.0 88.3,327.9 88.7,325.2 89.1,322.8 89.4,320.7 89.8,318.8 90.2,317.0 90.6,315.4 91.0,313.9 91.3,312.5 91.7,311.4 92.1,310.4 92.5,309.6 92.8,308.8 93.2,308.1 93.6,307.4 94.0,306.8 94.3,306.2 94.7,305.7 95.1,305.3 95.5,304.9 95.9,304.6 96.2,304.4 96.6,304.2 97.0,304.0 97.4,303.8 97.7,303.6 98.1,303.4 98.5,303.2 98.9,303.1 99.3,303.0 99.6,302.8 100.0,302.7 100.4,302.6 100.8,302.5 101.1,302.4 101.5,302.2 101.9,302.1 102.3,302.0 102.6,301.9 103.0,301.8 103.4,301.7 103.8,301.6 104.2,301.4 104.5,301.3 104.9,301.2 105.3,301.1 105.7,301.0 106.0,300.9 106.4,300.8 106.8,300.7 107.2,300.6 107.6,300.5 107.9,300.4 108.3,300.3 108.7,300.2 109.1,300.2 109.4,300.1 109.8,300.0 110.2,299.9 110.6,299.8 110.9,299.8 111.3,299.7 111.7,299.6 112.1,299.5 112.5,299.5 112.8,299.4 113.2,299.3 113.6,299.3 114.0,299.2 114.3,299.2 114.7,299.1 115.1,299.0 115.5,299.0 115.9,298.9 116.2,298.9 116.6,298.8 117.0,298.8 117.4,298.7 117.7,298.7 118.1,298.6 118.5,298.6 118.9,298.5 119.2,298.5 119.6,298.4 120.0,298.4 120.4,298.3 120.8,298.3 121.1,298.2 121.5,298.2 121.9,298.1" stroke="#111" stroke-width="1.25" fill="none" stroke-linejoin="round" />
</g>
<rect x="29.4" y="293" width="100" height="72.3" stroke="#222" stroke-width="1.1" fill="none" />
<path d="M34.2 293L34.2 296M34.2 365.3L34.2 362.3M43.24 293L43.24 296M43.24 365.3L43.24 362.3M52.28 293L52.28 296M52.28 365.3L52.28 362.3M61.32 293L61.32 296M61.32 365.3L61.32 362.3M70.36 293L70.36 296M70.36 365.3L70.36 362.3M79.4 293L79.4 296M79.4 365.3L79.4 362.3M88.44 293L88.44 296M88.44 365.3L88.44 362.3M97.48 293L97.48 296M97.48 365.3L97.48 362.3M106.52 293L106.52 296M106.52 365.3L106.52 362.3M115.56 293L115.56 296M115.56 365.3L115.56 362.3M124.6 293L124.6 296M124.6 365.3L124.6 362.3" stroke="#333" stroke-width="0.6"/>
<path d="M29.68 293L29.68 295M29.68 365.3L29.68 363.3M38.72 293L38.72 295M38.72 365.3L38.72 363.3M47.76 293L47.76 295M47.76 365.3L47.76 363.3M56.8 293L56.8 295M56.8 365.3L56.8 363.3M65.84 293L65.84 295M65.84 365.3L65.84 363.3M74.88 293L74.88 295M74.88 365.3L74.88 363.3M83.92 293L83.92 295M83.92 365.3L83.92 363.3M92.96 293L92.96 295M92.96 365.3L92.96 363.3M102 293L102 295M102 365.3L102 363.3M111.04 293L111.04 295M111.04 365.3L111.04 363.3M120.08 293L120.08 295M120.08 365.3L120.08 363.3M129.12 293L129.12 295M129.12 365.3L129.12 363.3" stroke="#333" stroke-width="0.5"/>
<path d="M29.4 297.4L33.4 297.4M129.4 297.4L125.4 297.4M29.4 318.6L33.4 318.6M129.4 318.6L125.4 318.6M29.4 339.8L33.4 339.8M129.4 339.8L125.4 339.8M29.4 361L33.4 361M129.4 361L125.4 361" stroke="#333" stroke-width="0.75"/>
<path d="M29.4 301.64L31.6 301.64M129.4 301.64L127.2 301.64M29.4 305.88L31.6 305.88M129.4 305.88L127.2 305.88M29.4 310.12L31.6 310.12M129.4 310.12L127.2 310.12M29.4 314.36L31.6 314.36M129.4 314.36L127.2 314.36M29.4 322.84L31.6 322.84M129.4 322.84L127.2 322.84M29.4 327.08L31.6 327.08M129.4 327.08L127.2 327.08M29.4 331.32L31.6 331.32M129.4 331.32L127.2 331.32M29.4 335.56L31.6 335.56M129.4 335.56L127.2 335.56M29.4 344.04L31.6 344.04M129.4 344.04L127.2 344.04M29.4 348.28L31.6 348.28M129.4 348.28L127.2 348.28M29.4 352.52L31.6 352.52M129.4 352.52L127.2 352.52M29.4 356.76L31.6 356.76M129.4 356.76L127.2 356.76" stroke="#333" stroke-width="0.6"/>
<text x="26.8" y="300.1" font-size="7.9" text-anchor="end" fill="#222" stroke="#222" stroke-width="0.18" >0</text>
<text x="26.8" y="321.3" font-size="7.9" text-anchor="end" fill="#222" stroke="#222" stroke-width="0.18" >1</text>
<text x="26.8" y="342.5" font-size="7.9" text-anchor="end" fill="#222" stroke="#222" stroke-width="0.18" >2</text>
<text x="26.8" y="363.7" font-size="7.9" text-anchor="end" fill="#222" stroke="#222" stroke-width="0.18" >3</text>
<text x="33.7" y="360.1" font-size="7.7" text-anchor="start" fill="#222" stroke="#222" stroke-width="0.18" textLength="39.4" lengthAdjust="spacingAndGlyphs">0.13 wt% Fe</text>
<text x="8.4" y="329.45" font-size="7.9" text-anchor="middle" fill="#222" stroke="#222" stroke-width="0.18" transform="rotate(-90 8.4 329.45)" textLength="26.6" lengthAdjust="spacingAndGlyphs">Abs / %</text>
<g clip-path="url(#cd3)">
<polygon points="161.6,297.1 161.6,299.4 161.8,299.4 162.7,299.5 163.5,299.6 164.4,299.7 165.2,299.8 166.0,299.9 166.9,299.9 167.7,300.0 168.5,300.1 169.3,300.2 170.1,300.3 170.9,300.4 171.7,300.6 172.5,300.7 173.2,300.8 174.0,300.9 174.8,301.0 175.5,301.2 176.3,301.3 177.0,301.4 177.7,301.6 178.4,301.7 179.2,301.9 179.9,302.0 180.6,302.2 181.3,302.4 182.0,302.5 182.6,302.7 183.3,302.9 184.0,303.0 184.6,303.2 185.3,303.4 185.9,303.6 186.5,303.8 187.2,304.0 187.8,304.1 188.4,304.3 189.0,304.5 189.6,304.7 190.2,304.9 190.7,305.1 191.3,305.3 191.9,305.5 192.4,305.6 193.0,305.8 193.5,306.0 194.0,306.2 194.5,306.3 195.0,306.5 195.5,306.6 196.0,306.8 196.5,306.9 197.0,307.1 197.4,307.2 197.9,307.3 198.3,307.4 198.7,307.5 199.2,307.6 199.6,307.7 200.0,307.8 200.3,307.9 200.7,307.9 201.1,308.0 201.4,308.0 201.8,308.1 202.1,308.1 202.4,308.2 202.7,308.2 203.0,308.2 203.3,308.2 203.5,308.3 203.8,308.3 204.0,308.3 204.2,308.3 204.4,308.3 204.6,308.3 204.8,308.3 204.9,308.3 205.0,308.3 205.1,308.3 205.2,308.3 205.2,308.3 205.3,308.3 205.4,308.3 205.5,308.3 205.6,308.3 205.8,308.3 206.0,308.3 206.2,308.2 206.4,308.2 206.6,308.2 206.9,308.2 207.1,308.2 207.4,308.1 207.7,308.1 208.0,308.1 208.3,308.0 208.6,308.0 209.0,307.9 209.3,307.8 209.7,307.8 210.1,307.7 210.5,307.6 210.9,307.5 211.3,307.4 211.7,307.3 212.1,307.2 212.5,307.1 213.0,306.9 213.4,306.8 213.9,306.7 214.4,306.5 214.9,306.4 215.4,306.2 215.9,306.0 216.4,305.9 216.9,305.7 217.5,305.5 218.0,305.3 218.5,305.2 219.1,305.0 219.7,304.8 220.2,304.6 220.8,304.4 221.4,304.2 222.0,304.1 222.6,303.9 223.2,303.7 223.9,303.5 224.5,303.3 225.1,303.1 225.8,303.0 226.4,302.8 227.1,302.6 227.8,302.5 228.5,302.3 229.1,302.1 229.8,302.0 230.5,301.8 231.3,301.7 232.0,301.5 232.7,301.4 233.4,301.3 234.2,301.1 234.9,301.0 235.7,300.9 236.4,300.8 237.2,300.7 238.0,300.5 238.7,300.4 239.5,300.3 240.3,300.2 241.1,300.1 241.9,300.0 242.7,299.9 243.6,299.8 244.0,299.8 244.0,297.1" fill="#ebc774" stroke="#ebc774" stroke-width="0.5" stroke-linejoin="round"/>
<polygon points="161.6,297.1 161.6,297.2 161.8,297.2 162.7,297.2 163.5,297.2 164.4,297.2 165.2,297.2 166.0,297.2 166.9,297.2 167.7,297.2 168.5,297.2 169.3,297.2 170.1,297.2 170.9,297.2 171.7,297.2 172.5,297.2 173.2,297.2 174.0,297.2 174.8,297.2 175.5,297.2 176.3,297.2 177.0,297.2 177.7,297.2 178.4,297.2 179.2,297.3 179.9,297.3 180.6,297.3 181.3,297.3 182.0,297.3 182.6,297.3 183.3,297.3 184.0,297.3 184.6,297.3 185.3,297.4 185.9,297.4 186.5,297.4 187.2,297.4 187.8,297.5 188.4,297.5 189.0,297.5 189.6,297.5 190.2,297.6 190.7,297.6 191.3,297.7 191.9,297.7 192.4,297.8 193.0,297.8 193.5,297.9 194.0,298.0 194.5,298.1 195.0,298.2 195.5,298.3 196.0,298.5 196.5,298.6 197.0,298.8 197.4,299.0 197.9,299.3 198.3,299.7 198.7,300.0 199.2,300.5 199.6,301.1 200.0,301.9 200.3,302.8 200.7,304.0 201.1,305.6 201.4,307.7 201.8,310.5 202.1,314.1 202.4,318.9 202.7,324.8 203.0,331.3 203.3,337.0 203.5,340.3 203.8,340.4 204.0,338.3 204.2,335.6 204.4,333.4 204.6,331.9 204.8,331.3 204.9,331.3 205.0,331.7 205.1,332.3 205.2,332.8 205.2,333.0 205.3,333.6 205.4,334.6 205.5,336.1 205.6,337.9 205.8,339.6 206.0,340.6 206.2,340.1 206.4,337.3 206.6,332.7 206.9,327.1 207.1,321.6 207.4,316.8 207.7,312.8 208.0,309.7 208.3,307.3 208.6,305.5 209.0,304.0 209.3,302.9 209.7,302.0 210.1,301.2 210.5,300.6 210.9,300.2 211.3,299.8 211.7,299.4 212.1,299.1 212.5,298.9 213.0,298.7 213.4,298.5 213.9,298.4 214.4,298.3 214.9,298.1 215.4,298.0 215.9,298.0 216.4,297.9 216.9,297.8 217.5,297.8 218.0,297.7 218.5,297.7 219.1,297.6 219.7,297.6 220.2,297.5 220.8,297.5 221.4,297.5 222.0,297.4 222.6,297.4 223.2,297.4 223.9,297.4 224.5,297.4 225.1,297.3 225.8,297.3 226.4,297.3 227.1,297.3 227.8,297.3 228.5,297.3 229.1,297.3 229.8,297.3 230.5,297.3 231.3,297.2 232.0,297.2 232.7,297.2 233.4,297.2 234.2,297.2 234.9,297.2 235.7,297.2 236.4,297.2 237.2,297.2 238.0,297.2 238.7,297.2 239.5,297.2 240.3,297.2 241.1,297.2 241.9,297.2 242.7,297.2 243.6,297.2 244.0,297.2 244.0,297.1" fill="#a9b5b5" stroke="#a9b5b5" stroke-width="0.5" stroke-linejoin="round"/>
<polygon points="161.6,297.1 161.6,297.2 161.8,297.2 162.7,297.2 163.5,297.2 164.4,297.2 165.2,297.2 166.0,297.2 166.9,297.2 167.7,297.2 168.5,297.2 169.3,297.2 170.1,297.2 170.9,297.2 171.7,297.2 172.5,297.2 173.2,297.2 174.0,297.2 174.8,297.2 175.5,297.2 176.3,297.2 177.0,297.3 177.7,297.3 178.4,297.3 179.2,297.3 179.9,297.3 180.6,297.3 181.3,297.3 182.0,297.3 182.6,297.3 183.3,297.4 184.0,297.4 184.6,297.4 185.3,297.4 185.9,297.4 186.5,297.5 187.2,297.5 187.8,297.5 188.4,297.5 189.0,297.6 189.6,297.6 190.2,297.7 190.7,297.7 191.3,297.8 191.9,297.8 192.4,297.9 193.0,297.9 193.5,298.0 194.0,298.1 194.5,298.2 195.0,298.3 195.5,298.5 196.0,298.6 196.5,298.8 197.0,299.0 197.4,299.2 197.9,299.5 198.3,299.9 198.7,300.2 199.2,300.7 199.6,301.2 200.0,301.9 200.3,302.7 200.7,303.6 201.1,304.8 201.4,306.2 201.8,307.9 202.1,309.9 202.4,312.4 202.7,315.3 203.0,318.6 203.3,322.3 203.5,326.1 203.8,329.8 204.0,332.9 204.2,335.2 204.4,336.4 204.6,336.7 204.8,336.1 204.9,335.2 205.0,334.0 205.1,332.9 205.2,332.1 205.2,331.8 205.3,330.9 205.4,329.6 205.5,327.8 205.6,325.7 205.8,323.3 206.0,320.8 206.2,318.2 206.4,315.7 206.6,313.4 206.9,311.2 207.1,309.3 207.4,307.7 207.7,306.3 208.0,305.0 208.3,304.0 208.6,303.1 209.0,302.3 209.3,301.6 209.7,301.1 210.1,300.6 210.5,300.2 210.9,299.8 211.3,299.5 211.7,299.3 212.1,299.0 212.5,298.9 213.0,298.7 213.4,298.5 213.9,298.4 214.4,298.3 214.9,298.2 215.4,298.1 215.9,298.0 216.4,297.9 216.9,297.8 217.5,297.8 218.0,297.7 218.5,297.7 219.1,297.6 219.7,297.6 220.2,297.6 220.8,297.5 221.4,297.5 222.0,297.5 222.6,297.5 223.2,297.4 223.9,297.4 224.5,297.4 225.1,297.4 225.8,297.4 226.4,297.3 227.1,297.3 227.8,297.3 228.5,297.3 229.1,297.3 229.8,297.3 230.5,297.3 231.3,297.3 232.0,297.3 232.7,297.2 233.4,297.2 234.2,297.2 234.9,297.2 235.7,297.2 236.4,297.2 237.2,297.2 238.0,297.2 238.7,297.2 239.5,297.2 240.3,297.2 241.1,297.2 241.9,297.2 242.7,297.2 243.6,297.2 244.0,297.2 244.0,297.1" fill="#5f6c6c" stroke="#5f6c6c" stroke-width="0.5" stroke-linejoin="round"/>
<polygon points="161.6,297.1 161.6,297.1 161.8,297.1 162.7,297.1 163.5,297.1 164.4,297.1 165.2,297.1 166.0,297.1 166.9,297.1 167.7,297.1 168.5,297.1 169.3,297.1 170.1,297.1 170.9,297.1 171.7,297.1 172.5,297.1 173.2,297.1 174.0,297.1 174.8,297.1 175.5,297.1 176.3,297.2 177.0,297.2 177.7,297.2 178.4,297.2 179.2,297.2 179.9,297.2 180.6,297.2 181.3,297.2 182.0,297.2 182.6,297.2 183.3,297.2 184.0,297.2 184.6,297.2 185.3,297.2 185.9,297.2 186.5,297.2 187.2,297.2 187.8,297.3 188.4,297.3 189.0,297.3 189.6,297.3 190.2,297.3 190.7,297.3 191.3,297.4 191.9,297.4 192.4,297.4 193.0,297.4 193.5,297.5 194.0,297.5 194.5,297.6 195.0,297.6 195.5,297.7 196.0,297.8 196.5,297.9 197.0,298.1 197.4,298.2 197.9,298.4 198.3,298.7 198.7,299.1 199.2,299.5 199.6,300.0 200.0,300.7 200.3,301.5 200.7,302.3 201.1,303.1 201.4,303.5 201.8,303.6 202.1,303.3 202.4,302.8 202.7,302.2 203.0,301.7 203.3,301.3 203.5,300.9 203.8,300.7 204.0,300.5 204.2,300.4 204.4,300.4 204.6,300.4 204.8,300.4 204.9,300.5 205.0,300.5 205.1,300.6 205.2,300.6 205.2,300.7 205.3,300.7 205.4,300.8 205.5,300.9 205.6,301.1 205.8,301.3 206.0,301.6 206.2,301.9 206.4,302.3 206.6,302.7 206.9,303.2 207.1,303.5 207.4,303.6 207.7,303.5 208.0,303.1 208.3,302.4 208.6,301.7 209.0,300.9 209.3,300.3 209.7,299.8 210.1,299.3 210.5,298.9 210.9,298.6 211.3,298.4 211.7,298.2 212.1,298.1 212.5,297.9 213.0,297.8 213.4,297.7 213.9,297.7 214.4,297.6 214.9,297.5 215.4,297.5 215.9,297.5 216.4,297.4 216.9,297.4 217.5,297.4 218.0,297.3 218.5,297.3 219.1,297.3 219.7,297.3 220.2,297.3 220.8,297.3 221.4,297.2 222.0,297.2 222.6,297.2 223.2,297.2 223.9,297.2 224.5,297.2 225.1,297.2 225.8,297.2 226.4,297.2 227.1,297.2 227.8,297.2 228.5,297.2 229.1,297.2 229.8,297.2 230.5,297.2 231.3,297.2 232.0,297.2 232.7,297.2 233.4,297.1 234.2,297.1 234.9,297.1 235.7,297.1 236.4,297.1 237.2,297.1 238.0,297.1 238.7,297.1 239.5,297.1 240.3,297.1 241.1,297.1 241.9,297.1 242.7,297.1 243.6,297.1 244.0,297.1 244.0,297.1" fill="#88f01c" stroke="#88f01c" stroke-width="0.5" stroke-linejoin="round"/>
<polygon points="161.6,297.1 161.6,297.2 161.8,297.2 162.7,297.2 163.5,297.2 164.4,297.2 165.2,297.2 166.0,297.2 166.9,297.2 167.7,297.2 168.5,297.2 169.3,297.2 170.1,297.2 170.9,297.2 171.7,297.2 172.5,297.2 173.2,297.2 174.0,297.2 174.8,297.3 175.5,297.3 176.3,297.3 177.0,297.3 177.7,297.3 178.4,297.3 179.2,297.3 179.9,297.4 180.6,297.4 181.3,297.4 182.0,297.5 182.6,297.5 183.3,297.5 184.0,297.6 184.6,297.7 185.3,297.7 185.9,297.8 186.5,297.9 187.2,298.1 187.8,298.2 188.4,298.4 189.0,298.7 189.6,299.0 190.2,299.4 190.7,299.9 191.3,300.6 191.9,301.3 192.4,302.2 193.0,303.0 193.5,303.6 194.0,303.8 194.5,303.5 195.0,302.8 195.5,302.1 196.0,301.3 196.5,300.7 197.0,300.1 197.4,299.7 197.9,299.4 198.3,299.1 198.7,298.9 199.2,298.7 199.6,298.5 200.0,298.4 200.3,298.3 200.7,298.2 201.1,298.2 201.4,298.1 201.8,298.1 202.1,298.0 202.4,298.0 202.7,298.0 203.0,297.9 203.3,297.9 203.5,297.9 203.8,297.9 204.0,297.9 204.2,297.9 204.4,297.9 204.6,297.9 204.8,297.9 204.9,297.9 205.0,297.9 205.1,297.9 205.2,297.9 205.2,297.9 205.3,297.9 205.4,297.9 205.5,297.9 205.6,297.9 205.8,297.9 206.0,297.9 206.2,298.0 206.4,298.0 206.6,298.0 206.9,298.0 207.1,298.0 207.4,298.1 207.7,298.1 208.0,298.2 208.3,298.2 208.6,298.3 209.0,298.4 209.3,298.5 209.7,298.6 210.1,298.7 210.5,298.9 210.9,299.1 211.3,299.4 211.7,299.7 212.1,300.2 212.5,300.7 213.0,301.3 213.4,302.0 213.9,302.7 214.4,303.3 214.9,303.7 215.4,303.7 215.9,303.3 216.4,302.6 216.9,301.7 217.5,301.0 218.0,300.3 218.5,299.7 219.1,299.3 219.7,298.9 220.2,298.6 220.8,298.4 221.4,298.2 222.0,298.0 222.6,297.9 223.2,297.8 223.9,297.7 224.5,297.7 225.1,297.6 225.8,297.5 226.4,297.5 227.1,297.5 227.8,297.4 228.5,297.4 229.1,297.4 229.8,297.4 230.5,297.3 231.3,297.3 232.0,297.3 232.7,297.3 233.4,297.3 234.2,297.3 234.9,297.2 235.7,297.2 236.4,297.2 237.2,297.2 238.0,297.2 238.7,297.2 239.5,297.2 240.3,297.2 241.1,297.2 241.9,297.2 242.7,297.2 243.6,297.2 244.0,297.2 244.0,297.1" fill="#4f78f0" stroke="#4f78f0" stroke-width="0.5" stroke-linejoin="round"/>
<polygon points="161.6,297.1 161.6,297.1 161.8,297.1 162.7,297.1 163.5,297.1 164.4,297.1 165.2,297.1 166.0,297.1 166.9,297.1 167.7,297.1 168.5,297.2 169.3,297.2 170.1,297.2 170.9,297.2 171.7,297.2 172.5,297.2 173.2,297.2 174.0,297.2 174.8,297.2 175.5,297.2 176.3,297.2 177.0,297.2 177.7,297.2 178.4,297.2 179.2,297.2 179.9,297.2 180.6,297.2 181.3,297.3 182.0,297.3 182.6,297.3 183.3,297.3 184.0,297.3 184.6,297.4 185.3,297.4 185.9,297.4 186.5,297.5 187.2,297.5 187.8,297.5 188.4,297.6 189.0,297.7 189.6,297.8 190.2,297.9 190.7,298.0 191.3,298.2 191.9,298.5 192.4,298.7 193.0,299.1 193.5,299.5 194.0,300.0 194.5,300.5 195.0,300.9 195.5,301.2 196.0,301.2 196.5,301.0 197.0,300.6 197.4,300.2 197.9,299.8 198.3,299.4 198.7,299.1 199.2,298.8 199.6,298.6 200.0,298.4 200.3,298.3 200.7,298.2 201.1,298.1 201.4,298.0 201.8,297.9 202.1,297.9 202.4,297.8 202.7,297.8 203.0,297.7 203.3,297.7 203.5,297.7 203.8,297.7 204.0,297.7 204.2,297.6 204.4,297.6 204.6,297.6 204.8,297.6 204.9,297.6 205.0,297.6 205.1,297.6 205.2,297.6 205.2,297.6 205.3,297.6 205.4,297.6 205.5,297.6 205.6,297.6 205.8,297.6 206.0,297.6 206.2,297.6 206.4,297.6 206.6,297.6 206.9,297.6 207.1,297.6 207.4,297.6 207.7,297.6 208.0,297.6 208.3,297.6 208.6,297.6 209.0,297.6 209.3,297.6 209.7,297.7 210.1,297.7 210.5,297.7 210.9,297.8 211.3,297.8 211.7,297.9 212.1,298.0 212.5,298.1 213.0,298.2 213.4,298.4 213.9,298.6 214.4,298.8 214.9,299.1 215.4,299.5 215.9,300.0 216.4,300.4 216.9,300.9 217.5,301.2 218.0,301.2 218.5,300.9 219.1,300.4 219.7,299.9 220.2,299.4 220.8,298.9 221.4,298.6 222.0,298.3 222.6,298.1 223.2,297.9 223.9,297.8 224.5,297.7 225.1,297.6 225.8,297.5 226.4,297.5 227.1,297.4 227.8,297.4 228.5,297.4 229.1,297.3 229.8,297.3 230.5,297.3 231.3,297.3 232.0,297.3 232.7,297.3 233.4,297.2 234.2,297.2 234.9,297.2 235.7,297.2 236.4,297.2 237.2,297.2 238.0,297.2 238.7,297.2 239.5,297.2 240.3,297.2 241.1,297.2 241.9,297.2 242.7,297.2 243.6,297.2 244.0,297.2 244.0,297.1" fill="#fb33f5" stroke="#fb33f5" stroke-width="1.6" stroke-linejoin="round"/>
<path d="M161.6 297.3h0M162.3 296.8h0M163.1 295.8h0M163.9 297.8h0M164.6 298.7h0M165.4 296.3h0M166.2 298.5h0M166.9 299.6h0M167.7 299.9h0M168.5 298.6h0M169.2 301.9h0M170.0 300.3h0M170.8 299.1h0M171.5 301.4h0M172.3 299.4h0M173.1 301.9h0M173.8 299.8h0M174.6 302.3h0M175.4 301.1h0M176.1 303.2h0M176.9 303.1h0M177.7 303.1h0M178.4 302.9h0M179.2 304.4h0M180.0 301.5h0M180.7 304.3h0M181.5 304.7h0M182.3 305.2h0M183.0 305.9h0M183.8 309.5h0M184.6 306.0h0M185.3 307.2h0M186.1 307.0h0M186.9 309.0h0M187.6 305.6h0M188.4 310.3h0M189.2 308.2h0M189.9 307.1h0M190.7 309.1h0M191.5 310.8h0M192.2 312.0h0M193.0 312.6h0M193.8 314.5h0M194.5 314.6h0M195.3 315.7h0M196.1 314.8h0M196.8 319.2h0M197.6 321.6h0M198.4 322.2h0M199.1 323.4h0M199.9 327.5h0M200.7 335.2h0M201.4 338.4h0M202.2 346.6h0M203.0 354.2h0M203.7 360.3h0M204.5 357.3h0M205.3 357.1h0M206.0 357.9h0M206.8 356.5h0M207.6 350.7h0M208.3 338.9h0M209.1 331.9h0M209.9 325.4h0M210.6 321.6h0M211.4 318.8h0M212.2 316.6h0M212.9 316.0h0M213.7 313.9h0M214.5 311.5h0M215.2 311.2h0M216.0 310.1h0M216.8 309.9h0M217.5 308.8h0M218.3 308.5h0M219.1 305.8h0M219.8 307.3h0M220.6 307.8h0M221.4 304.4h0M222.1 307.2h0M222.9 305.4h0M223.7 304.4h0M224.4 302.2h0M225.2 305.0h0M226.0 302.4h0M226.7 302.5h0M227.5 303.3h0M228.3 301.3h0M229.0 301.0h0M229.8 300.5h0M230.6 301.3h0M231.3 301.7h0M232.1 301.1h0M232.9 300.8h0M233.6 299.7h0M234.4 299.9h0M235.2 298.7h0M235.9 301.4h0M236.7 299.2h0M237.5 296.6h0M238.2 297.4h0M239.0 300.2h0M239.8 296.7h0M240.5 297.6h0M241.3 298.4h0M242.1 296.6h0M242.8 298.8h0M243.6 299.4h0" stroke="#222" stroke-width="0.7" stroke-linecap="round" fill="none"/>
<polyline points="161.6,298.1 161.9,298.1 162.3,298.1 162.7,298.2 163.1,298.2 163.4,298.3 163.8,298.3 164.2,298.4 164.6,298.5 164.9,298.6 165.3,298.7 165.7,298.8 166.1,298.9 166.4,299.0 166.8,299.1 167.2,299.2 167.6,299.4 168.0,299.5 168.3,299.7 168.7,299.8 169.1,299.9 169.5,300.1 169.8,300.2 170.2,300.4 170.6,300.5 171.0,300.7 171.3,300.8 171.7,301.0 172.1,301.1 172.5,301.3 172.8,301.4 173.2,301.6 173.6,301.7 174.0,301.8 174.4,302.0 174.7,302.1 175.1,302.2 175.5,302.4 175.9,302.5 176.2,302.6 176.6,302.8 177.0,302.9 177.4,303.0 177.7,303.2 178.1,303.3 178.5,303.5 178.9,303.7 179.2,303.8 179.6,304.0 180.0,304.1 180.4,304.3 180.8,304.5 181.1,304.7 181.5,304.8 181.9,305.0 182.3,305.2 182.6,305.4 183.0,305.6 183.4,305.8 183.8,306.0 184.1,306.2 184.5,306.4 184.9,306.7 185.3,306.9 185.6,307.1 186.0,307.4 186.4,307.6 186.8,307.8 187.1,308.1 187.5,308.4 187.9,308.6 188.3,308.9 188.7,309.2 189.0,309.5 189.4,309.8 189.8,310.1 190.2,310.4 190.5,310.8 190.9,311.1 191.3,311.5 191.7,311.8 192.0,312.2 192.4,312.6 192.8,313.0 193.2,313.5 193.5,313.9 193.9,314.4 194.3,314.9 194.7,315.4 195.1,316.0 195.4,316.6 195.8,317.3 196.2,318.0 196.6,318.8 196.9,319.6 197.3,320.5 197.7,321.4 198.1,322.4 198.4,323.6 198.8,324.9 199.2,326.4 199.6,328.1 199.9,329.9 200.3,331.9 200.7,334.3 201.1,336.9 201.5,340.0 201.8,343.5 202.2,348.2 202.6,352.6 203.0,355.8 203.3,358.7 203.7,360.2 204.1,359.7 204.5,358.6 204.8,358.0 205.2,358.5 205.6,359.5 206.0,360.2 206.3,359.6 206.7,357.6 207.1,355.0 207.5,351.3 207.9,345.7 208.2,340.7 208.6,336.5 209.0,332.5 209.4,329.1 209.7,326.5 210.1,324.4 210.5,322.6 210.9,321.0 211.2,319.7 211.6,318.5 212.0,317.5 212.4,316.6 212.7,315.8 213.1,315.0 213.5,314.3 213.9,313.7 214.3,313.0 214.6,312.5 215.0,311.9 215.4,311.5 215.8,311.0 216.1,310.6 216.5,310.2 216.9,309.8 217.3,309.5 217.6,309.1 218.0,308.8 218.4,308.5 218.8,308.2 219.1,308.0 219.5,307.7 219.9,307.4 220.3,307.2 220.7,307.0 221.0,306.7 221.4,306.5 221.8,306.3 222.2,306.0 222.5,305.8 222.9,305.6 223.3,305.4 223.7,305.2 224.0,305.0 224.4,304.8 224.8,304.6 225.2,304.4 225.5,304.2 225.9,304.1 226.3,303.9 226.7,303.7 227.1,303.5 227.4,303.4 227.8,303.2 228.2,303.0 228.6,302.9 228.9,302.7 229.3,302.5 229.7,302.4 230.1,302.2 230.4,302.0 230.8,301.9 231.2,301.7 231.6,301.5 231.9,301.4 232.3,301.2 232.7,301.0 233.1,300.9 233.5,300.7 233.8,300.6 234.2,300.4 234.6,300.3 235.0,300.1 235.3,300.0 235.7,299.9 236.1,299.8 236.5,299.7 236.8,299.6 237.2,299.5 237.6,299.4 238.0,299.3 238.3,299.2 238.7,299.1 239.1,299.0 239.5,298.9 239.9,298.8 240.2,298.7 240.6,298.7 241.0,298.6 241.4,298.5 241.7,298.5 242.1,298.4 242.5,298.3 242.9,298.3 243.2,298.2 243.6,298.2 244.0,298.1" stroke="#111" stroke-width="1.25" fill="none" stroke-linejoin="round" />
</g>
<rect x="152.2" y="293.3" width="99.3" height="72.3" stroke="#222" stroke-width="1.1" fill="none" />
<path d="M156.5 293.3L156.5 296.3M156.5 365.6L156.5 362.6M165.52 293.3L165.52 296.3M165.52 365.6L165.52 362.6M174.54 293.3L174.54 296.3M174.54 365.6L174.54 362.6M183.56 293.3L183.56 296.3M183.56 365.6L183.56 362.6M192.58 293.3L192.58 296.3M192.58 365.6L192.58 362.6M201.6 293.3L201.6 296.3M201.6 365.6L201.6 362.6M210.62 293.3L210.62 296.3M210.62 365.6L210.62 362.6M219.64 293.3L219.64 296.3M219.64 365.6L219.64 362.6M228.66 293.3L228.66 296.3M228.66 365.6L228.66 362.6M237.68 293.3L237.68 296.3M237.68 365.6L237.68 362.6M246.7 293.3L246.7 296.3M246.7 365.6L246.7 362.6" stroke="#333" stroke-width="0.6"/>
<path d="M151.99 293.3L151.99 295.3M151.99 365.6L151.99 363.6M161.01 293.3L161.01 295.3M161.01 365.6L161.01 363.6M170.03 293.3L170.03 295.3M170.03 365.6L170.03 363.6M179.05 293.3L179.05 295.3M179.05 365.6L179.05 363.6M188.07 293.3L188.07 295.3M188.07 365.6L188.07 363.6M197.09 293.3L197.09 295.3M197.09 365.6L197.09 363.6M206.11 293.3L206.11 295.3M206.11 365.6L206.11 363.6M215.13 293.3L215.13 295.3M215.13 365.6L215.13 363.6M224.15 293.3L224.15 295.3M224.15 365.6L224.15 363.6M233.17 293.3L233.17 295.3M233.17 365.6L233.17 363.6M242.19 293.3L242.19 295.3M242.19 365.6L242.19 363.6M251.21 293.3L251.21 295.3M251.21 365.6L251.21 363.6" stroke="#333" stroke-width="0.5"/>
<path d="M152.2 297.1L156.2 297.1M251.5 297.1L247.5 297.1M152.2 324.4L156.2 324.4M251.5 324.4L247.5 324.4M152.2 351.7L156.2 351.7M251.5 351.7L247.5 351.7" stroke="#333" stroke-width="0.75"/>
<path d="M152.2 302.56L154.4 302.56M251.5 302.56L249.3 302.56M152.2 308.02L154.4 308.02M251.5 308.02L249.3 308.02M152.2 313.48L154.4 313.48M251.5 313.48L249.3 313.48M152.2 318.94L154.4 318.94M251.5 318.94L249.3 318.94M152.2 329.86L154.4 329.86M251.5 329.86L249.3 329.86M152.2 335.32L154.4 335.32M251.5 335.32L249.3 335.32M152.2 340.78L154.4 340.78M251.5 340.78L249.3 340.78M152.2 346.24L154.4 346.24M251.5 346.24L249.3 346.24M152.2 357.16L154.4 357.16M251.5 357.16L249.3 357.16M152.2 362.62L154.4 362.62M251.5 362.62L249.3 362.62" stroke="#333" stroke-width="0.6"/>
<text x="149.6" y="299.8" font-size="7.9" text-anchor="end" fill="#222" stroke="#222" stroke-width="0.18" >0</text>
<text x="149.6" y="327.1" font-size="7.9" text-anchor="end" fill="#222" stroke="#222" stroke-width="0.18" >1</text>
<text x="149.6" y="354.4" font-size="7.9" text-anchor="end" fill="#222" stroke="#222" stroke-width="0.18" >2</text>
<text x="156.5" y="360.4" font-size="7.7" text-anchor="start" fill="#222" stroke="#222" stroke-width="0.18" textLength="39.4" lengthAdjust="spacingAndGlyphs">0.27 wt% Fe</text>
<g clip-path="url(#cd4)">
<polygon points="35.8,370.1 35.8,372.5 36.0,372.5 36.9,372.6 37.8,372.7 38.6,372.8 39.5,372.9 40.4,373.0 41.2,373.1 42.1,373.2 42.9,373.3 43.8,373.4 44.6,373.5 45.4,373.6 46.2,373.7 47.0,373.8 47.8,374.0 48.6,374.1 49.4,374.3 50.2,374.4 51.0,374.6 51.7,374.7 52.5,374.9 53.3,375.1 54.0,375.2 54.7,375.4 55.5,375.6 56.2,375.8 56.9,376.0 57.6,376.2 58.3,376.4 59.0,376.6 59.7,376.9 60.4,377.1 61.1,377.3 61.7,377.6 62.4,377.8 63.0,378.1 63.7,378.4 64.3,378.6 64.9,378.9 65.6,379.2 66.2,379.4 66.8,379.7 67.4,380.0 67.9,380.3 68.5,380.6 69.1,380.9 69.7,381.1 70.2,381.4 70.7,381.7 71.3,382.0 71.8,382.2 72.3,382.5 72.8,382.8 73.3,383.0 73.8,383.3 74.3,383.5 74.8,383.7 75.2,383.9 75.7,384.1 76.1,384.3 76.5,384.5 76.9,384.6 77.4,384.8 77.8,384.9 78.1,385.1 78.5,385.2 78.9,385.3 79.2,385.4 79.6,385.5 79.9,385.5 80.2,385.6 80.5,385.6 80.8,385.7 81.1,385.7 81.3,385.7 81.6,385.8 81.8,385.8 82.0,385.8 82.2,385.8 82.4,385.8 82.6,385.8 82.7,385.8 82.8,385.8 82.9,385.8 83.0,385.8 83.0,385.8 83.1,385.8 83.2,385.8 83.3,385.8 83.4,385.8 83.6,385.8 83.8,385.7 84.0,385.7 84.2,385.7 84.4,385.7 84.7,385.6 84.9,385.6 85.2,385.5 85.5,385.5 85.8,385.4 86.1,385.3 86.5,385.2 86.8,385.1 87.2,385.0 87.5,384.9 87.9,384.8 88.3,384.6 88.7,384.4 89.1,384.3 89.5,384.1 89.9,383.9 90.4,383.7 90.8,383.5 91.3,383.3 91.7,383.0 92.2,382.8 92.7,382.6 93.2,382.3 93.7,382.0 94.2,381.8 94.8,381.5 95.3,381.2 95.8,381.0 96.4,380.7 96.9,380.4 97.5,380.1 98.1,379.9 98.7,379.6 99.3,379.3 99.9,379.0 100.5,378.8 101.1,378.5 101.7,378.2 102.4,378.0 103.0,377.7 103.6,377.5 104.3,377.3 105.0,377.0 105.6,376.8 106.3,376.6 107.0,376.4 107.7,376.1 108.4,375.9 109.1,375.7 109.8,375.6 110.6,375.4 111.3,375.2 112.0,375.0 112.8,374.8 113.5,374.7 114.3,374.5 115.1,374.4 115.8,374.2 116.6,374.1 117.4,374.0 118.2,373.8 119.0,373.7 119.8,373.6 120.6,373.5 121.4,373.4 122.3,373.2 123.1,373.1 123.4,373.1 123.4,370.1" fill="#ebc774" stroke="#ebc774" stroke-width="0.5" stroke-linejoin="round"/>
<polygon points="35.8,370.1 35.8,370.1 36.0,370.1 36.9,370.1 37.8,370.1 38.6,370.1 39.5,370.1 40.4,370.1 41.2,370.1 42.1,370.1 42.9,370.1 43.8,370.1 44.6,370.1 45.4,370.1 46.2,370.1 47.0,370.2 47.8,370.2 48.6,370.2 49.4,370.2 50.2,370.2 51.0,370.2 51.7,370.2 52.5,370.2 53.3,370.2 54.0,370.2 54.7,370.2 55.5,370.2 56.2,370.2 56.9,370.2 57.6,370.2 58.3,370.2 59.0,370.2 59.7,370.2 60.4,370.2 61.1,370.2 61.7,370.2 62.4,370.3 63.0,370.3 63.7,370.3 64.3,370.3 64.9,370.3 65.6,370.3 66.2,370.3 66.8,370.4 67.4,370.4 67.9,370.4 68.5,370.4 69.1,370.4 69.7,370.5 70.2,370.5 70.7,370.5 71.3,370.6 71.8,370.6 72.3,370.7 72.8,370.8 73.3,370.8 73.8,370.9 74.3,371.0 74.8,371.1 75.2,371.2 75.7,371.4 76.1,371.6 76.5,371.8 76.9,372.0 77.4,372.3 77.8,372.7 78.1,373.2 78.5,373.8 78.9,374.5 79.2,375.5 79.6,376.7 79.9,378.2 80.2,380.1 80.5,382.5 80.8,385.1 81.1,387.7 81.3,389.9 81.6,391.2 81.8,391.4 82.0,390.8 82.2,389.8 82.4,388.8 82.6,387.9 82.7,387.3 82.8,386.9 82.9,386.7 83.0,386.6 83.0,386.6 83.1,386.5 83.2,386.5 83.3,386.6 83.4,386.9 83.6,387.5 83.8,388.3 84.0,389.4 84.2,390.5 84.4,391.3 84.7,391.2 84.9,390.0 85.2,387.7 85.5,384.9 85.8,382.2 86.1,379.8 86.5,377.9 86.8,376.4 87.2,375.2 87.5,374.3 87.9,373.6 88.3,373.0 88.7,372.6 89.1,372.2 89.5,371.9 89.9,371.7 90.4,371.5 90.8,371.3 91.3,371.2 91.7,371.1 92.2,371.0 92.7,370.9 93.2,370.8 93.7,370.7 94.2,370.7 94.8,370.6 95.3,370.6 95.8,370.5 96.4,370.5 96.9,370.5 97.5,370.4 98.1,370.4 98.7,370.4 99.3,370.4 99.9,370.3 100.5,370.3 101.1,370.3 101.7,370.3 102.4,370.3 103.0,370.3 103.6,370.3 104.3,370.3 105.0,370.2 105.6,370.2 106.3,370.2 107.0,370.2 107.7,370.2 108.4,370.2 109.1,370.2 109.8,370.2 110.6,370.2 111.3,370.2 112.0,370.2 112.8,370.2 113.5,370.2 114.3,370.2 115.1,370.2 115.8,370.2 116.6,370.2 117.4,370.2 118.2,370.2 119.0,370.2 119.8,370.1 120.6,370.1 121.4,370.1 122.3,370.1 123.1,370.1 123.4,370.1 123.4,370.1" fill="#a9b5b5" stroke="#a9b5b5" stroke-width="0.5" stroke-linejoin="round"/>
<polygon points="35.8,370.1 35.8,370.1 36.0,370.1 36.9,370.2 37.8,370.2 38.6,370.2 39.5,370.2 40.4,370.2 41.2,370.2 42.1,370.2 42.9,370.2 43.8,370.2 44.6,370.2 45.4,370.2 46.2,370.2 47.0,370.2 47.8,370.2 48.6,370.2 49.4,370.2 50.2,370.2 51.0,370.2 51.7,370.2 52.5,370.2 53.3,370.2 54.0,370.2 54.7,370.2 55.5,370.2 56.2,370.3 56.9,370.3 57.6,370.3 58.3,370.3 59.0,370.3 59.7,370.3 60.4,370.3 61.1,370.3 61.7,370.3 62.4,370.4 63.0,370.4 63.7,370.4 64.3,370.4 64.9,370.4 65.6,370.5 66.2,370.5 66.8,370.5 67.4,370.6 67.9,370.6 68.5,370.6 69.1,370.7 69.7,370.7 70.2,370.8 70.7,370.8 71.3,370.9 71.8,371.0 72.3,371.1 72.8,371.2 73.3,371.3 73.8,371.4 74.3,371.6 74.8,371.8 75.2,372.0 75.7,372.2 76.1,372.5 76.5,372.8 76.9,373.2 77.4,373.7 77.8,374.2 78.1,374.8 78.5,375.6 78.9,376.5 79.2,377.6 79.6,378.9 79.9,380.4 80.2,382.1 80.5,384.1 80.8,386.2 81.1,388.5 81.3,390.7 81.6,392.8 81.8,394.4 82.0,395.6 82.2,396.2 82.4,396.4 82.6,396.1 82.7,395.6 82.8,395.0 82.9,394.5 83.0,394.0 83.0,393.9 83.1,393.4 83.2,392.7 83.3,391.7 83.4,390.5 83.6,389.1 83.8,387.6 84.0,386.0 84.2,384.4 84.4,382.8 84.7,381.3 84.9,380.0 85.2,378.7 85.5,377.7 85.8,376.7 86.1,375.9 86.5,375.1 86.8,374.5 87.2,374.0 87.5,373.5 87.9,373.1 88.3,372.8 88.7,372.5 89.1,372.2 89.5,372.0 89.9,371.8 90.4,371.6 90.8,371.5 91.3,371.4 91.7,371.2 92.2,371.1 92.7,371.0 93.2,371.0 93.7,370.9 94.2,370.8 94.8,370.8 95.3,370.7 95.8,370.7 96.4,370.6 96.9,370.6 97.5,370.5 98.1,370.5 98.7,370.5 99.3,370.5 99.9,370.4 100.5,370.4 101.1,370.4 101.7,370.4 102.4,370.4 103.0,370.3 103.6,370.3 104.3,370.3 105.0,370.3 105.6,370.3 106.3,370.3 107.0,370.3 107.7,370.3 108.4,370.3 109.1,370.2 109.8,370.2 110.6,370.2 111.3,370.2 112.0,370.2 112.8,370.2 113.5,370.2 114.3,370.2 115.1,370.2 115.8,370.2 116.6,370.2 117.4,370.2 118.2,370.2 119.0,370.2 119.8,370.2 120.6,370.2 121.4,370.2 122.3,370.2 123.1,370.2 123.4,370.2 123.4,370.1" fill="#5f6c6c" stroke="#5f6c6c" stroke-width="0.5" stroke-linejoin="round"/>
<polygon points="35.8,370.1 35.8,370.2 36.0,370.2 36.9,370.2 37.8,370.2 38.6,370.2 39.5,370.2 40.4,370.2 41.2,370.2 42.1,370.2 42.9,370.2 43.8,370.2 44.6,370.2 45.4,370.2 46.2,370.2 47.0,370.2 47.8,370.2 48.6,370.2 49.4,370.2 50.2,370.2 51.0,370.2 51.7,370.2 52.5,370.2 53.3,370.3 54.0,370.3 54.7,370.3 55.5,370.3 56.2,370.3 56.9,370.3 57.6,370.3 58.3,370.3 59.0,370.4 59.7,370.4 60.4,370.4 61.1,370.4 61.7,370.4 62.4,370.5 63.0,370.5 63.7,370.5 64.3,370.5 64.9,370.6 65.6,370.6 66.2,370.7 66.8,370.7 67.4,370.8 67.9,370.8 68.5,370.9 69.1,371.0 69.7,371.1 70.2,371.2 70.7,371.3 71.3,371.5 71.8,371.7 72.3,371.9 72.8,372.2 73.3,372.5 73.8,372.8 74.3,373.3 74.8,373.8 75.2,374.4 75.7,375.2 76.1,376.0 76.5,376.9 76.9,377.8 77.4,378.6 77.8,379.2 78.1,379.5 78.5,379.5 78.9,379.2 79.2,378.7 79.6,378.1 79.9,377.4 80.2,376.9 80.5,376.4 80.8,375.9 81.1,375.6 81.3,375.3 81.6,375.1 81.8,374.9 82.0,374.8 82.2,374.7 82.4,374.7 82.6,374.6 82.7,374.6 82.8,374.6 82.9,374.6 83.0,374.6 83.0,374.6 83.1,374.6 83.2,374.6 83.3,374.7 83.4,374.7 83.6,374.8 83.8,374.9 84.0,375.0 84.2,375.2 84.4,375.4 84.7,375.7 84.9,376.1 85.2,376.5 85.5,377.0 85.8,377.5 86.1,378.1 86.5,378.7 86.8,379.2 87.2,379.5 87.5,379.5 87.9,379.3 88.3,378.7 88.7,377.9 89.1,377.0 89.5,376.1 89.9,375.3 90.4,374.6 90.8,373.9 91.3,373.4 91.7,372.9 92.2,372.6 92.7,372.2 93.2,372.0 93.7,371.7 94.2,371.6 94.8,371.4 95.3,371.3 95.8,371.1 96.4,371.0 96.9,370.9 97.5,370.9 98.1,370.8 98.7,370.7 99.3,370.7 99.9,370.6 100.5,370.6 101.1,370.6 101.7,370.5 102.4,370.5 103.0,370.5 103.6,370.4 104.3,370.4 105.0,370.4 105.6,370.4 106.3,370.4 107.0,370.3 107.7,370.3 108.4,370.3 109.1,370.3 109.8,370.3 110.6,370.3 111.3,370.3 112.0,370.3 112.8,370.3 113.5,370.2 114.3,370.2 115.1,370.2 115.8,370.2 116.6,370.2 117.4,370.2 118.2,370.2 119.0,370.2 119.8,370.2 120.6,370.2 121.4,370.2 122.3,370.2 123.1,370.2 123.4,370.2 123.4,370.1" fill="#88f01c" stroke="#88f01c" stroke-width="0.5" stroke-linejoin="round"/>
<polygon points="35.8,370.1 35.8,370.1 36.0,370.1 36.9,370.1 37.8,370.1 38.6,370.1 39.5,370.1 40.4,370.1 41.2,370.1 42.1,370.2 42.9,370.2 43.8,370.2 44.6,370.2 45.4,370.2 46.2,370.2 47.0,370.2 47.8,370.2 48.6,370.2 49.4,370.2 50.2,370.2 51.0,370.2 51.7,370.2 52.5,370.2 53.3,370.2 54.0,370.2 54.7,370.2 55.5,370.3 56.2,370.3 56.9,370.3 57.6,370.3 58.3,370.3 59.0,370.3 59.7,370.4 60.4,370.4 61.1,370.4 61.7,370.5 62.4,370.5 63.0,370.6 63.7,370.6 64.3,370.7 64.9,370.8 65.6,370.9 66.2,371.1 66.8,371.3 67.4,371.5 67.9,371.8 68.5,372.2 69.1,372.7 69.7,373.2 70.2,373.6 70.7,374.0 71.3,374.1 71.8,374.0 72.3,373.6 72.8,373.2 73.3,372.8 73.8,372.4 74.3,372.1 74.8,371.8 75.2,371.6 75.7,371.4 76.1,371.2 76.5,371.1 76.9,371.0 77.4,371.0 77.8,370.9 78.1,370.8 78.5,370.8 78.9,370.8 79.2,370.7 79.6,370.7 79.9,370.7 80.2,370.7 80.5,370.7 80.8,370.6 81.1,370.6 81.3,370.6 81.6,370.6 81.8,370.6 82.0,370.6 82.2,370.6 82.4,370.6 82.6,370.6 82.7,370.6 82.8,370.6 82.9,370.6 83.0,370.6 83.0,370.6 83.1,370.6 83.2,370.6 83.3,370.6 83.4,370.6 83.6,370.6 83.8,370.7 84.0,370.7 84.2,370.7 84.4,370.7 84.7,370.7 84.9,370.7 85.2,370.7 85.5,370.8 85.8,370.8 86.1,370.8 86.5,370.9 86.8,370.9 87.2,371.0 87.5,371.1 87.9,371.2 88.3,371.3 88.7,371.4 89.1,371.6 89.5,371.8 89.9,372.1 90.4,372.4 90.8,372.7 91.3,373.1 91.7,373.5 92.2,373.9 92.7,374.1 93.2,374.1 93.7,373.8 94.2,373.5 94.8,373.0 95.3,372.5 95.8,372.1 96.4,371.8 96.9,371.5 97.5,371.3 98.1,371.1 98.7,370.9 99.3,370.8 99.9,370.7 100.5,370.6 101.1,370.6 101.7,370.5 102.4,370.5 103.0,370.4 103.6,370.4 104.3,370.4 105.0,370.3 105.6,370.3 106.3,370.3 107.0,370.3 107.7,370.3 108.4,370.3 109.1,370.2 109.8,370.2 110.6,370.2 111.3,370.2 112.0,370.2 112.8,370.2 113.5,370.2 114.3,370.2 115.1,370.2 115.8,370.2 116.6,370.2 117.4,370.2 118.2,370.2 119.0,370.2 119.8,370.2 120.6,370.2 121.4,370.2 122.3,370.2 123.1,370.1 123.4,370.1 123.4,370.1" fill="#4f78f0" stroke="#4f78f0" stroke-width="0.5" stroke-linejoin="round"/>
<polygon points="35.8,370.1 35.8,370.1 36.0,370.1 36.9,370.1 37.8,370.1 38.6,370.1 39.5,370.1 40.4,370.1 41.2,370.1 42.1,370.1 42.9,370.1 43.8,370.1 44.6,370.1 45.4,370.1 46.2,370.1 47.0,370.1 47.8,370.1 48.6,370.1 49.4,370.1 50.2,370.1 51.0,370.1 51.7,370.1 52.5,370.1 53.3,370.1 54.0,370.1 54.7,370.1 55.5,370.1 56.2,370.1 56.9,370.1 57.6,370.1 58.3,370.2 59.0,370.2 59.7,370.2 60.4,370.2 61.1,370.2 61.7,370.2 62.4,370.2 63.0,370.2 63.7,370.2 64.3,370.2 64.9,370.2 65.6,370.2 66.2,370.2 66.8,370.2 67.4,370.2 67.9,370.3 68.5,370.3 69.1,370.3 69.7,370.3 70.2,370.3 70.7,370.4 71.3,370.4 71.8,370.5 72.3,370.5 72.8,370.6 73.3,370.6 73.8,370.7 74.3,370.8 74.8,371.0 75.2,371.1 75.7,371.3 76.1,371.5 76.5,371.7 76.9,371.9 77.4,372.1 77.8,372.3 78.1,372.3 78.5,372.3 78.9,372.2 79.2,372.1 79.6,371.9 79.9,371.8 80.2,371.6 80.5,371.4 80.8,371.3 81.1,371.2 81.3,371.1 81.6,371.0 81.8,371.0 82.0,370.9 82.2,370.9 82.4,370.8 82.6,370.8 82.7,370.8 82.8,370.7 82.9,370.7 83.0,370.7 83.0,370.7 83.1,370.7 83.2,370.7 83.3,370.7 83.4,370.7 83.6,370.6 83.8,370.6 84.0,370.6 84.2,370.6 84.4,370.6 84.7,370.5 84.9,370.5 85.2,370.5 85.5,370.5 85.8,370.5 86.1,370.5 86.5,370.5 86.8,370.5 87.2,370.5 87.5,370.5 87.9,370.5 88.3,370.5 88.7,370.5 89.1,370.5 89.5,370.5 89.9,370.5 90.4,370.6 90.8,370.6 91.3,370.6 91.7,370.7 92.2,370.8 92.7,370.9 93.2,371.0 93.7,371.2 94.2,371.4 94.8,371.7 95.3,372.0 95.8,372.2 96.4,372.3 96.9,372.3 97.5,372.1 98.1,371.8 98.7,371.5 99.3,371.2 99.9,371.0 100.5,370.9 101.1,370.7 101.7,370.6 102.4,370.5 103.0,370.5 103.6,370.4 104.3,370.4 105.0,370.3 105.6,370.3 106.3,370.3 107.0,370.3 107.7,370.2 108.4,370.2 109.1,370.2 109.8,370.2 110.6,370.2 111.3,370.2 112.0,370.2 112.8,370.2 113.5,370.2 114.3,370.2 115.1,370.2 115.8,370.2 116.6,370.2 117.4,370.1 118.2,370.1 119.0,370.1 119.8,370.1 120.6,370.1 121.4,370.1 122.3,370.1 123.1,370.1 123.4,370.1 123.4,370.1" fill="#fb33f5" stroke="#fb33f5" stroke-width="1.6" stroke-linejoin="round"/>
<path d="M35.8 369.2h0M36.6 371.7h0M37.4 369.5h0M38.1 369.5h0M38.9 371.2h0M39.7 371.4h0M40.4 370.6h0M41.2 372.5h0M42.0 369.9h0M42.7 370.9h0M43.5 370.8h0M44.3 373.2h0M45.0 373.5h0M45.8 373.5h0M46.6 371.4h0M47.4 373.3h0M48.1 373.9h0M48.9 371.7h0M49.7 372.9h0M50.4 374.9h0M51.2 375.2h0M52.0 374.9h0M52.7 375.5h0M53.5 375.5h0M54.3 375.6h0M55.0 375.6h0M55.8 374.9h0M56.6 376.0h0M57.3 376.1h0M58.1 379.7h0M58.9 377.6h0M59.6 377.7h0M60.4 377.9h0M61.2 378.4h0M62.0 378.7h0M62.7 380.2h0M63.5 380.1h0M64.3 381.7h0M65.0 380.5h0M65.8 382.4h0M66.6 383.7h0M67.3 382.0h0M68.1 384.4h0M68.9 385.4h0M69.6 385.7h0M70.4 386.5h0M71.2 386.0h0M71.9 390.8h0M72.7 389.5h0M73.5 390.6h0M74.2 394.5h0M75.0 393.3h0M75.8 398.6h0M76.6 400.3h0M77.3 403.1h0M78.1 405.7h0M78.9 411.0h0M79.6 418.0h0M80.4 428.6h0M81.2 430.7h0M81.9 430.9h0M82.7 432.8h0M83.5 427.6h0M84.2 422.8h0M85.0 417.1h0M85.8 410.9h0M86.5 404.7h0M87.3 400.7h0M88.1 399.2h0M88.8 395.6h0M89.6 388.5h0M90.4 387.6h0M91.2 388.6h0M91.9 386.6h0M92.7 385.0h0M93.5 385.6h0M94.2 381.2h0M95.0 384.0h0M95.8 382.0h0M96.5 381.9h0M97.3 380.9h0M98.1 381.1h0M98.8 379.3h0M99.6 378.6h0M100.4 379.7h0M101.1 378.6h0M101.9 376.5h0M102.7 379.3h0M103.4 378.7h0M104.2 378.6h0M105.0 376.7h0M105.8 376.6h0M106.5 375.4h0M107.3 374.4h0M108.1 375.3h0M108.8 375.1h0M109.6 373.8h0M110.4 376.6h0M111.1 372.2h0M111.9 372.9h0M112.7 372.8h0M113.4 374.9h0M114.2 372.8h0M115.0 372.5h0M115.7 371.7h0M116.5 371.6h0M117.3 370.7h0M118.0 373.3h0M118.8 372.7h0M119.6 372.9h0M120.4 370.8h0M121.1 374.4h0M121.9 370.1h0M122.7 368.7h0" stroke="#222" stroke-width="0.7" stroke-linecap="round" fill="none"/>
<polyline points="35.8,370.8 36.2,370.9 36.6,371.0 37.0,371.1 37.4,371.2 37.8,371.3 38.2,371.4 38.6,371.5 39.0,371.6 39.4,371.6 39.8,371.7 40.2,371.8 40.6,371.9 41.0,372.1 41.4,372.2 41.8,372.3 42.2,372.4 42.6,372.5 43.0,372.6 43.4,372.7 43.8,372.8 44.2,372.9 44.6,373.0 45.0,373.1 45.4,373.2 45.8,373.3 46.2,373.5 46.6,373.6 47.0,373.7 47.4,373.8 47.8,373.9 48.2,374.0 48.6,374.1 49.0,374.3 49.4,374.4 49.8,374.5 50.2,374.6 50.6,374.8 51.0,374.9 51.4,375.0 51.8,375.2 52.2,375.3 52.6,375.4 53.0,375.6 53.4,375.7 53.8,375.9 54.2,376.0 54.6,376.1 55.0,376.3 55.4,376.4 55.8,376.6 56.2,376.8 56.6,376.9 57.0,377.1 57.4,377.2 57.8,377.4 58.2,377.6 58.6,377.8 59.0,378.0 59.4,378.2 59.8,378.4 60.2,378.6 60.6,378.9 61.0,379.1 61.4,379.3 61.8,379.6 62.2,379.9 62.6,380.1 63.0,380.4 63.4,380.7 63.8,381.0 64.2,381.3 64.6,381.6 65.0,381.9 65.4,382.3 65.8,382.6 66.2,383.0 66.6,383.3 67.0,383.7 67.4,384.1 67.8,384.5 68.2,385.0 68.6,385.4 69.0,385.9 69.4,386.4 69.8,386.9 70.2,387.5 70.6,388.0 71.0,388.6 71.4,389.2 71.8,389.8 72.2,390.4 72.6,391.1 73.0,391.8 73.4,392.6 73.8,393.4 74.2,394.2 74.6,395.1 75.0,396.1 75.4,397.1 75.8,398.2 76.2,399.4 76.6,400.6 77.0,401.9 77.4,403.4 77.8,405.2 78.2,407.3 78.6,410.6 79.0,414.9 79.4,419.2 79.8,422.5 80.2,426.0 80.6,429.2 81.0,431.4 81.4,432.2 81.8,432.1 82.2,431.9 82.6,431.6 83.0,431.0 83.4,429.2 83.8,426.5 84.2,423.8 84.6,421.0 85.0,417.8 85.4,414.5 85.8,411.3 86.2,408.5 86.6,406.0 87.0,403.6 87.4,401.4 87.8,399.4 88.2,397.6 88.6,396.1 89.0,394.6 89.4,393.3 89.8,392.1 90.2,390.9 90.6,389.9 91.0,389.0 91.4,388.2 91.8,387.5 92.2,386.8 92.6,386.2 93.0,385.6 93.4,385.0 93.8,384.5 94.2,384.0 94.6,383.5 95.0,383.1 95.4,382.7 95.8,382.4 96.2,382.0 96.6,381.7 97.0,381.4 97.4,381.1 97.8,380.9 98.2,380.6 98.6,380.4 99.0,380.1 99.4,379.9 99.8,379.7 100.2,379.5 100.6,379.3 101.0,379.1 101.4,378.9 101.8,378.7 102.2,378.5 102.6,378.3 103.0,378.1 103.4,377.9 103.8,377.7 104.2,377.5 104.6,377.3 105.0,377.1 105.4,377.0 105.8,376.8 106.2,376.6 106.6,376.4 107.0,376.3 107.4,376.1 107.8,375.9 108.2,375.8 108.6,375.6 109.0,375.5 109.4,375.3 109.8,375.2 110.2,375.0 110.6,374.9 111.0,374.7 111.4,374.6 111.8,374.5 112.2,374.4 112.6,374.2 113.0,374.1 113.4,374.0 113.8,373.9 114.2,373.8 114.6,373.6 115.0,373.5 115.4,373.4 115.8,373.3 116.2,373.2 116.6,373.1 117.0,373.0 117.4,372.9 117.8,372.8 118.2,372.7 118.6,372.6 119.0,372.5 119.4,372.4 119.8,372.3 120.2,372.2 120.6,372.1 121.0,372.0 121.4,372.0 121.8,371.9 122.2,371.8 122.6,371.7 123.0,371.7 123.4,371.6" stroke="#111" stroke-width="1.25" fill="none" stroke-linejoin="round" />
</g>
<rect x="29.4" y="365.3" width="100" height="73.5" stroke="#222" stroke-width="1.1" fill="none" />
<path d="M34.2 365.3L34.2 368.3M34.2 438.8L34.2 435.8M43.24 365.3L43.24 368.3M43.24 438.8L43.24 435.8M52.28 365.3L52.28 368.3M52.28 438.8L52.28 435.8M61.32 365.3L61.32 368.3M61.32 438.8L61.32 435.8M70.36 365.3L70.36 368.3M70.36 438.8L70.36 435.8M79.4 365.3L79.4 368.3M79.4 438.8L79.4 435.8M88.44 365.3L88.44 368.3M88.44 438.8L88.44 435.8M97.48 365.3L97.48 368.3M97.48 438.8L97.48 435.8M106.52 365.3L106.52 368.3M106.52 438.8L106.52 435.8M115.56 365.3L115.56 368.3M115.56 438.8L115.56 435.8M124.6 365.3L124.6 368.3M124.6 438.8L124.6 435.8" stroke="#333" stroke-width="0.6"/>
<path d="M29.68 365.3L29.68 367.3M29.68 438.8L29.68 436.8M38.72 365.3L38.72 367.3M38.72 438.8L38.72 436.8M47.76 365.3L47.76 367.3M47.76 438.8L47.76 436.8M56.8 365.3L56.8 367.3M56.8 438.8L56.8 436.8M65.84 365.3L65.84 367.3M65.84 438.8L65.84 436.8M74.88 365.3L74.88 367.3M74.88 438.8L74.88 436.8M83.92 365.3L83.92 367.3M83.92 438.8L83.92 436.8M92.96 365.3L92.96 367.3M92.96 438.8L92.96 436.8M102 365.3L102 367.3M102 438.8L102 436.8M111.04 365.3L111.04 367.3M111.04 438.8L111.04 436.8M120.08 365.3L120.08 367.3M120.08 438.8L120.08 436.8M129.12 365.3L129.12 367.3M129.12 438.8L129.12 436.8" stroke="#333" stroke-width="0.5"/>
<path d="M29.4 370.1L33.4 370.1M129.4 370.1L125.4 370.1M29.4 400.3L33.4 400.3M129.4 400.3L125.4 400.3M29.4 430.5L33.4 430.5M129.4 430.5L125.4 430.5" stroke="#333" stroke-width="0.75"/>
<path d="M29.4 376.14L31.6 376.14M129.4 376.14L127.2 376.14M29.4 382.18L31.6 382.18M129.4 382.18L127.2 382.18M29.4 388.22L31.6 388.22M129.4 388.22L127.2 388.22M29.4 394.26L31.6 394.26M129.4 394.26L127.2 394.26M29.4 406.34L31.6 406.34M129.4 406.34L127.2 406.34M29.4 412.38L31.6 412.38M129.4 412.38L127.2 412.38M29.4 418.42L31.6 418.42M129.4 418.42L127.2 418.42M29.4 424.46L31.6 424.46M129.4 424.46L127.2 424.46M29.4 436.54L31.6 436.54M129.4 436.54L127.2 436.54" stroke="#333" stroke-width="0.6"/>
<text x="26.8" y="372.8" font-size="7.9" text-anchor="end" fill="#222" stroke="#222" stroke-width="0.18" >0</text>
<text x="26.8" y="403" font-size="7.9" text-anchor="end" fill="#222" stroke="#222" stroke-width="0.18" >1</text>
<text x="26.8" y="433.2" font-size="7.9" text-anchor="end" fill="#222" stroke="#222" stroke-width="0.18" >2</text>
<text x="33.7" y="433.6" font-size="7.7" text-anchor="start" fill="#222" stroke="#222" stroke-width="0.18" textLength="39.4" lengthAdjust="spacingAndGlyphs">0.49 wt% Fe</text>
<text x="8.4" y="402.35" font-size="7.9" text-anchor="middle" fill="#222" stroke="#222" stroke-width="0.18" transform="rotate(-90 8.4 402.35)" textLength="26.6" lengthAdjust="spacingAndGlyphs">Abs / %</text>
<g clip-path="url(#cd5)">
<polygon points="161.6,368.6 161.6,372.0 161.8,372.0 162.7,372.1 163.5,372.2 164.4,372.4 165.2,372.5 166.0,372.6 166.9,372.8 167.7,372.9 168.5,373.1 169.3,373.3 170.1,373.4 170.9,373.6 171.7,373.8 172.5,374.0 173.2,374.2 174.0,374.4 174.8,374.6 175.5,374.8 176.3,375.1 177.0,375.3 177.7,375.6 178.4,375.8 179.2,376.1 179.9,376.4 180.6,376.7 181.3,377.0 182.0,377.3 182.6,377.6 183.3,378.0 184.0,378.3 184.6,378.7 185.3,379.0 185.9,379.4 186.5,379.8 187.2,380.2 187.8,380.6 188.4,381.0 189.0,381.4 189.6,381.8 190.2,382.3 190.7,382.7 191.3,383.1 191.9,383.6 192.4,384.0 193.0,384.4 193.5,384.9 194.0,385.3 194.5,385.7 195.0,386.1 195.5,386.5 196.0,386.9 196.5,387.3 197.0,387.7 197.4,388.0 197.9,388.3 198.3,388.7 198.7,388.9 199.2,389.2 199.6,389.5 200.0,389.7 200.3,389.9 200.7,390.1 201.1,390.3 201.4,390.5 201.8,390.6 202.1,390.7 202.4,390.8 202.7,390.9 203.0,391.0 203.3,391.1 203.5,391.1 203.8,391.1 204.0,391.2 204.2,391.2 204.4,391.2 204.6,391.2 204.8,391.2 204.9,391.2 205.0,391.2 205.1,391.2 205.2,391.2 205.2,391.2 205.3,391.2 205.4,391.2 205.5,391.2 205.6,391.2 205.8,391.1 206.0,391.1 206.2,391.1 206.4,391.0 206.6,391.0 206.9,390.9 207.1,390.8 207.4,390.7 207.7,390.6 208.0,390.5 208.3,390.4 208.6,390.2 209.0,390.0 209.3,389.8 209.7,389.6 210.1,389.4 210.5,389.2 210.9,388.9 211.3,388.6 211.7,388.3 212.1,388.0 212.5,387.7 213.0,387.3 213.4,387.0 213.9,386.6 214.4,386.2 214.9,385.8 215.4,385.4 215.9,385.0 216.4,384.6 216.9,384.1 217.5,383.7 218.0,383.3 218.5,382.9 219.1,382.5 219.7,382.0 220.2,381.6 220.8,381.2 221.4,380.8 222.0,380.4 222.6,380.0 223.2,379.6 223.9,379.3 224.5,378.9 225.1,378.5 225.8,378.2 226.4,377.8 227.1,377.5 227.8,377.2 228.5,376.9 229.1,376.6 229.8,376.3 230.5,376.0 231.3,375.8 232.0,375.5 232.7,375.3 233.4,375.0 234.2,374.8 234.9,374.6 235.7,374.3 236.4,374.1 237.2,373.9 238.0,373.8 238.7,373.6 239.5,373.4 240.3,373.2 241.1,373.1 241.9,372.9 242.7,372.8 243.6,372.6 244.0,372.5 244.0,368.6" fill="#ebc774" stroke="#ebc774" stroke-width="0.5" stroke-linejoin="round"/>
<polygon points="161.6,368.6 161.6,368.7 161.8,368.7 162.7,368.7 163.5,368.7 164.4,368.7 165.2,368.7 166.0,368.7 166.9,368.7 167.7,368.7 168.5,368.7 169.3,368.7 170.1,368.7 170.9,368.7 171.7,368.7 172.5,368.7 173.2,368.7 174.0,368.7 174.8,368.7 175.5,368.7 176.3,368.7 177.0,368.7 177.7,368.7 178.4,368.8 179.2,368.8 179.9,368.8 180.6,368.8 181.3,368.8 182.0,368.8 182.6,368.8 183.3,368.8 184.0,368.8 184.6,368.9 185.3,368.9 185.9,368.9 186.5,368.9 187.2,368.9 187.8,369.0 188.4,369.0 189.0,369.0 189.6,369.1 190.2,369.1 190.7,369.1 191.3,369.2 191.9,369.2 192.4,369.3 193.0,369.4 193.5,369.4 194.0,369.5 194.5,369.6 195.0,369.7 195.5,369.8 196.0,370.0 196.5,370.1 197.0,370.3 197.4,370.5 197.9,370.8 198.3,371.1 198.7,371.4 199.2,371.9 199.6,372.4 200.0,373.1 200.3,373.9 200.7,374.9 201.1,376.1 201.4,377.7 201.8,379.8 202.1,382.4 202.4,385.6 202.7,389.5 203.0,394.0 203.3,398.5 203.5,402.2 203.8,404.5 204.0,405.0 204.2,404.2 204.4,402.8 204.6,401.3 204.8,400.2 204.9,399.4 205.0,399.0 205.1,398.8 205.2,398.8 205.2,398.8 205.3,398.8 205.4,399.0 205.5,399.4 205.6,400.2 205.8,401.3 206.0,402.8 206.2,404.2 206.4,405.0 206.6,404.5 206.9,402.2 207.1,398.5 207.4,394.0 207.7,389.5 208.0,385.6 208.3,382.4 208.6,379.8 209.0,377.7 209.3,376.1 209.7,374.9 210.1,373.9 210.5,373.1 210.9,372.4 211.3,371.9 211.7,371.4 212.1,371.1 212.5,370.8 213.0,370.5 213.4,370.3 213.9,370.1 214.4,370.0 214.9,369.8 215.4,369.7 215.9,369.6 216.4,369.5 216.9,369.4 217.5,369.4 218.0,369.3 218.5,369.2 219.1,369.2 219.7,369.1 220.2,369.1 220.8,369.1 221.4,369.0 222.0,369.0 222.6,369.0 223.2,368.9 223.9,368.9 224.5,368.9 225.1,368.9 225.8,368.9 226.4,368.8 227.1,368.8 227.8,368.8 228.5,368.8 229.1,368.8 229.8,368.8 230.5,368.8 231.3,368.8 232.0,368.8 232.7,368.7 233.4,368.7 234.2,368.7 234.9,368.7 235.7,368.7 236.4,368.7 237.2,368.7 238.0,368.7 238.7,368.7 239.5,368.7 240.3,368.7 241.1,368.7 241.9,368.7 242.7,368.7 243.6,368.7 244.0,368.7 244.0,368.6" fill="#a9b5b5" stroke="#a9b5b5" stroke-width="0.5" stroke-linejoin="round"/>
<polygon points="161.6,368.6 161.6,368.7 161.8,368.7 162.7,368.7 163.5,368.7 164.4,368.7 165.2,368.7 166.0,368.7 166.9,368.7 167.7,368.7 168.5,368.7 169.3,368.7 170.1,368.7 170.9,368.7 171.7,368.7 172.5,368.7 173.2,368.7 174.0,368.7 174.8,368.7 175.5,368.7 176.3,368.7 177.0,368.7 177.7,368.7 178.4,368.7 179.2,368.8 179.9,368.8 180.6,368.8 181.3,368.8 182.0,368.8 182.6,368.8 183.3,368.8 184.0,368.8 184.6,368.8 185.3,368.9 185.9,368.9 186.5,368.9 187.2,368.9 187.8,369.0 188.4,369.0 189.0,369.0 189.6,369.0 190.2,369.1 190.7,369.1 191.3,369.2 191.9,369.2 192.4,369.3 193.0,369.3 193.5,369.4 194.0,369.5 194.5,369.5 195.0,369.6 195.5,369.7 196.0,369.9 196.5,370.0 197.0,370.2 197.4,370.4 197.9,370.6 198.3,370.8 198.7,371.1 199.2,371.5 199.6,371.9 200.0,372.4 200.3,373.0 200.7,373.6 201.1,374.5 201.4,375.4 201.8,376.6 202.1,377.9 202.4,379.4 202.7,381.2 203.0,383.2 203.3,385.3 203.5,387.5 203.8,389.6 204.0,391.4 204.2,392.9 204.4,393.9 204.6,394.4 204.8,394.6 204.9,394.4 205.0,394.0 205.1,393.7 205.2,393.4 205.2,393.2 205.3,392.9 205.4,392.3 205.5,391.4 205.6,390.3 205.8,388.9 206.0,387.4 206.2,385.7 206.4,384.0 206.6,382.3 206.9,380.7 207.1,379.2 207.4,377.9 207.7,376.7 208.0,375.7 208.3,374.8 208.6,374.0 209.0,373.3 209.3,372.7 209.7,372.2 210.1,371.8 210.5,371.4 210.9,371.1 211.3,370.8 211.7,370.6 212.1,370.4 212.5,370.2 213.0,370.0 213.4,369.9 213.9,369.8 214.4,369.7 214.9,369.6 215.4,369.5 215.9,369.4 216.4,369.3 216.9,369.3 217.5,369.2 218.0,369.2 218.5,369.1 219.1,369.1 219.7,369.1 220.2,369.0 220.8,369.0 221.4,369.0 222.0,368.9 222.6,368.9 223.2,368.9 223.9,368.9 224.5,368.9 225.1,368.8 225.8,368.8 226.4,368.8 227.1,368.8 227.8,368.8 228.5,368.8 229.1,368.8 229.8,368.8 230.5,368.8 231.3,368.7 232.0,368.7 232.7,368.7 233.4,368.7 234.2,368.7 234.9,368.7 235.7,368.7 236.4,368.7 237.2,368.7 238.0,368.7 238.7,368.7 239.5,368.7 240.3,368.7 241.1,368.7 241.9,368.7 242.7,368.7 243.6,368.7 244.0,368.7 244.0,368.6" fill="#5f6c6c" stroke="#5f6c6c" stroke-width="0.5" stroke-linejoin="round"/>
<polygon points="161.6,368.6 161.6,368.7 161.8,368.7 162.7,368.7 163.5,368.7 164.4,368.7 165.2,368.7 166.0,368.7 166.9,368.7 167.7,368.8 168.5,368.8 169.3,368.8 170.1,368.8 170.9,368.8 171.7,368.8 172.5,368.8 173.2,368.8 174.0,368.8 174.8,368.8 175.5,368.9 176.3,368.9 177.0,368.9 177.7,368.9 178.4,368.9 179.2,368.9 179.9,369.0 180.6,369.0 181.3,369.0 182.0,369.1 182.6,369.1 183.3,369.1 184.0,369.2 184.6,369.2 185.3,369.3 185.9,369.3 186.5,369.4 187.2,369.4 187.8,369.5 188.4,369.6 189.0,369.7 189.6,369.8 190.2,370.0 190.7,370.1 191.3,370.3 191.9,370.5 192.4,370.8 193.0,371.0 193.5,371.4 194.0,371.8 194.5,372.2 195.0,372.8 195.5,373.4 196.0,374.1 196.5,374.9 197.0,375.8 197.4,376.6 197.9,377.3 198.3,377.8 198.7,378.1 199.2,378.1 199.6,377.9 200.0,377.5 200.3,376.9 200.7,376.3 201.1,375.8 201.4,375.3 201.8,374.8 202.1,374.4 202.4,374.1 202.7,373.8 203.0,373.6 203.3,373.4 203.5,373.2 203.8,373.1 204.0,373.1 204.2,373.0 204.4,373.0 204.6,372.9 204.8,372.9 204.9,373.0 205.0,373.0 205.1,373.0 205.2,373.0 205.2,373.0 205.3,373.0 205.4,373.0 205.5,373.1 205.6,373.1 205.8,373.2 206.0,373.2 206.2,373.3 206.4,373.5 206.6,373.6 206.9,373.9 207.1,374.1 207.4,374.4 207.7,374.7 208.0,375.1 208.3,375.6 208.6,376.1 209.0,376.6 209.3,377.2 209.7,377.6 210.1,378.0 210.5,378.1 210.9,378.1 211.3,377.8 211.7,377.2 212.1,376.5 212.5,375.8 213.0,375.0 213.4,374.2 213.9,373.5 214.4,372.9 214.9,372.3 215.4,371.9 215.9,371.5 216.4,371.1 216.9,370.8 217.5,370.6 218.0,370.4 218.5,370.2 219.1,370.0 219.7,369.9 220.2,369.8 220.8,369.7 221.4,369.6 222.0,369.5 222.6,369.4 223.2,369.3 223.9,369.3 224.5,369.2 225.1,369.2 225.8,369.1 226.4,369.1 227.1,369.1 227.8,369.0 228.5,369.0 229.1,369.0 229.8,369.0 230.5,368.9 231.3,368.9 232.0,368.9 232.7,368.9 233.4,368.9 234.2,368.9 234.9,368.8 235.7,368.8 236.4,368.8 237.2,368.8 238.0,368.8 238.7,368.8 239.5,368.8 240.3,368.8 241.1,368.8 241.9,368.8 242.7,368.7 243.6,368.7 244.0,368.7 244.0,368.6" fill="#88f01c" stroke="#88f01c" stroke-width="0.5" stroke-linejoin="round"/>
<polygon points="161.6,368.6 161.6,368.6 161.8,368.6 162.7,368.7 163.5,368.7 164.4,368.7 165.2,368.7 166.0,368.7 166.9,368.7 167.7,368.7 168.5,368.7 169.3,368.7 170.1,368.7 170.9,368.7 171.7,368.7 172.5,368.7 173.2,368.7 174.0,368.7 174.8,368.7 175.5,368.8 176.3,368.8 177.0,368.8 177.7,368.8 178.4,368.8 179.2,368.8 179.9,368.9 180.6,368.9 181.3,368.9 182.0,369.0 182.6,369.0 183.3,369.1 184.0,369.2 184.6,369.3 185.3,369.4 185.9,369.6 186.5,369.7 187.2,370.0 187.8,370.3 188.4,370.7 189.0,371.2 189.6,371.7 190.2,372.2 190.7,372.6 191.3,372.7 191.9,372.5 192.4,372.1 193.0,371.6 193.5,371.1 194.0,370.7 194.5,370.4 195.0,370.1 195.5,369.9 196.0,369.7 196.5,369.6 197.0,369.5 197.4,369.4 197.9,369.3 198.3,369.3 198.7,369.2 199.2,369.2 199.6,369.1 200.0,369.1 200.3,369.1 200.7,369.1 201.1,369.1 201.4,369.0 201.8,369.0 202.1,369.0 202.4,369.0 202.7,369.0 203.0,369.0 203.3,369.0 203.5,369.0 203.8,369.0 204.0,369.0 204.2,369.0 204.4,369.0 204.6,369.0 204.8,369.0 204.9,369.0 205.0,369.0 205.1,369.0 205.2,369.0 205.2,369.0 205.3,369.0 205.4,369.0 205.5,369.0 205.6,369.0 205.8,369.0 206.0,369.0 206.2,369.0 206.4,369.0 206.6,369.1 206.9,369.1 207.1,369.1 207.4,369.1 207.7,369.1 208.0,369.1 208.3,369.2 208.6,369.2 209.0,369.2 209.3,369.3 209.7,369.3 210.1,369.4 210.5,369.4 210.9,369.5 211.3,369.6 211.7,369.7 212.1,369.9 212.5,370.1 213.0,370.3 213.4,370.6 213.9,370.9 214.4,371.3 214.9,371.7 215.4,372.2 215.9,372.5 216.4,372.7 216.9,372.6 217.5,372.3 218.0,371.8 218.5,371.3 219.1,370.8 219.7,370.5 220.2,370.1 220.8,369.9 221.4,369.7 222.0,369.5 222.6,369.4 223.2,369.3 223.9,369.2 224.5,369.1 225.1,369.0 225.8,369.0 226.4,368.9 227.1,368.9 227.8,368.9 228.5,368.8 229.1,368.8 229.8,368.8 230.5,368.8 231.3,368.8 232.0,368.8 232.7,368.7 233.4,368.7 234.2,368.7 234.9,368.7 235.7,368.7 236.4,368.7 237.2,368.7 238.0,368.7 238.7,368.7 239.5,368.7 240.3,368.7 241.1,368.7 241.9,368.7 242.7,368.7 243.6,368.7 244.0,368.7 244.0,368.6" fill="#4f78f0" stroke="#4f78f0" stroke-width="0.5" stroke-linejoin="round"/>
<polygon points="161.6,368.6 161.6,368.6 161.8,368.6 162.7,368.6 163.5,368.6 164.4,368.6 165.2,368.6 166.0,368.6 166.9,368.6 167.7,368.6 168.5,368.6 169.3,368.6 170.1,368.6 170.9,368.6 171.7,368.6 172.5,368.6 173.2,368.6 174.0,368.6 174.8,368.7 175.5,368.7 176.3,368.7 177.0,368.7 177.7,368.7 178.4,368.7 179.2,368.7 179.9,368.7 180.6,368.7 181.3,368.7 182.0,368.7 182.6,368.7 183.3,368.8 184.0,368.8 184.6,368.8 185.3,368.8 185.9,368.9 186.5,368.9 187.2,369.0 187.8,369.0 188.4,369.1 189.0,369.2 189.6,369.3 190.2,369.5 190.7,369.7 191.3,369.9 191.9,370.2 192.4,370.5 193.0,370.7 193.5,370.8 194.0,370.7 194.5,370.5 195.0,370.3 195.5,370.0 196.0,369.8 196.5,369.6 197.0,369.4 197.4,369.3 197.9,369.2 198.3,369.2 198.7,369.1 199.2,369.0 199.6,369.0 200.0,369.0 200.3,368.9 200.7,368.9 201.1,368.9 201.4,368.9 201.8,368.9 202.1,368.8 202.4,368.8 202.7,368.8 203.0,368.8 203.3,368.8 203.5,368.8 203.8,368.8 204.0,368.8 204.2,368.8 204.4,368.8 204.6,368.8 204.8,368.8 204.9,368.8 205.0,368.8 205.1,368.8 205.2,368.8 205.2,368.8 205.3,368.8 205.4,368.8 205.5,368.8 205.6,368.8 205.8,368.8 206.0,368.8 206.2,368.8 206.4,368.8 206.6,368.8 206.9,368.8 207.1,368.8 207.4,368.8 207.7,368.8 208.0,368.8 208.3,368.8 208.6,368.8 209.0,368.8 209.3,368.8 209.7,368.8 210.1,368.8 210.5,368.8 210.9,368.8 211.3,368.8 211.7,368.8 212.1,368.8 212.5,368.9 213.0,368.9 213.4,368.9 213.9,368.9 214.4,369.0 214.9,369.0 215.4,369.1 215.9,369.2 216.4,369.3 216.9,369.4 217.5,369.6 218.0,369.8 218.5,370.0 219.1,370.3 219.7,370.6 220.2,370.8 220.8,370.8 221.4,370.6 222.0,370.3 222.6,370.0 223.2,369.7 223.9,369.5 224.5,369.3 225.1,369.2 225.8,369.1 226.4,369.0 227.1,368.9 227.8,368.9 228.5,368.8 229.1,368.8 229.8,368.8 230.5,368.8 231.3,368.7 232.0,368.7 232.7,368.7 233.4,368.7 234.2,368.7 234.9,368.7 235.7,368.7 236.4,368.7 237.2,368.7 238.0,368.7 238.7,368.7 239.5,368.7 240.3,368.6 241.1,368.6 241.9,368.6 242.7,368.6 243.6,368.6 244.0,368.6 244.0,368.6" fill="#fb33f5" stroke="#fb33f5" stroke-width="1.6" stroke-linejoin="round"/>
<path d="M161.6 369.1h0M162.3 369.7h0M163.1 370.5h0M163.9 368.5h0M164.6 370.6h0M165.4 372.1h0M166.2 369.3h0M166.9 369.7h0M167.7 368.8h0M168.5 371.4h0M169.2 372.4h0M170.0 372.6h0M170.8 373.0h0M171.5 374.0h0M172.3 372.8h0M173.1 374.0h0M173.8 372.0h0M174.6 372.5h0M175.4 374.0h0M176.1 373.0h0M176.9 374.9h0M177.7 376.2h0M178.4 375.3h0M179.2 374.3h0M180.0 374.6h0M180.7 377.5h0M181.5 375.3h0M182.3 376.8h0M183.0 376.8h0M183.8 377.6h0M184.6 379.4h0M185.3 378.0h0M186.1 377.5h0M186.9 381.5h0M187.6 380.7h0M188.4 382.0h0M189.2 381.7h0M189.9 383.4h0M190.7 384.8h0M191.5 385.7h0M192.2 384.6h0M193.0 385.5h0M193.8 387.5h0M194.5 388.4h0M195.3 390.1h0M196.1 390.1h0M196.8 389.8h0M197.6 395.1h0M198.4 397.8h0M199.1 400.3h0M199.9 405.4h0M200.7 409.1h0M201.4 412.8h0M202.2 421.2h0M203.0 426.5h0M203.7 433.0h0M204.5 434.7h0M205.3 434.1h0M206.0 433.5h0M206.8 434.5h0M207.6 427.5h0M208.3 421.6h0M209.1 411.0h0M209.9 407.9h0M210.6 403.6h0M211.4 400.5h0M212.2 394.9h0M212.9 390.8h0M213.7 388.1h0M214.5 391.0h0M215.2 385.8h0M216.0 387.6h0M216.8 382.9h0M217.5 384.8h0M218.3 385.0h0M219.1 383.9h0M219.8 382.8h0M220.6 381.2h0M221.4 380.6h0M222.1 382.3h0M222.9 381.1h0M223.7 379.9h0M224.4 379.9h0M225.2 378.1h0M226.0 379.9h0M226.7 379.8h0M227.5 376.8h0M228.3 377.4h0M229.0 378.1h0M229.8 375.5h0M230.6 378.3h0M231.3 377.1h0M232.1 374.5h0M232.9 375.5h0M233.6 375.9h0M234.4 372.0h0M235.2 373.8h0M235.9 372.6h0M236.7 372.1h0M237.5 373.0h0M238.2 371.3h0M239.0 369.9h0M239.8 369.6h0M240.5 371.1h0M241.3 371.7h0M242.1 370.7h0M242.8 370.3h0M243.6 370.3h0" stroke="#222" stroke-width="0.7" stroke-linecap="round" fill="none"/>
<polyline points="161.6,370.1 161.9,370.1 162.3,370.1 162.7,370.2 163.1,370.2 163.4,370.3 163.8,370.3 164.2,370.4 164.6,370.5 164.9,370.6 165.3,370.7 165.7,370.8 166.1,370.9 166.4,371.0 166.8,371.1 167.2,371.2 167.6,371.4 168.0,371.5 168.3,371.7 168.7,371.8 169.1,371.9 169.5,372.1 169.8,372.2 170.2,372.4 170.6,372.5 171.0,372.7 171.3,372.8 171.7,373.0 172.1,373.1 172.5,373.3 172.8,373.4 173.2,373.6 173.6,373.7 174.0,373.8 174.4,374.0 174.7,374.1 175.1,374.2 175.5,374.3 175.9,374.5 176.2,374.6 176.6,374.7 177.0,374.9 177.4,375.0 177.7,375.2 178.1,375.3 178.5,375.5 178.9,375.6 179.2,375.8 179.6,375.9 180.0,376.1 180.4,376.3 180.8,376.5 181.1,376.7 181.5,376.8 181.9,377.0 182.3,377.3 182.6,377.5 183.0,377.7 183.4,377.9 183.8,378.2 184.1,378.4 184.5,378.7 184.9,378.9 185.3,379.2 185.6,379.5 186.0,379.8 186.4,380.0 186.8,380.3 187.1,380.6 187.5,381.0 187.9,381.3 188.3,381.6 188.7,381.9 189.0,382.3 189.4,382.6 189.8,382.9 190.2,383.3 190.5,383.7 190.9,384.1 191.3,384.5 191.7,384.9 192.0,385.3 192.4,385.8 192.8,386.3 193.2,386.8 193.5,387.3 193.9,387.8 194.3,388.4 194.7,389.0 195.1,389.6 195.4,390.3 195.8,391.0 196.2,391.8 196.6,392.6 196.9,393.5 197.3,394.4 197.7,395.5 198.1,396.5 198.4,397.7 198.8,399.0 199.2,400.5 199.6,402.3 199.9,404.4 200.3,406.6 200.7,409.0 201.1,411.5 201.5,414.1 201.8,417.3 202.2,420.9 202.6,424.3 203.0,427.3 203.3,429.7 203.7,432.1 204.1,434.0 204.5,435.0 204.8,434.9 205.2,434.2 205.6,433.7 206.0,433.8 206.3,434.6 206.7,435.1 207.1,433.9 207.5,430.7 207.9,426.7 208.2,423.0 208.6,419.3 209.0,415.4 209.4,411.7 209.7,408.7 210.1,406.2 210.5,403.8 210.9,401.5 211.2,399.4 211.6,397.5 212.0,395.7 212.4,394.1 212.7,392.8 213.1,391.8 213.5,390.9 213.9,390.2 214.3,389.6 214.6,388.9 215.0,388.4 215.4,387.8 215.8,387.4 216.1,386.9 216.5,386.5 216.9,386.1 217.3,385.7 217.6,385.4 218.0,385.0 218.4,384.7 218.8,384.4 219.1,384.0 219.5,383.7 219.9,383.4 220.3,383.1 220.7,382.8 221.0,382.5 221.4,382.2 221.8,381.9 222.2,381.7 222.5,381.4 222.9,381.2 223.3,380.9 223.7,380.7 224.0,380.5 224.4,380.2 224.8,380.0 225.2,379.8 225.5,379.5 225.9,379.3 226.3,379.1 226.7,378.9 227.1,378.6 227.4,378.4 227.8,378.2 228.2,377.9 228.6,377.7 228.9,377.5 229.3,377.2 229.7,377.0 230.1,376.7 230.4,376.5 230.8,376.2 231.2,376.0 231.6,375.8 231.9,375.5 232.3,375.3 232.7,375.1 233.1,374.8 233.5,374.6 233.8,374.4 234.2,374.2 234.6,374.0 235.0,373.8 235.3,373.6 235.7,373.4 236.1,373.2 236.5,373.1 236.8,372.9 237.2,372.8 237.6,372.7 238.0,372.5 238.3,372.4 238.7,372.3 239.1,372.1 239.5,372.0 239.9,371.9 240.2,371.8 240.6,371.7 241.0,371.6 241.4,371.5 241.7,371.4 242.1,371.3 242.5,371.2 242.9,371.1 243.2,371.0 243.6,370.9 244.0,370.8" stroke="#111" stroke-width="1.25" fill="none" stroke-linejoin="round" />
</g>
<rect x="152.2" y="365.6" width="99.3" height="72.6" stroke="#222" stroke-width="1.1" fill="none" />
<path d="M156.5 365.6L156.5 368.6M156.5 438.2L156.5 435.2M165.52 365.6L165.52 368.6M165.52 438.2L165.52 435.2M174.54 365.6L174.54 368.6M174.54 438.2L174.54 435.2M183.56 365.6L183.56 368.6M183.56 438.2L183.56 435.2M192.58 365.6L192.58 368.6M192.58 438.2L192.58 435.2M201.6 365.6L201.6 368.6M201.6 438.2L201.6 435.2M210.62 365.6L210.62 368.6M210.62 438.2L210.62 435.2M219.64 365.6L219.64 368.6M219.64 438.2L219.64 435.2M228.66 365.6L228.66 368.6M228.66 438.2L228.66 435.2M237.68 365.6L237.68 368.6M237.68 438.2L237.68 435.2M246.7 365.6L246.7 368.6M246.7 438.2L246.7 435.2" stroke="#333" stroke-width="0.6"/>
<path d="M151.99 365.6L151.99 367.6M151.99 438.2L151.99 436.2M161.01 365.6L161.01 367.6M161.01 438.2L161.01 436.2M170.03 365.6L170.03 367.6M170.03 438.2L170.03 436.2M179.05 365.6L179.05 367.6M179.05 438.2L179.05 436.2M188.07 365.6L188.07 367.6M188.07 438.2L188.07 436.2M197.09 365.6L197.09 367.6M197.09 438.2L197.09 436.2M206.11 365.6L206.11 367.6M206.11 438.2L206.11 436.2M215.13 365.6L215.13 367.6M215.13 438.2L215.13 436.2M224.15 365.6L224.15 367.6M224.15 438.2L224.15 436.2M233.17 365.6L233.17 367.6M233.17 438.2L233.17 436.2M242.19 365.6L242.19 367.6M242.19 438.2L242.19 436.2M251.21 365.6L251.21 367.6M251.21 438.2L251.21 436.2" stroke="#333" stroke-width="0.5"/>
<path d="M152.2 368.6L156.2 368.6M251.5 368.6L247.5 368.6M152.2 385.35L156.2 385.35M251.5 385.35L247.5 385.35M152.2 402.1L156.2 402.1M251.5 402.1L247.5 402.1M152.2 418.85L156.2 418.85M251.5 418.85L247.5 418.85M152.2 435.6L156.2 435.6M251.5 435.6L247.5 435.6" stroke="#333" stroke-width="0.75"/>
<path d="M152.2 371.95L154.4 371.95M251.5 371.95L249.3 371.95M152.2 375.3L154.4 375.3M251.5 375.3L249.3 375.3M152.2 378.65L154.4 378.65M251.5 378.65L249.3 378.65M152.2 382L154.4 382M251.5 382L249.3 382M152.2 388.7L154.4 388.7M251.5 388.7L249.3 388.7M152.2 392.05L154.4 392.05M251.5 392.05L249.3 392.05M152.2 395.4L154.4 395.4M251.5 395.4L249.3 395.4M152.2 398.75L154.4 398.75M251.5 398.75L249.3 398.75M152.2 405.45L154.4 405.45M251.5 405.45L249.3 405.45M152.2 408.8L154.4 408.8M251.5 408.8L249.3 408.8M152.2 412.15L154.4 412.15M251.5 412.15L249.3 412.15M152.2 415.5L154.4 415.5M251.5 415.5L249.3 415.5M152.2 422.2L154.4 422.2M251.5 422.2L249.3 422.2M152.2 425.55L154.4 425.55M251.5 425.55L249.3 425.55M152.2 428.9L154.4 428.9M251.5 428.9L249.3 428.9M152.2 432.25L154.4 432.25M251.5 432.25L249.3 432.25" stroke="#333" stroke-width="0.6"/>
<text x="149.6" y="371.3" font-size="7.9" text-anchor="end" fill="#222" stroke="#222" stroke-width="0.18" >0</text>
<text x="149.6" y="388.05" font-size="7.9" text-anchor="end" fill="#222" stroke="#222" stroke-width="0.18" >1</text>
<text x="149.6" y="404.8" font-size="7.9" text-anchor="end" fill="#222" stroke="#222" stroke-width="0.18" >2</text>
<text x="149.6" y="421.55" font-size="7.9" text-anchor="end" fill="#222" stroke="#222" stroke-width="0.18" >3</text>
<text x="149.6" y="438.3" font-size="7.9" text-anchor="end" fill="#222" stroke="#222" stroke-width="0.18" >4</text>
<text x="156.5" y="433" font-size="7.7" text-anchor="start" fill="#222" stroke="#222" stroke-width="0.18" textLength="39.4" lengthAdjust="spacingAndGlyphs">0.84 wt% Fe</text>
<g clip-path="url(#cd6)">
<polygon points="35.8,441.6 35.8,442.6 36.0,442.6 36.9,442.6 37.8,442.6 38.6,442.7 39.5,442.7 40.4,442.7 41.2,442.8 42.1,442.8 42.9,442.9 43.8,442.9 44.6,443.0 45.4,443.0 46.2,443.1 47.0,443.1 47.8,443.2 48.6,443.2 49.4,443.3 50.2,443.4 51.0,443.4 51.7,443.5 52.5,443.6 53.3,443.6 54.0,443.7 54.7,443.8 55.5,443.9 56.2,444.0 56.9,444.1 57.6,444.2 58.3,444.3 59.0,444.4 59.7,444.5 60.4,444.6 61.1,444.7 61.7,444.8 62.4,445.0 63.0,445.1 63.7,445.2 64.3,445.4 64.9,445.5 65.6,445.6 66.2,445.8 66.8,445.9 67.4,446.1 67.9,446.3 68.5,446.4 69.1,446.6 69.7,446.7 70.2,446.9 70.7,447.1 71.3,447.2 71.8,447.4 72.3,447.6 72.8,447.7 73.3,447.9 73.8,448.0 74.3,448.2 74.8,448.3 75.2,448.5 75.7,448.6 76.1,448.8 76.5,448.9 76.9,449.0 77.4,449.1 77.8,449.2 78.1,449.3 78.5,449.4 78.9,449.5 79.2,449.6 79.6,449.6 79.9,449.7 80.2,449.7 80.5,449.8 80.8,449.8 81.1,449.8 81.3,449.9 81.6,449.9 81.8,449.9 82.0,449.9 82.2,449.9 82.4,449.9 82.6,450.0 82.7,450.0 82.8,450.0 82.9,450.0 83.0,450.0 83.0,450.0 83.1,450.0 83.2,450.0 83.3,450.0 83.4,450.0 83.6,449.9 83.8,449.9 84.0,449.9 84.2,449.9 84.4,449.9 84.7,449.9 84.9,449.8 85.2,449.8 85.5,449.8 85.8,449.7 86.1,449.7 86.5,449.6 86.8,449.6 87.2,449.5 87.5,449.4 87.9,449.3 88.3,449.2 88.7,449.1 89.1,449.0 89.5,448.9 89.9,448.8 90.4,448.6 90.8,448.5 91.3,448.3 91.7,448.2 92.2,448.0 92.7,447.9 93.2,447.7 93.7,447.6 94.2,447.4 94.8,447.2 95.3,447.1 95.8,446.9 96.4,446.7 96.9,446.6 97.5,446.4 98.1,446.3 98.7,446.1 99.3,445.9 99.9,445.8 100.5,445.6 101.1,445.5 101.7,445.4 102.4,445.2 103.0,445.1 103.6,445.0 104.3,444.8 105.0,444.7 105.6,444.6 106.3,444.5 107.0,444.4 107.7,444.3 108.4,444.2 109.1,444.1 109.8,444.0 110.6,443.9 111.3,443.8 112.0,443.7 112.8,443.6 113.5,443.6 114.3,443.5 115.1,443.4 115.8,443.4 116.6,443.3 117.4,443.2 118.2,443.2 119.0,443.1 119.8,443.1 120.6,443.0 121.4,443.0 122.3,442.9 123.1,442.9 123.4,442.8 123.4,441.6" fill="#ebc774" stroke="#ebc774" stroke-width="0.5" stroke-linejoin="round"/>
<polygon points="35.8,441.6 35.8,441.7 36.0,441.7 36.9,441.7 37.8,441.7 38.6,441.7 39.5,441.7 40.4,441.7 41.2,441.7 42.1,441.7 42.9,441.7 43.8,441.7 44.6,441.7 45.4,441.7 46.2,441.7 47.0,441.7 47.8,441.7 48.6,441.7 49.4,441.7 50.2,441.7 51.0,441.8 51.7,441.8 52.5,441.8 53.3,441.8 54.0,441.8 54.7,441.8 55.5,441.8 56.2,441.8 56.9,441.8 57.6,441.8 58.3,441.9 59.0,441.9 59.7,441.9 60.4,441.9 61.1,441.9 61.7,442.0 62.4,442.0 63.0,442.0 63.7,442.0 64.3,442.1 64.9,442.1 65.6,442.1 66.2,442.2 66.8,442.2 67.4,442.3 67.9,442.3 68.5,442.4 69.1,442.4 69.7,442.5 70.2,442.6 70.7,442.7 71.3,442.8 71.8,442.9 72.3,443.0 72.8,443.2 73.3,443.3 73.8,443.5 74.3,443.8 74.8,444.0 75.2,444.3 75.7,444.7 76.1,445.1 76.5,445.6 76.9,446.2 77.4,446.9 77.8,447.8 78.1,448.9 78.5,450.2 78.9,451.9 79.2,453.9 79.6,456.5 79.9,459.6 80.2,463.4 80.5,467.8 80.8,472.5 81.1,477.0 81.3,480.7 81.6,482.9 81.8,483.7 82.0,483.4 82.2,482.4 82.4,481.4 82.6,480.5 82.7,479.9 82.8,479.5 82.9,479.4 83.0,479.3 83.0,479.3 83.1,479.4 83.2,479.5 83.3,479.9 83.4,480.5 83.6,481.4 83.8,482.4 84.0,483.4 84.2,483.7 84.4,482.9 84.7,480.7 84.9,477.0 85.2,472.5 85.5,467.8 85.8,463.4 86.1,459.6 86.5,456.5 86.8,453.9 87.2,451.9 87.5,450.2 87.9,448.9 88.3,447.8 88.7,446.9 89.1,446.2 89.5,445.6 89.9,445.1 90.4,444.7 90.8,444.3 91.3,444.0 91.7,443.8 92.2,443.5 92.7,443.3 93.2,443.2 93.7,443.0 94.2,442.9 94.8,442.8 95.3,442.7 95.8,442.6 96.4,442.5 96.9,442.4 97.5,442.4 98.1,442.3 98.7,442.3 99.3,442.2 99.9,442.2 100.5,442.1 101.1,442.1 101.7,442.1 102.4,442.0 103.0,442.0 103.6,442.0 104.3,442.0 105.0,441.9 105.6,441.9 106.3,441.9 107.0,441.9 107.7,441.9 108.4,441.8 109.1,441.8 109.8,441.8 110.6,441.8 111.3,441.8 112.0,441.8 112.8,441.8 113.5,441.8 114.3,441.8 115.1,441.8 115.8,441.7 116.6,441.7 117.4,441.7 118.2,441.7 119.0,441.7 119.8,441.7 120.6,441.7 121.4,441.7 122.3,441.7 123.1,441.7 123.4,441.7 123.4,441.6" fill="#a9b5b5" stroke="#a9b5b5" stroke-width="0.5" stroke-linejoin="round"/>
<polygon points="35.8,441.6 35.8,441.6 36.0,441.6 36.9,441.6 37.8,441.7 38.6,441.7 39.5,441.7 40.4,441.7 41.2,441.7 42.1,441.7 42.9,441.7 43.8,441.7 44.6,441.7 45.4,441.7 46.2,441.7 47.0,441.7 47.8,441.7 48.6,441.7 49.4,441.7 50.2,441.7 51.0,441.7 51.7,441.7 52.5,441.7 53.3,441.7 54.0,441.7 54.7,441.7 55.5,441.7 56.2,441.7 56.9,441.8 57.6,441.8 58.3,441.8 59.0,441.8 59.7,441.8 60.4,441.8 61.1,441.8 61.7,441.8 62.4,441.9 63.0,441.9 63.7,441.9 64.3,441.9 64.9,441.9 65.6,442.0 66.2,442.0 66.8,442.0 67.4,442.0 67.9,442.1 68.5,442.1 69.1,442.2 69.7,442.2 70.2,442.3 70.7,442.3 71.3,442.4 71.8,442.5 72.3,442.6 72.8,442.7 73.3,442.8 73.8,442.9 74.3,443.1 74.8,443.3 75.2,443.5 75.7,443.7 76.1,444.0 76.5,444.4 76.9,444.7 77.4,445.2 77.8,445.7 78.1,446.4 78.5,447.1 78.9,448.0 79.2,449.0 79.6,450.2 79.9,451.6 80.2,453.0 80.5,454.6 80.8,456.2 81.1,457.8 81.3,459.1 81.6,460.1 81.8,460.8 82.0,461.1 82.2,461.1 82.4,460.8 82.6,460.3 82.7,459.8 82.8,459.2 82.9,458.8 83.0,458.5 83.0,458.4 83.1,458.0 83.2,457.5 83.3,456.9 83.4,456.1 83.6,455.2 83.8,454.2 84.0,453.1 84.2,452.1 84.4,451.1 84.7,450.1 84.9,449.2 85.2,448.3 85.5,447.6 85.8,446.9 86.1,446.3 86.5,445.8 86.8,445.3 87.2,444.9 87.5,444.5 87.9,444.2 88.3,443.9 88.7,443.7 89.1,443.5 89.5,443.3 89.9,443.1 90.4,443.0 90.8,442.8 91.3,442.7 91.7,442.6 92.2,442.5 92.7,442.4 93.2,442.4 93.7,442.3 94.2,442.3 94.8,442.2 95.3,442.2 95.8,442.1 96.4,442.1 96.9,442.0 97.5,442.0 98.1,442.0 98.7,442.0 99.3,441.9 99.9,441.9 100.5,441.9 101.1,441.9 101.7,441.9 102.4,441.8 103.0,441.8 103.6,441.8 104.3,441.8 105.0,441.8 105.6,441.8 106.3,441.8 107.0,441.8 107.7,441.8 108.4,441.7 109.1,441.7 109.8,441.7 110.6,441.7 111.3,441.7 112.0,441.7 112.8,441.7 113.5,441.7 114.3,441.7 115.1,441.7 115.8,441.7 116.6,441.7 117.4,441.7 118.2,441.7 119.0,441.7 119.8,441.7 120.6,441.7 121.4,441.7 122.3,441.7 123.1,441.7 123.4,441.7 123.4,441.6" fill="#5f6c6c" stroke="#5f6c6c" stroke-width="0.5" stroke-linejoin="round"/>
<polygon points="35.8,441.6 35.8,441.6 36.0,441.6 36.9,441.6 37.8,441.6 38.6,441.6 39.5,441.6 40.4,441.6 41.2,441.6 42.1,441.6 42.9,441.6 43.8,441.6 44.6,441.6 45.4,441.6 46.2,441.6 47.0,441.6 47.8,441.7 48.6,441.7 49.4,441.7 50.2,441.7 51.0,441.7 51.7,441.7 52.5,441.7 53.3,441.7 54.0,441.7 54.7,441.7 55.5,441.7 56.2,441.7 56.9,441.7 57.6,441.7 58.3,441.7 59.0,441.7 59.7,441.7 60.4,441.7 61.1,441.7 61.7,441.8 62.4,441.8 63.0,441.8 63.7,441.8 64.3,441.8 64.9,441.8 65.6,441.8 66.2,441.9 66.8,441.9 67.4,441.9 67.9,442.0 68.5,442.0 69.1,442.0 69.7,442.1 70.2,442.1 70.7,442.2 71.3,442.3 71.8,442.4 72.3,442.5 72.8,442.7 73.3,442.8 73.8,443.0 74.3,443.3 74.8,443.6 75.2,443.9 75.7,444.3 76.1,444.7 76.5,445.1 76.9,445.5 77.4,445.8 77.8,445.9 78.1,445.8 78.5,445.6 78.9,445.4 79.2,445.1 79.6,444.8 79.9,444.5 80.2,444.3 80.5,444.1 80.8,443.9 81.1,443.8 81.3,443.6 81.6,443.6 81.8,443.5 82.0,443.4 82.2,443.4 82.4,443.4 82.6,443.4 82.7,443.4 82.8,443.4 82.9,443.4 83.0,443.4 83.0,443.4 83.1,443.4 83.2,443.4 83.3,443.4 83.4,443.4 83.6,443.4 83.8,443.5 84.0,443.5 84.2,443.6 84.4,443.7 84.7,443.8 84.9,443.9 85.2,444.1 85.5,444.2 85.8,444.5 86.1,444.7 86.5,445.0 86.8,445.3 87.2,445.5 87.5,445.7 87.9,445.8 88.3,445.7 88.7,445.4 89.1,445.1 89.5,444.7 89.9,444.3 90.4,443.9 90.8,443.6 91.3,443.3 91.7,443.0 92.2,442.8 92.7,442.7 93.2,442.5 93.7,442.4 94.2,442.3 94.8,442.2 95.3,442.2 95.8,442.1 96.4,442.0 96.9,442.0 97.5,442.0 98.1,441.9 98.7,441.9 99.3,441.9 99.9,441.9 100.5,441.8 101.1,441.8 101.7,441.8 102.4,441.8 103.0,441.8 103.6,441.8 104.3,441.7 105.0,441.7 105.6,441.7 106.3,441.7 107.0,441.7 107.7,441.7 108.4,441.7 109.1,441.7 109.8,441.7 110.6,441.7 111.3,441.7 112.0,441.7 112.8,441.7 113.5,441.7 114.3,441.7 115.1,441.7 115.8,441.7 116.6,441.7 117.4,441.7 118.2,441.6 119.0,441.6 119.8,441.6 120.6,441.6 121.4,441.6 122.3,441.6 123.1,441.6 123.4,441.6 123.4,441.6" fill="#88f01c" stroke="#88f01c" stroke-width="0.5" stroke-linejoin="round"/>
<polygon points="35.8,441.6 35.8,441.6 36.0,441.6 36.9,441.6 37.8,441.6 38.6,441.6 39.5,441.6 40.4,441.6 41.2,441.6 42.1,441.6 42.9,441.6 43.8,441.6 44.6,441.6 45.4,441.6 46.2,441.6 47.0,441.6 47.8,441.6 48.6,441.6 49.4,441.6 50.2,441.6 51.0,441.6 51.7,441.6 52.5,441.6 53.3,441.6 54.0,441.6 54.7,441.6 55.5,441.6 56.2,441.6 56.9,441.6 57.6,441.6 58.3,441.6 59.0,441.6 59.7,441.7 60.4,441.7 61.1,441.7 61.7,441.7 62.4,441.7 63.0,441.7 63.7,441.7 64.3,441.7 64.9,441.8 65.6,441.8 66.2,441.9 66.8,441.9 67.4,442.0 67.9,442.1 68.5,442.2 69.1,442.3 69.7,442.3 70.2,442.3 70.7,442.3 71.3,442.2 71.8,442.1 72.3,442.0 72.8,441.9 73.3,441.9 73.8,441.8 74.3,441.8 74.8,441.8 75.2,441.8 75.7,441.7 76.1,441.7 76.5,441.7 76.9,441.7 77.4,441.7 77.8,441.7 78.1,441.7 78.5,441.7 78.9,441.7 79.2,441.7 79.6,441.7 79.9,441.7 80.2,441.7 80.5,441.7 80.8,441.7 81.1,441.7 81.3,441.7 81.6,441.7 81.8,441.7 82.0,441.7 82.2,441.7 82.4,441.7 82.6,441.7 82.7,441.7 82.8,441.7 82.9,441.7 83.0,441.7 83.0,441.7 83.1,441.7 83.2,441.7 83.3,441.7 83.4,441.7 83.6,441.7 83.8,441.7 84.0,441.7 84.2,441.7 84.4,441.7 84.7,441.7 84.9,441.7 85.2,441.7 85.5,441.7 85.8,441.7 86.1,441.7 86.5,441.7 86.8,441.7 87.2,441.7 87.5,441.7 87.9,441.7 88.3,441.7 88.7,441.7 89.1,441.7 89.5,441.7 89.9,441.7 90.4,441.7 90.8,441.7 91.3,441.7 91.7,441.8 92.2,441.8 92.7,441.8 93.2,441.9 93.7,441.9 94.2,442.0 94.8,442.0 95.3,442.1 95.8,442.2 96.4,442.3 96.9,442.3 97.5,442.3 98.1,442.2 98.7,442.1 99.3,442.0 99.9,442.0 100.5,441.9 101.1,441.8 101.7,441.8 102.4,441.8 103.0,441.7 103.6,441.7 104.3,441.7 105.0,441.7 105.6,441.7 106.3,441.7 107.0,441.7 107.7,441.6 108.4,441.6 109.1,441.6 109.8,441.6 110.6,441.6 111.3,441.6 112.0,441.6 112.8,441.6 113.5,441.6 114.3,441.6 115.1,441.6 115.8,441.6 116.6,441.6 117.4,441.6 118.2,441.6 119.0,441.6 119.8,441.6 120.6,441.6 121.4,441.6 122.3,441.6 123.1,441.6 123.4,441.6 123.4,441.6" fill="#4f78f0" stroke="#4f78f0" stroke-width="0.5" stroke-linejoin="round"/>
<polygon points="35.8,441.6 35.8,441.6 36.0,441.6 36.9,441.6 37.8,441.6 38.6,441.6 39.5,441.6 40.4,441.6 41.2,441.6 42.1,441.6 42.9,441.6 43.8,441.6 44.6,441.6 45.4,441.6 46.2,441.6 47.0,441.6 47.8,441.6 48.6,441.6 49.4,441.6 50.2,441.6 51.0,441.6 51.7,441.6 52.5,441.6 53.3,441.6 54.0,441.6 54.7,441.6 55.5,441.6 56.2,441.6 56.9,441.6 57.6,441.6 58.3,441.6 59.0,441.6 59.7,441.6 60.4,441.6 61.1,441.6 61.7,441.6 62.4,441.6 63.0,441.6 63.7,441.6 64.3,441.6 64.9,441.6 65.6,441.6 66.2,441.6 66.8,441.6 67.4,441.6 67.9,441.6 68.5,441.7 69.1,441.7 69.7,441.7 70.2,441.7 70.7,441.7 71.3,441.7 71.8,441.7 72.3,441.7 72.8,441.7 73.3,441.7 73.8,441.8 74.3,441.8 74.8,441.8 75.2,441.8 75.7,441.9 76.1,441.9 76.5,441.9 76.9,442.0 77.4,442.0 77.8,442.1 78.1,442.1 78.5,442.1 78.9,442.1 79.2,442.1 79.6,442.1 79.9,442.1 80.2,442.1 80.5,442.0 80.8,442.0 81.1,442.0 81.3,442.0 81.6,441.9 81.8,441.9 82.0,441.9 82.2,441.9 82.4,441.9 82.6,441.8 82.7,441.8 82.8,441.8 82.9,441.8 83.0,441.8 83.0,441.8 83.1,441.8 83.2,441.8 83.3,441.8 83.4,441.8 83.6,441.8 83.8,441.8 84.0,441.8 84.2,441.8 84.4,441.8 84.7,441.7 84.9,441.7 85.2,441.7 85.5,441.7 85.8,441.7 86.1,441.7 86.5,441.7 86.8,441.7 87.2,441.7 87.5,441.7 87.9,441.7 88.3,441.7 88.7,441.7 89.1,441.7 89.5,441.7 89.9,441.7 90.4,441.7 90.8,441.7 91.3,441.7 91.7,441.7 92.2,441.7 92.7,441.7 93.2,441.7 93.7,441.8 94.2,441.8 94.8,441.8 95.3,441.8 95.8,441.9 96.4,441.9 96.9,442.0 97.5,442.0 98.1,442.1 98.7,442.1 99.3,442.1 99.9,442.1 100.5,442.1 101.1,442.0 101.7,441.9 102.4,441.9 103.0,441.8 103.6,441.8 104.3,441.8 105.0,441.7 105.6,441.7 106.3,441.7 107.0,441.7 107.7,441.7 108.4,441.7 109.1,441.7 109.8,441.6 110.6,441.6 111.3,441.6 112.0,441.6 112.8,441.6 113.5,441.6 114.3,441.6 115.1,441.6 115.8,441.6 116.6,441.6 117.4,441.6 118.2,441.6 119.0,441.6 119.8,441.6 120.6,441.6 121.4,441.6 122.3,441.6 123.1,441.6 123.4,441.6 123.4,441.6" fill="#fb33f5" stroke="#fb33f5" stroke-width="1.6" stroke-linejoin="round"/>
<path d="M35.8 442.7h0M36.6 442.0h0M37.4 440.9h0M38.1 441.3h0M38.9 442.7h0M39.7 441.1h0M40.4 441.3h0M41.2 441.7h0M42.0 440.8h0M42.7 442.6h0M43.5 439.9h0M44.3 443.2h0M45.0 441.6h0M45.8 440.9h0M46.6 442.3h0M47.4 440.6h0M48.1 442.7h0M48.9 442.9h0M49.7 441.8h0M50.4 442.0h0M51.2 443.3h0M52.0 441.9h0M52.7 442.6h0M53.5 442.9h0M54.3 444.1h0M55.0 442.3h0M55.8 442.9h0M56.6 444.0h0M57.3 440.7h0M58.1 442.9h0M58.9 441.5h0M59.6 441.7h0M60.4 445.2h0M61.2 443.7h0M62.0 445.0h0M62.7 443.6h0M63.5 444.5h0M64.3 443.8h0M65.0 443.9h0M65.8 444.6h0M66.6 445.1h0M67.3 446.7h0M68.1 445.5h0M68.9 446.5h0M69.6 446.4h0M70.4 447.3h0M71.2 446.6h0M71.9 449.6h0M72.7 449.2h0M73.5 450.9h0M74.2 452.2h0M75.0 455.0h0M75.8 456.7h0M76.6 459.2h0M77.3 463.4h0M78.1 468.8h0M78.9 478.3h0M79.6 489.5h0M80.4 500.1h0M81.2 506.2h0M81.9 506.5h0M82.7 504.1h0M83.5 506.3h0M84.2 507.9h0M85.0 499.8h0M85.8 489.6h0M86.5 476.6h0M87.3 470.6h0M88.1 463.6h0M88.8 461.9h0M89.6 455.0h0M90.4 455.2h0M91.2 454.0h0M91.9 451.6h0M92.7 450.1h0M93.5 450.1h0M94.2 448.6h0M95.0 448.2h0M95.8 447.9h0M96.5 446.9h0M97.3 446.8h0M98.1 447.3h0M98.8 445.9h0M99.6 446.0h0M100.4 444.9h0M101.1 446.1h0M101.9 443.9h0M102.7 445.7h0M103.4 441.8h0M104.2 443.5h0M105.0 442.7h0M105.8 444.9h0M106.5 444.1h0M107.3 442.5h0M108.1 443.0h0M108.8 444.6h0M109.6 443.2h0M110.4 443.6h0M111.1 441.6h0M111.9 441.5h0M112.7 443.3h0M113.4 444.7h0M114.2 442.0h0M115.0 442.9h0M115.7 441.5h0M116.5 443.3h0M117.3 441.7h0M118.0 441.6h0M118.8 440.2h0M119.6 441.5h0M120.4 441.9h0M121.1 442.9h0M121.9 440.5h0M122.7 442.4h0" stroke="#222" stroke-width="0.7" stroke-linecap="round" fill="none"/>
<polyline points="35.8,442.1 36.2,442.1 36.6,442.1 37.0,442.1 37.4,442.1 37.8,442.2 38.2,442.2 38.6,442.2 39.0,442.2 39.4,442.2 39.8,442.2 40.2,442.3 40.6,442.3 41.0,442.3 41.4,442.3 41.8,442.3 42.2,442.4 42.6,442.4 43.0,442.4 43.4,442.4 43.8,442.5 44.2,442.5 44.6,442.5 45.0,442.6 45.4,442.6 45.8,442.6 46.2,442.6 46.6,442.7 47.0,442.7 47.4,442.7 47.8,442.8 48.2,442.8 48.6,442.8 49.0,442.9 49.4,442.9 49.8,442.9 50.2,443.0 50.6,443.0 51.0,443.0 51.4,443.1 51.8,443.1 52.2,443.1 52.6,443.2 53.0,443.2 53.4,443.2 53.8,443.3 54.2,443.3 54.6,443.3 55.0,443.4 55.4,443.4 55.8,443.5 56.2,443.5 56.6,443.5 57.0,443.6 57.4,443.6 57.8,443.7 58.2,443.7 58.6,443.8 59.0,443.8 59.4,443.9 59.8,443.9 60.2,444.0 60.6,444.1 61.0,444.1 61.4,444.2 61.8,444.3 62.2,444.3 62.6,444.4 63.0,444.5 63.4,444.6 63.8,444.7 64.2,444.8 64.6,444.9 65.0,445.0 65.4,445.1 65.8,445.3 66.2,445.4 66.6,445.6 67.0,445.8 67.4,446.0 67.8,446.2 68.2,446.4 68.6,446.6 69.0,446.9 69.4,447.1 69.8,447.4 70.2,447.7 70.6,448.0 71.0,448.3 71.4,448.7 71.8,449.1 72.2,449.6 72.6,450.1 73.0,450.7 73.4,451.4 73.8,452.1 74.2,452.9 74.6,453.8 75.0,454.7 75.4,455.7 75.8,457.0 76.2,458.4 76.6,460.2 77.0,462.2 77.4,464.5 77.8,467.1 78.2,470.1 78.6,474.7 79.0,480.9 79.4,487.1 79.8,492.2 80.2,497.5 80.6,502.1 81.0,504.9 81.4,505.9 81.8,506.5 82.2,506.6 82.6,506.0 83.0,505.4 83.4,505.3 83.8,506.0 84.2,506.6 84.6,505.0 85.0,500.4 85.4,495.0 85.8,489.9 86.2,483.9 86.6,477.9 87.0,472.9 87.4,469.7 87.8,466.8 88.2,464.2 88.6,462.0 89.0,460.1 89.4,458.5 89.8,457.2 90.2,456.1 90.6,455.2 91.0,454.3 91.4,453.5 91.8,452.7 92.2,452.1 92.6,451.5 93.0,450.9 93.4,450.5 93.8,450.1 94.2,449.7 94.6,449.4 95.0,449.1 95.4,448.8 95.8,448.5 96.2,448.2 96.6,448.0 97.0,447.8 97.4,447.5 97.8,447.3 98.2,447.1 98.6,446.9 99.0,446.7 99.4,446.5 99.8,446.4 100.2,446.2 100.6,446.1 101.0,445.9 101.4,445.8 101.8,445.7 102.2,445.5 102.6,445.4 103.0,445.3 103.4,445.2 103.8,445.1 104.2,445.0 104.6,444.9 105.0,444.8 105.4,444.7 105.8,444.6 106.2,444.5 106.6,444.4 107.0,444.3 107.4,444.2 107.8,444.2 108.2,444.1 108.6,444.0 109.0,443.9 109.4,443.9 109.8,443.8 110.2,443.7 110.6,443.7 111.0,443.6 111.4,443.6 111.8,443.5 112.2,443.4 112.6,443.4 113.0,443.3 113.4,443.2 113.8,443.2 114.2,443.1 114.6,443.1 115.0,443.0 115.4,443.0 115.8,442.9 116.2,442.9 116.6,442.8 117.0,442.8 117.4,442.7 117.8,442.7 118.2,442.6 118.6,442.6 119.0,442.5 119.4,442.5 119.8,442.4 120.2,442.4 120.6,442.3 121.0,442.3 121.4,442.3 121.8,442.2 122.2,442.2 122.6,442.2 123.0,442.1 123.4,442.1" stroke="#111" stroke-width="1.25" fill="none" stroke-linejoin="round" />
</g>
<rect x="29.4" y="438.8" width="100" height="72.5" stroke="#222" stroke-width="1.1" fill="none" />
<path d="M34.2 438.8L34.2 441.8M34.2 511.3L34.2 508.3M43.24 438.8L43.24 441.8M43.24 511.3L43.24 508.3M52.28 438.8L52.28 441.8M52.28 511.3L52.28 508.3M61.32 438.8L61.32 441.8M61.32 511.3L61.32 508.3M70.36 438.8L70.36 441.8M70.36 511.3L70.36 508.3M79.4 438.8L79.4 441.8M79.4 511.3L79.4 508.3M88.44 438.8L88.44 441.8M88.44 511.3L88.44 508.3M97.48 438.8L97.48 441.8M97.48 511.3L97.48 508.3M106.52 438.8L106.52 441.8M106.52 511.3L106.52 508.3M115.56 438.8L115.56 441.8M115.56 511.3L115.56 508.3M124.6 438.8L124.6 441.8M124.6 511.3L124.6 508.3" stroke="#333" stroke-width="0.6"/>
<path d="M29.68 438.8L29.68 440.8M29.68 511.3L29.68 509.3M38.72 438.8L38.72 440.8M38.72 511.3L38.72 509.3M47.76 438.8L47.76 440.8M47.76 511.3L47.76 509.3M56.8 438.8L56.8 440.8M56.8 511.3L56.8 509.3M65.84 438.8L65.84 440.8M65.84 511.3L65.84 509.3M74.88 438.8L74.88 440.8M74.88 511.3L74.88 509.3M83.92 438.8L83.92 440.8M83.92 511.3L83.92 509.3M92.96 438.8L92.96 440.8M92.96 511.3L92.96 509.3M102 438.8L102 440.8M102 511.3L102 509.3M111.04 438.8L111.04 440.8M111.04 511.3L111.04 509.3M120.08 438.8L120.08 440.8M120.08 511.3L120.08 509.3M129.12 438.8L129.12 440.8M129.12 511.3L129.12 509.3" stroke="#333" stroke-width="0.5"/>
<path d="M29.4 441.6L33.4 441.6M129.4 441.6L125.4 441.6M29.4 472.1L33.4 472.1M129.4 472.1L125.4 472.1M29.4 502.6L33.4 502.6M129.4 502.6L125.4 502.6" stroke="#333" stroke-width="0.75"/>
<path d="M29.4 447.7L31.6 447.7M129.4 447.7L127.2 447.7M29.4 453.8L31.6 453.8M129.4 453.8L127.2 453.8M29.4 459.9L31.6 459.9M129.4 459.9L127.2 459.9M29.4 466L31.6 466M129.4 466L127.2 466M29.4 478.2L31.6 478.2M129.4 478.2L127.2 478.2M29.4 484.3L31.6 484.3M129.4 484.3L127.2 484.3M29.4 490.4L31.6 490.4M129.4 490.4L127.2 490.4M29.4 496.5L31.6 496.5M129.4 496.5L127.2 496.5M29.4 508.7L31.6 508.7M129.4 508.7L127.2 508.7" stroke="#333" stroke-width="0.6"/>
<text x="26.8" y="444.3" font-size="7.9" text-anchor="end" fill="#222" stroke="#222" stroke-width="0.18" >0</text>
<text x="26.8" y="474.8" font-size="7.9" text-anchor="end" fill="#222" stroke="#222" stroke-width="0.18" >5</text>
<text x="26.8" y="505.3" font-size="7.9" text-anchor="end" fill="#222" stroke="#222" stroke-width="0.18" >10</text>
<text x="33.7" y="506.1" font-size="7.7" text-anchor="start" fill="#222" stroke="#222" stroke-width="0.18" textLength="39.4" lengthAdjust="spacingAndGlyphs">1.55 wt% Fe</text>
<text x="8.4" y="475.35" font-size="7.9" text-anchor="middle" fill="#222" stroke="#222" stroke-width="0.18" transform="rotate(-90 8.4 475.35)" textLength="26.6" lengthAdjust="spacingAndGlyphs">Abs / %</text>
<text x="41.74" y="522.4" font-size="7.8" text-anchor="middle" fill="#222" stroke="#222" stroke-width="0.18" >-4</text>
<text x="164.02" y="450" font-size="7.8" text-anchor="middle" fill="#222" stroke="#222" stroke-width="0.18" >-4</text>
<text x="59.82" y="522.4" font-size="7.8" text-anchor="middle" fill="#222" stroke="#222" stroke-width="0.18" >-2</text>
<text x="182.06" y="450" font-size="7.8" text-anchor="middle" fill="#222" stroke="#222" stroke-width="0.18" >-2</text>
<text x="79.4" y="522.4" font-size="7.8" text-anchor="middle" fill="#222" stroke="#222" stroke-width="0.18" >0</text>
<text x="201.6" y="450" font-size="7.8" text-anchor="middle" fill="#222" stroke="#222" stroke-width="0.18" >0</text>
<text x="97.48" y="522.4" font-size="7.8" text-anchor="middle" fill="#222" stroke="#222" stroke-width="0.18" >2</text>
<text x="219.64" y="450" font-size="7.8" text-anchor="middle" fill="#222" stroke="#222" stroke-width="0.18" >2</text>
<text x="115.56" y="522.4" font-size="7.8" text-anchor="middle" fill="#222" stroke="#222" stroke-width="0.18" >4</text>
<text x="237.68" y="450" font-size="7.8" text-anchor="middle" fill="#222" stroke="#222" stroke-width="0.18" >4</text>
<text x="79.5" y="537.4" font-size="7.6" text-anchor="middle" fill="#222" stroke="#222" stroke-width="0.18" >v (α-Fe) / (mm s<tspan font-size="5" dy="-3">-1</tspan><tspan dy="3">)</tspan></text>
<text x="201.5" y="537.4" font-size="7.6" text-anchor="middle" fill="#222" stroke="#222" stroke-width="0.18" >v (α-Fe) / (mm s<tspan font-size="5" dy="-3">-1</tspan><tspan dy="3">)</tspan></text>
<g clip-path="url(#cdz)">
<polygon points="146.7,456.7 146.7,480.6 147.9,481.4 149.3,482.3 150.6,483.3 151.9,484.4 153.2,485.5 154.5,486.6 155.8,487.8 157.0,489.0 158.3,490.3 159.5,491.6 160.8,492.9 162.0,494.3 163.2,495.8 164.3,497.3 165.5,498.8 166.6,500.4 167.8,502.0 168.9,503.7 170.0,505.4 171.1,507.1 172.2,508.9 173.2,510.7 174.3,512.5 175.3,514.4 176.3,516.2 177.3,518.1 178.3,519.9 179.3,521.8 180.2,523.6 181.1,525.4 182.0,527.2 182.9,529.0 183.8,530.7 184.7,532.3 185.5,534.0 186.3,535.5 187.1,537.0 187.9,538.4 188.7,539.7 189.4,541.0 190.2,542.1 190.9,543.2 191.6,544.2 192.2,545.1 192.9,545.9 193.5,546.7 194.1,547.3 194.7,547.9 195.3,548.4 195.8,548.8 196.3,549.2 196.8,549.5 197.2,549.7 197.7,549.9 198.0,550.1 198.4,550.2 198.7,550.3 199.0,550.3 199.3,550.4 199.5,550.4 199.7,550.4 199.8,550.4 199.9,550.4 200.0,550.4 200.1,550.4 200.4,550.4 200.6,550.3 200.9,550.3 201.3,550.2 201.6,550.1 202.0,549.9 202.5,549.7 202.9,549.5 203.4,549.2 203.9,548.8 204.4,548.4 205.0,547.9 205.6,547.3 206.2,546.7 206.8,545.9 207.4,545.1 208.1,544.2 208.8,543.2 209.5,542.1 210.2,541.0 211.0,539.7 211.7,538.4 212.5,537.0 213.3,535.5 214.2,534.0 215.0,532.3 215.9,530.7 216.7,529.0 217.6,527.2 218.6,525.4 219.5,523.6 220.4,521.8 221.4,519.9 222.4,518.1 223.4,516.2 224.4,514.4 225.4,512.5 226.5,510.7 227.5,508.9 228.6,507.1 229.7,505.4 230.8,503.7 231.9,502.0 233.0,500.4 234.2,498.8 235.3,497.3 236.5,495.8 237.7,494.3 238.9,492.9 240.1,491.6 241.4,490.3 242.6,489.0 243.9,487.8 245.2,486.6 246.5,485.5 247.8,484.4 249.1,483.3 250.4,482.3 251.8,481.4 253.1,480.4 254.5,479.6 255.9,478.7 256.3,478.5 256.3,456.7" fill="#ebc774" stroke="#ebc774" stroke-width="0.5" stroke-linejoin="round"/>
<polygon points="146.7,456.7 146.7,458.8 147.9,458.9 149.3,459.1 150.6,459.2 151.9,459.3 153.2,459.5 154.5,459.6 155.8,459.8 157.0,460.0 158.3,460.2 159.5,460.4 160.8,460.6 162.0,460.9 163.2,461.2 164.3,461.5 165.5,461.8 166.6,462.2 167.8,462.6 168.9,463.0 170.0,463.5 171.1,464.0 172.2,464.6 173.2,465.3 174.3,466.0 175.3,466.8 176.3,467.7 177.3,468.7 178.3,469.9 179.3,471.2 180.2,472.6 181.1,474.3 182.0,476.2 182.9,478.4 183.8,480.9 184.7,483.8 185.5,487.2 186.3,491.3 187.1,496.0 187.9,501.6 188.7,508.4 189.4,516.5 190.2,526.4 190.9,538.5 191.6,553.5 192.2,572.0 192.9,595.1 193.5,623.8 194.1,659.1 194.7,701.5 195.3,750.5 195.8,803.2 196.3,853.8 196.8,894.8 197.2,920.2 197.7,929.0 198.0,925.1 198.4,914.6 198.7,902.8 199.0,892.8 199.3,885.8 199.5,881.9 199.7,880.2 199.8,879.8 199.9,879.8 200.0,880.2 200.1,881.9 200.4,885.8 200.6,892.8 200.9,902.8 201.3,914.6 201.6,925.1 202.0,929.0 202.5,920.2 202.9,894.8 203.4,853.8 203.9,803.2 204.4,750.5 205.0,701.5 205.6,659.1 206.2,623.8 206.8,595.1 207.4,572.0 208.1,553.5 208.8,538.5 209.5,526.4 210.2,516.5 211.0,508.4 211.7,501.6 212.5,496.0 213.3,491.3 214.2,487.2 215.0,483.8 215.9,480.9 216.7,478.4 217.6,476.2 218.6,474.3 219.5,472.6 220.4,471.2 221.4,469.9 222.4,468.7 223.4,467.7 224.4,466.8 225.4,466.0 226.5,465.3 227.5,464.6 228.6,464.0 229.7,463.5 230.8,463.0 231.9,462.6 233.0,462.2 234.2,461.8 235.3,461.5 236.5,461.2 237.7,460.9 238.9,460.6 240.1,460.4 241.4,460.2 242.6,460.0 243.9,459.8 245.2,459.6 246.5,459.5 247.8,459.3 249.1,459.2 250.4,459.1 251.8,458.9 253.1,458.8 254.5,458.7 255.9,458.6 256.3,458.6 256.3,456.7" fill="#a9b5b5" stroke="#a9b5b5" stroke-width="0.5" stroke-linejoin="round"/>
<polygon points="146.7,456.7 146.7,458.1 147.9,458.2 149.3,458.3 150.6,458.4 151.9,458.4 153.2,458.5 154.5,458.7 155.8,458.8 157.0,458.9 158.3,459.0 159.5,459.2 160.8,459.4 162.0,459.5 163.2,459.7 164.3,459.9 165.5,460.2 166.6,460.4 167.8,460.7 168.9,461.0 170.0,461.3 171.1,461.7 172.2,462.1 173.2,462.6 174.3,463.1 175.3,463.7 176.3,464.3 177.3,465.0 178.3,465.8 179.3,466.7 180.2,467.8 181.1,468.9 182.0,470.3 182.9,471.8 183.8,473.6 184.7,475.6 185.5,477.9 186.3,480.6 187.1,483.8 187.9,487.5 188.7,491.9 189.4,497.0 190.2,503.1 190.9,510.2 191.6,518.7 192.2,528.6 192.9,540.1 193.5,553.4 194.1,568.4 194.7,585.1 195.3,602.8 195.8,620.8 196.3,638.0 196.8,652.9 197.2,664.6 197.7,672.1 198.0,675.4 198.4,674.9 198.7,671.5 199.0,666.4 199.3,660.5 199.5,654.6 199.7,649.6 199.8,646.1 199.9,644.6 200.0,641.0 200.1,635.4 200.4,627.9 200.6,619.0 200.9,608.8 201.3,597.7 201.6,586.1 202.0,574.4 202.5,562.9 202.9,551.9 203.4,541.7 203.9,532.2 204.4,523.7 205.0,516.0 205.6,509.2 206.2,503.2 206.8,498.0 207.4,493.3 208.1,489.3 208.8,485.7 209.5,482.6 210.2,479.9 211.0,477.5 211.7,475.4 212.5,473.6 213.3,472.0 214.2,470.5 215.0,469.3 215.9,468.1 216.7,467.1 217.6,466.2 218.6,465.4 219.5,464.7 220.4,464.1 221.4,463.5 222.4,463.0 223.4,462.5 224.4,462.1 225.4,461.7 226.5,461.3 227.5,461.0 228.6,460.7 229.7,460.4 230.8,460.2 231.9,460.0 233.0,459.8 234.2,459.6 235.3,459.4 236.5,459.2 237.7,459.1 238.9,458.9 240.1,458.8 241.4,458.7 242.6,458.6 243.9,458.5 245.2,458.4 246.5,458.3 247.8,458.2 249.1,458.1 250.4,458.1 251.8,458.0 253.1,457.9 254.5,457.9 255.9,457.8 256.3,457.8 256.3,456.7" fill="#5f6c6c" stroke="#5f6c6c" stroke-width="0.5" stroke-linejoin="round"/>
<polygon points="146.7,456.7 146.7,457.6 147.9,457.6 149.3,457.7 150.6,457.7 151.9,457.8 153.2,457.9 154.5,457.9 155.8,458.0 157.0,458.1 158.3,458.2 159.5,458.3 160.8,458.4 162.0,458.5 163.2,458.7 164.3,458.9 165.5,459.0 166.6,459.2 167.8,459.5 168.9,459.7 170.0,460.0 171.1,460.3 172.2,460.7 173.2,461.1 174.3,461.6 175.3,462.2 176.3,462.8 177.3,463.6 178.3,464.5 179.3,465.6 180.2,466.9 181.1,468.5 182.0,470.4 182.9,472.7 183.8,475.4 184.7,478.7 185.5,482.5 186.3,486.9 187.1,491.6 187.9,496.4 188.7,500.6 189.4,503.5 190.2,504.8 190.9,504.2 191.6,502.1 192.2,499.0 192.9,495.6 193.5,492.3 194.1,489.2 194.7,486.5 195.3,484.2 195.8,482.3 196.3,480.8 196.8,479.6 197.2,478.7 197.7,477.9 198.0,477.4 198.4,477.0 198.7,476.8 199.0,476.6 199.3,476.6 199.5,476.5 199.7,476.5 199.8,476.5 199.9,476.6 200.0,476.6 200.1,476.7 200.4,476.8 200.6,476.9 200.9,477.2 201.3,477.6 201.6,478.2 202.0,478.9 202.5,479.8 202.9,481.0 203.4,482.4 203.9,484.2 204.4,486.3 205.0,488.9 205.6,491.8 206.2,494.9 206.8,498.1 207.4,500.9 208.1,502.9 208.8,503.5 209.5,502.5 210.2,499.8 211.0,495.9 211.7,491.4 212.5,486.9 213.3,482.6 214.2,478.9 215.0,475.6 215.9,472.9 216.7,470.6 217.6,468.7 218.6,467.1 219.5,465.8 220.4,464.7 221.4,463.7 222.4,463.0 223.4,462.3 224.4,461.7 225.4,461.2 226.5,460.8 227.5,460.4 228.6,460.1 229.7,459.8 230.8,459.5 231.9,459.3 233.0,459.1 234.2,458.9 235.3,458.7 236.5,458.6 237.7,458.5 238.9,458.3 240.1,458.2 241.4,458.1 242.6,458.0 243.9,457.9 245.2,457.9 246.5,457.8 247.8,457.7 249.1,457.7 250.4,457.6 251.8,457.6 253.1,457.5 254.5,457.5 255.9,457.4 256.3,457.4 256.3,456.7" fill="#88f01c" stroke="#88f01c" stroke-width="0.5" stroke-linejoin="round"/>
<polygon points="146.7,456.7 146.7,457.0 147.9,457.0 149.3,457.0 150.6,457.0 151.9,457.1 153.2,457.1 154.5,457.2 155.8,457.2 157.0,457.3 158.3,457.4 159.5,457.5 160.8,457.6 162.0,457.7 163.2,457.9 164.3,458.1 165.5,458.3 166.6,458.6 167.8,459.1 168.9,459.6 170.0,460.3 171.1,461.1 172.2,462.2 173.2,463.3 174.3,464.3 175.3,464.9 176.3,464.9 177.3,464.3 178.3,463.3 179.3,462.3 180.2,461.4 181.1,460.6 182.0,460.0 182.9,459.5 183.8,459.1 184.7,458.8 185.5,458.5 186.3,458.3 187.1,458.2 187.9,458.0 188.7,457.9 189.4,457.8 190.2,457.7 190.9,457.7 191.6,457.6 192.2,457.6 192.9,457.5 193.5,457.5 194.1,457.5 194.7,457.4 195.3,457.4 195.8,457.4 196.3,457.4 196.8,457.4 197.2,457.4 197.7,457.4 198.0,457.4 198.4,457.3 198.7,457.3 199.0,457.3 199.3,457.3 199.5,457.3 199.7,457.3 199.8,457.3 199.9,457.3 200.0,457.3 200.1,457.3 200.4,457.3 200.6,457.3 200.9,457.3 201.3,457.3 201.6,457.3 202.0,457.3 202.5,457.3 202.9,457.3 203.4,457.4 203.9,457.4 204.4,457.4 205.0,457.4 205.6,457.4 206.2,457.4 206.8,457.4 207.4,457.5 208.1,457.5 208.8,457.5 209.5,457.6 210.2,457.7 211.0,457.7 211.7,457.8 212.5,457.9 213.3,458.0 214.2,458.2 215.0,458.3 215.9,458.5 216.7,458.8 217.6,459.1 218.6,459.6 219.5,460.1 220.4,460.8 221.4,461.6 222.4,462.6 223.4,463.7 224.4,464.6 225.4,465.0 226.5,464.7 227.5,463.9 228.6,462.8 229.7,461.7 230.8,460.7 231.9,459.9 233.0,459.3 234.2,458.8 235.3,458.4 236.5,458.2 237.7,457.9 238.9,457.8 240.1,457.6 241.4,457.5 242.6,457.4 243.9,457.3 245.2,457.2 246.5,457.2 247.8,457.1 249.1,457.1 250.4,457.1 251.8,457.0 253.1,457.0 254.5,457.0 255.9,456.9 256.3,456.9 256.3,456.7" fill="#4f78f0" stroke="#4f78f0" stroke-width="0.5" stroke-linejoin="round"/>
<polygon points="146.7,456.7 146.7,456.8 147.9,456.8 149.3,456.8 150.6,456.8 151.9,456.9 153.2,456.9 154.5,456.9 155.8,456.9 157.0,456.9 158.3,456.9 159.5,456.9 160.8,456.9 162.0,457.0 163.2,457.0 164.3,457.0 165.5,457.0 166.6,457.0 167.8,457.1 168.9,457.1 170.0,457.1 171.1,457.2 172.2,457.2 173.2,457.3 174.3,457.3 175.3,457.4 176.3,457.5 177.3,457.6 178.3,457.7 179.3,457.8 180.2,457.9 181.1,458.1 182.0,458.2 182.9,458.4 183.8,458.7 184.7,459.0 185.5,459.3 186.3,459.7 187.1,460.1 187.9,460.6 188.7,461.1 189.4,461.6 190.2,462.1 190.9,462.5 191.6,462.7 192.2,462.9 192.9,462.8 193.5,462.6 194.1,462.4 194.7,462.0 195.3,461.7 195.8,461.3 196.3,461.0 196.8,460.7 197.2,460.4 197.7,460.2 198.0,460.0 198.4,459.8 198.7,459.6 199.0,459.5 199.3,459.4 199.5,459.3 199.7,459.2 199.8,459.2 199.9,459.2 200.0,459.1 200.1,459.1 200.4,459.0 200.6,458.9 200.9,458.8 201.3,458.7 201.6,458.6 202.0,458.6 202.5,458.5 202.9,458.4 203.4,458.3 203.9,458.2 204.4,458.1 205.0,458.1 205.6,458.0 206.2,458.0 206.8,457.9 207.4,457.9 208.1,457.8 208.8,457.8 209.5,457.8 210.2,457.8 211.0,457.8 211.7,457.8 212.5,457.8 213.3,457.8 214.2,457.8 215.0,457.9 215.9,457.9 216.7,458.0 217.6,458.1 218.6,458.3 219.5,458.4 220.4,458.6 221.4,458.9 222.4,459.2 223.4,459.6 224.4,460.2 225.4,460.8 226.5,461.4 227.5,462.1 228.6,462.6 229.7,462.9 230.8,462.7 231.9,462.1 233.0,461.4 234.2,460.6 235.3,459.9 236.5,459.3 237.7,458.9 238.9,458.5 240.1,458.2 241.4,458.0 242.6,457.8 243.9,457.6 245.2,457.5 246.5,457.4 247.8,457.3 249.1,457.3 250.4,457.2 251.8,457.1 253.1,457.1 254.5,457.1 255.9,457.0 256.3,457.0 256.3,456.7" fill="#fb33f5" stroke="#fb33f5" stroke-width="1.6" stroke-linejoin="round"/>
<path d="M146.7 480.6h0M148.1 481.9h0M149.5 482.4h0M151.0 483.0h0M152.4 485.3h0M153.8 491.0h0M155.2 489.6h0M156.6 492.8h0M158.0 497.1h0M159.4 495.1h0M160.8 500.4h0M162.2 501.1h0M163.7 503.9h0M165.1 506.9h0M166.5 507.8h0M167.9 510.2h0M169.3 514.0h0M170.7 516.7h0M172.1 518.1h0M173.5 522.7h0M174.9 526.1h0M176.4 539.4h0M177.8 554.2h0M179.2 581.2h0M180.6 614.3h0M182.0 649.1h0M183.4 687.6h0M184.8 729.6h0M186.2 774.0h0M187.6 820.9h0M189.0 864.5h0M190.5 906.8h0M191.9 950.3h0M193.3 982.2h0M194.7 1014.2h0M196.1 1040.0h0M197.5 1059.4h0M198.9 1070.0h0M200.3 1070.7h0M201.7 1064.0h0M203.2 1047.2h0M204.6 1022.2h0M206.0 989.2h0M207.4 958.1h0M208.8 916.4h0M210.2 874.4h0M211.6 830.8h0M213.0 784.3h0M214.4 740.1h0M215.9 698.0h0M217.3 656.6h0M218.7 620.3h0M220.1 586.4h0M221.5 560.6h0M222.9 539.8h0M224.3 529.2h0M225.7 525.2h0M227.1 521.0h0M228.6 516.6h0M230.0 515.8h0M231.4 514.0h0M232.8 513.0h0M234.2 509.1h0M235.6 506.4h0M237.0 503.3h0M238.4 505.4h0M239.8 499.5h0M241.3 497.1h0M242.7 496.1h0M244.1 491.5h0M245.5 492.6h0M246.9 488.7h0M248.3 486.5h0M249.7 482.2h0M251.1 480.8h0M252.5 481.0h0M254.0 479.6h0M255.4 480.9h0" stroke="#777" stroke-width="0.7" stroke-linecap="round" fill="none"/>
<polyline points="146.7,481.7 147.2,482.1 147.7,482.5 148.2,483.0 148.7,483.5 149.2,484.0 149.7,484.5 150.2,485.0 150.7,485.6 151.2,486.2 151.7,486.8 152.2,487.4 152.7,488.1 153.2,488.8 153.7,489.5 154.2,490.3 154.7,491.0 155.2,491.8 155.7,492.6 156.2,493.5 156.7,494.3 157.2,495.1 157.7,495.9 158.2,496.7 158.7,497.4 159.2,498.2 159.7,498.9 160.2,499.6 160.7,500.3 161.2,501.0 161.7,501.7 162.2,502.4 162.7,503.1 163.2,503.8 163.7,504.5 164.2,505.2 164.7,505.9 165.2,506.7 165.7,507.4 166.2,508.2 166.7,509.1 167.2,509.9 167.7,510.8 168.2,511.8 168.7,512.7 169.2,513.7 169.7,514.6 170.2,515.6 170.7,516.6 171.2,517.7 171.7,518.8 172.2,520.0 172.7,521.4 173.2,522.8 173.7,524.3 174.2,525.9 174.7,527.7 175.2,529.9 175.7,533.0 176.2,537.3 176.7,542.6 177.2,548.9 177.7,556.1 178.2,564.2 178.7,573.1 179.2,582.9 179.7,593.4 180.2,604.6 180.7,616.4 181.2,628.9 181.7,641.9 182.2,655.4 182.7,669.4 183.2,683.8 183.7,698.5 184.2,713.5 184.7,728.9 185.2,744.4 185.7,760.1 186.2,775.9 186.7,791.8 187.2,807.7 187.7,823.6 188.2,839.5 188.7,855.2 189.2,870.7 189.7,886.0 190.2,901.0 190.7,915.8 191.2,930.1 191.7,944.1 192.2,957.6 192.7,970.6 193.2,983.0 193.7,994.9 194.2,1006.1 194.7,1016.5 195.2,1026.3 195.7,1035.2 196.2,1043.3 196.7,1050.5 197.2,1056.8 197.7,1062.1 198.2,1066.3 198.7,1069.4 199.2,1071.4 199.7,1072.3 200.2,1071.9 200.7,1070.3 201.2,1067.5 201.8,1063.6 202.3,1058.7 202.8,1052.7 203.3,1045.8 203.8,1037.9 204.3,1029.2 204.8,1019.7 205.3,1009.4 205.8,998.3 206.3,986.6 206.8,974.3 207.3,961.4 207.8,948.0 208.3,934.1 208.8,919.7 209.3,905.0 209.8,890.0 210.3,874.7 210.8,859.1 211.3,843.4 211.8,827.5 212.3,811.5 212.8,795.5 213.3,779.6 213.8,763.7 214.3,747.8 214.8,732.2 215.3,716.8 215.8,701.6 216.3,686.7 216.8,672.2 217.3,658.1 217.8,644.4 218.3,631.3 218.8,618.7 219.3,606.7 219.8,595.4 220.3,584.7 220.8,574.8 221.3,565.7 221.8,557.5 222.3,550.1 222.8,543.7 223.3,538.3 223.8,533.9 224.3,530.6 224.8,528.4 225.3,526.9 225.8,525.5 226.3,524.2 226.8,522.9 227.3,521.8 227.8,520.7 228.3,519.7 228.8,518.8 229.3,517.9 229.8,517.1 230.3,516.3 230.8,515.5 231.3,514.7 231.8,513.9 232.3,513.1 232.8,512.3 233.3,511.5 233.8,510.6 234.3,509.8 234.8,509.0 235.3,508.2 235.8,507.4 236.3,506.7 236.8,505.9 237.3,505.2 237.8,504.4 238.3,503.7 238.8,503.0 239.3,502.3 239.8,501.5 240.3,500.8 240.8,500.1 241.3,499.3 241.8,498.5 242.3,497.7 242.8,496.9 243.3,496.0 243.8,495.1 244.3,494.2 244.8,493.3 245.3,492.3 245.8,491.3 246.3,490.4 246.8,489.4 247.3,488.5 247.8,487.5 248.3,486.6 248.8,485.8 249.3,484.9 249.8,484.1 250.3,483.4 250.8,482.7 251.3,482.0 251.8,481.4 252.3,480.9 252.8,480.3 253.3,479.8 253.8,479.3 254.3,478.8 254.8,478.4 255.3,478.0 255.8,477.6 256.3,477.2" stroke="#111" stroke-width="1.25" fill="none" stroke-linejoin="round" />
</g>
<rect x="151.4" y="453.3" width="100" height="58.2" stroke="#333" stroke-width="0.9" fill="none" />
<path d="M151.7 511.5L151.7 510.1M160 511.5L160 509.1M168.3 511.5L168.3 510.1M176.6 511.5L176.6 509.1M184.9 511.5L184.9 510.1M193.2 511.5L193.2 509.1M201.5 511.5L201.5 510.1M209.8 511.5L209.8 509.1M218.1 511.5L218.1 510.1M226.4 511.5L226.4 509.1M234.7 511.5L234.7 510.1M243 511.5L243 509.1M251.3 511.5L251.3 510.1" stroke="#333" stroke-width="0.5"/>
<path d="M149 456.7L153.6 456.7" stroke="#333" stroke-width="0.6"/>
<text x="148.6" y="459.3" font-size="7.6" text-anchor="end" fill="#222" stroke="#222" stroke-width="0.18" >0.0</text>
<path d="M149 490.9L153.6 490.9" stroke="#333" stroke-width="0.6"/>
<text x="148.6" y="493.5" font-size="7.6" text-anchor="end" fill="#222" stroke="#222" stroke-width="0.18" >0.5</text>
<path d="M151.4 463.54L152.9 463.54M151.4 470.38L152.9 470.38M151.4 477.22L152.9 477.22M151.4 484.06L152.9 484.06M151.4 497.74L152.9 497.74M151.4 504.58L152.9 504.58M151.4 511.42L152.9 511.42" stroke="#333" stroke-width="0.5"/>
<text x="158.5" y="522.4" font-size="7.8" text-anchor="middle" fill="#222" stroke="#222" stroke-width="0.18" >-2</text>
<text x="193.2" y="522.4" font-size="7.8" text-anchor="middle" fill="#222" stroke="#222" stroke-width="0.18" >0</text>
<text x="226.4" y="522.4" font-size="7.8" text-anchor="middle" fill="#222" stroke="#222" stroke-width="0.18" >2</text>
<rect x="57" y="441.6" width="53.3" height="4.4" stroke="#f0365f" stroke-width="0.9" fill="none" />
<path d="M110.3 441.6L151 453.4M110.3 446L151 511" stroke="#f0365f" stroke-width="0.9"/>
<polygon points="151.4,453.5 146.8,450.6 147.6,454" fill="#f0365f" stroke="none" stroke-width="0" />
<polygon points="151.4,511.4 146.5,509.3 149.1,507.4" fill="#f0365f" stroke="none" stroke-width="0" />
<text x="268.3" y="221" font-size="16.5" text-anchor="start" fill="#111" stroke="#111" stroke-width="0.18" font-style="italic">e</text>
<text x="350" y="229.2" font-size="10.2" text-anchor="start" fill="#111" stroke="#111" stroke-width="0.3" textLength="43.9" lengthAdjust="spacingAndGlyphs">TOP VIEW</text>
<text x="471" y="229.2" font-size="10.2" text-anchor="start" fill="#111" stroke="#111" stroke-width="0.3" textLength="46.3" lengthAdjust="spacingAndGlyphs">SIDE VIEW</text>
<text x="588.4" y="229" font-size="10.2" text-anchor="start" fill="#111" stroke="#111" stroke-width="0.3" textLength="67.3" lengthAdjust="spacingAndGlyphs">Energy Scheme</text>
<text x="273.1" y="278.6" font-size="10.2" text-anchor="start" fill="#111" stroke="#111" stroke-width="0.3" textLength="40.9" lengthAdjust="spacingAndGlyphs">Doublet 1</text>
<text x="273.1" y="370.9" font-size="10.2" text-anchor="start" fill="#111" stroke="#111" stroke-width="0.3" textLength="40.9" lengthAdjust="spacingAndGlyphs">Doublet 2</text>
<text x="273.1" y="479.1" font-size="10.2" text-anchor="start" fill="#111" stroke="#111" stroke-width="0.3" textLength="40.9" lengthAdjust="spacingAndGlyphs">Doublet 3</text>
<path d="M368.93 265.36L364.25 260.24" stroke="#5ce63a" stroke-width="1.1"/>
<text x="362.1" y="260.3" font-size="7" text-anchor="middle" fill="#5ce63a" stroke="#5ce63a" stroke-width="0.25">N</text>
<path d="M374.78 265.36L379.46 260.24" stroke="#5ce63a" stroke-width="1.1"/>
<text x="381.6" y="260.3" font-size="7" text-anchor="middle" fill="#5ce63a" stroke="#5ce63a" stroke-width="0.25">N</text>
<path d="M368.93 271.75L364.25 276.86" stroke="#5ce63a" stroke-width="1.1"/>
<text x="362.1" y="281.6" font-size="7" text-anchor="middle" fill="#5ce63a" stroke="#5ce63a" stroke-width="0.25">N</text>
<path d="M374.78 271.75L379.46 276.86" stroke="#5ce63a" stroke-width="1.1"/>
<text x="381.6" y="281.6" font-size="7" text-anchor="middle" fill="#5ce63a" stroke="#5ce63a" stroke-width="0.25">N</text>
<path d="M362.6 255.1L364.0 246.8M364.0 246.8L355.1 241.6M355.1 241.6L348.1 250.3M348.1 250.3L351.4 258.3M351.4 258.3L359.4 258.0M381.1 255.1L379.7 246.8M379.7 246.8L388.6 241.6M388.6 241.6L395.6 250.3M395.6 250.3L392.3 258.3M392.3 258.3L384.3 258.0M362.6 282.0L364.0 290.3M364.0 290.3L355.1 295.5M355.1 295.5L348.1 286.8M348.1 286.8L351.4 278.8M351.4 278.8L359.4 279.1M381.1 282.0L379.7 290.3M379.7 290.3L388.6 295.5M388.6 295.5L395.6 286.8M395.6 286.8L392.3 278.8M392.3 278.8L384.3 279.1" stroke="#1e1e1e" stroke-width="1.2" fill="none"/>
<path d="M361.0 247.5L356.2 244.7M350.6 251.2L352.4 255.6M382.7 247.5L387.5 244.7M393.1 251.2L391.3 255.6M361.0 289.6L356.2 292.4M350.6 285.9L352.4 281.5M382.7 289.6L387.5 292.4M393.1 285.9L391.3 281.5" stroke="#1e1e1e" stroke-width="1" fill="none"/>
<polygon points="364,246.8 368.06,235.54 364.74,234.86" fill="#111" stroke="none" stroke-width="0" />
<polygon points="351.4,258.3 341.15,260.73 342.45,263.87" fill="#111" stroke="none" stroke-width="0" />
<polygon points="379.7,246.8 378.96,234.86 375.64,235.54" fill="#111" stroke="none" stroke-width="0" />
<polygon points="392.3,258.3 401.25,263.87 402.55,260.73" fill="#111" stroke="none" stroke-width="0" />
<polygon points="364,290.3 364.74,302.24 368.06,301.56" fill="#111" stroke="none" stroke-width="0" />
<polygon points="351.4,278.8 342.45,273.23 341.15,276.37" fill="#111" stroke="none" stroke-width="0" />
<polygon points="379.7,290.3 375.64,301.56 378.96,302.24" fill="#111" stroke="none" stroke-width="0" />
<polygon points="392.3,278.8 402.55,276.37 401.25,273.23" fill="#111" stroke="none" stroke-width="0" />
<text x="372.25" y="270.95" font-size="7" text-anchor="middle" fill="#5ce63a" stroke="#5ce63a" stroke-width="0.25">Fe</text>
<polygon points="339.6,314.7 356.4,312.9 356.4,316.5" fill="#111" stroke="none" stroke-width="0" />
<text x="361" y="317.2" font-size="7.5" text-anchor="middle" fill="#111" stroke="#111" stroke-width="0.18" >=</text>
<text x="368.6" y="313.4" font-size="5.2" text-anchor="start" fill="#222" stroke="#222" stroke-width="0.18" textLength="24.2" lengthAdjust="spacingAndGlyphs">Attached to</text>
<text x="368" y="319.3" font-size="5.2" text-anchor="start" fill="#222" stroke="#222" stroke-width="0.18" textLength="32.0" lengthAdjust="spacingAndGlyphs">carbon support</text>
<path d="M436.7 242.3L582.6 242.3M436.7 271L582.6 271M436.7 298.8L582.6 298.8" stroke="#6f7a7a" stroke-width="1.05"/>
<rect x="493.5" y="237.5" width="32.5" height="9.5" stroke="none" stroke-width="0" fill="#fff" />
<text x="494" y="245.4" font-size="9" text-anchor="start" fill="#48f024" stroke="#48f024" stroke-width="0.18" textLength="31.2" lengthAdjust="spacingAndGlyphs">N<tspan font-size="6" dy="2">2</tspan><tspan dy="-2">·</tspan>Fe<tspan dy="2" font-size="6">·2</tspan><tspan dy="-2">N</tspan></text>
<text x="611" y="248" font-size="9" text-anchor="start" fill="#111" stroke="#111" stroke-width="0.18" >d<tspan font-size="4.6" dy="2">x²-y²</tspan></text>
<path d="M641.3 247.4L659.3 247.4" stroke="#6f7a7a" stroke-width="0.9"/>
<text x="614.2" y="261.2" font-size="9" text-anchor="start" fill="#111" stroke="#111" stroke-width="0.18" >d<tspan font-size="4.6" dy="2">z²</tspan></text>
<path d="M641.3 258.9L659.3 258.9" stroke="#6f7a7a" stroke-width="0.9"/>
<text x="607" y="275.8" font-size="9" text-anchor="start" fill="#111" stroke="#111" stroke-width="0.18" >d<tspan font-size="4.6" dy="2">xz</tspan><tspan dy="-2">, d</tspan><tspan font-size="4.6" dy="2">yz</tspan></text>
<path d="M630 272.1L648 272.1M653.3 272.1L671.8 272.1" stroke="#6f7a7a" stroke-width="0.9"/>
<text x="614" y="290.8" font-size="9" text-anchor="start" fill="#111" stroke="#111" stroke-width="0.18" >d<tspan font-size="4.6" dy="2">xy</tspan></text>
<path d="M643 290.4L661.7 290.4" stroke="#6f7a7a" stroke-width="0.9"/>
<path d="M635.1 264.3L635.1 271.7" stroke="#44ee22" stroke-width="1.35"/>
<polygon points="633.4,270.3 636.8,270.3 635.1,273.7" fill="#44ee22" stroke="none" stroke-width="0" />
<path d="M640 273.3L640 265.7" stroke="#44ee22" stroke-width="1.35"/>
<polygon points="638.3,266.7 641.7,266.7 640,263.3" fill="#44ee22" stroke="none" stroke-width="0" />
<path d="M660.2 264.3L660.2 271.7" stroke="#44ee22" stroke-width="1.35"/>
<polygon points="658.5,270.3 661.9,270.3 660.2,273.7" fill="#44ee22" stroke="none" stroke-width="0" />
<path d="M665.1 273.3L665.1 265.7" stroke="#44ee22" stroke-width="1.35"/>
<polygon points="663.4,266.7 666.8,266.7 665.1,263.3" fill="#44ee22" stroke="none" stroke-width="0" />
<path d="M649.6 282.6L649.6 290" stroke="#44ee22" stroke-width="1.35"/>
<polygon points="647.9,288.6 651.3,288.6 649.6,292" fill="#44ee22" stroke="none" stroke-width="0" />
<path d="M654.6 291.6L654.6 284" stroke="#44ee22" stroke-width="1.35"/>
<polygon points="652.9,285 656.3,285 654.6,281.6" fill="#44ee22" stroke="none" stroke-width="0" />
<defs><clipPath id="ce1"><rect x="319.8" y="325" width="60" height="100"/></clipPath><clipPath id="ce2"><rect x="370" y="325" width="66" height="100"/></clipPath><clipPath id="ce3"><rect x="320.8" y="428" width="60" height="110"/></clipPath><clipPath id="ce4"><rect x="385" y="428" width="51" height="110"/></clipPath></defs>
<g clip-path="url(#ce1)">
<path d="M322.8 331.7L328.8 335.7M328.8 343.5L328.8 335.7M322.8 347.5L328.8 343.5M322.8 347.5L316.8 343.5M316.8 343.5L316.8 335.7M316.8 335.7L322.8 331.7M334.8 331.7L340.8 335.7M340.8 343.5L340.8 335.7M334.8 347.5L340.8 343.5M328.8 343.5L334.8 347.5M328.8 335.7L334.8 331.7M346.8 331.7L352.8 335.7M352.8 335.7L352.8 343.5M352.8 343.5L346.8 347.5M340.8 343.5L346.8 347.5M340.8 335.7L346.8 331.7M334.8 355.3L334.8 347.5M328.8 359.3L334.8 355.3M322.8 355.3L328.8 359.3M322.8 355.3L322.8 347.5M346.8 347.5L346.8 355.3M340.8 359.3L346.8 355.3M334.8 355.3L340.8 359.3M328.8 367.1L328.8 359.3M322.8 371.1L328.8 367.1M322.8 371.1L316.8 367.1M316.8 367.1L316.8 359.3M316.8 359.3L322.8 355.3M340.8 367.1L340.8 359.3M334.8 371.1L340.8 367.1M328.8 367.1L334.8 371.1M346.8 355.3L352.8 359.3M352.8 359.3L352.8 367.1M352.8 367.1L346.8 371.1M340.8 367.1L346.8 371.1M334.8 378.9L334.8 371.1M328.8 382.9L334.8 378.9M322.8 378.9L328.8 382.9M322.8 378.9L322.8 371.1M346.8 371.1L346.8 378.9M340.8 382.9L346.8 378.9M334.8 378.9L340.8 382.9M328.8 390.7L328.8 382.9M322.8 394.7L328.8 390.7M322.8 394.7L316.8 390.7M316.8 390.7L316.8 382.9M316.8 382.9L322.8 378.9M340.8 390.7L340.8 382.9M334.8 394.7L340.8 390.7M328.8 390.7L334.8 394.7M346.8 378.9L352.8 382.9M352.8 382.9L352.8 390.7M352.8 390.7L346.8 394.7M340.8 390.7L346.8 394.7M334.8 402.5L334.8 394.7M328.8 406.5L334.8 402.5M322.8 402.5L328.8 406.5M322.8 402.5L322.8 394.7M346.8 394.7L346.8 402.5M340.8 406.5L346.8 402.5M334.8 402.5L340.8 406.5M328.8 414.3L328.8 406.5M328.8 414.3L322.8 418.3M322.8 418.3L316.8 414.3M316.8 414.3L316.8 406.5M316.8 406.5L322.8 402.5M340.8 414.3L340.8 406.5M340.8 414.3L334.8 418.3M334.8 418.3L328.8 414.3M346.8 402.5L352.8 406.5M352.8 406.5L352.8 414.3M352.8 414.3L346.8 418.3M346.8 418.3L340.8 414.3" stroke="#3a3a3a" stroke-width="1.25" fill="none"/>
<path d="M323.3 334.2L326.6 336.5M322.3 345.0L319.0 342.7M334.3 345.0L331.0 342.7M350.6 342.7L347.3 345.0M343.0 336.5L346.3 334.2M332.6 354.5L329.3 356.8M345.1 349.2L345.1 353.6M336.5 353.6L336.5 349.2M327.1 361.0L327.1 365.4M335.3 357.8L338.6 360.1M334.3 368.6L331.0 366.3M346.3 368.6L343.0 366.3M332.6 378.1L329.3 380.4M325.0 371.9L328.3 369.6M344.6 378.1L341.3 380.4M327.1 384.6L327.1 389.0M318.5 389.0L318.5 384.6M339.1 384.6L339.1 389.0M347.3 381.4L350.6 383.7M346.3 392.2L343.0 389.9M328.3 404.0L325.0 401.7M344.6 401.7L341.3 404.0M337.0 395.5L340.3 393.2M326.6 413.5L323.3 415.8M339.1 408.2L339.1 412.6M330.5 412.6L330.5 408.2M351.1 408.2L351.1 412.6" stroke="#3a3a3a" stroke-width="1.25" fill="none"/>
</g>
<g clip-path="url(#ce2)">
<path d="M419.3 331.7L425.3 335.7M425.3 343.5L425.3 335.7M419.3 347.5L425.3 343.5M413.3 343.5L419.3 347.5M413.3 343.5L413.3 335.7M413.3 335.7L419.3 331.7M431.3 331.7L437.3 335.7M437.3 335.7L437.3 343.5M431.3 347.5L437.3 343.5M425.3 343.5L431.3 347.5M425.3 335.7L431.3 331.7M419.3 355.3L419.3 347.5M413.3 359.3L419.3 355.3M407.3 355.3L413.3 359.3M407.3 355.3L407.3 347.5M407.3 347.5L413.3 343.5M431.3 355.3L431.3 347.5M425.3 359.3L431.3 355.3M419.3 355.3L425.3 359.3M437.3 343.5L443.3 347.5M443.3 347.5L443.3 355.3M443.3 355.3L437.3 359.3M431.3 355.3L437.3 359.3M383.3 355.3L389.3 359.3M389.3 367.1L389.3 359.3M383.3 371.1L389.3 367.1M383.3 371.1L377.3 367.1M377.3 367.1L377.3 359.3M377.3 359.3L383.3 355.3M395.3 355.3L401.3 359.3M401.3 367.1L401.3 359.3M395.3 371.1L401.3 367.1M389.3 367.1L395.3 371.1M389.3 359.3L395.3 355.3M413.3 367.1L413.3 359.3M407.3 371.1L413.3 367.1M401.3 367.1L407.3 371.1M401.3 359.3L407.3 355.3M425.3 367.1L425.3 359.3M419.3 371.1L425.3 367.1M413.3 367.1L419.3 371.1M437.3 359.3L437.3 367.1M431.3 371.1L437.3 367.1M425.3 367.1L431.3 371.1M395.3 378.9L395.3 371.1M389.3 382.9L395.3 378.9M383.3 378.9L389.3 382.9M383.3 378.9L383.3 371.1M407.3 378.9L407.3 371.1M401.3 382.9L407.3 378.9M395.3 378.9L401.3 382.9M419.3 378.9L419.3 371.1M413.3 382.9L419.3 378.9M407.3 378.9L413.3 382.9M431.3 378.9L431.3 371.1M425.3 382.9L431.3 378.9M419.3 378.9L425.3 382.9M437.3 367.1L443.3 371.1M443.3 371.1L443.3 378.9M443.3 378.9L437.3 382.9M431.3 378.9L437.3 382.9M389.3 390.7L389.3 382.9M389.3 390.7L383.3 394.7M383.3 394.7L377.3 390.7M377.3 390.7L377.3 382.9M377.3 382.9L383.3 378.9M401.3 390.7L401.3 382.9M401.3 390.7L395.3 394.7M395.3 394.7L389.3 390.7M413.3 390.7L413.3 382.9M407.3 394.7L413.3 390.7M407.3 394.7L401.3 390.7M425.3 390.7L425.3 382.9M419.3 394.7L425.3 390.7M413.3 390.7L419.3 394.7M437.3 382.9L437.3 390.7M431.3 394.7L437.3 390.7M425.3 390.7L431.3 394.7M419.3 402.5L419.3 394.7M413.3 406.5L419.3 402.5M413.3 406.5L407.3 402.5M407.3 402.5L407.3 394.7M431.3 402.5L431.3 394.7M425.3 406.5L431.3 402.5M419.3 402.5L425.3 406.5M437.3 390.7L443.3 394.7M443.3 394.7L443.3 402.5M443.3 402.5L437.3 406.5M431.3 402.5L437.3 406.5M425.3 414.3L425.3 406.5M425.3 414.3L419.3 418.3M419.3 418.3L413.3 414.3M413.3 414.3L413.3 406.5M437.3 406.5L437.3 414.3M437.3 414.3L431.3 418.3M431.3 418.3L425.3 414.3" stroke="#3a3a3a" stroke-width="1.25" fill="none"/>
<path d="M419.8 334.2L423.1 336.5M418.8 345.0L415.5 342.7M430.8 345.0L427.5 342.7M417.1 354.5L413.8 356.8M409.5 348.3L412.8 346.0M429.1 354.5L425.8 356.8M441.6 349.2L441.6 353.6M433.0 353.6L433.0 349.2M387.6 361.0L387.6 365.4M395.8 357.8L399.1 360.1M394.8 368.6L391.5 366.3M406.8 368.6L403.5 366.3M423.1 366.3L419.8 368.6M415.5 360.1L418.8 357.8M435.1 366.3L431.8 368.6M393.6 372.8L393.6 377.2M385.0 377.2L385.0 372.8M405.6 372.8L405.6 377.2M413.8 369.6L417.1 371.9M412.8 380.4L409.5 378.1M424.8 380.4L421.5 378.1M441.1 378.1L437.8 380.4M433.5 371.9L436.8 369.6M387.1 389.9L383.8 392.2M399.6 384.6L399.6 389.0M391.0 389.0L391.0 384.6M411.6 384.6L411.6 389.0M419.8 381.4L423.1 383.7M418.8 392.2L415.5 389.9M430.8 392.2L427.5 389.9M417.1 401.7L413.8 404.0M409.5 395.5L412.8 393.2M429.1 401.7L425.8 404.0M441.6 396.4L441.6 400.8M433.0 400.8L433.0 396.4M423.6 408.2L423.6 412.6M431.8 405.0L435.1 407.3M430.8 415.8L427.5 413.5" stroke="#3a3a3a" stroke-width="1.25" fill="none"/>
</g>
<rect x="350.2" y="362.4" width="5.2" height="6.4" stroke="none" stroke-width="0" fill="#fff" />
<path d="M360.64 372.94L355.49 368.25" stroke="#2a2a8c" stroke-width="1.1"/>
<text x="352.8" y="368.4" font-size="7.2" text-anchor="middle" fill="#2a2a8c" stroke="#2a2a8c" stroke-width="0.18" >N</text>
<rect x="350.2" y="379.4" width="5.2" height="6.4" stroke="none" stroke-width="0" fill="#fff" />
<path d="M360.64 378.04L355.49 381.17" stroke="#2a2a8c" stroke-width="1.1"/>
<text x="352.8" y="385.4" font-size="7.2" text-anchor="middle" fill="#2a2a8c" stroke="#2a2a8c" stroke-width="0.18" >N</text>
<rect x="374.7" y="362.4" width="5.2" height="6.4" stroke="none" stroke-width="0" fill="#fff" />
<path d="M367.99 372.94L374.11 368.25" stroke="#2a2a8c" stroke-width="1.1"/>
<text x="377.3" y="368.4" font-size="7.2" text-anchor="middle" fill="#2a2a8c" stroke="#2a2a8c" stroke-width="0.18" >N</text>
<rect x="374.7" y="379.4" width="5.2" height="6.4" stroke="none" stroke-width="0" fill="#fff" />
<path d="M367.99 378.04L374.11 381.17" stroke="#2a2a8c" stroke-width="1.1"/>
<text x="377.3" y="385.4" font-size="7.2" text-anchor="middle" fill="#2a2a8c" stroke="#2a2a8c" stroke-width="0.18" >N</text>
<text x="364" y="378.6" font-size="7.2" text-anchor="middle" fill="#2a2a8c" stroke="#2a2a8c" stroke-width="0.18" >Fe</text>
<path d="M356.9 338.2L411 338.2" stroke="#333" stroke-width="0.9"/>
<polygon points="356,338.2 359.5,336.8 359.5,339.6" fill="#333" stroke="none" stroke-width="0" />
<polygon points="412,338.2 408.5,336.8 408.5,339.6" fill="#333" stroke="none" stroke-width="0" />
<rect x="367.5" y="330.4" width="33" height="6.5" stroke="none" stroke-width="0" fill="#fff" />
<text x="368.5" y="336.3" font-size="7.2" text-anchor="start" fill="#222" stroke="#222" stroke-width="0.18" textLength="31.3" lengthAdjust="spacingAndGlyphs">about 13Å</text>
<text x="367.1" y="410.3" font-size="7.6" text-anchor="start" fill="#26267a" stroke="#26267a" stroke-width="0.18" textLength="30.7" lengthAdjust="spacingAndGlyphs">Micropore</text>
<rect x="324" y="352.5" width="7.2" height="41" stroke="none" stroke-width="0" fill="#fff" />
<text x="330.2" y="373" font-size="7.4" text-anchor="middle" fill="#222" stroke="#222" stroke-width="0.18" transform="rotate(-90 330.2 373)" textLength="40.5" lengthAdjust="spacingAndGlyphs">Crystallite 1</text>
<rect x="424" y="352.5" width="7.2" height="41" stroke="none" stroke-width="0" fill="#fff" />
<text x="430.2" y="373" font-size="7.4" text-anchor="middle" fill="#222" stroke="#222" stroke-width="0.18" transform="rotate(-90 430.2 373)" textLength="40.5" lengthAdjust="spacingAndGlyphs">Crystallite 2</text>
<path d="M342.6 422.1L353.4 422.1" stroke="#333" stroke-width="0.8"/>
<polygon points="341.8,422.1 344.6,421.1 344.6,423.1" fill="#333" stroke="none" stroke-width="0" />
<polygon points="354.2,422.1 351.4,421.1 351.4,423.1" fill="#333" stroke="none" stroke-width="0" />
<text x="355.8" y="424.9" font-size="7.4" text-anchor="start" fill="#222" stroke="#222" stroke-width="0.18" textLength="18.7" lengthAdjust="spacingAndGlyphs">2.46Å</text>
<path d="M444.4 344.8L456 344.8" stroke="#6f7a7a" stroke-width="1.05"/>
<text x="456.2" y="347.8" font-size="8.4" text-anchor="start" fill="#2a2a8c" stroke="#2a2a8c" stroke-width="0.18" >N</text>
<path d="M569.7 344.8L586.3 344.8M444.4 374.6L455.4 374.6M486.8 374.6L586.3 374.6" stroke="#6f7a7a" stroke-width="1.05"/>
<text x="455.6" y="377.7" font-size="8.4" text-anchor="start" fill="#2a2a8c" stroke="#2a2a8c" stroke-width="0.18" textLength="30.8" lengthAdjust="spacingAndGlyphs">N<tspan font-size="5.6" dy="2">2</tspan><tspan dy="-2">·</tspan>Fe<tspan dy="2" font-size="5.6">·2</tspan><tspan dy="-2">N</tspan></text>
<path d="M444.4 404.9L472.2 404.9" stroke="#6f7a7a" stroke-width="1.05"/>
<text x="472" y="408" font-size="8.4" text-anchor="start" fill="#2a2a8c" stroke="#2a2a8c" stroke-width="0.18" >N</text>
<path d="M569 404.9L586.3 404.9" stroke="#6f7a7a" stroke-width="1.05"/>
<text x="612.3" y="354.6" font-size="9" text-anchor="start" fill="#111" stroke="#111" stroke-width="0.18" >d<tspan font-size="4.6" dy="2">x²-y²</tspan></text>
<path d="M646.2 351.8L664.1 351.8" stroke="#6f7a7a" stroke-width="0.9"/>
<text x="607.7" y="370.3" font-size="9" text-anchor="start" fill="#111" stroke="#111" stroke-width="0.18" >d<tspan font-size="4.6" dy="2">xz</tspan><tspan dy="-2">, d</tspan><tspan font-size="4.6" dy="2">yz</tspan></text>
<path d="M635.1 366L651.2 366M658.2 366L674.6 366" stroke="#6f7a7a" stroke-width="0.9"/>
<path d="M642.5 367.2L642.5 359.6" stroke="#2222cc" stroke-width="1.35"/>
<polygon points="640.8,360.6 644.2,360.6 642.5,357.2" fill="#2222cc" stroke="none" stroke-width="0" />
<path d="M666.3 367.2L666.3 359.6" stroke="#2222cc" stroke-width="1.35"/>
<polygon points="664.6,360.6 668,360.6 666.3,357.2" fill="#2222cc" stroke="none" stroke-width="0" />
<text x="616" y="385.6" font-size="9" text-anchor="start" fill="#111" stroke="#111" stroke-width="0.18" >d<tspan font-size="4.6" dy="2">z²</tspan></text>
<path d="M648.4 383.6L666.5 383.6" stroke="#6f7a7a" stroke-width="0.9"/>
<path d="M654.5 375.8L654.5 383.2" stroke="#2222cc" stroke-width="1.35"/>
<polygon points="652.8,381.8 656.2,381.8 654.5,385.2" fill="#2222cc" stroke="none" stroke-width="0" />
<path d="M659.5 384.8L659.5 377.2" stroke="#2222cc" stroke-width="1.35"/>
<polygon points="657.8,378.2 661.2,378.2 659.5,374.8" fill="#2222cc" stroke="none" stroke-width="0" />
<text x="616" y="401.4" font-size="9" text-anchor="start" fill="#111" stroke="#111" stroke-width="0.18" >d<tspan font-size="4.6" dy="2">xy</tspan></text>
<path d="M648.4 399L666.5 399" stroke="#6f7a7a" stroke-width="0.9"/>
<path d="M654.5 391.2L654.5 398.6" stroke="#2222cc" stroke-width="1.35"/>
<polygon points="652.8,397.2 656.2,397.2 654.5,400.6" fill="#2222cc" stroke="none" stroke-width="0" />
<path d="M659.5 400.2L659.5 392.6" stroke="#2222cc" stroke-width="1.35"/>
<polygon points="657.8,393.6 661.2,393.6 659.5,390.2" fill="#2222cc" stroke="none" stroke-width="0" />
<g clip-path="url(#ce3)">
<path d="M319.4 433.1L325.4 437.1M325.4 444.9L325.4 437.1M319.4 448.9L325.4 444.9M319.4 448.9L313.4 444.9M313.4 444.9L313.4 437.1M313.4 437.1L319.4 433.1M331.4 433.1L337.4 437.1M337.4 444.9L337.4 437.1M331.4 448.9L337.4 444.9M325.4 444.9L331.4 448.9M325.4 437.1L331.4 433.1M343.4 433.1L349.4 437.1M349.4 437.1L349.4 444.9M343.4 448.9L349.4 444.9M337.4 444.9L343.4 448.9M337.4 437.1L343.4 433.1M331.4 456.7L331.4 448.9M325.4 460.7L331.4 456.7M319.4 456.7L325.4 460.7M319.4 456.7L319.4 448.9M343.4 456.7L343.4 448.9M337.4 460.7L343.4 456.7M331.4 456.7L337.4 460.7M349.4 444.9L355.4 448.9M355.4 448.9L355.4 456.7M355.4 456.7L349.4 460.7M343.4 456.7L349.4 460.7M325.4 468.5L325.4 460.7M319.4 472.5L325.4 468.5M319.4 472.5L313.4 468.5M313.4 468.5L313.4 460.7M313.4 460.7L319.4 456.7M337.4 468.5L337.4 460.7M331.4 472.5L337.4 468.5M325.4 468.5L331.4 472.5M349.4 460.7L349.4 468.5M343.4 472.5L349.4 468.5M337.4 468.5L343.4 472.5M331.4 480.3L331.4 472.5M325.4 484.3L331.4 480.3M319.4 480.3L325.4 484.3M319.4 480.3L319.4 472.5M343.4 480.3L343.4 472.5M337.4 484.3L343.4 480.3M331.4 480.3L337.4 484.3M349.4 468.5L355.4 472.5M355.4 480.3L355.4 472.5M349.4 484.3L355.4 480.3M343.4 480.3L349.4 484.3M361.4 468.5L367.4 472.5M367.4 472.5L367.4 480.3M367.4 480.3L361.4 484.3M355.4 480.3L361.4 484.3M355.4 472.5L361.4 468.5M325.4 492.1L325.4 484.3M319.4 496.1L325.4 492.1M319.4 496.1L313.4 492.1M313.4 492.1L313.4 484.3M313.4 484.3L319.4 480.3M337.4 492.1L337.4 484.3M331.4 496.1L337.4 492.1M325.4 492.1L331.4 496.1M349.4 492.1L349.4 484.3M343.4 496.1L349.4 492.1M337.4 492.1L343.4 496.1M361.4 484.3L361.4 492.1M355.4 496.1L361.4 492.1M349.4 492.1L355.4 496.1M331.4 503.9L331.4 496.1M325.4 507.9L331.4 503.9M319.4 503.9L325.4 507.9M319.4 503.9L319.4 496.1M343.4 503.9L343.4 496.1M337.4 507.9L343.4 503.9M331.4 503.9L337.4 507.9M355.4 503.9L355.4 496.1M355.4 503.9L349.4 507.9M343.4 503.9L349.4 507.9M361.4 492.1L367.4 496.1M367.4 496.1L367.4 503.9M367.4 503.9L361.4 507.9M361.4 507.9L355.4 503.9M325.4 515.7L325.4 507.9M319.4 519.7L325.4 515.7M319.4 519.7L313.4 515.7M313.4 515.7L313.4 507.9M313.4 507.9L319.4 503.9M337.4 515.7L337.4 507.9M331.4 519.7L337.4 515.7M325.4 515.7L331.4 519.7M349.4 507.9L349.4 515.7M349.4 515.7L343.4 519.7M337.4 515.7L343.4 519.7M331.4 527.5L331.4 519.7M331.4 527.5L325.4 531.5M325.4 531.5L319.4 527.5M319.4 527.5L319.4 519.7M343.4 519.7L343.4 527.5M343.4 527.5L337.4 531.5M337.4 531.5L331.4 527.5" stroke="#3a3a3a" stroke-width="1.25" fill="none"/>
<path d="M319.9 435.6L323.2 437.9M318.9 446.4L315.6 444.1M330.9 446.4L327.6 444.1M347.2 444.1L343.9 446.4M339.6 437.9L342.9 435.6M329.2 455.9L325.9 458.2M341.7 450.6L341.7 455.0M333.1 455.0L333.1 450.6M353.7 450.6L353.7 455.0M319.9 459.2L323.2 461.5M318.9 470.0L315.6 467.7M330.9 470.0L327.6 467.7M347.2 467.7L343.9 470.0M339.6 461.5L342.9 459.2M329.2 479.5L325.9 481.8M341.7 474.2L341.7 478.6M333.1 478.6L333.1 474.2M353.7 474.2L353.7 478.6M361.9 471.0L365.2 473.3M360.9 481.8L357.6 479.5M318.9 493.6L315.6 491.3M335.2 491.3L331.9 493.6M327.6 485.1L330.9 482.8M347.2 491.3L343.9 493.6M359.7 486.0L359.7 490.4M351.1 490.4L351.1 486.0M329.7 497.8L329.7 502.2M337.9 494.6L341.2 496.9M336.9 505.4L333.6 503.1M348.9 505.4L345.6 503.1M365.2 503.1L361.9 505.4M357.6 496.9L360.9 494.6M323.2 514.9L319.9 517.2M335.7 509.6L335.7 514.0M327.1 514.0L327.1 509.6M347.7 509.6L347.7 514.0M325.9 518.2L329.2 520.5M324.9 529.0L321.6 526.7M336.9 529.0L333.6 526.7" stroke="#3a3a3a" stroke-width="1.25" fill="none"/>
</g>
<g clip-path="url(#ce4)">
<path d="M415.4 433.1L421.4 437.1M421.4 444.9L421.4 437.1M415.4 448.9L421.4 444.9M409.4 444.9L415.4 448.9M409.4 444.9L409.4 437.1M409.4 437.1L415.4 433.1M427.4 433.1L433.4 437.1M433.4 444.9L433.4 437.1M427.4 448.9L433.4 444.9M421.4 444.9L427.4 448.9M421.4 437.1L427.4 433.1M439.4 433.1L445.4 437.1M445.4 437.1L445.4 444.9M445.4 444.9L439.4 448.9M433.4 444.9L439.4 448.9M433.4 437.1L439.4 433.1M415.4 456.7L415.4 448.9M409.4 460.7L415.4 456.7M409.4 460.7L403.4 456.7M403.4 456.7L403.4 448.9M403.4 448.9L409.4 444.9M427.4 456.7L427.4 448.9M421.4 460.7L427.4 456.7M415.4 456.7L421.4 460.7M439.4 448.9L439.4 456.7M433.4 460.7L439.4 456.7M427.4 456.7L433.4 460.7M421.4 468.5L421.4 460.7M415.4 472.5L421.4 468.5M409.4 468.5L415.4 472.5M409.4 468.5L409.4 460.7M433.4 468.5L433.4 460.7M427.4 472.5L433.4 468.5M421.4 468.5L427.4 472.5M439.4 456.7L445.4 460.7M445.4 460.7L445.4 468.5M445.4 468.5L439.4 472.5M433.4 468.5L439.4 472.5M397.4 468.5L403.4 472.5M403.4 480.3L403.4 472.5M397.4 484.3L403.4 480.3M397.4 484.3L391.4 480.3M391.4 480.3L391.4 472.5M391.4 472.5L397.4 468.5M415.4 480.3L415.4 472.5M409.4 484.3L415.4 480.3M403.4 480.3L409.4 484.3M403.4 472.5L409.4 468.5M427.4 480.3L427.4 472.5M421.4 484.3L427.4 480.3M415.4 480.3L421.4 484.3M439.4 472.5L439.4 480.3M433.4 484.3L439.4 480.3M427.4 480.3L433.4 484.3M409.4 492.1L409.4 484.3M403.4 496.1L409.4 492.1M397.4 492.1L403.4 496.1M397.4 492.1L397.4 484.3M421.4 492.1L421.4 484.3M415.4 496.1L421.4 492.1M409.4 492.1L415.4 496.1M433.4 492.1L433.4 484.3M427.4 496.1L433.4 492.1M421.4 492.1L427.4 496.1M439.4 480.3L445.4 484.3M445.4 484.3L445.4 492.1M445.4 492.1L439.4 496.1M433.4 492.1L439.4 496.1M403.4 503.9L403.4 496.1M403.4 503.9L397.4 507.9M397.4 507.9L391.4 503.9M391.4 503.9L391.4 496.1M391.4 496.1L397.4 492.1M415.4 503.9L415.4 496.1M409.4 507.9L415.4 503.9M409.4 507.9L403.4 503.9M427.4 503.9L427.4 496.1M421.4 507.9L427.4 503.9M415.4 503.9L421.4 507.9M439.4 496.1L439.4 503.9M433.4 507.9L439.4 503.9M427.4 503.9L433.4 507.9M421.4 515.7L421.4 507.9M415.4 519.7L421.4 515.7M409.4 515.7L415.4 519.7M409.4 515.7L409.4 507.9M433.4 515.7L433.4 507.9M427.4 519.7L433.4 515.7M421.4 515.7L427.4 519.7M439.4 503.9L445.4 507.9M445.4 507.9L445.4 515.7M445.4 515.7L439.4 519.7M433.4 515.7L439.4 519.7M415.4 527.5L415.4 519.7M415.4 527.5L409.4 531.5M409.4 531.5L403.4 527.5M403.4 527.5L403.4 519.7M403.4 519.7L409.4 515.7M427.4 527.5L427.4 519.7M427.4 527.5L421.4 531.5M421.4 531.5L415.4 527.5M439.4 519.7L439.4 527.5M439.4 527.5L433.4 531.5M433.4 531.5L427.4 527.5" stroke="#3a3a3a" stroke-width="1.25" fill="none"/>
<path d="M415.9 435.6L419.2 437.9M414.9 446.4L411.6 444.1M426.9 446.4L423.6 444.1M443.2 444.1L439.9 446.4M435.6 437.9L438.9 435.6M413.2 455.9L409.9 458.2M425.7 450.6L425.7 455.0M417.1 455.0L417.1 450.6M437.7 450.6L437.7 455.0M415.9 459.2L419.2 461.5M414.9 470.0L411.6 467.7M426.9 470.0L423.6 467.7M443.2 467.7L439.9 470.0M435.6 461.5L438.9 459.2M401.2 479.5L397.9 481.8M413.7 474.2L413.7 478.6M405.1 478.6L405.1 474.2M425.7 474.2L425.7 478.6M433.9 471.0L437.2 473.3M432.9 481.8L429.6 479.5M402.9 493.6L399.6 491.3M419.2 491.3L415.9 493.6M411.6 485.1L414.9 482.8M431.2 491.3L427.9 493.6M443.7 486.0L443.7 490.4M435.1 490.4L435.1 486.0M401.7 497.8L401.7 502.2M409.9 494.6L413.2 496.9M408.9 505.4L405.6 503.1M420.9 505.4L417.6 503.1M437.2 503.1L433.9 505.4M429.6 496.9L432.9 494.6M419.2 514.9L415.9 517.2M431.7 509.6L431.7 514.0M423.1 514.0L423.1 509.6M443.7 509.6L443.7 514.0M409.9 518.2L413.2 520.5M408.9 529.0L405.6 526.7M420.9 529.0L417.6 526.7M437.2 526.7L433.9 529.0M429.6 520.5L432.9 518.2" stroke="#3a3a3a" stroke-width="1.25" fill="none"/>
</g>
<rect x="364.8" y="475.9" width="5.2" height="6.4" stroke="none" stroke-width="0" fill="#fff" />
<line x1="374.54" y1="485.74" x2="370.05" y2="481.69" stroke="#e255e6" stroke-width="1.7" stroke-dasharray="3.2 0.9"/>
<text x="367.4" y="482.1" font-size="7.8" text-anchor="middle" fill="#e255e6" stroke="#e255e6" stroke-width="0.18" >N</text>
<rect x="364.8" y="492.3" width="5.2" height="6.4" stroke="none" stroke-width="0" fill="#fff" />
<line x1="374.54" y1="490.66" x2="370.05" y2="493.83" stroke="#e255e6" stroke-width="1.7" stroke-dasharray="3.2 0.9"/>
<text x="367.4" y="498.5" font-size="7.8" text-anchor="middle" fill="#e255e6" stroke="#e255e6" stroke-width="0.18" >N</text>
<rect x="388.8" y="475.9" width="5.2" height="6.4" stroke="none" stroke-width="0" fill="#fff" />
<line x1="381.74" y1="485.74" x2="387.81" y2="481.69" stroke="#e255e6" stroke-width="1.7" stroke-dasharray="3.2 0.9"/>
<text x="391.4" y="482.1" font-size="7.8" text-anchor="middle" fill="#e255e6" stroke="#e255e6" stroke-width="0.18" >N</text>
<rect x="388.8" y="492.3" width="5.2" height="6.4" stroke="none" stroke-width="0" fill="#fff" />
<line x1="381.74" y1="490.66" x2="387.81" y2="493.83" stroke="#e255e6" stroke-width="1.7" stroke-dasharray="3.2 0.9"/>
<text x="391.4" y="498.5" font-size="7.8" text-anchor="middle" fill="#e255e6" stroke="#e255e6" stroke-width="0.18" >N</text>
<text x="377.6" y="491.3" font-size="7.8" text-anchor="middle" fill="#e255e6" stroke="#e255e6" stroke-width="0.18" >Fe</text>
<path d="M352 441.7L405.3 441.7" stroke="#333" stroke-width="0.9"/>
<polygon points="351,441.7 354.5,440.3 354.5,443.1" fill="#333" stroke="none" stroke-width="0" />
<polygon points="406.3,441.7 402.8,440.3 402.8,443.1" fill="#333" stroke="none" stroke-width="0" />
<rect x="362" y="433.8" width="34" height="6.5" stroke="none" stroke-width="0" fill="#fff" />
<text x="363.2" y="439.8" font-size="7.2" text-anchor="start" fill="#222" stroke="#222" stroke-width="0.18" textLength="31.8" lengthAdjust="spacingAndGlyphs">about 13Å</text>
<text x="368" y="522.9" font-size="7.6" text-anchor="start" fill="#222" stroke="#222" stroke-width="0.18" textLength="30.1" lengthAdjust="spacingAndGlyphs">Micropore</text>
<rect x="325.8" y="465" width="7.2" height="45" stroke="none" stroke-width="0" fill="#fff" />
<text x="332" y="487.5" font-size="7.4" text-anchor="middle" fill="#222" stroke="#222" stroke-width="0.18" transform="rotate(-90 332 487.5)" textLength="43" lengthAdjust="spacingAndGlyphs">Crystallite 1</text>
<rect x="424.3" y="465" width="7.2" height="45" stroke="none" stroke-width="0" fill="#fff" />
<text x="430.5" y="487.5" font-size="7.4" text-anchor="middle" fill="#222" stroke="#222" stroke-width="0.18" transform="rotate(-90 430.5 487.5)" textLength="43" lengthAdjust="spacingAndGlyphs">Crystallite 2</text>
<path d="M332 534.3L343.5 534.3" stroke="#333" stroke-width="0.8"/>
<polygon points="331,534.3 333.8,533.3 333.8,535.3" fill="#333" stroke="none" stroke-width="0" />
<polygon points="344.5,534.3 341.7,533.3 341.7,535.3" fill="#333" stroke="none" stroke-width="0" />
<text x="345" y="537.4" font-size="7.4" text-anchor="start" fill="#222" stroke="#222" stroke-width="0.18" textLength="19.3" lengthAdjust="spacingAndGlyphs">2.46Å</text>
<path d="M449.1 444.9L452.5 444.9" stroke="#6f7a7a" stroke-width="1.05"/>
<text x="452.8" y="447.9" font-size="8.4" text-anchor="start" fill="#e255e6" stroke="#e255e6" stroke-width="0.18" >N<tspan font-size="5.4" dy="2">Prot</tspan></text>
<path d="M564 444.9L588.8 444.9M449.1 474.7L503.2 474.7M533 474.7L588.8 474.7" stroke="#6f7a7a" stroke-width="1.05"/>
<text x="506.4" y="477.6" font-size="7.6" text-anchor="middle" fill="#e255e6" stroke="#e255e6" stroke-width="0.18" >N</text>
<text x="530.4" y="477.6" font-size="7.6" text-anchor="middle" fill="#e255e6" stroke="#e255e6" stroke-width="0.18" >N</text>
<text x="516" y="483.8" font-size="7.6" text-anchor="middle" fill="#e255e6" stroke="#e255e6" stroke-width="0.18" >Fe</text>
<text x="518" y="497.6" font-size="7.6" text-anchor="middle" fill="#e255e6" stroke="#e255e6" stroke-width="0.18" >N</text>
<line x1="509.5" y1="476.5" x2="512.5" y2="479" stroke="#444" stroke-width="0.7" stroke-dasharray="0.8 0.7"/>
<line x1="520.5" y1="479" x2="526.5" y2="476.5" stroke="#444" stroke-width="0.7" stroke-dasharray="0.8 0.7"/>
<line x1="517.5" y1="484.5" x2="517.5" y2="491.5" stroke="#444" stroke-width="0.7" stroke-dasharray="0.8 0.7"/>
<path d="M449.1 503.7L475.9 503.7M564 503.7L588.8 503.7" stroke="#6f7a7a" stroke-width="1.05"/>
<path d="M489.6 497.5L489.6 510.6M518.6 497.5L518.6 510.6M547.1 497.5L547.1 510.6" stroke="#6f7a7a" stroke-width="0.9"/>
<text x="614.9" y="458" font-size="9" text-anchor="start" fill="#111" stroke="#111" stroke-width="0.18" >d<tspan font-size="4.6" dy="2">x²-y²</tspan></text>
<path d="M648.3 457.1L664.5 457.1" stroke="#6f7a7a" stroke-width="0.9"/>
<path d="M655.5 458.3L655.5 450.7" stroke="#e255e6" stroke-width="1.35"/>
<polygon points="653.8,451.7 657.2,451.7 655.5,448.3" fill="#e255e6" stroke="none" stroke-width="0" />
<text x="619" y="473.4" font-size="9" text-anchor="start" fill="#111" stroke="#111" stroke-width="0.18" >d<tspan font-size="4.6" dy="2">z²</tspan></text>
<path d="M648.3 473.1L664.5 473.1" stroke="#6f7a7a" stroke-width="0.9"/>
<path d="M655.5 474.3L655.5 466.7" stroke="#e255e6" stroke-width="1.35"/>
<polygon points="653.8,467.7 657.2,467.7 655.5,464.3" fill="#e255e6" stroke="none" stroke-width="0" />
<text x="610.4" y="489.4" font-size="9" text-anchor="start" fill="#111" stroke="#111" stroke-width="0.18" >d<tspan font-size="4.6" dy="2">xz</tspan><tspan dy="-2">, d</tspan><tspan font-size="4.6" dy="2">yz</tspan></text>
<path d="M635.4 488.4L651.2 488.4" stroke="#6f7a7a" stroke-width="0.9"/>
<path d="M642.5 489.6L642.5 482" stroke="#e255e6" stroke-width="1.35"/>
<polygon points="640.8,483 644.2,483 642.5,479.6" fill="#e255e6" stroke="none" stroke-width="0" />
<path d="M658.3 488.4L674.7 488.4" stroke="#6f7a7a" stroke-width="0.9"/>
<path d="M666.1 489.6L666.1 482" stroke="#e255e6" stroke-width="1.35"/>
<polygon points="664.4,483 667.8,483 666.1,479.6" fill="#e255e6" stroke="none" stroke-width="0" />
<text x="618.5" y="504.6" font-size="9" text-anchor="start" fill="#111" stroke="#111" stroke-width="0.18" >d<tspan font-size="4.6" dy="2">xy</tspan></text>
<path d="M648.3 503.2L664.5 503.2" stroke="#6f7a7a" stroke-width="0.9"/>
<path d="M654.2 495.4L654.2 502.8" stroke="#e255e6" stroke-width="1.35"/>
<polygon points="652.5,501.4 655.9,501.4 654.2,504.8" fill="#e255e6" stroke="none" stroke-width="0" />
<path d="M659.6 504.4L659.6 496.8" stroke="#e255e6" stroke-width="1.35"/>
<polygon points="657.9,497.8 661.3,497.8 659.6,494.4" fill="#e255e6" stroke="none" stroke-width="0" />
</svg></body></html>
